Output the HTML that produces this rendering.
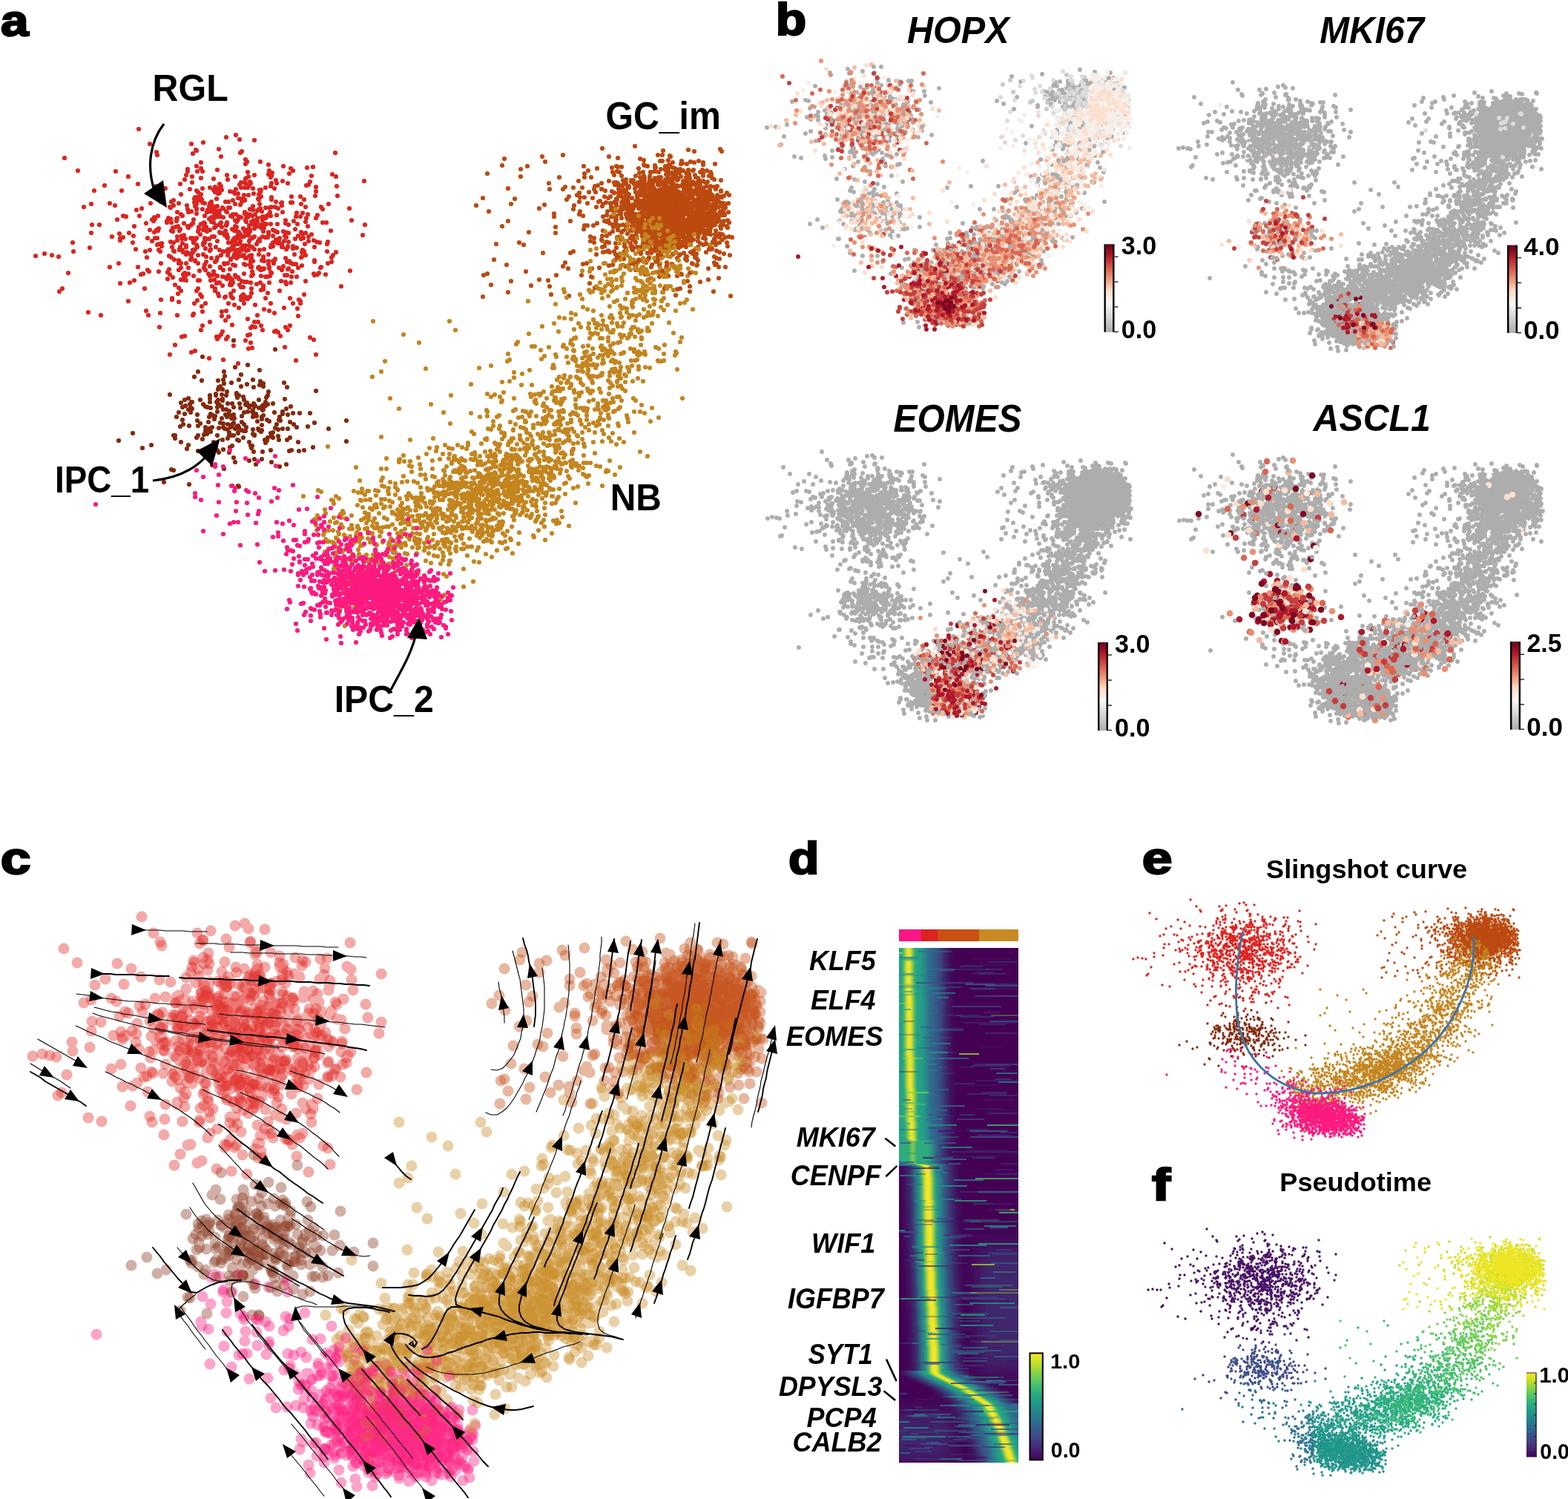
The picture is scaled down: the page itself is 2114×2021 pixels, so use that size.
<!DOCTYPE html><html><head><meta charset="utf-8"><title>Figure</title><style>html,body{margin:0;padding:0;background:#fff;width:2114px;height:2021px;overflow:hidden}svg{display:block}</style></head><body><svg width="2114" height="2021" viewBox="0 0 2114 2021"><g fill="none" stroke-linecap="round"><path stroke="#dc2420" stroke-width="6.2" d="M187 174zm131 8zm-13 3zm-103 9zm56 0zm16-2zm49-4zm20 1zm109 17zm-126-2zm-2 2zm-29-5zm-30 2zm-1-1zm-4 5zm-48 2zm-1-4zm-124 8zm184 6zm27-8zm33 4zm0 6zm2-3zm18 0zm71 7zm-8 1zm-19 4zm-3-3zm-10-3zm-15 9zm-4-3zm-1-8zm-28 10zm-41-3zm-20 2zm-2-4zm-5 4zm-1-7zm-12 7zm0-3zm-97 3zm-51-1zm68 8zm76 4zm2-6zm8 2zm12 2zm17 1zm18-5zm1 6zm10-4zm8 8zm6-5zm1-1zm3-2zm2 7zm6-9zm19-1zm3 4zm1-2zm6 6zm9 1zm9-10zm28 11zm2-8zm28-2zm5 3zm38 6zm-37 7zm-28 1zm-10-3zm-3 1zm-25-3zm-15 0zm-3 7zm-4-7zm-1 4zm-7 2zm-6 3zm-1 0zm-1 0zm-9-2zm-3-7zm-2 3zm-2 3zm0 0zm-3-6zm-1 6zm-1-7zm-4 7zm-2-4zm-5 6zm-8 3zm-11-2zm-1-5zm-2-3zm-1 6zm-2 4zm-2-2zm-1-4zm-2 4zm-5-3zm-10 1zm-8 3zm-6-11zm-3 9zm-13-7zm-20 6zm-13-3zm-24-3zm-22 9zm-23-7zm-14 7zm107 13zm10-8zm18 6zm1-2zm2 0zm2-7zm1 6zm2 0zm1-3zm1 7zm18-10zm2 9zm2-8zm0 1zm2-1zm18 10zm1-11zm2 2zm4 6zm0-6zm4 7zm3 0zm1-5zm1 6zm5-6zm7-2zm6 7zm1-6zm0 7zm2-10zm1 6zm14 4zm0-3zm27-1zm12 0zm5 4zm15-5zm1-6zm29 6zm16 17zm-28-6zm-8 7zm-2-3zm-21 0zm-6-4zm-12-2zm-2 0zm-12 4zm0-4zm-1 1zm-4 7zm-3-9zm-1 7zm-5 0zm-3 1zm-5 0zm-7 1zm-1-6zm-9 3zm-11-8zm-4 2zm-2 4zm-7-1zm-7 5zm-2 0zm0-8zm-4 0zm-3 9zm-1-1zm-7-2zm-1 0zm-3 2zm-3-3zm-1 4zm0-9zm-1 9zm-1-7zm-1 4zm-6-4zm-3 8zm0-9zm-5-3zm-3 12zm0-7zm0 6zm-2-3zm0-7zm-1 2zm-9 9zm-1-5zm-11-3zm-7 3zm-3-5zm-1 8zm-1-1zm-12-7zm-14 2zm-12 7zm-36-4zm-7-3zm-25 1zm-10 4zm53 12zm4 1zm14-9zm4 8zm20 2zm5-2zm26 3zm0-8zm5 3zm2 2zm8-5zm4-1zm7 3zm11 3zm3-5zm1-3zm3 2zm2 8zm3-8zm0 1zm0 6zm3-8zm1 5zm2 3zm1-4zm1-4zm0 7zm0-1zm1 2zm4 1zm4-8zm1 1zm5 5zm2 1zm1-3zm4 0zm4 3zm3 1zm5-5zm0-2zm2 2zm0 5zm1-4zm1 2zm0 2zm3-4zm0-7zm3 9zm1-8zm3 6zm3-5zm0 10zm2-12zm4 11zm0-8zm1 7zm2 0zm3 1zm2-3zm3-4zm1 5zm8-1zm8-4zm18 6zm1-5zm5 5zm3-5zm5 7zm2-5zm11 5zm2-4zm64 13zm-18-6zm-34 3zm-5 0zm-20 5zm-3-6zm-11 3zm-5-4zm-7 5zm-4-2zm0-4zm-11 5zm-9 0zm-6 0zm-1-8zm-1 8zm-3-5zm-2 6zm-5 2zm0-6zm-3 0zm-1 4zm-1-6zm-1 5zm-2-3zm-3 5zm-4-5zm-1-2zm-10-1zm-2 3zm0 7zm-2-1zm0-8zm-11 5zm0-2zm-1 4zm0-1zm-7-3zm-1 1zm-1 2zm-4 1zm-2 2zm-1-12zm-1 6zm-3-1zm-3-4zm-4 11zm-2-5zm-1-1zm-4 2zm-3 4zm-7-10zm-1 5zm-2 2zm-3 2zm-2 0zm-5-4zm-8 4zm-2-7zm0-3zm-1 11zm-6-6zm-1-5zm-3-1zm-2 4zm0 2zm-16-5zm-2 3zm-2-2zm-8 5zm-16 4zm-23-9zm-24 7zm-10 0zm-1 11zm38 1zm13-1zm6 4zm22-8zm6 3zm3-3zm2 1zm1-3zm17 3zm2 1zm0-5zm9 4zm1-2zm5 8zm6-10zm13 5zm1-3zm2 7zm4-6zm1-3zm2 2zm2 2zm0 1zm4-2zm6-3zm7 6zm1 1zm2-8zm2 8zm2 3zm1-6zm0 5zm2 0zm7-7zm3 2zm1 0zm3 1zm1 6zm1-2zm0-3zm2 3zm4-8zm2 4zm0 6zm2-8zm3 7zm0-2zm1-7zm1 4zm0-2zm6-2zm9-1zm3 5zm1-5zm6 6zm0 3zm6 2zm0-8zm2 1zm2 1zm2 1zm8-1zm3 1zm4 1zm9-5zm4 9zm4-5zm2 3zm4-2zm8 2zm26-5zm43 6zm-47 9zm-1 3zm-10-2zm-4-1zm-4-2zm-7-5zm0 6zm-5 4zm-2-8zm-3 1zm-8 0zm-9 4zm-3-6zm-2-2zm-1 7zm-3 4zm-3-8zm-1 4zm0 2zm-1 1zm-2-1zm-1-4zm-4 4zm-2 3zm-5-10zm-3 0zm-4-1zm-4 6zm0-3zm-2 3zm-2 4zm-3-10zm-2 1zm-1 1zm-3 2zm-1 2zm-8-6zm-3-1zm0 1zm-1 6zm-1-6zm0 8zm-1-6zm-1 8zm-1-11zm-1 11zm-2-5zm-1-3zm-2 3zm-2 3zm-4 0zm-1-6zm0-1zm-1 0zm-13 5zm-4-6zm-3 0zm-3 11zm-1-8zm-3 0zm-3-1zm0 3zm0 3zm-1 0zm-1 1zm-9-7zm-2 2zm-2 3zm0 1zm-1-6zm0 2zm-3-2zm-7 1zm-4 6zm-1-10zm0 4zm-6-3zm0 5zm-5 3zm-4-1zm-12 2zm-2 1zm-2 0zm-2-8zm-3 0zm-4 4zm-6-4zm-20 6zm-13-7zm-4 1zm0 3zm-11-5zm-53 8zm-38 15zm39-3zm22-5zm62 2zm13 3zm6-2zm10-7zm2 7zm2 2zm2-7zm14 1zm2 5zm1 1zm7-2zm0-1zm1-3zm3 4zm1 3zm4-9zm0 2zm1 7zm4 2zm4-5zm0 3zm1-1zm2-3zm2-6zm1 3zm8-3zm3 5zm6 3zm1-2zm7-3zm5 4zm5 2zm1 0zm5-2zm1 3zm0-4zm2 1zm2-1zm1-3zm2-3zm0 4zm2 4zm0-1zm3 5zm1-5zm2 2zm2-4zm1 2zm1-6zm3 3zm1-3zm0 0zm1 7zm3-1zm1-6zm4 2zm3 3zm7 1zm6-1zm9-3zm3-1zm12 1zm0-2zm1 2zm5 3zm2-4zm0 1zm7 2zm0-3zm5 2zm7 6zm1-3zm2 2zm14-6zm17 6zm12 1zm-4 4zm-2 9zm0-6zm-23 4zm0 2zm-12-9zm-5 2zm-1 1zm-9-4zm-6 11zm-1-2zm-3 1zm-2-5zm-14 1zm-1 2zm-2 1zm-6 0zm0-9zm-6 9zm-1-4zm0-2zm-2 5zm-4-8zm-8 9zm-2-8zm0 4zm-1 3zm0 2zm-2-8zm-4 3zm-1 0zm-2-4zm-2 0zm-1 1zm-5 1zm0-2zm-2 4zm0-1zm-3-4zm-1 3zm-4 4zm0-1zm-4-5zm-9 0zm-5 3zm-1 4zm-2 2zm-5-5zm-7 5zm0-7zm-4-3zm-7 1zm-4 8zm0-1zm-5-8zm0 4zm-1 3zm-6-7zm-9 10zm-1-2zm-6-1zm-4-3zm-3-2zm-30 2zm-119-1zm-9-2zm-22 1zm100 15zm12-5zm26 5zm13 4zm2 2zm13 0zm3-11zm11 8zm13-8zm0 9zm3-9zm0 6zm7-6zm3 6zm13-6zm2 10zm6-4zm1-4zm1 7zm6-5zm5 7zm9-5zm0-1zm4 4zm1-9zm1 1zm4-1zm3 8zm4-6zm3 1zm12-2zm2 1zm6 0zm1 3zm1 0zm0-1zm9 2zm1-1zm1 3zm0-2zm2 3zm3-1zm0-1zm1 0zm6-6zm1 4zm0 2zm6-7zm7 6zm4 3zm2-5zm6 4zm1-1zm4-7zm1 11zm1-10zm4 0zm3 5zm5-3zm25 3zm1-1zm9-5zm30 10zm-33 5zm-9-2zm-2 2zm-4 1zm-1-2zm-23 4zm-7 0zm-6-2zm-3 0zm-18-3zm-1-1zm-1 5zm-3 1zm-3 0zm-6-1zm-11-2zm-1-4zm-1 6zm-10-3zm-7 7zm-1-2zm-3-1zm-1-2zm-4 6zm-2-2zm-2 0zm-1-4zm-1 4zm-1-1zm0 0zm0 2zm-2-2zm-4-1zm-7-1zm-4-2zm0 7zm-3-6zm-3 1zm-2-3zm-14 9zm-6-6zm-7-3zm-4 3zm-1-4zm-1 4zm-1-2zm0 7zm-3 0zm-11-3zm-4-4zm-3-3zm0 9zm-33-7zm-3 1zm-9 8zm-89-10zm-8 21zm78-7zm13-1zm20 8zm41-5zm5 4zm10-10zm16 11zm2-11zm15 0zm2 8zm4 3zm2-7zm2-1zm2 0zm4 4zm10-1zm1-3zm1 3zm0-5zm2 2zm9 3zm2 3zm0 0zm1-8zm2 8zm1-7zm1 0zm3 0zm5 1zm1 8zm7-6zm5-2zm4 6zm0-2zm0 5zm8-9zm16-2zm6 1zm1 3zm6-2zm20-2zm48 7zm-50 11zm-33-5zm-16 3zm-3 7zm-6-11zm-13 4zm-2 5zm-6 0zm-3-3zm-2 2zm-1 1zm-10-8zm-1 10zm-2-2zm-1-4zm-7 4zm-1 1zm-8-2zm-1-3zm-4-4zm-18 8zm-2-3zm-5-5zm-21 0zm-4 4zm-8 6zm-152-9zm93 13zm44-2zm15 0zm9 3zm21 2zm4-4zm6 8zm5-4zm31 0zm8 2zm9-7zm4-1zm0 6zm0 0zm5-6zm10 8zm21-2zm26-7zm4 7zm8-5zm2 5zm0-3zm-3 20zm-1-10zm-18-1zm-13 7zm-7-3zm-7-2zm-9 8zm-25-10zm-17 4zm-6 1zm-26 0zm-12 3zm-1 2zm-21 0zm-23-3zm-16 3zm-3-6zm-61 6zm-17-4zm164 13zm16-8zm5 6zm4-5zm5 11zm21-8zm9 4zm5 0zm43 5zm-3 6zm-3-4zm-10 7zm-3-2zm-2 1zm-16-2zm-2-6zm-8 2zm-4-1zm-2 2zm-38 5zm-27-8zm-2 6zm-56-4zm30 13zm4-1zm43 1zm1 3zm2-3zm3-3zm7 6zm2-3zm24 5zm3-7zm3-1zm1 11zm40-9zm40 2zm5 3zm-39 10zm-44 1zm-5 1zm-20-4zm-52 7zm-27-8zm-7 13zm29-3zm24 8zm19 2zm125-7zm-27 8zm-78 4z"/><path stroke="#84290d" stroke-width="6.2" d="M315 459zm56 12zm-98 10zm61 11zm-17 3zm-55 13zm5-7zm35 0zm1 6zm22-2zm25-6zm37 23zm-4-6zm-28 5zm0-4zm-3 2zm-1-5zm-1 5zm-8 3zm-1-10zm-8 6zm-8 3zm-3-9zm-10 4zm-10 1zm-1-5zm-4 9zm-3-8zm-22 0zm-43 19zm54 1zm8 0zm0-2zm3-6zm1-3zm4 10zm1-7zm5 8zm1-5zm13 4zm0-2zm3 3zm39 0zm1-5zm64-1zm-42 11zm-16 6zm-7 1zm-2-9zm-1 6zm-9-3zm-7 5zm-9-1zm-2 2zm-2-6zm-1-4zm-5 9zm-3-8zm-7 8zm-6 0zm-7-4zm0-2zm-5 7zm0 0zm-1-6zm0 6zm-2-3zm-9 0zm0-5zm-9 8zm0 0zm-4-6zm-11 3zm-1 0zm-2 3zm-2-8zm-5 2zm-5 4zm-3 13zm5-7zm4-2zm4 5zm3 4zm0-7zm2 2zm18-3zm3 1zm4 1zm9-1zm0 6zm6-7zm2 4zm4 0zm3 6zm1-4zm6-5zm9 1zm5 6zm3-10zm2 9zm2-6zm1-2zm3 8zm1-2zm0 3zm1 2zm1-10zm1-1zm1 11zm4-8zm4-2zm1 5zm1-1zm0-6zm3 1zm12 9zm11-1zm0 3zm5-7zm6-3zm3 9zm9 0zm14 0zm49 10zm-43 3zm-33-1zm-3-10zm-10 8zm-1-5zm-1 4zm-13 2zm-3-2zm-5-6zm-2 5zm0-3zm-6 6zm-1-7zm-5 1zm-15-1zm0 8zm-10-5zm-1-5zm-3 5zm0-4zm-6 2zm-2-3zm0 0zm-5 5zm-2 6zm-7-9zm-1 4zm-2-5zm-3-2zm0 0zm-2 4zm-1 7zm-15-2zm0-8zm-17-1zm-3 8zm-8-4zm5 13zm4-3zm8 2zm12 0zm3-3zm7 5zm0 5zm4-2zm1-1zm2-1zm2-1zm9 1zm6-6zm0 5zm2 2zm4-6zm0 7zm4-3zm1-1zm1-3zm2-2zm2 8zm2-3zm2-1zm1 2zm0 1zm4 3zm3 1zm0-9zm2 9zm1-5zm9 3zm7-1zm1 2zm3 2zm1-9zm0 7zm18-3zm2-5zm2 7zm6-1zm7 0zm8-6zm4 4zm15-1zm28 3zm-52 12zm-4 3zm-11 0zm-1-5zm-7 2zm0-7zm-1 6zm-1-2zm-1-3zm-4 6zm-1 4zm-3-1zm-14-7zm0 1zm-2-2zm-13 5zm-6 4zm-1-10zm0-1zm-1 10zm-5-6zm-3 0zm-3-4zm0 4zm0-3zm-2 7zm-7 2zm-7-6zm-9-5zm-5 3zm-4 1zm-2 6zm-6-5zm-2 3zm-29-3zm0 4zm-2-4zm-55-3zm-19 10zm32 10zm12-4zm40-4zm8 9zm2-5zm34-4zm3 6zm10 4zm9-3zm3-2zm23-5zm2 5zm1 2zm0 1zm1-3zm18-4zm44-1zm20 7zm45-8zm-57 12zm-7 1zm-10-1zm-3 1zm-25-1zm-11 2zm-12 0zm-27 8zm-6-7zm-8-4zm0 0zm-6 4zm-2-3zm-8 6zm-1-6zm-17 1zm19 19zm31-4zm19-2zm7-2zm2 7zm8-7zm13 4zm11 6zm9-3zm-84 6zm-68 2zm-3-1zm-10 17zm34 3zm67 3zm-1-1zm-8 0z"/><path stroke="#bc4a10" stroke-width="6.2" d="M856 197zm115 4zm-84 8zm-75-9zm9 11zm42 3zm30 3zm10-7zm1 1zm16 9zm16-1zm12 3zm5 8zm-5 4zm-1-5zm-3 3zm-9-3zm-1 1zm-6 3zm-7-3zm0 0zm-4-2zm-1 5zm-5-3zm0-2zm-1-1zm-3-1zm-1 8zm-4-12zm-1 4zm-4 2zm0-4zm0 1zm0 3zm0 1zm-20 3zm-4-8zm-4-1zm-31 2zm-3 7zm-10-6zm-38-2zm-85 4zm-45 6zm45 4zm78 6zm8-10zm40 2zm10 1zm2 6zm4-1zm7 1zm0 2zm3-2zm14-6zm1 3zm0 3zm7-1zm4 3zm7 1zm8-1zm3-10zm1 11zm1-9zm0 6zm4-1zm3 0zm3-7zm2 4zm1 4zm1-1zm4-4zm11-1zm1 3zm4 5zm7-5zm1 2zm6 2zm3 2zm8-11zm1 5zm12 3zm-5 8zm-9 0zm-5 0zm-9 6zm-4-11zm-1 11zm0-2zm-7 2zm-1-2zm-1-4zm0 2zm0 2zm-2-3zm-2 4zm0-2zm-1-2zm-1-5zm-10 11zm-1-8zm-2 4zm-1 1zm-3-3zm0-5zm-2 8zm-2-2zm-2 2zm-3-4zm-1 3zm0 3zm-1 0zm0-5zm-1 0zm-2 3zm0 2zm-6-8zm-2 8zm-3-3zm-1 3zm-1-6zm-2 6zm0-7zm-1 1zm-1 3zm-1-8zm-1 10zm-1-7zm-3 5zm-2-4zm-2 3zm0 5zm-1-6zm0-4zm-5 0zm-4 6zm-16 1zm-2-5zm-3 8zm-1-8zm-5-1zm-1-3zm-12 11zm-5-2zm0-8zm-9 4zm-17 2zm-12 0zm-11-1zm-3 3zm-18 0zm-56-1zm9 14zm73-3zm11-2zm3-3zm1 6zm6 0zm6-7zm26 8zm8-7zm4 9zm2-5zm0-4zm4 5zm0-5zm2-1zm1 9zm2 0zm2-8zm3 2zm9-3zm1 1zm1 6zm3-4zm1 1zm2 0zm2-2zm0 1zm1 7zm2-5zm2 0zm0 0zm2 0zm0 4zm0-1zm1 2zm0-3zm1-6zm2 5zm1-6zm2 10zm3-2zm1-7zm0 6zm2-3zm1-4zm1 10zm0-11zm1 2zm1 1zm0 3zm1-1zm0-3zm0 9zm2-9zm3 8zm0-2zm0-4zm2 2zm1-5zm2 4zm0 0zm1 5zm2 2zm1-11zm0 3zm0-3zm1 5zm0-3zm0 9zm2-4zm1 0zm0-1zm0-6zm0 10zm1 0zm0-10zm0 10zm0-2zm2 0zm1-6zm0 4zm0-7zm1 1zm3 8zm0-5zm1 4zm2-4zm0 7zm1-5zm1-3zm1-3zm0 11zm1-11zm2 10zm1 1zm1-5zm6-5zm0 0zm5 10zm0-7zm1 6zm1-5zm1 4zm1-5zm0 3zm1-3zm3 2zm2-5zm2 2zm1 4zm1-4zm0-1zm4 1zm0 1zm1 3zm1 4zm6-1zm2 0zm3-3zm1-7zm4 6zm7-1zm-1 11zm-4 2zm-2-2zm-2 0zm0 1zm-3-2zm-2 6zm-1-7zm-3 4zm0 2zm-1 2zm-3 0zm-5-2zm-1-4zm-4 5zm-1 1zm-1-8zm-1 7zm-2-6zm0 2zm-3-3zm-2 4zm0 3zm-5-1zm0 1zm-1-4zm-1-2zm-1 7zm0-1zm-1-1zm-1-2zm-3-1zm-1 5zm0 2zm-1-5zm-1 0zm-1-1zm0-3zm0 9zm0 0zm-3-11zm-2 10zm-3-6zm-1 5zm-1-2zm-3-5zm0 4zm0-4zm-4 5zm0 1zm0-8zm-3 7zm0-8zm0 8zm0 3zm-1-6zm0 2zm0-2zm-1 6zm-1-3zm-1-7zm0 1zm0 2zm-1 4zm-1-8zm-3 7zm-1 3zm-1-2zm-1-2zm0-2zm0-3zm-1 4zm-1 5zm0 2zm0-2zm-1-1zm-2-2zm0 3zm0-2zm-1-7zm-3 8zm-1-7zm-1 9zm0-1zm0-9zm0 11zm-1-6zm-1 3zm-1-1zm0 0zm0 2zm-1-6zm0 7zm0-7zm-1-2zm-1 3zm-5 5zm0-5zm0 3zm-1-4zm-2 0zm-1-2zm-2 2zm-1 6zm0 0zm-1-5zm0 4zm-1 2zm-5-4zm-2 4zm-1-5zm-3 2zm-3-6zm-1 7zm-1 1zm-1 0zm0-9zm0 6zm-4-6zm-1 7zm-8-1zm-3-4zm-2 8zm-3-7zm-10 1zm-1 3zm-8 1zm-12-5zm-11-2zm-47 4zm-7 5zm-38-6zm58 13zm34 1zm32 3zm5-2zm1-5zm5-2zm2 8zm1-7zm3-2zm7 7zm0-2zm7 1zm2-5zm2 3zm1 4zm2 3zm1-7zm4 4zm2-1zm3 3zm2-2zm5-6zm0-2zm2 9zm1-7zm0 3zm1 6zm2-3zm1-3zm0 5zm1-1zm0-6zm0-1zm0 9zm2-2zm1-3zm0-3zm1-2zm1 8zm1-5zm0 2zm1 5zm0-5zm0 3zm1-3zm1 3zm1-5zm0 5zm1-6zm0 3zm0 2zm2-4zm0 6zm1-5zm0 3zm1-8zm0 0zm0 5zm0 5zm0 0zm0 0zm1 0zm0 2zm1-10zm0 1zm1 8zm0-9zm0-1zm0 3zm0 3zm1 3zm0-10zm1 11zm1-6zm1-5zm0 4zm0 3zm0-2zm0-2zm1 8zm0-7zm0 3zm1-6zm0 1zm0 5zm1-2zm0 1zm1 6zm0-2zm3-5zm1 6zm1-1zm0-6zm1 3zm0 1zm1-5zm1 1zm0 6zm1-10zm2 11zm0-1zm3-8zm0-1zm2 8zm1-6zm1 1zm0 0zm0 3zm1-6zm1 0zm1 3zm1 0zm2-1zm2 4zm0-7zm1 6zm1 0zm1-6zm0 4zm0 0zm0 1zm1-3zm2 9zm3 0zm3-7zm0 5zm0-8zm5 5zm0-2zm0-1zm3 6zm0-7zm0 0zm1 9zm1 1zm1-2zm4-3zm1 2zm3 0zm2-5zm2 7zm1-3zm2-1zm2 2zm1 1zm2-7zm0 1zm3-1zm1 0zm1 13zm-1 5zm-1 0zm-2-4zm-3-3zm-5 7zm-4-9zm-2 6zm-2 4zm-3-9zm-4 3zm-1-1zm-1-2zm-1-1zm0 2zm0 3zm-1 6zm-1-8zm0 1zm-1 6zm-1-5zm-1 4zm-1-8zm-1 8zm-1-6zm-1 2zm-4 6zm-2-3zm-2-2zm0 2zm0 3zm0-11zm-2 2zm-1 9zm-1-7zm0 2zm0-1zm0-1zm-4 3zm0 1zm-1-4zm-1-4zm0 0zm-1 6zm0 4zm0-6zm-1 3zm0-6zm-1 5zm-1-2zm0-2zm0-1zm0 11zm0-7zm-1 4zm-2-7zm-1 5zm-1-6zm-1 9zm0-2zm-1-8zm-1 9zm0-9zm-1 10zm0-3zm-1 3zm0-6zm-1-1zm0 6zm-2-2zm0-2zm-1-3zm-2 6zm-1-7zm-1 9zm0-9zm-1 6zm-1 0zm-1-3zm0 3zm0-5zm-2 5zm0-4zm-3 2zm0-3zm-1 1zm0-2zm0 2zm-1 2zm-1 2zm0-6zm0 5zm-1 3zm-1-6zm-2-2zm0 7zm-1-3zm-2 5zm0-9zm-1 6zm-1-3zm0-4zm-1 10zm-3-9zm-3 10zm-2-3zm-2-7zm-2 2zm0 4zm-3-1zm0-2zm-1 1zm0-2zm-2 8zm-2-2zm-1-8zm-2 2zm0 4zm-7 1zm0 1zm-13 2zm-2-9zm-1 9zm-3 1zm-7-9zm-2 2zm-3-1zm-10 3zm-5 3zm-8 0zm-23-6zm-84 0zm-8 7zm72 1zm0 8zm64-3zm9 4zm4-3zm0 0zm7-3zm5 4zm2-2zm4-4zm6 4zm2 7zm6-5zm1-3zm2 1zm0 0zm3 0zm1 3zm0-7zm2 2zm1 2zm1 4zm2-1zm3 2zm1-1zm1 0zm1-4zm0-1zm1 5zm0 2zm4-5zm5-5zm0 8zm2-7zm2 4zm1 1zm1 4zm3-10zm0 8zm1-7zm1 6zm2 2zm0-8zm1 6zm0-7zm1 0zm1 3zm2 0zm0-2zm0 5zm1-3zm2 4zm1-5zm1 6zm0-2zm1 4zm1-2zm0-4zm1 5zm3-6zm0-2zm1-1zm1 3zm1-2zm0 0zm2 9zm0 0zm0-9zm1 0zm3 1zm2 3zm0-3zm1 2zm4 5zm0-5zm1 1zm1-4zm0 2zm2 2zm2-4zm1 5zm0 1zm3-3zm0 5zm4-5zm3 3zm3-3zm5 1zm1-4zm7 3zm5 4zm2-7zm9-1zm2 12zm-9 4zm-4-3zm-6 4zm-13 5zm-3 1zm-4-2zm-3-3zm0-5zm-9 0zm-3 3zm0-5zm-4 7zm0 3zm-1-5zm0-5zm0 3zm-1 4zm-1-7zm-1 11zm-1-2zm-1-8zm-3 1zm-1 2zm0 0zm-2 7zm-1-7zm-1-2zm-2 0zm-1 8zm-1-10zm-1 5zm0 0zm-1 2zm-1-4zm-3 4zm-6 4zm-3-3zm-5-1zm-1 1zm-2 2zm0-5zm-5 6zm-2-3zm-1 1zm-7-8zm-2 9zm0-4zm-1-5zm-9 8zm-4-4zm-8 2zm-3 3zm-24-2zm0-8zm-2 9zm-15 0zm-5-8zm0 6zm-90 5zm-6-3zm32 14zm41-2zm39-6zm8 5zm22 1zm17-6zm3 6zm1-6zm11-2zm2 9zm1-5zm1 6zm4-4zm1 1zm1-7zm5 1zm6 6zm1-3zm3 1zm2-1zm1-3zm4 2zm5 6zm2-9zm3 2zm1-1zm5 9zm9-1zm0-10zm7 5zm1 7zm2-9zm11 7zm4-4zm1-5zm1 0zm2 4zm24 9zm-8-2zm-6 7zm-7-3zm-38 0zm-8-3zm-29 11zm-1-5zm-2-1zm-1 5zm-9-5zm0-1zm-2 4zm0-1zm-2 4zm-4-2zm-26-3zm-175 1zm17 7zm108-2zm7 7zm10-1zm13-3zm22 1zm12-3zm2 8zm8-2zm6 2zm8-7zm19 4zm3 2zm13-2zm50-4zm2-1zm3 4zm0 15zm-50-5zm-1-1zm-5 3zm-17-4zm-4-1zm-3 6zm-1-6zm-18 3zm-181 9zm27 6zm23-7zm56 4zm7 6zm111 2zm4-1zm45 4zm-51 5zm-226-4z"/><path stroke="#c4851f" stroke-width="6.2" d="M869 288zm16 4zm6 11zm-5 0zm-5-3zm-4 4zm-5 1zm0 0zm-16-1zm-24-1zm-2 1zm-14 8zm65 2zm8-1zm12 2zm0-8zm0 2zm13 7zm8-5zm3 6zm33 13zm-50-8zm-4-3zm-9 9zm-4-6zm0-3zm-5-1zm-4 12zm-2-10zm-1 8zm-2-8zm-27 1zm-13-2zm0 4zm-2-4zm-23 6zm-16 12zm8-2zm46-3zm2 4zm5 6zm26-11zm2 3zm11 5zm11-6zm0 9zm0-9zm31 2zm-24 15zm-11-4zm-3-1zm-6 1zm-2 2zm-5-5zm-3 10zm-12-1zm-7-1zm0 0zm-4-1zm0 0zm-1 4zm-1-2zm-5-2zm-4 4zm-1-7zm-4-3zm-3-1zm-5 5zm-1 2zm-22 5zm2 0zm12 10zm3 0zm5-3zm1-4zm3-1zm7 1zm1 0zm2 6zm16-4zm0 4zm24-9zm8 6zm7-5zm3 2zm1 3zm1-2zm2 7zm2-2zm3-6zm17-2zm5 2zm-6 9zm-6 5zm-37-4zm-12 7zm-4-5zm-2-1zm-5-2zm-3 2zm-5 9zm-31-11zm-9 9zm-20-2zm-4-8zm30 13zm0 6zm6 3zm1-1zm7-8zm38 3zm0 7zm5-3zm0 3zm8-4zm7 1zm25-5zm-14 10zm-14 3zm-11-2zm-1 2zm-2 1zm-8-3zm-3 10zm-2-7zm-4-3zm0-1zm-3 1zm-1-1zm-1 1zm-3 2zm-9 1zm-20-4zm-13 0zm-1 11zm-1-7zm-17-4zm-12 6zm-21-3zm-49 12zm74 8zm42-7zm8 5zm7-9zm9 4zm1 7zm4-11zm15 3zm4 7zm5-10zm2 1zm9 1zm8 6zm17-2zm17 8zm-39 1zm-8 8zm-6-6zm-1 4zm-4 1zm-8-8zm-10 9zm-9-1zm-4-4zm0-5zm-9 6zm-66 0zm-164 11zm141 3zm14-7zm9 1zm10 6zm14 0zm6-5zm13 7zm13-9zm11-1zm1-1zm3 8zm16-3zm22 4zm23-1zm6 14zm-33-3zm-15 0zm0-2zm-9 6zm-18-10zm-15 0zm-7 4zm-4-6zm-1 12zm-10-1zm-65-9zm-117 5zm156 14zm4-3zm2 0zm19 0zm3-5zm11 5zm11-1zm18 0zm18-1zm9 3zm0-2zm31 10zm-12 3zm-29 3zm-36 2zm-4-3zm-3 0zm-2-2zm-11 2zm-6-4zm-2 8zm-5-7zm-13 5zm-4-9zm-5 7zm-4-5zm-1 2zm-19 1zm-23-1zm-21-3zm-9 21zm62-7zm1 3zm22 3zm1-3zm3 3zm0 1zm19-2zm0-3zm5-3zm17-1zm3 4zm1-4zm38 9zm5-8zm5-3zm0 2zm1 2zm43 20zm-21-11zm-5-1zm-17 9zm-24 0zm-17-6zm-5-2zm-12 3zm-7 2zm-2 4zm-18-1zm-9-8zm-30 5zm-1 4zm-99 0zm-72 1zm119 12zm11-5zm10-5zm40 9zm6 2zm1-4zm18-6zm0 10zm5-10zm2 1zm7-1zm2 9zm5-2zm11-1zm0-2zm11 3zm11 0zm0-6zm2 4zm1-5zm12-2zm12 12zm-7 4zm-21 1zm0-1zm-6 6zm-3-4zm-3-3zm-22 0zm-15 3zm-1-5zm-12 7zm-4-5zm-2 3zm-8 0zm-39 3zm-14 0zm-16-5zm-10 1zm-69 18zm59-1zm48-1zm6 1zm8-1zm4-3zm11 3zm1-3zm3-1zm7 0zm0-3zm4 0zm9-1zm6 3zm6 4zm1 4zm11-10zm2 3zm14-3zm2 5zm11 2zm18-7zm4 3zm77 10zm-55 9zm-8-6zm-3-3zm-16 3zm-3-5zm-3 0zm-5 7zm-8 3zm-6-5zm-7 4zm-6-5zm-24-1zm-15-1zm-3 4zm-2 4zm-7-7zm-1-2zm-1 4zm-31-5zm-23 2zm-17 5zm-95 3zm-43 6zm60 5zm58-3zm39-1zm21 3zm41-1zm3 1zm12 1zm4 1zm12-7zm4 1zm10 1zm4-5zm4 10zm3-8zm5 0zm2 1zm7 5zm9-6zm19 6zm22 13zm-31-4zm-1-4zm-24 4zm-7 2zm-5-3zm-9 7zm-9-10zm-9 7zm-12 2zm0-3zm-1-7zm-15 2zm-2 7zm-8-6zm-4-3zm-4 5zm0-2zm-13-1zm-9-3zm-5 11zm-1-2zm0 2zm-20 0zm-15-9zm-3 2zm-23 0zm-40 9zm29 11zm29-8zm8 4zm19 1zm3-7zm11 5zm13-4zm7-2zm23-1zm1 2zm3 6zm1 2zm6 2zm5-11zm1 8zm5-1zm3 4zm15-6zm5-4zm10 2zm4-2zm4 8zm8-6zm35 9zm-34 7zm-36-7zm0 9zm-7-5zm-11 1zm-1 4zm-18-6zm-5 1zm-2 6zm-1-1zm-2-2zm-4 0zm-2-7zm-3 8zm-15-6zm-3 7zm-19-1zm-2 0zm-10-7zm-24 7zm0 2zm-103 0zm-39-4zm65 15zm10-1zm11-3zm5 4zm26-4zm0-3zm18 1zm18-1zm1 1zm1 1zm3 4zm2-4zm11 1zm1-3zm1-2zm3 10zm4 1zm7 0zm6-1zm6-1zm8 1zm20-5zm6 0zm1 2zm5-2zm9-5zm17 2zm8 1zm25-3zm12 0zm39 14zm-76 5zm-15-7zm-1 5zm-9 1zm-2 4zm-2-6zm-5 7zm-3-10zm-17 1zm-6 0zm-3 8zm-2-5zm-27 4zm-1-2zm-1 3zm-1-2zm-2-1zm-2 0zm0 1zm-5-3zm-1 2zm-8-5zm-4-3zm-2 8zm-3 2zm-6 0zm-2-1zm-17-2zm-27 2zm-1 1zm-24-8zm-44 6zm-23 4zm17 2zm0 3zm7-1zm8 0zm2 7zm11-3zm27-7zm16 6zm0-2zm13 5zm2-8zm3 1zm8-2zm0 0zm3 1zm6 2zm1 1zm3-1zm2 5zm14-4zm0 1zm4-4zm1 2zm0 7zm9-7zm1 6zm0-8zm3-1zm0 0zm3 6zm2 1zm1-4zm1 1zm0 6zm0-8zm8 0zm1 5zm1-1zm2-7zm3 4zm8 6zm2-6zm13 1zm10-5zm3 4zm3-2zm5 10zm2-2zm7-2zm5-2zm7-2zm8 6zm4 0zm6-4zm9 0zm8 4zm5 1zm13-8zm14 9zm-7 10zm-12-4zm-28 5zm-3-10zm0 8zm-22-4zm-9 3zm-4-6zm-5 9zm-2 1zm-2-11zm-2 8zm-4-3zm-1-4zm-2 3zm-4 1zm-5-4zm-1 5zm0-5zm-2 2zm-3 4zm-3-4zm-1-1zm-15 3zm0-3zm-6 9zm0-10zm-4 2zm-2-3zm-1 6zm-4-6zm-2 1zm-3 5zm-1-1zm-2-3zm-6 5zm-6-7zm-1 9zm-3 0zm0-8zm0 2zm-3-1zm-8 6zm-17-2zm-2 0zm-1-4zm-11 2zm-5 1zm-11 5zm-1-6zm-26 5zm-6 0zm-12-4zm-41-4zm-34-2zm36 14zm26 6zm7-1zm9 0zm5 2zm20-9zm3 1zm5 6zm7 4zm0-2zm0-3zm2 2zm4 2zm4 0zm1-2zm6 1zm20 0zm2-7zm3 8zm7-2zm0 4zm2-10zm0 6zm3-5zm1-1zm3 0zm0 2zm1-3zm2 9zm1-6zm2 5zm1-5zm3-2zm1 1zm2 8zm2-6zm3 5zm5 0zm1-1zm2-4zm3-1zm0 3zm4 3zm2 1zm0-10zm5 6zm0 2zm0-5zm3 5zm1-9zm0 7zm2 1zm4-1zm4 1zm7-7zm1 5zm1-1zm4-3zm1 5zm6-7zm2 2zm0 2zm15-3zm14 9zm7-7zm23-2zm21 12zm-58 4zm-11 1zm-2-1zm0-1zm-4 6zm0-10zm-6 0zm-3 5zm-2 3zm-2-2zm-3-3zm-2 5zm-5-4zm0 4zm-4 0zm-3 3zm-1-3zm-1-2zm-6-1zm-3-3zm-1 4zm-1-2zm-3 7zm0-5zm-1-6zm-1 1zm-1 0zm-2 8zm0 1zm-6 0zm-1-9zm-2 2zm0-2zm-7 6zm-1 2zm0 0zm-5-7zm-2 5zm-1 4zm-1-2zm-3 1zm-1-1zm0-6zm0 6zm-4-3zm0-2zm-2 1zm-1 2zm-1-5zm-2 3zm-1-4zm-6 7zm-3-3zm-3-2zm-9-3zm-8 5zm-1-4zm-1 9zm-1-5zm-2-4zm-1 10zm-2-7zm-7 5zm-3 0zm0-7zm-6-1zm-2 9zm-5 0zm-1-4zm-17-3zm-34 0zm-9 1zm0 8zm-6-10zm-3-1zm0 0zm-5 7zm-13 0zm-9-3zm-11 3zm-44 1zm-4-2zm-20 8zm38 5zm40 1zm5-8zm1 7zm6 0zm15-1zm15 4zm4-10zm6 5zm9-3zm5-1zm7 3zm1 3zm1-3zm1 4zm6 0zm16 1zm10-10zm2 8zm2-8zm11 9zm6-9zm0 5zm7 1zm0 0zm3 4zm2-4zm4 6zm0-6zm0-3zm2 6zm2-4zm1-3zm4 3zm1-3zm4 5zm12-6zm2 10zm10-3zm0-1zm0 3zm1-3zm1 0zm1 0zm6 2zm2-7zm2-1zm0 0zm6 1zm1 0zm0 9zm2-11zm1 9zm1-2zm1 2zm3-5zm1 6zm1-6zm1 6zm2-5zm0-3zm6 9zm7-1zm2-3zm5 2zm3-8zm5 5zm13-3zm1 0zm31 9zm-41 0zm-12 5zm-1-3zm-15 4zm-2-1zm-9 5zm-2 1zm-6-10zm-3 2zm0-1zm-1 5zm-1-7zm0 1zm0 6zm-1-3zm-5 0zm-1 0zm-9 5zm-2-7zm-2 6zm0-5zm-1 6zm-5-5zm-2 0zm-1 5zm0 2zm-1-2zm0-9zm-6 4zm-1-3zm0 8zm-1-2zm-2 3zm-7-3zm-1-5zm-2 1zm-2 2zm-10-4zm-3-1zm-3 3zm0-3zm-2 6zm-1-3zm-3-1zm-2 0zm-1 1zm-13 6zm0-1zm-1 1zm-3 0zm-1-1zm-4 3zm-4-11zm-5 5zm-9 0zm-2-3zm-3 2zm-1 6zm-10-4zm-10-2zm-2 7zm-9 1zm-3-7zm-7 0zm-5-4zm-9 2zm0 3zm-6 1zm-10-1zm-39-5zm-12 8zm-11 13zm23-2zm10 0zm0-1zm14-2zm13 6zm4-2zm1-8zm5 6zm0 4zm0-8zm8 6zm17 1zm9-8zm5 8zm2-8zm3 4zm1 2zm1-7zm6 2zm3 4zm4-1zm7-1zm1 6zm1-2zm6-4zm10 2zm1 0zm3-3zm3-3zm1 4zm6-3zm0 1zm2 6zm0-3zm1 2zm0-5zm11-2zm5 4zm11-3zm0 5zm1 1zm5-3zm0-3zm2-1zm3 7zm1-7zm8 1zm2 7zm8 3zm0-10zm1-2zm1 1zm0 0zm2 2zm1 8zm4-3zm4 1zm11-7zm12 4zm2-1zm2-3zm28 9zm2-4zm8 4zm18 0zm7-4zm9 12zm-13-4zm-4 1zm-20-1zm-8-2zm-47 3zm-3 8zm-8-1zm-1-2zm-4 0zm-8-3zm-1 5zm-6-10zm-2 3zm-1 6zm-5-3zm-5-5zm-1-1zm-1 7zm-6-7zm-5 3zm-2 4zm-4-7zm0 0zm0 10zm-2-3zm-7 2zm-1-9zm-5 7zm-4 3zm-9-2zm-1-2zm-11-6zm-2 7zm-3 2zm0-7zm-9-3zm-6 5zm-2 0zm-4 6zm-4-8zm-18 5zm-3 0zm-5 1zm-7 1zm-1-6zm-6 3zm0 0zm-8-4zm-2 8zm-8 0zm-2-4zm-7 4zm-4 0zm-9-2zm-2-4zm-8-2zm-26 3zm1 7zm10 2zm0 1zm1-2zm5-1zm6 0zm8 5zm7 1zm1 2zm15-1zm1-4zm15-1zm0 9zm0-7zm16 4zm2-6zm13 9zm14-10zm0 8zm8-1zm0-2zm13-2zm23 1zm15-1zm5-5zm3 4zm1-2zm11 7zm3-2zm13-6zm1 2zm10 8zm5-7zm7 3zm3-1zm2 2zm0-5zm2-2zm53 7zm16 6zm-54 2zm-25-1zm-21 8zm-5 0zm-5-4zm-3-7zm-7 11zm0-8zm-7 3zm-7-5zm-1 9zm0-4zm0 5zm-2-9zm0 6zm-2-6zm0 1zm-6 4zm-4 3zm-3-8zm-3 9zm-4-10zm-4 5zm-7 6zm-1-11zm-3 6zm-2-4zm-7-2zm-5 8zm-1-3zm-7 0zm-13 4zm-1-3zm-1 1zm-8-4zm-9 4zm-4-4zm-14 5zm-5-5zm0-2zm-7 4zm-10 3zm-14 2zm-2-4zm-7-3zm-3 0zm-2-3zm1 18zm3-5zm10 10zm0-5zm8-1zm2-2zm7 0zm14 5zm46-2zm3 0zm13 1zm32-8zm8 1zm4 11zm8 0zm9-4zm48 1zm27-7zm2-1zm-38 19zm-7-1zm-32-1zm-1 0zm-12 4zm-13-1zm-44-3zm-3-4zm-1 8zm-8-9zm-1 9zm-12 0zm-14-6zm0 3zm-6 0zm-2 0zm-16 2zm-12-4zm-10 2zm-8 0zm-6-1zm13 7zm48 1zm11 6zm54 3zm61-6zm-27 7zm-44 11zm-62-6zm-7 6zm-11 11zm18-3zm11 0zm22-6zm10 7zm64 8zm-5 6zm-48-7zm-35 1zm-26 1zm-20 13zm13 3zm6 1zm94 4zm-113 20zm47 4z"/><path stroke="#bc4a10" stroke-width="6.2" d="M973 204zm-37 0zm-8-2zm-34 1zm-1 6zm-134 0zm-79 5zm51-3zm4 7zm98-5zm35 3zm0 6zm22-5zm11-1zm6 3zm11 2zm1-4zm7 4zm5-3zm11-1zm6 2zm16 2zm-6 11zm-30-3zm-3 4zm-11-4zm-2 5zm0 0zm-6-1zm-3-10zm-2 9zm0-3zm-10-1zm-3 4zm-4-6zm-1 0zm0 5zm0-8zm-5 9zm0 0zm-1 1zm-10-1zm-5 1zm-1-6zm-28-2zm-1 6zm-1-7zm-5 8zm-21-5zm-12 3zm-82-6zm-34-1zm77 16zm34 0zm9 0zm24 5zm10 2zm26-9zm3 9zm3-7zm1 6zm0-5zm12-2zm6 6zm0-2zm1-2zm4 1zm0-1zm1-1zm1 1zm1 4zm1-5zm6 3zm3 3zm1-5zm0 5zm0 0zm0-3zm2-8zm4 5zm0 0zm4 1zm10 4zm0 0zm4-5zm1 5zm3-9zm2 11zm4 0zm2-10zm1 3zm5 5zm2 1zm3-8zm6 8zm2-8zm7 5zm9 15zm-7-2zm-2-3zm-6 4zm-1 1zm-7-4zm-4 3zm-1-7zm-1 5zm-1-2zm-3-1zm-3 6zm-1-9zm-2 9zm0-8zm-1 7zm-3-6zm0 2zm-1 3zm-1-8zm0 11zm-2-10zm-3 7zm-2-4zm0-2zm-5 2zm-1 0zm-2 0zm-2 5zm-1-7zm-2 7zm-1-9zm0 2zm0-2zm-1 2zm-1 3zm0 2zm-1 4zm-3-5zm-1 2zm0-3zm0 3zm-1-4zm0 3zm-2 2zm-1-4zm-2-4zm-3 7zm0 2zm-1-8zm-2-2zm-1 10zm-3-1zm-1 1zm-2-9zm0 8zm-1-1zm0 3zm-1-3zm0-8zm-1 4zm-2 4zm-1 0zm-3-6zm-3-1zm-3 10zm-1-4zm-1 3zm-4-6zm-4-3zm-7 5zm0-2zm-2 1zm-2-5zm0 10zm-4-8zm-6 2zm0 4zm-1-8zm-3 0zm-19 8zm-5-5zm-5 5zm0 0zm-61-8zm-89 20zm113 2zm35-2zm4-8zm12 6zm8 0zm2-7zm3 2zm3 8zm12-2zm1-4zm2 4zm1 1zm5 0zm0 0zm7-3zm3 6zm1-8zm6-3zm0 5zm2-1zm3 3zm0-4zm1 4zm1 0zm1-6zm1 4zm1 6zm3-11zm0 1zm0 9zm2-5zm1-1zm0-3zm2 4zm1-4zm1 7zm1-4zm1-2zm0 8zm1 0zm2-6zm0-3zm0 0zm0 0zm1 1zm1 3zm0 5zm0-2zm1-4zm3 3zm1-3zm1 0zm0-3zm0 9zm2-3zm0 2zm0 1zm1-7zm1-1zm1 1zm0 6zm1-10zm0 5zm1 7zm0-1zm1-2zm1 0zm1-3zm1 5zm1-3zm1 0zm0 3zm1-7zm1-1zm1-1zm1 2zm1 8zm1-7zm1 2zm1 2zm1-8zm0 9zm0-2zm0 0zm2 1zm0-1zm2-6zm0 5zm2-3zm0 5zm3-3zm1 4zm0-1zm0-4zm4 7zm2-1zm2-5zm2-1zm0 6zm0-1zm1-7zm3 5zm2-8zm0 5zm0 4zm0-8zm2 6zm1-6zm2 8zm0-4zm2 6zm0-10zm1 3zm2 4zm0-3zm1 3zm1 0zm0 3zm1-2zm4-4zm5 2zm1 1zm7-6zm-2 20zm-2 2zm-1-2zm-2-6zm-4 5zm-3-1zm0-7zm-1-1zm-2 11zm0 0zm-2-6zm0 6zm-8-9zm0 2zm0 4zm-1-3zm0 6zm-3-9zm-1 7zm0 2zm-1-4zm-3-3zm-2 6zm-1-6zm-1-2zm-3 3zm-2 2zm-1 3zm0-5zm-2 2zm-1-3zm0 0zm0 8zm0 0zm-1 0zm-1-2zm0 1zm-1-5zm-2 1zm-1-2zm0 1zm-1-1zm0 6zm-1-7zm-1 4zm0 0zm-1 1zm-1 2zm-2-7zm0 7zm-1-5zm-1 5zm0-8zm-1 2zm-1 2zm0-3zm0 3zm0-6zm-1 9zm-4-3zm0 0zm-2-6zm0 6zm0 3zm-1 2zm0-3zm0-1zm-1 4zm-2-6zm-1 6zm0-11zm-1 5zm-2-2zm0 1zm0 1zm-1 1zm0-2zm0 6zm-1 0zm0 0zm-1-6zm0 6zm-1-6zm-2 5zm0-4zm0-4zm0 7zm-1-4zm0 3zm-1 1zm0-2zm-1-2zm0 2zm-1 1zm-1-5zm-1-2zm-3 7zm0-3zm-1 6zm-1-11zm0 1zm-2 10zm-1-10zm-2 10zm0-8zm0 6zm0-5zm-1 5zm0 3zm0-4zm0-2zm-3-4zm0 9zm0-2zm-3 1zm0-5zm-2 2zm0 3zm-1-6zm-1 0zm-1 3zm-2-6zm0 5zm-1-2zm-2 2zm-1 1zm-1-4zm-1-2zm0 5zm-6 1zm-4 2zm0-6zm-7 2zm-2-2zm-1 6zm-6-5zm-2-2zm-5 7zm-1-5zm-6-1zm-8-2zm-2 1zm-33 5zm-1 5zm-131-5zm17 8zm88 7zm35-7zm4 6zm38 1zm2 0zm2-2zm3-6zm0 7zm5-3zm0-4zm4-2zm4 7zm1 4zm5-10zm0 9zm2-9zm1 6zm0-2zm2 2zm2 4zm4-4zm2 2zm1-2zm1-3zm0 7zm0-3zm4-2zm0-6zm5 5zm1 4zm1-2zm2 4zm0-9zm2 3zm1 4zm0-6zm1 2zm0-1zm1-2zm0 2zm1 7zm1-8zm0 0zm1 6zm0-3zm0 0zm1-5zm0 5zm1 2zm1-2zm0 4zm1-1zm0-8zm1 0zm1 9zm1-5zm0-3zm1 3zm1 0zm0 0zm1-4zm0 5zm2 0zm0-5zm1 6zm0 4zm0-8zm1 3zm0 0zm2 1zm0 2zm1 1zm1-6zm2-3zm0 1zm1 1zm1 2zm0 4zm1-1zm0-4zm0 7zm1 0zm0-5zm1-6zm0 12zm2-2zm1 1zm1-5zm0 6zm1-4zm2 0zm2-7zm0 8zm0 0zm2-1zm1-3zm1 1zm1-4zm0 4zm0-3zm0-1zm2 5zm2 5zm0-3zm3 2zm0-1zm1-9zm1 2zm0 5zm0-2zm1 5zm0-5zm1-2zm1 3zm1-1zm1-2zm0 5zm0-6zm1 5zm1-5zm4 4zm0 4zm2-10zm0 0zm0 5zm0-4zm0 1zm1 5zm1-4zm0 8zm1 0zm1-2zm3-5zm3 7zm0-12zm1 3zm1 2zm3-4zm1 3zm0-2zm1-2zm10 8zm2-1zm1 1zm0-1zm5-3zm1 14zm-2-3zm-1 8zm-7-6zm-2 6zm-4-6zm-2-1zm-1 0zm0-3zm0 5zm-3 4zm0-4zm0-5zm-2 4zm-3 2zm-1-6zm-3 4zm-1 5zm0-6zm-3-1zm-1 4zm-2-2zm0 5zm-4-7zm-1 9zm-1-4zm-1 2zm-2-7zm0 6zm0-5zm-1 0zm0 1zm-2 1zm-1-5zm0-1zm-1 0zm-1 1zm0-1zm-2 8zm-1-5zm-2 2zm0 4zm-1 1zm0-7zm0 7zm-1-6zm-2-3zm0-1zm-2 9zm-1-4zm0-3zm0-1zm0 3zm-1 2zm-1 1zm0-3zm0-3zm-3 7zm-2 0zm0-4zm0 6zm-3 0zm-1 1zm0 0zm0-5zm0-3zm-2 3zm0 3zm-1-2zm-1 3zm0-3zm-1 3zm0-8zm-1 9zm-2-5zm-1 6zm0 0zm0-5zm0-2zm0 7zm0-9zm-1 3zm-2-4zm-1-1zm-4 1zm-2 2zm0 1zm-1 2zm0-7zm-1 4zm0 6zm-1-3zm-2 0zm-2-4zm0 7zm-1-6zm0 3zm0-6zm-1 1zm-2-2zm-3 5zm-2 1zm-2 0zm-3 0zm-3 3zm-1-1zm-1 2zm-3-5zm-2-3zm-1 9zm0 0zm-1 1zm0-8zm-1-3zm-1 5zm0-3zm-1 8zm-2-7zm0-1zm-4-2zm-3 9zm-3-1zm-2-9zm-3 10zm-5-1zm0-2zm0-4zm-4 6zm-4-2zm-34 3zm-75 9zm74-4zm25 9zm21-8zm11-1zm2 6zm6-5zm0 1zm2-3zm4 10zm0-10zm3 1zm2 3zm0-2zm1 0zm2 5zm0-3zm0-5zm2 8zm5-4zm0-5zm0 9zm1 3zm1-11zm1 7zm2-6zm1 8zm1-1zm1 0zm0 1zm0-8zm1 7zm1-4zm1-5zm1 5zm1-1zm1-1zm1 2zm0 6zm2-7zm0 2zm1 6zm1-1zm0-7zm2 0zm1-2zm1 5zm0 2zm2-5zm1 2zm1-3zm0 5zm1-7zm1 1zm2 10zm1-10zm0 8zm1 1zm1-10zm1 1zm1 8zm0 0zm1-5zm0 1zm1-4zm1-1zm0 0zm0 8zm1 0zm4-7zm1 10zm0-6zm1-2zm0 6zm1 0zm2-2zm2-5zm2-2zm2 3zm0 4zm0-8zm2 1zm3 1zm0 5zm0-4zm1-2zm1 3zm0 1zm2 3zm0 1zm3-1zm1-5zm0 4zm0-3zm2-2zm0 3zm2 2zm3-4zm1 2zm1 6zm5-8zm0 6zm0-4zm2-3zm0 1zm1 7zm6 0zm5 1zm5-1zm13 4zm-7 7zm-2-7zm-8 7zm-4-9zm-1 12zm-1-2zm-1-6zm-2 4zm-9 2zm-1 1zm0-7zm-3-1zm-13 2zm-4 3zm0-5zm-4 2zm0-3zm-3 1zm0 2zm0 4zm-2-7zm-1 5zm-1 1zm-4 0zm-1 1zm0-6zm0 4zm-1-1zm-1 4zm-4-7zm-1-2zm-1 2zm0 2zm-2 7zm0-5zm-1 4zm0-10zm-4 7zm-1-7zm-3 0zm-1 4zm0 4zm-2-3zm-2-6zm-1 9zm-1-9zm-4 1zm-1 7zm-5-5zm-1 5zm-2-6zm-1 8zm-2-3zm0 2zm0-2zm-17-7zm0 6zm-6-3zm0 7zm-12-6zm-6-2zm-2 8zm-9-1zm-10-4zm-10-2zm-132 8zm100 12zm44-1zm2-8zm3 7zm4 1zm6-1zm3-5zm5 8zm6-10zm2 3zm8-3zm0 3zm1 2zm1-3zm10 8zm0-2zm2-7zm2-2zm5 10zm10-6zm1-4zm1 2zm2 4zm4 4zm1-8zm3-2zm2 7zm3-7zm1 8zm6-6zm8 1zm3-2zm2-1zm5 2zm8 7zm1 2zm1-4zm24-2zm7 2zm4 2zm11-8zm-15 16zm-3 6zm-22-3zm-2-3zm-2-1zm-11 4zm0-5zm-2 3zm-8-5zm-3 4zm-6-5zm-16 0zm-4 1zm-1 8zm-1 0zm-16 1zm-7-2zm-27-7zm-3 3zm-2-4zm-1 8zm-25-8zm-42 11zm-3 5zm7 3zm20-6zm40 1zm25-2zm6 0zm21 5zm11-2zm4 7zm6-11zm0 4zm7-2zm27-1zm7 2zm15 5zm23-2zm-23 17zm-25-9zm-29 4zm-16-5zm-11 10zm-77-4zm-13-2zm-34 0zm-23 6zm-18-11zm-52 3zm-5 2zm10 13zm79 2zm155 3zm31-10zm3 7zm14-6zm41 19zm-55-6zm-61 0zm-102 6zm-24-2zm-92 3z"/><path stroke="#c4851f" stroke-width="6.2" d="M827 289zm3-7zm31 9zm30 13zm-2-10zm-3 9zm-6-9zm-4 4zm-6 4zm-24-1zm0 7zm8 1zm15-2zm1 9zm9-9zm4 0zm5 1zm1 8zm11-5zm36 5zm-6 14zm-20-4zm-2-8zm-4 9zm0-5zm0-2zm-3 2zm-24 4zm-3-7zm-5 3zm-2 1zm-8-2zm-16 4zm-4-4zm-4 7zm-3-6zm5 20zm8-4zm16-1zm7-1zm1-4zm5 1zm16 2zm4 4zm2 0zm2-8zm1 10zm3-10zm0 7zm1-2zm6-3zm0 1zm1 7zm32-5zm-27 15zm-11-5zm-22 2zm-14 5zm-1-5zm-17 4zm-23 0zm-31 0zm-11 13zm11-3zm52 0zm8 0zm1-2zm1-1zm2 5zm4 2zm3-6zm4 3zm1 2zm18-4zm12 2zm4-5zm9 2zm2 2zm11 0zm10 6zm-24 0zm-15-1zm-1 6zm-3 0zm-2-2zm-9-4zm-3 10zm-1-9zm-7 10zm-16-3zm-16-6zm-3 5zm-7 3zm-7-1zm-1-9zm-7 3zm-56 20zm44-4zm3 3zm2-8zm7 5zm4-3zm18 2zm17 3zm9-9zm2 2zm1 6zm2-2zm3 1zm2-7zm25 10zm1-3zm4 0zm18-7zm-27 23zm-2-8zm-10 1zm-13 3zm-1-4zm-1-2zm-5 7zm0 2zm-3-9zm-2 2zm-12 1zm-22-2zm-4 6zm-5-7zm-5-2zm-11 3zm-3 1zm-32 7zm-15 9zm36-7zm37 10zm10-8zm20 6zm1-6zm0 3zm14-4zm15 6zm9 4zm1-8zm31 2zm3-4zm-15 15zm-31 5zm-2 1zm-4-4zm-12 3zm-9 1zm-12-10zm-3 1zm-14 9zm-13 0zm-11-6zm-8-2zm-16 7zm-273 9zm251-5zm46 3zm2 5zm3 0zm8-4zm9-4zm3 7zm7 1zm16-8zm20 0zm4-2zm1 20zm0-4zm-8 4zm-2 1zm-1 1zm-7-7zm-2 0zm-2 3zm-2 6zm-10-10zm-12 5zm-1 3zm-3 0zm-4-4zm-15-2zm-2 7zm-8-6zm-1-1zm-10-1zm-9 3zm-21 3zm-40 3zm-169 1zm154 10zm78-6zm36 1zm8 4zm16 1zm0-10zm5 1zm5 4zm2-2zm69 7zm2-6zm-8 19zm-23-4zm-24-5zm-14 5zm-17-8zm-6 1zm-2 11zm-2-8zm0 6zm-11 0zm-1-6zm-37 7zm-2-8zm-43 7zm-8-5zm-156-5zm120 15zm45 7zm4-4zm30 1zm10 0zm11 2zm3-8zm1 5zm5 4zm2 1zm10-3zm3-3zm4 0zm0 6zm8-10zm3 0zm2 10zm2-8zm9 0zm3-1zm1-1zm10 11zm4-12zm4 4zm2-4zm0 5zm34 7zm0-9zm15 2zm2-3zm-24 11zm-12 9zm-15-2zm-5-8zm-4 7zm-15 2zm-2-6zm-5-2zm-1 10zm-15-8zm-14 2zm-2 1zm-4 0zm-1 6zm-2-5zm0-6zm-3 5zm-2-2zm0 2zm0 0zm-4 2zm-4-1zm-12-4zm-19 7zm-63-9zm-22 6zm-143-6zm-17 21zm12-7zm179 1zm76 6zm8 0zm15-4zm2 3zm2 0zm9 1zm3-1zm4-4zm10-1zm3-4zm2 1zm1 3zm2-2zm5 10zm7-5zm2 2zm4-6zm13-3zm6 16zm-24 1zm-6 5zm0-10zm-4 11zm-34-5zm-13 3zm-16 1zm-18 2zm-1-10zm-7 9zm-109-3zm22 13zm22-2zm47 2zm2 2zm24-6zm22 2zm10 0zm9-2zm3 0zm0 3zm3-3zm23-4zm4 14zm-3 6zm-6-3zm-1 6zm-3-6zm-19 1zm-18-2zm-19-1zm-5 4zm-2 1zm-1-7zm-12 1zm-4 7zm-10 0zm-1-5zm-1 2zm0 1zm-44-2zm-3-5zm-12 0zm-136 2zm109 20zm22-2zm35-1zm13 0zm4 1zm23-8zm2 7zm3-5zm4 4zm2 0zm10 2zm4 0zm2-2zm17-7zm1 4zm6 0zm4 3zm4 1zm0 1zm16-3zm8 0zm2-4zm0 5zm2-4zm1 2zm9 3zm5-3zm29 4zm6 2zm10-7zm9 13zm-41 6zm-27-7zm0-3zm-11 6zm-3 3zm-15-2zm-9 0zm-3-6zm-4-2zm-16 6zm-4 4zm-1-1zm-1 2zm-16-7zm0 6zm-4 0zm-1-4zm-18-3zm-1-3zm-9 4zm-5 1zm-34 5zm-8-7zm1 17zm4 1zm12-5zm18 6zm10-4zm7 3zm10-2zm6-6zm5 1zm5-1zm12 1zm1 9zm8-8zm3 9zm3-3zm4 3zm18-10zm10 8zm39-9zm1 3zm1 17zm-9-7zm-12 1zm-12-2zm-23 5zm-15-3zm-10 8zm-4 1zm-8-8zm-2-3zm-4 8zm-3-2zm-5-2zm-3-2zm-9 3zm-6-5zm-8 10zm-1-6zm0 5zm-21-4zm0-2zm-3 6zm-1-9zm-22 9zm-15-7zm-55 6zm-142 11zm168 3zm7-5zm6 3zm6 2zm43-6zm1 1zm16-5zm8 4zm9-2zm1 7zm1 1zm3-5zm6-2zm1 2zm0-6zm0 6zm7 3zm8-5zm5 3zm16 3zm5-7zm9-3zm5 11zm0-7zm15 4zm12-6zm31 3zm10-3zm32 19zm-71-4zm-30-4zm-1 1zm-12 2zm-3 1zm-7-1zm0-4zm-16 8zm-12-1zm-11-4zm-2 5zm-10 1zm-2-2zm-3-7zm-3 0zm-2 8zm-2 1zm0 3zm-3-6zm-15 3zm-1-3zm-1 1zm-1 0zm-4-5zm0 6zm-7-5zm-7 6zm-7-5zm-4 2zm-14 6zm-16-6zm-9 0zm-22 0zm-11 5zm-25 2zm13 9zm31-7zm19 8zm3-11zm7 2zm4 0zm3 3zm5 6zm17-11zm3 9zm0 0zm10-2zm5-3zm6 4zm2 3zm0-1zm8-1zm3-1zm4-1zm7 1zm2-7zm8-1zm2 2zm11 1zm2-2zm3 0zm9 1zm1 0zm1 9zm6-9zm3 9zm3-11zm8 10zm1-6zm5 1zm5 2zm4-1zm7 5zm0-2zm2-7zm3 5zm2 0zm14-1zm29 11zm-2-1zm-24 7zm-14-7zm-9-4zm-15 3zm-10-2zm-3 5zm0 3zm-4-9zm-7 0zm-2 9zm-4-2zm-2-3zm-7-2zm0 8zm-4-4zm-7 6zm-4-2zm-4-2zm-2-4zm-6-2zm-2 3zm-2-3zm0 10zm-3-1zm-6 0zm-9-1zm-1-3zm-5 2zm-6 2zm-7 1zm-4-4zm-5-4zm-6 1zm0 0zm-8-5zm-4 5zm-2 3zm-1-6zm-4 4zm-2-2zm-15 0zm-15-2zm-16 0zm-46 0zm-36 16zm29 0zm12 2zm7 2zm11-10zm30 4zm15 5zm8-5zm9 0zm1-3zm4 8zm6 0zm5-6zm0 6zm2-7zm1 6zm3-7zm1 8zm7 2zm2-1zm1-1zm0-6zm5-2zm6 9zm2-1zm1-1zm2-7zm3 1zm5 1zm2 7zm1-4zm2 0zm3-3zm3 8zm0-11zm2 11zm5-5zm3 2zm1-5zm1 5zm1 2zm0-8zm3 0zm3 6zm2 3zm0-9zm2 6zm2 3zm1-4zm4-1zm17-3zm4 0zm1 4zm3 3zm4-1zm2 2zm5-8zm0 0zm2 3zm5-4zm16 7zm3-9zm27 10zm-14 4zm-6 2zm-27 2zm-9 4zm-5 0zm-2-5zm-1-2zm-8 1zm-9-2zm-2 7zm-2-8zm-2-1zm-8 9zm-3 0zm-2 2zm-3-2zm-2 1zm-1-2zm0-8zm0 4zm-1 2zm-1 2zm0-7zm-2 11zm-1-10zm-2 6zm-1 3zm-8-2zm0-2zm-3 5zm-2-1zm0-2zm-1-7zm-4 5zm-2 0zm-12 2zm0-6zm-1 4zm-3 4zm-1-7zm0 1zm-5 5zm-6 0zm-3-8zm-2 10zm-4-9zm-2-3zm-2 7zm-3 1zm-6-4zm-2 7zm-2-10zm0 4zm-2-5zm-8 11zm-2-10zm-7 9zm0-8zm-6 4zm-3 1zm-1-3zm-8 7zm-17 0zm-15-4zm0-1zm-13 2zm-17-1zm-11 1zm-7 2zm-5 0zm-34 11zm4-6zm4 3zm0 0zm29 2zm13-1zm8-5zm12 5zm6 2zm17 3zm7-5zm7-2zm4 6zm6-6zm2-1zm2 1zm1 0zm9 5zm6-6zm5-1zm2 5zm5-6zm2 1zm5-3zm1 8zm2 3zm5-10zm1 2zm2 8zm6-10zm3-1zm1 7zm0-6zm6 4zm1 3zm0-2zm1-5zm4 8zm1-6zm2 5zm0 0zm2 2zm1-2zm0 2zm1 1zm4-10zm2 0zm1 10zm3-4zm1 0zm2-4zm0-2zm3 9zm1 0zm1-6zm3 5zm1-6zm5 8zm1-10zm11 3zm0-2zm6 4zm0 3zm1-5zm2-1zm8 5zm3 1zm8-6zm24-1zm15 5zm2-3zm9-4zm-5 23zm-8-11zm-5 1zm-10 6zm-10 4zm-6-8zm-7 7zm-4-10zm-2 12zm0-5zm-6-4zm-8 5zm0-7zm-3 7zm-1-1zm-3-5zm-5-1zm-2 1zm-2 4zm-2-1zm-9-2zm-5 7zm-2 0zm-3-4zm-1-5zm-1 3zm-1 1zm-1 0zm-2-4zm-4 9zm-1-7zm-5 7zm-5-1zm-6-3zm-2 2zm-1 1zm-2 3zm0-5zm-4-5zm-7 6zm-3-1zm-4 2zm-14 1zm-1-3zm-2 1zm-4-7zm-2 6zm-8-7zm-6 6zm-6 4zm-8 0zm-6-2zm-4 0zm-7 1zm-19-2zm-9-1zm-1-4zm-5 7zm-20-6zm-20 8zm-38 11zm4-5zm11-3zm20 1zm4-1zm3 7zm28-2zm1-2zm16-3zm0 0zm7 6zm11-6zm5 2zm3 1zm5 5zm1-5zm2 7zm21-7zm8-3zm3 4zm0 2zm1-1zm2 3zm1-5zm0 3zm3-5zm5 6zm11-3zm4 1zm1 5zm2-2zm2-6zm6 4zm16-4zm2 0zm0 6zm0-1zm11 1zm1-6zm4-1zm0 6zm6 2zm9-1zm0-1zm1-1zm6-6zm2 2zm0-1zm20 8zm1-8zm7 1zm3-3zm6 4zm5 3zm1-2zm1-3zm9 3zm9-2zm11 8zm-12 8zm-44 0zm-12-6zm-1 4zm0-5zm-2 9zm-2-8zm-3 5zm-12 4zm-2-4zm0-6zm-8 5zm0 6zm-15-2zm-2-8zm-2 8zm-4 0zm-1-9zm-1 10zm-1-3zm-18-8zm-12 10zm-3-7zm-2-2zm-6 3zm-4 3zm0-3zm-2 7zm-5-9zm-1 5zm-8-7zm-2 10zm-2 0zm-6-9zm-5 1zm-4 1zm-2 1zm-7 7zm-4-6zm-19 4zm-5 1zm-2-9zm-8 9zm-13-1zm-8-3zm-14 0zm-6-4zm-9-1zm-8 1zm-1 17zm17 4zm3-8zm16 6zm12 0zm4 2zm13-6zm1 0zm10-3zm24 10zm0-7zm5 3zm15-3zm3 6zm7-5zm8-5zm3 9zm17-10zm3 4zm5-1zm0 1zm5-1zm6 6zm2-7zm18 10zm10-4zm1-5zm3 1zm3 4zm7-5zm6 6zm7-9zm8 5zm3 3zm3-6zm16 2zm20 6zm6-9zm18 4zm-45 14zm-10-5zm-1-2zm-11 6zm-3-1zm-11 0zm-2-2zm-5-2zm-4 3zm-16 7zm-28-5zm-2 6zm0-7zm-3-4zm-13 4zm-2 4zm-22-7zm-1 4zm-9 6zm-15-5zm-5 2zm-1-2zm-3 3zm-7-5zm-9 0zm-8 4zm-7-7zm-2 3zm-11 4zm-2 1zm-1-8zm-13 4zm-17-5zm-4 7zm-1 3zm-1-6zm-11 13zm4 5zm13-5zm20 3zm8-6zm11 7zm9 0zm7-1zm17-6zm4 0zm10-3zm8 9zm13-1zm1-7zm9 3zm1-4zm5 8zm7 3zm8-9zm4 5zm8-4zm9-1zm1 3zm7-3zm3 0zm5 9zm13-7zm2-4zm25 4zm21 4zm-28 5zm-58 10zm-8-6zm-23 1zm-26 6zm-18-9zm-12 9zm0-1zm-1-2zm-4-4zm-10-2zm-2 3zm-7 0zm-10-5zm-5 5zm-2 1zm-6-3zm-18 8zm0-9zm-1-2zm-2 16zm15-4zm4 7zm14-6zm6 1zm6 9zm1-9zm7 0zm19-2zm2 4zm9 3zm23-7zm82 21zm-36-7zm-54 7zm-47 0zm-15-6zm-13 4zm-4 1zm-14-3zm7 12zm43-3zm43 0zm29 2zm48 0zm-121 8zm-20 6zm-9-4zm-2 7zm-6-5zm-8-2zm0 18zm68-2zm0 0zm10-6z"/><path stroke="#fc1a7e" stroke-width="6.2" d="M371 615zm-61-8zm-24 2zm-7-2zm-4 3zm15 19zm0-3zm11 3zm30-11zm17 4zm24 6zm-77 12zm-30-6zm9 9zm121 11zm-19 7zm-6-3zm-26 7zm-9-2zm-3-2zm-15-3zm-1 4zm-4-7zm-18-1zm-31 11zm0 5zm8 4zm24 3zm24 0zm14 1zm16-7zm17 5zm8-5zm54-1zm18 15zm-32 1zm-11 1zm-54 2zm-31 0zm-189-9zm163 15zm42-1zm14-1zm83 6zm6-3zm20 1zm11 3zm82 0zm12 12zm-104 0zm-15-2zm-6 4zm0-10zm-3 6zm-1-2zm-4 5zm-4-8zm-4-2zm-25 5zm-6-6zm-9 4zm-8-2zm-28 1zm-24-1zm-6 0zm-5 2zm-36 10zm27 4zm67 4zm7-1zm0-5zm36-2zm0 4zm12 1zm6 0zm51 4zm6-5zm11-2zm6 7zm22-5zm13 4zm8-4zm7 2zm25 9zm-40-1zm-8-1zm-13 0zm-12 4zm-2-6zm-12 6zm-12-4zm-4-1zm-1 7zm-1-6zm-1 3zm-4 3zm-1-9zm-1 0zm-1 2zm-5 6zm-3-4zm-7 7zm-14-6zm-5 0zm-3 1zm-12-5zm-1 3zm-4 1zm-7 5zm-3-1zm-2-7zm-3 0zm-9 10zm-5-9zm-35 5zm-23 1zm62 12zm2-5zm4 0zm3 1zm0 0zm8 7zm19-1zm4-3zm4-8zm7 10zm4 1zm0-5zm3-4zm4-1zm1 7zm8-7zm1 5zm1-3zm5 9zm3-10zm3 3zm1-3zm1 2zm4 6zm1 2zm29-7zm0-2zm1 7zm2 1zm1-1zm0 0zm6-1zm4 1zm1-4zm1 1zm1-5zm9-1zm6 9zm23 0zm1 13zm-2 1zm-5-6zm-1 4zm-7-6zm-1 1zm-3-1zm-2-1zm0 7zm-4-3zm0 0zm-2-6zm-4 8zm-1-1zm0 3zm-13-1zm0-1zm-2-2zm-1-4zm-3-2zm-3 0zm-1 5zm0 1zm0-3zm-1 4zm-1 0zm-4-3zm-3 6zm-5-8zm-3-1zm0 5zm0-5zm-1-1zm-4 2zm-2 9zm-3-6zm-5 5zm-2-7zm-1-2zm-6 3zm0 5zm0 1zm0-8zm-1 0zm-2 8zm-1-5zm-2 6zm-2-10zm-3-1zm-1 6zm0 5zm-1-7zm0 7zm-1-3zm-5-2zm-2-4zm-2 4zm-1 3zm0-7zm-1 2zm-3 5zm-2-4zm0 0zm-3-5zm0 3zm-2-1zm-5 0zm-5 7zm0 0zm-6-6zm-4 0zm-7 3zm0 1zm-8-5zm-2 8zm-44-3zm7 12zm14-1zm12-1zm9 2zm10 3zm5-3zm1 3zm3-11zm2 10zm0-4zm4-2zm5-2zm6 8zm2-1zm3-6zm1 2zm4 2zm3 2zm3 2zm5-1zm2 0zm5-5zm1 5zm2-9zm0 9zm1-2zm1 0zm3-3zm1-1zm2-4zm0 9zm2 1zm1-4zm0 4zm1-4zm1 3zm0-6zm1 7zm2 1zm3-4zm1-3zm1 0zm2-3zm1 9zm2-5zm0 5zm0-1zm1-4zm1 1zm2 0zm0 0zm0-5zm1 11zm0-11zm2 9zm1 1zm2 0zm0-3zm0-5zm1 0zm0 6zm2 3zm2-1zm0-4zm1-1zm2-4zm0 2zm1-2zm1-2zm0 10zm0-5zm1 6zm1-3zm1-1zm0 5zm1-5zm0 4zm1-3zm0 2zm2-6zm0-2zm4 1zm0-2zm1 0zm0 11zm1-5zm3 2zm1-8zm0 5zm0-5zm3 2zm3 9zm1 0zm2-1zm0-11zm0 3zm5-2zm1 6zm4-2zm1 2zm2 3zm0-6zm1 6zm0-5zm2 1zm1 5zm3-1zm4-4zm0 5zm2-9zm4 7zm0 1zm1-1zm2-2zm15 2zm2-2zm10 4zm16 0zm-17 8zm-4 2zm-1 0zm0-5zm-1 3zm-4 2zm-2-1zm-3-1zm-2-3zm-1 7zm0-9zm-1 7zm-4-3zm-3 4zm-2-9zm-1 9zm0 1zm-1-8zm-2 0zm-1 6zm0-4zm-1 4zm-1-4zm-1-3zm-5 2zm-1-2zm0 8zm-1-8zm0 1zm-2 2zm-1 5zm-1-3zm-1 1zm-2-8zm-3 10zm0-1zm-2-2zm0 2zm-2-6zm0 0zm-3 3zm0-1zm0 5zm-1-4zm0-5zm-1 5zm-4-4zm0 9zm-1-5zm0 6zm0-5zm-1 0zm0 4zm-2-5zm-1-5zm0 11zm-1-7zm0 5zm0-6zm-1 4zm0 4zm-1-8zm-2 3zm0 5zm-1-9zm0 5zm-2 2zm0 1zm-1 1zm-1-11zm0 8zm-1 1zm-1-1zm-1-6zm0 5zm0 4zm-1-5zm0 2zm-1-7zm-1 1zm0 2zm-1 7zm-1-10zm-1 2zm0-2zm0 3zm-1 5zm-1 0zm0-5zm-2-1zm0 6zm-1 2zm-1-8zm0 2zm-1 4zm0-5zm-1-2zm-1 8zm-1-3zm0 2zm0 1zm-1 0zm-1-8zm-2-1zm0 3zm0-3zm0 8zm-2-8zm0 3zm-2-1zm0 8zm0-8zm-1-1zm-1 6zm0-6zm-1 0zm0-1zm-1 1zm-1 3zm0 6zm0-7zm-1 4zm-2 0zm-1-8zm-1 4zm-1-5zm-3 3zm-1 1zm-1 5zm-1-7zm-3 0zm-1 5zm-1 1zm0 4zm0-4zm0-2zm-1-3zm-2 6zm-1-9zm0 8zm-4-2zm-1-1zm-1 4zm-2-1zm-5 1zm0-8zm-1 0zm0 0zm0 3zm-1 7zm-1-10zm-2 1zm0 9zm-1-3zm-2 3zm-1-10zm-3 9zm-3-9zm-4 8zm-3-8zm-1 8zm-2-5zm-9-3zm0 0zm-4 7zm-3-7zm0 15zm8 1zm8 3zm1-1zm10-3zm1 3zm3 1zm1-2zm1 0zm2-1zm0 7zm0-6zm2 4zm8-8zm3 7zm0-1zm0-1zm1 0zm0 4zm0-7zm3-3zm1 4zm0 3zm2-1zm0-1zm3-3zm1 3zm0-2zm0-3zm0 6zm0-1zm1-2zm0-2zm1 1zm1 2zm1-5zm1 0zm0 7zm0 1zm1 1zm0 2zm2-9zm1 0zm1-2zm0 1zm1 1zm0 7zm2-8zm0 9zm1-7zm0 1zm0 0zm0 1zm2 0zm0-3zm1 4zm0 3zm0-7zm1 5zm0-2zm2-2zm0 8zm1 0zm0-10zm1 5zm1-4zm1 2zm0-3zm1 0zm0 11zm1-7zm0-2zm1 1zm0 6zm0-1zm0-6zm1 3zm0-1zm1 1zm0-3zm0 6zm1 0zm0 2zm1-3zm0-7zm1 6zm0-2zm1 4zm0-1zm1 3zm0-2zm0 2zm1-2zm0-1zm0-1zm0-2zm0-2zm1 6zm0 2zm0-7zm0 2zm1 1zm1 1zm0-8zm1 1zm1 3zm1 8zm1-6zm0 6zm1-3zm0-3zm1 0zm0 2zm0-5zm0 0zm1 4zm0 3zm0-2zm0 0zm2-2zm0-4zm1 4zm0 3zm0-6zm0 7zm0-2zm2 3zm0-9zm1 7zm0 2zm1-2zm2-1zm0-2zm1 0zm1 5zm0-1zm0-9zm1 4zm1-3zm0 8zm0 1zm1-9zm3 4zm0 6zm1-6zm0 0zm0 4zm0-2zm1 4zm0-7zm1-3zm1 3zm1-3zm0 6zm0-6zm0 4zm1-3zm1 7zm1-5zm0-1zm0 8zm1-8zm0-2zm1 3zm0 3zm0-7zm1 0zm0 7zm2-7zm1 2zm0 0zm1-1zm0 4zm0 5zm2-2zm1 0zm0 1zm1-10zm0 1zm0 10zm1 0zm1-1zm0-10zm3 4zm1-2zm0 5zm2-1zm0 6zm0-11zm1 4zm1 7zm0-3zm0-8zm1 2zm0-2zm0 2zm0 2zm1-4zm0 3zm0 4zm1 2zm0-8zm0-1zm0 3zm3-1zm0 8zm1 1zm2-7zm0 6zm1-2zm0-2zm0 4zm1-2zm0 1zm0-9zm1 9zm0-5zm0 2zm4 3zm3-3zm0 1zm1 2zm0-4zm1 2zm0-4zm2 4zm1 3zm4-7zm1 7zm2-1zm2 1zm3 0zm1-5zm22 0zm-2 11zm-2 6zm0-7zm-2 5zm-1-1zm0-7zm-8 5zm-3-1zm-2-3zm-2 2zm0 1zm-1 3zm0 2zm-1-7zm-1 4zm-1-6zm-1 0zm0 2zm-2 1zm0-3zm-3 6zm-2-5zm0-1zm-3 3zm-1 7zm-1-3zm-1-3zm0 0zm-1-1zm-1 3zm0 2zm-2-8zm-1 7zm-4-1zm0 1zm0-3zm0-3zm-1 5zm-1 0zm0 1zm0-5zm-2-1zm0 8zm-1-1zm0-2zm-2 2zm0 2zm0 0zm-1-1zm0 2zm0-2zm0-2zm-1-2zm-1 2zm0-5zm-2 5zm-1-2zm0-5zm0 1zm-1-1zm0 9zm0-3zm0-4zm-1 8zm0-8zm0 7zm-2-1zm0-1zm0-6zm-1 2zm-1 7zm-1 0zm-2-9zm0 4zm-1 1zm0-1zm0-6zm0 11zm-1-6zm0-2zm-1 6zm0-7zm-1 0zm-1 4zm0 5zm-3-10zm-1 4zm0 5zm0 2zm0-9zm-1 4zm0-5zm-2 2zm0 4zm0-2zm0-5zm-1 2zm0 7zm0-1zm0-2zm0 0zm-1 1zm0 1zm-1-9zm-1 2zm-1 6zm0 2zm0-3zm0-2zm0 2zm0-6zm-1 2zm0-1zm-1 2zm0 6zm0 2zm-1-4zm0-6zm0 2zm-1 4zm0-1zm-1-2zm0-4zm-1 4zm0 6zm-1-5zm0 2zm-1-7zm0 7zm-1-2zm-1-3zm0-2zm0 8zm0 1zm0-4zm-1 3zm0-4zm0-2zm-1 5zm0-3zm-1 0zm-1-4zm-1 8zm0 0zm0-7zm-1 1zm-1 3zm-1-5zm0 8zm0-1zm-1 2zm-2-1zm0-8zm0 2zm-1 1zm-1-1zm-2-1zm-1 6zm-1-3zm-2-1zm0 6zm-1-6zm-2 1zm-1 1zm0-1zm0 6zm-1 0zm0-1zm-1-6zm0-4zm0 12zm0-8zm-1 7zm-1-1zm0-1zm-1-2zm0-4zm-1 7zm0-1zm0-9zm0 0zm-1 9zm0-4zm-2-5zm-1 6zm0 6zm0-5zm-1 2zm0-4zm-1 1zm0 4zm-1-8zm0 1zm0 4zm-1-7zm-2 11zm-1-1zm0-4zm-2-4zm-1-2zm0 11zm-2-5zm0-4zm-2 7zm0 0zm-1-7zm0 7zm-1 0zm-2-8zm-3 11zm-1-2zm0-5zm-2-4zm-1 2zm-1 8zm-1-10zm0 3zm-4-1zm-1 3zm0-2zm-10-2zm0 7zm-3-9zm0 1zm-2 4zm-7-2zm-1 0zm-2-2zm-2 1zm-1-2zm-30 11zm-3 12zm4-9zm15 2zm3-1zm10 7zm1 1zm0 0zm4 1zm4-6zm3 0zm1-2zm3-2zm1-1zm3 7zm2-6zm4 1zm7-3zm1 5zm0 6zm0-6zm1-4zm1 4zm1-4zm0 4zm2 0zm0 1zm4 1zm0-6zm0 3zm0 2zm1-1zm2-1zm2 7zm0-6zm0 0zm1-3zm2 8zm1-1zm2-6zm2-2zm0 2zm5 1zm1-3zm1 1zm0 7zm0 0zm2-8zm0 8zm0-5zm2-1zm1 8zm0-4zm0-3zm1-1zm1 5zm0-7zm0 2zm0 6zm1 3zm0-4zm0-5zm3-1zm1 8zm2-7zm0 2zm2 2zm0 0zm1 2zm0 0zm1-5zm2-1zm1-1zm0 0zm0 1zm0 8zm1-7zm0 0zm0 4zm0-4zm1 5zm0 1zm1-8zm0 1zm0-1zm0 4zm1-3zm0 2zm2 2zm0 2zm0 0zm1-7zm0 4zm0 4zm2-1zm1 0zm1-2zm1-6zm0 0zm1 4zm0 3zm0-6zm0-1zm0 0zm1 5zm0 5zm1-8zm1 2zm0 2zm0-2zm0 4zm1-4zm1 3zm1-2zm1-2zm0 5zm1 2zm0-9zm1 8zm0 2zm1-8zm0 6zm1-1zm0 2zm0 1zm0-6zm1 4zm0-8zm0 3zm1 6zm1-5zm0 4zm1-8zm0 10zm0-10zm0 5zm1 2zm0-7zm0 6zm1-6zm2 1zm1 2zm1 3zm0-6zm1 4zm0 4zm0-5zm1 1zm1 5zm1-1zm1-4zm0 0zm1 1zm1 3zm1-2zm1-4zm0 4zm1-2zm1 0zm0-3zm0 2zm0 1zm1 5zm1-4zm0 2zm1-3zm1 5zm0-1zm0-10zm0 11zm1-8zm0 5zm1-3zm2-1zm0-1zm3 8zm1-10zm1 10zm0-9zm1 3zm0-4zm0 5zm3-2zm2 6zm1 2zm1-10zm5 4zm0-1zm0-4zm2 0zm1 11zm0-6zm1-2zm3 8zm1-8zm2 3zm1 1zm0 2zm1-8zm2-1zm2 5zm1-5zm1 7zm3-3zm0 4zm1 2zm3-9zm2-1zm2-1zm5 14zm-7-2zm-6 7zm-1 4zm-4 1zm-5-9zm0 9zm-2-10zm-2 7zm-1-7zm-1-1zm-2 5zm-2 5zm-3-2zm-2-4zm-2-3zm0-1zm-1 2zm-1 6zm0-1zm-1-6zm-1 3zm0 2zm-1-7zm-1 5zm-1 3zm-2-7zm0 0zm-2 3zm-1 2zm-1-6zm0 9zm0-9zm0 5zm-1-2zm0 8zm-1 0zm-2-1zm-1 0zm0-3zm-1 4zm0-2zm-2-1zm0-7zm-2 5zm0-4zm0 1zm0 1zm-1 0zm-1-2zm-1 6zm-1 0zm-3 2zm0-3zm-1 2zm-1-5zm-1-1zm0 5zm0-1zm0-1zm-2 2zm0 1zm-1-6zm-1 3zm0 3zm-1-4zm0 1zm0 0zm-1 4zm-1-9zm-1 5zm0-5zm-1 2zm-1 4zm-1 0zm0-4zm0 5zm0-1zm-2 4zm-1-4zm-1 3zm-1-6zm0-3zm0 8zm-1 1zm-2-6zm-1 2zm0-2zm0 8zm-1-8zm0 0zm-2-4zm-1 10zm-1-7zm-2 4zm-4 2zm-1 2zm0-4zm-1 1zm0 0zm-2-3zm-2-1zm-1 2zm-3 1zm-2-1zm-1-6zm-1 1zm-1 6zm-1-5zm-3 0zm-1-1zm-1 9zm-1-7zm0 1zm-1-2zm0 1zm-2-1zm-1-2zm0 1zm-1 2zm-2 8zm-3-9zm0 3zm0-4zm-1 9zm-3-3zm-1-5zm0 8zm-9-8zm-1 2zm0 7zm-1-3zm-2-8zm0 7zm-5-5zm-2-1zm0 6zm-6-3zm-1 0zm-8 2zm0 4zm-1-8zm-12 6zm-7-5zm-2 4zm-11 12zm20-4zm37 5zm3-3zm2-2zm2-3zm5 7zm2-5zm1 0zm3 8zm1-4zm0-3zm1 9zm1-2zm2 0zm3-3zm0-2zm3-4zm4 2zm3 0zm1 5zm7-1zm0-7zm0 11zm3-9zm0 6zm4-4zm0-3zm2 6zm0 3zm3-7zm0 7zm2-7zm2 1zm1 5zm0-9zm0 9zm2-7zm0 5zm1-5zm2 7zm1-5zm4 0zm3-2zm1-1zm1 2zm1 0zm1-1zm2-1zm0 8zm0-3zm1-1zm2 0zm1-5zm1 8zm0-3zm1 5zm0-4zm2-1zm6 2zm2-5zm0 6zm1 0zm1-3zm0-3zm3-2zm0 2zm1-1zm1 4zm2-2zm3 7zm3-4zm2-4zm7 9zm0-3zm1-6zm1 2zm0 0zm4 7zm2-9zm3 3zm2-1zm2 2zm2-1zm5 4zm3 2zm8-9zm-5 19zm-3-8zm-16 1zm-5 7zm-3-4zm-3 1zm-4-3zm-2 3zm-5-1zm-2-4zm-2 4zm-10 3zm-1 1zm0-5zm0-2zm-9 1zm-1-1zm-2 3zm0 4zm-4-7zm-2 0zm-3 2zm-12 7zm-1-4zm-1-4zm-5 0zm-9 0zm-2 2zm-7-5zm-4 5zm-1-5zm-1 9zm-2-7zm-6 1zm-17 9zm-22-11zm-36 3zm39 12zm20 5zm20-1zm46-6zm3-2zm26 2zm40-1z"/></g><g font-family="Liberation Sans, Arial, Helvetica, sans-serif" font-weight="bold" fill="#000"><text transform="translate(205.6 136.0) scale(0.956 1)" font-size="50.6">RGL</text><text transform="translate(816.5 173.9) scale(0.945 1)" font-size="51.0">GC_im</text><text transform="translate(74.0 664.0) scale(0.915 1)" font-size="50.0">IPC_1</text><text transform="translate(450.7 959.7) scale(0.965 1)" font-size="50.0">IPC_2</text><text transform="translate(822.8 688.0) scale(0.973 1)" font-size="49.2">NB</text></g><g stroke="#000" stroke-width="3.2" fill="none"><path d="M221 167C203 190 196 225 210 262"/><path d="M206 648C236 645 262 634 280 613"/><path d="M527 930C540 905 556 880 562 850"/></g><g fill="#000"><path d="M225 280L194 261L220 243Z"/><path d="M297 591L265 608L286 628Z"/><path d="M565 833L549 860L576 862Z"/></g><g fill="none" stroke-linecap="round"><path stroke="#adadad" stroke-width="5.9" d="M1119 98zm24-5zm2 6zm18-3zm16 2zm9-8zm288 7zm21 1zm10 14zm-6-7zm-9 2zm-4 0zm-3 6zm-1-3zm-2 4zm-2 0zm-3-4zm-10 3zm0 0zm-2-4zm-3-2zm-3 6zm-15-4zm-1 3zm-3-3zm-11 1zm-6 1zm-2 3zm-57-11zm-139 6zm-42 3zm-1-5zm0-3zm-34 8zm-7-2zm3 6zm3 10zm10-2zm12-6zm8 3zm2-1zm0 3zm2-3zm4 0zm3-5zm4 10zm0 0zm7-9zm5 4zm27 3zm35-4zm141 4zm12 1zm9-2zm4-1zm1 3zm5-5zm3-4zm1 7zm2 2zm2-9zm1 10zm2 0zm0-7zm1 2zm2 4zm3-5zm5 0zm1 2zm0 5zm0-3zm1-8zm0 7zm1-5zm0 1zm1 4zm2-4zm2 7zm0-1zm1 2zm3 0zm0-6zm1 6zm4-2zm0-6zm6 3zm3-3zm4 1zm2 4zm0-4zm2-2zm1 8zm1 1zm1-5zm2-5zm0 6zm10 3zm0-3zm7 8zm-1 7zm-2-1zm0 1zm-6-10zm-2 0zm-1 10zm-2-5zm-2 3zm-3 0zm-1 3zm0-1zm-2-6zm-3-4zm0 10zm-1-5zm-7 0zm0-3zm0-3zm-3 3zm-1 4zm-1 2zm0 0zm-1-6zm0 1zm-1-3zm0 0zm0 11zm-1 0zm0-1zm0-5zm0 4zm-1-6zm0 5zm0-7zm-1 8zm-1 1zm0-4zm-1-2zm-3 6zm0 0zm-1 1zm0-3zm0-1zm0 1zm-1 2zm0-10zm0 10zm0-1zm0-1zm-1-1zm-1-5zm-1 0zm0 9zm-2-3zm-1 0zm0 2zm0-4zm-1-4zm0 6zm0-7zm0 4zm0 3zm-1 0zm-1-5zm0 4zm-1-1zm0 3zm0 0zm-2-5zm-1 5zm-2-5zm0 6zm0 0zm-1-6zm0-4zm0 1zm-1 5zm0 3zm-1-3zm0 2zm-4-6zm-1 3zm-2-5zm-2 3zm0 4zm-3 0zm-7 3zm-12-7zm0 3zm-4 3zm-4-6zm-38 1zm-157 3zm-7 1zm-7-5zm-9 1zm-4-3zm-5 5zm-2-2zm-1 0zm-4-3zm-1 7zm-3 3zm-9-1zm-2-10zm-2 9zm-7-4zm-1-2zm-2-4zm-1 4zm-18 4zm0 3zm-39-1zm-22 1zm24 9zm6-2zm14 5zm6-4zm10 0zm9-2zm5-2zm3 7zm6-9zm6 1zm0-2zm1 0zm3 2zm2 9zm1-6zm0 6zm4-9zm7 2zm1 4zm6-2zm3-5zm2 10zm0-10zm2 4zm4 7zm0-10zm5 3zm1-2zm6-3zm3 3zm10 0zm1 8zm3-8zm2 4zm7 0zm24-7zm98 2zm14 7zm32-5zm0 2zm18-4zm16 4zm6-5zm1 5zm0-6zm3 2zm0 6zm0-3zm2-3zm5 10zm1-1zm1-6zm1-4zm0 5zm1-3zm1 1zm1 2zm1-1zm1 1zm1-2zm0 1zm1 4zm3-8zm0 10zm1-9zm1 8zm1-7zm0 6zm0-8zm0 5zm0-1zm1 2zm0-7zm1 7zm0 0zm0 1zm0-6zm1-2zm0 1zm0 9zm1-7zm2 9zm0-11zm0 1zm0 2zm1 3zm2-4zm1 6zm0-5zm0-3zm2 8zm0-8zm0 2zm0 0zm2 3zm1-6zm1 10zm0-2zm1 2zm3-3zm0 4zm1-1zm1-5zm0 5zm1-3zm0-7zm0 9zm1 2zm1-8zm0-2zm3-1zm1 3zm0 4zm2 3zm5-8zm1 7zm0-7zm1 6zm0-6zm1 7zm4 1zm1-5zm7 7zm2-7zm0 0zm2 3zm-14 10zm-1-2zm-7 1zm-1 1zm-2-3zm-3-2zm0 2zm-1-2zm-2 1zm-2-2zm-2 6zm0 0zm-1 0zm0 4zm-1-1zm-1 0zm-2 0zm-2 0zm0-6zm-1 5zm-3-5zm-1 6zm-1-4zm0-3zm-2 2zm-6 4zm0-7zm-2 5zm-2-4zm-1 1zm-1 0zm-2 2zm-1-4zm0-1zm-2 3zm-1 6zm0-5zm-2-2zm-5 3zm-216 6zm-2-5zm-6 1zm-1-2zm-2 2zm-7-1zm-2-1zm-13 3zm-5-6zm0 9zm0-2zm-4-1zm0-6zm-1 7zm-6-5zm-2 4zm-2 1zm-1-5zm-2-4zm0 9zm-1 2zm-10-6zm-3-4zm0 1zm-3 1zm-2 1zm-1 6zm-1-7zm0 6zm0-7zm-4 1zm-4 9zm0-2zm-3-9zm-9 0zm-2 11zm-11-3zm-5-5zm-12 3zm-3-1zm-7 5zm-5-3zm-54 14zm12-1zm15-3zm52 5zm1-5zm6-4zm1 4zm2-3zm12 2zm2-4zm1 6zm2-5zm3 6zm2-1zm2-5zm5-2zm4 2zm1 4zm5 5zm5-5zm5-1zm0-2zm3 2zm1 6zm8-5zm2 3zm2-4zm4 0zm2 5zm0 1zm1-6zm10-5zm5 11zm1-8zm5 5zm2-4zm3 6zm3-9zm167 7zm43-5zm8 6zm8-3zm2 5zm6-8zm0 3zm2 1zm2-2zm0-2zm3 0zm1 4zm1-2zm0 3zm3-6zm0-1zm0 1zm5 9zm1-4zm1-1zm1-4zm1 4zm1 4zm2-8zm5 7zm2-6zm3 0zm3-1zm20 15zm-1-1zm-14-3zm-1 9zm-13-4zm-2-1zm-2-2zm-3 9zm-4-4zm-1-5zm-6 7zm-3 1zm-4-2zm-1-1zm-1-8zm-1 7zm-9-2zm-6 3zm-4 1zm-13-3zm-1-5zm-182 1zm-12-1zm-1 10zm-17-9zm0-1zm-2 10zm-1 0zm-8-8zm-3 9zm-4-11zm-2 6zm-2-1zm-1 0zm-4-1zm0 1zm0-5zm-1 1zm0 2zm-4 6zm-8-6zm-13 6zm-1-2zm-3 2zm-3-6zm-5-1zm-5-3zm-1 10zm-2-7zm-1 9zm-4-10zm-22 5zm-20-4zm-7 3zm-33 15zm78-8zm17 9zm11-3zm6-1zm2-5zm5 1zm5-1zm0 1zm1 4zm8 2zm11-8zm2 4zm184 3zm40 3zm1-5zm2 5zm6-1zm5-4zm2 6zm1-1zm3-2zm12 3zm0-3zm2-5zm2 6zm1 1zm2-2zm0 4zm0-2zm3-8zm4 5zm9 1zm1-1zm11-2zm-14 19zm-1-7zm-13-1zm-8 3zm-8 4zm-5-5zm-221 1zm-11 3zm-14 1zm-6-3zm-5-4zm-3 3zm0 0zm-2-3zm-5 4zm-26-3zm-13-5zm-5 3zm-50 12zm33 1zm9-2zm35 6zm11-8zm22 4zm9-4zm126 7zm93 5zm9-6zm1 3zm6 1zm5-7zm1 3zm4 5zm2-6zm6-2zm12 1zm2 0zm2-1zm0 0zm-2 11zm-7 1zm-1-2zm-18 2zm-1 0zm-2-2zm-4 7zm-283-6zm-11 4zm-11 13zm24 1zm50-5zm15 8zm150 0zm23-7zm10 3zm0 2zm5-8zm3 2zm5 2zm6-4zm3 11zm0-7zm1-4zm1 7zm2-5zm0 3zm5 1zm2-3zm0-1zm0 5zm4-3zm2 7zm1-7zm2 7zm6-6zm11 2zm1-2zm25 0zm-34 10zm-9 2zm0-5zm-4 9zm-4-9zm-5 1zm-2 8zm-3 0zm-1-5zm-7 7zm-5-1zm-12-7zm-1-2zm-27 9zm-25-6zm-37 0zm-32 2zm-98 2zm-12 1zm-21 1zm5 2zm10 11zm1-5zm3 4zm0-4zm1-4zm6 0zm6 2zm5-1zm10 1zm1 1zm3 6zm185-1zm7 0zm8 0zm1-2zm4 0zm1-2zm2 0zm8 2zm0-1zm5 2zm4-3zm15 4zm3-6zm6 0zm16-3zm-16 13zm-5 2zm-1-3zm-4 6zm0-2zm-7 1zm-6-3zm-1 6zm-8-2zm0-5zm0-1zm-8 0zm0 9zm-1-7zm-5 1zm-9 2zm-5-4zm-7 8zm-17-7zm-1-3zm-40 11zm-31-3zm-76-2zm-4 2zm-8 3zm-5-11zm-3 6zm0 3zm0 0zm-1-3zm-2-4zm-3 4zm-3 0zm-2 4zm-3-10zm-2 8zm-2-8zm-6 10zm-2-2zm-2 0zm-3-3zm-1-2zm-5 4zm-15-6zm-7 10zm-2 3zm4 2zm11 0zm0 4zm2-1zm6 4zm2-2zm5 1zm3-1zm3-7zm3 1zm0 4zm1-7zm2 9zm4-4zm0-3zm2 5zm6 4zm0-9zm7-1zm11 10zm3-11zm3 10zm4-11zm25 11zm100-11zm12 2zm3 10zm15 0zm4-8zm4 7zm1 1zm2-11zm1 1zm4 1zm5 1zm1 2zm1-2zm4-1zm4 5zm1 3zm0-4zm1-1zm4 6zm3-11zm1 6zm1 4zm5-6zm5 0zm0-3zm15-1zm0 8zm0-6zm7 6zm-17 11zm-7 2zm-1-4zm-11-3zm-1 5zm-10-5zm-5 7zm-1-8zm-16 2zm-8 7zm-9-1zm-1-1zm-14-6zm-5 8zm-40-4zm-58 5zm-27-6zm-12-4zm-1 2zm-2 1zm-2 2zm-3-7zm-5 3zm0 1zm-7-3zm-4 2zm-18 6zm-4-6zm-7 1zm-46-2zm-10 6zm61 8zm2-2zm11 0zm4 2zm1-4zm2 8zm21-4zm6 7zm14-8zm5 0zm62 5zm9 3zm13-3zm8-7zm2 9zm3-7zm1-3zm8 1zm5 8zm3-1zm2 1zm2-8zm8 9zm11-4zm1-1zm9 0zm2 2zm0-1zm6 6zm7-2zm1-1zm4-4zm1 2zm8 1zm5 2zm2 1zm10-8zm0 2zm34 9zm-9 3zm-6-3zm-8 6zm-1 1zm-3-6zm-11 2zm-5 1zm-4 3zm-2 0zm-1-6zm-1 7zm0-3zm-2-1zm-1-3zm-2 4zm-3 3zm0 0zm-2-5zm-3-1zm-5 4zm-2 0zm-11-5zm-5 8zm-1-9zm-1 8zm-2 1zm-1-3zm0 3zm-4-1zm-5-1zm-2 1zm-6-4zm-4 0zm-4-2zm-3 5zm-4-1zm-7 1zm-2 0zm-8-1zm-24-5zm-3 7zm-1-6zm-15 8zm-59-10zm-72 2zm-1 0zm16 19zm87-4zm25 0zm10 0zm5 0zm2 0zm3-4zm6-2zm11 10zm1-11zm6 12zm8-6zm5-2zm3-4zm4 9zm3-4zm0 4zm1-7zm1 7zm1-8zm1 5zm0 4zm0 1zm1-10zm3 2zm1 6zm2 1zm1-6zm1 4zm3-5zm5 5zm2-7zm0 1zm2-1zm3 9zm0-8zm3 2zm2-4zm0 9zm1-2zm7-6zm1 7zm2 0zm2 3zm1-7zm1-3zm4 5zm0-6zm1 7zm7-2zm4 1zm2-3zm1-2zm1 7zm14 1zm-6 4zm-4 3zm-6-4zm-5 2zm-2-1zm-4 8zm-3-3zm-3-1zm-2-3zm-1 7zm0-7zm-1 6zm-4-3zm0-2zm-1 4zm-2 4zm-1-5zm-1 0zm-1-5zm-5 7zm-1-6zm0 1zm-1 6zm-1-3zm-2 3zm-1-6zm-2 1zm-1-3zm0 7zm0 4zm-1-3zm-2-8zm-2 3zm-2-4zm-1 12zm-6-8zm-3 3zm-2-2zm-9 3zm-6-6zm-3 4zm-1 5zm0-7zm-3 2zm-3 3zm-4 0zm-2 2zm-8 1zm-8-6zm-4 5zm0 0zm-3-6zm-3 2zm-4 3zm-15 1zm-2 0zm-29-3zm-37-5zm-20 0zm-11 20zm64-4zm17 3zm11-8zm2 3zm2-4zm8-1zm9 2zm3-1zm3 7zm10 0zm4-2zm7 0zm8-2zm7 4zm0-3zm2 6zm6-7zm4 6zm4 2zm5-2zm9-2zm1-3zm3 2zm0 5zm4 0zm6-7zm2 4zm5-7zm5 3zm8-5zm0 3zm8-3zm9 1zm4 2zm13-1zm-31 10zm-10 6zm-12 0zm-5-6zm-6 10zm-8-7zm-4 0zm-3 5zm-3-3zm-1 3zm-8-6zm-6 9zm-7-5zm-12-2zm0 5zm-5-5zm-1 3zm-10 1zm-1-4zm-1-3zm-1 6zm-7 3zm-6-5zm-2 2zm-2 2zm-1-4zm0-2zm-6 7zm-3-3zm-4 0zm-20 2zm-18-6zm36 17zm4 1zm4 0zm1-7zm0 9zm3 0zm1-4zm1-2zm3-4zm7 0zm1 4zm3 1zm2-2zm6-3zm1 4zm1-1zm3 5zm5 1zm3-8zm4 2zm2 3zm2 1zm8 3zm23 0zm1-3zm12-3zm8 4zm5-6zm4 2zm-38 16zm-6 1zm-3 1zm-6-5zm0 5zm-1-4zm-2 1zm-1 3zm-3-9zm-1 0zm-1 6zm0-7zm-7 7zm-4 1zm-1 0zm-5-9zm0 11zm-1-6zm0 1zm-1 4zm-4-3zm0 1zm-1 3zm-3 0zm0-3zm0-3zm-5 3zm-1 2zm0-3zm-1 0zm-3 3zm-1-9zm0 3zm-5-1zm-1 6zm-4 0zm-7-6zm-3 3zm-1 5zm-9-8zm0 2zm-4-1zm-2 1zm14 9zm2 2zm0 5zm9-5zm0 0zm6-3zm0 2zm1 8zm0-9zm1 2zm1 4zm3 3zm1-10zm1 7zm1 3zm0-9zm5 3zm1-2zm1 1zm0-4zm2 3zm1 0zm2 4zm1 0zm2 4zm2-1zm0-1zm3 3zm0-12zm1 5zm1 5zm0-2zm1 0zm1-1zm0-1zm1 4zm0 2zm1-2zm1-5zm1 1zm0-4zm2 5zm1-5zm0 7zm1 0zm0-4zm3 2zm1 0zm0-5zm1 1zm0 7zm4 0zm3 0zm0-5zm4 3zm1-5zm0 1zm2-2zm0 5zm2-2zm2 2zm5 4zm1-2zm-3 4zm-6 6zm-5-6zm0 6zm-2 1zm0 1zm-2 2zm-1-10zm0 6zm-1 2zm-1-2zm-1-7zm-1 6zm-1 4zm-1 1zm-3-4zm0-4zm0 8zm-1-5zm-2-5zm-1 9zm-1-2zm-1-3zm0-1zm-2 0zm-1-3zm0 9zm-1-8zm-1 8zm-1-7zm-2 0zm0-2zm-1 8zm-2-4zm0-3zm-2-1zm0 1zm-1-1zm-3 7zm-1-6zm-3 4zm-1 4zm0-10zm-1 3zm-1-1zm-1 0zm-2 1zm-4 4zm-2-5zm0 1zm-5 1zm-2-1zm-7-2zm0 8zm-3-8zm-6 6zm-9-5zm-3 19zm30-8zm9 6zm4-2zm9 3zm2-8zm2 9zm1-3zm3-3zm1 2zm10 0zm0 5zm0-6zm6 4zm1 3zm2-10zm3 9zm5 0zm4-4zm1-3zm8-2zm-80 14z"/><path stroke="#c9c9c9" stroke-width="6.0" d="M1438 101zm3 19zm6 2zm5 1zm13-2zm3 5zm-6 10zm-1-2zm-1 2zm0 2zm-3-9zm-3 7zm-4 2zm-3-2zm-4 0zm-28-7zm-23 7zm-3 2zm56 4zm9-1zm1 6zm2 1zm4-5zm0 2zm4-7zm0 5zm1 1zm1 0z"/><path stroke="#dcdcdc" stroke-width="6.0" d="M1470 110zm-50-2zm24 12zm1 2zm11 2zm4-7zm7 6zm0 3zm1-3zm13 0zm1-5zm1 5zm10 2zm29 10zm-13-7zm-7 3zm-2 0zm-1 1zm-3 2zm-1 2zm-4-6zm-8 6zm-3-5zm-4 5zm-2-9zm-2 2zm0 9zm-3-5zm-3-2zm-1-2zm-2 6zm0-1zm0-5zm-1 3zm0-4zm-1 1zm-13 2zm-2-4zm-5 7zm-1-8zm-7 11zm6 7zm1 6zm6-8zm1 3zm3-3zm1-3zm4-1zm3 9zm0 0zm2 2zm2-1zm2-7zm3 6zm1-7zm0 5zm3-1zm2-2zm0 4zm1-2zm2-4zm2-1zm0 1zm9-1zm1 4zm2-4zm2 8zm1-5zm2 2zm5 6zm4-10zm9 7zm-5 8zm-7-1zm-4 0zm0 6zm-1-1zm-3-7zm-2 8zm-1 1zm-2-7zm-7 2zm-6 1zm-1 0zm-2-4zm0 9zm-4-3zm-3 2zm-4-5zm-39-6zm-22 6zm41 12zm18-3zm2 1zm10 7zm4-8zm-57 20z"/><path stroke="#eeeeee" stroke-width="6.0" d="M1475 101zm27 12zm-5-2zm-8-6zm-10 5zm-2 0zm0 1zm-3-6zm-5 16zm0 4zm1-7zm2-1zm4 6zm2 2zm2-7zm0 5zm1 1zm8-2zm2-1zm1 0zm1 0zm1 4zm2-4zm1-2zm4-1zm9-1zm1 1zm6 8zm0 0zm-10 1zm-1 3zm-2 6zm-1-2zm-1-6zm-9 10zm0-7zm-1 0zm0 5zm-1-5zm-2-1zm-7-2zm-1 9zm-1-4zm-2 3zm-1-8zm-3 9zm-3-10zm-1 5zm-1 0zm-28 10zm15 8zm13-3zm1-5zm0 3zm1-1zm1 5zm2-10zm6 8zm0-4zm1-2zm1 9zm0-10zm1 10zm1-7zm2 1zm0 0zm1-1zm0 3zm0 2zm1-1zm0 1zm1-5zm3 7zm0-10zm3 5zm0-1zm1 2zm5 2zm1-6zm0-1zm1 1zm1-1zm1 4zm4-5zm1 8zm1-10zm1 7zm2 2zm1-3zm4-2zm2 9zm-20-1zm-2 0zm-2 4zm-12-2zm-2 4zm0-5zm-1 4zm-1 6zm-2-9zm0 3zm0 1zm-2-4zm-3 6zm0-4zm-1 3zm-1-1zm-1-5zm-1 9zm-1-8zm0 4zm-1-6zm-4 4zm-2-1zm-8 4zm0-3zm-10-1zm-8 9zm-9-3zm-1-9zm16 13zm4 7zm2 4zm14-11zm8 10zm4-11zm6 3zm2 5zm7-8zm3 1zm6 10zm8-10zm9 6zm-3 9zm-24 3zm-2-7zm-4 4zm-8 6zm-1-5zm-8-5zm-1 1zm-3 7zm-2-7zm-7 5zm0-2zm-6 0zm-1 3zm-7-2zm-3-2zm-4 3zm-12-3zm-31 11zm70 8zm19-2zm0-1zm16-4zm-102 32zm38-2zm25 3zm-3 7zm-12 6z"/><path stroke="#f9efe9" stroke-width="6.0" d="M1504 114zm-10-1zm-12 0zm-5-4zm-277 4zm-117 9zm43 2zm342 1zm2-1zm2-4zm1-3zm0 5zm0-3zm2 2zm1-1zm2 2zm1-7zm0 4zm0 6zm3 0zm8 0zm3 1zm1-11zm6 2zm1 6zm7 3zm6 3zm-1 4zm0-1zm0 1zm-1 4zm-4-5zm0 2zm-1-1zm-1-6zm0 10zm-2-8zm0 1zm-4-2zm-2 9zm-3-3zm-4 1zm0-9zm-1 7zm-4 2zm0-4zm0 5zm-1-7zm-1-2zm0 5zm-1-3zm-1 8zm-1-7zm0-4zm-2 4zm0-3zm-1 10zm0-4zm-3 3zm0-9zm-1 5zm0 4zm-2-7zm-2 2zm-11 18zm4-7zm4 7zm2-11zm1 11zm1 1zm2-2zm2-4zm1-2zm1 6zm0-10zm0 0zm1 3zm2-3zm0 7zm3-5zm0 3zm1-2zm0 3zm2 0zm1 2zm2 4zm0-11zm1 0zm0 4zm2 7zm1-4zm1-7zm5 7zm0-2zm3 3zm3-3zm1-6zm3 1zm1 2zm1-2zm8 8zm3-6zm2 18zm-4 0zm-11-2zm0-4zm-5 1zm-1 0zm-3-1zm-2 2zm-4-3zm-1 6zm-3-6zm-2 5zm-4-1zm0-6zm-1 0zm0 1zm-3-1zm0 2zm0 9zm-1-5zm-1-1zm-1 1zm-3-6zm-1 7zm-3-5zm-2 7zm0-3zm-2-1zm-1 2zm0-1zm-2-4zm-3 2zm-15 4zm-5-4zm-20-4zm-217 4zm-19 2zm-22 5zm-43-8zm120 10zm139 1zm33 5zm32 4zm5-11zm5 1zm1 3zm2-4zm9 0zm7 9zm6-4zm4-2zm1-2zm2 2zm1-2zm2 8zm7-2zm4-3zm0 7zm11-7zm3 2zm2 6zm-19 3zm0 0zm-4-2zm-4 9zm0-6zm-2 3zm-1 2zm-2-4zm-12-4zm-9 4zm-9-2zm0-1zm-18 9zm-13-8zm-241 0zm-19-2zm-33 10zm54 5zm223 7zm25-6zm8-2zm18 7zm7 0zm0-3zm1-4zm2-2zm2 8zm19-1zm7-1zm-19 8zm-17 0zm-9 7zm-44 7zm17 4zm3-9zm22 9zm4 7zm-5 3zm-2 3zm-34-1zm-38 3zm-69-1zm-93-9zm-42 4zm-7 0zm-25 1zm73 7zm180 8zm2-2zm14-8zm6 10zm2 1zm39 0zm5 0zm27 6zm-40 4zm-27-3zm-15 4zm-5-6zm-236 9zm25 0zm5 1zm234 1zm6 7zm7-7zm22 15zm-5-3zm-1 8zm-17-6zm-4-1zm-12 5zm-23-6zm-2 7zm-85-4zm-29-4zm-102 10zm-12-7zm-4 3zm-21-4zm-1 2zm13 9zm3-1zm8 9zm8 0zm2-1zm5 0zm22-2zm2-5zm155 6zm33-6zm51 15zm-24 6zm-39-9zm-171 4zm-39 4zm57 1zm143 7zm3 1zm10-2zm-40 46z"/><path stroke="#fcdfce" stroke-width="6.0" d="M1498 106zm-14 4zm-333-4zm12 18zm19-7zm288 0zm6 6zm6-2zm20 4zm15 9zm-6-2zm-6-1zm-2 4zm-3-3zm-4-3zm-2 3zm-4 5zm-1-5zm-3-1zm-4-3zm-1 4zm-8-3zm-1-2zm-241-1zm-28 11zm-22-5zm-35 4zm-15-4zm-52 18zm109-2zm12 1zm4 0zm265-5zm0-3zm4 6zm2-7zm0 5zm1-1zm4 2zm4 3zm4-3zm1-4zm2 5zm2-5zm2-3zm0 0zm0 0zm3 2zm6 2zm2 3zm4-1zm-14 11zm-3-1zm-5-3zm-5 6zm-4-6zm-1-1zm-15 9zm-1-4zm-5-3zm0 4zm-2-5zm-12 7zm-234 2zm-5-6zm-19-3zm-35 4zm-15-2zm-17 1zm12 11zm27 1zm9 1zm25 2zm30 3zm1-5zm17 1zm210 1zm10-2zm12-2zm5-3zm23 3zm0 13zm-13 5zm-16-8zm-7 0zm-111 8zm-112-7zm-10-1zm0 8zm-36-3zm-12-3zm-28 4zm-16 3zm31 3zm257-1zm21 5zm0-3zm11 6zm18 2zm7-2zm8 9zm-43 4zm-10-1zm-238-2zm252 10zm17-4zm-13 18zm-25 0zm-1-3zm-49 0zm-51-2zm-125 1zm-43 5zm223 5zm28 3zm1 8zm19-1zm22-6zm3 2zm-8 15zm-10-4zm-11 5zm-158 0zm-108 7zm245-3zm3 2zm12 3zm5 14zm-8-2zm-8 4zm-16-2zm-25-8zm-19 9zm-195-7zm-5 2zm-9 2zm5 5zm9 9zm36-7zm19-2zm8-1zm10 7zm214 1zm7-2zm22-3zm-33 12zm-12-1zm-9 0zm-10 4zm-4-5zm-5 11zm-3-8zm-13 6zm-16-2zm-18-2zm-2 4zm-152-1zm-26-5zm0-2zm-9 10zm-14-6zm-16-2zm-16 7zm33 4zm40 5zm141-2zm34 3zm2-4zm12 5zm28 2zm1-4zm32 2zm-46 7zm-1 5zm-1-1zm-16 0zm-7 1zm-5-2zm-10 1zm-20-6zm-9-1zm-160 6zm159 15zm3-7zm2 1zm12 6zm22-9zm3 8zm16-3zm-6 8zm-23 7zm0 1zm-2-6zm-4 3zm0-6zm-6-1zm-12 9zm-11-2zm-14-3zm-79 18zm17-3zm13-5zm61 6zm11 1zm13-5zm2-2zm19 4zm-29 15zm-7-10zm-2 5zm-1-5zm-25 3zm-34 20zm8 0zm10 1zm3 0zm11 11zm-10-10zm-10 4zm-1-5zm-4 1zm-1 4zm-5-3zm-8 2zm-2 3zm-3-4zm-9 5zm8 7zm7 1zm6-3zm2 0zm38 6zm2-2zm9-3zm4 1zm-18 17zm-40-1zm-8-4zm-4 4z"/><path stroke="#f7ba9c" stroke-width="6.0" d="M1150 110zm77 9zm-90 23zm18-1zm0-2zm57 11zm13-7zm-4 17zm-13-6zm-34 0zm-5 5zm-2-2zm-24 2zm-1-7zm-1-1zm-47 8zm-34 3zm72 7zm4-4zm33 2zm12 4zm61 2zm3-4zm-88 10zm-43 3zm-20 9zm17 3zm21-2zm28-4zm4 2zm5-3zm37 9zm248 7zm-274-4zm-10 6zm-2-5zm231 19zm12-3zm21 7zm-37 13zm17 6zm1 1zm1 1zm7-2zm11-7zm14 5zm31-6zm-25 18zm-1 1zm-7 0zm-2-2zm-4 2zm-19 0zm-5 4zm-257 12zm11 1zm24-8zm6 5zm240-3zm16-4zm-11 11zm-1 9zm-6-2zm-1-5zm-36-2zm-14 3zm0 0zm-184 2zm-28 2zm0-3zm-17 13zm37-2zm34-4zm141 7zm7 3zm6-9zm30 4zm5-3zm1 3zm17 10zm-1-3zm-18 4zm-12-4zm-4 3zm-7 2zm0 0zm-9 5zm-19-8zm0 3zm-111 3zm-95 8zm28-4zm139 8zm3 1zm19 1zm7-4zm11 0zm10 3zm29-5zm1 0zm2 7zm13-5zm15 11zm-37 3zm-7-6zm-10 3zm-7 1zm-6-3zm-11-2zm-4 9zm-1-2zm-7-7zm-9 3zm-2 1zm-29-1zm-131 15zm106-3zm7 0zm55-2zm8 3zm5 6zm1-7zm6-2zm1 7zm6-7zm6-2zm2 3zm5 2zm21 0zm3-3zm-35 21zm-11-1zm-18-8zm-12 3zm-9 6zm0-10zm-1 10zm-6 0zm-2-7zm-32-3zm-1 6zm-13-6zm-6 4zm-18 2zm-67 2zm62 8zm26-2zm4 3zm16 2zm44 3zm20-4zm4-3zm31-2zm-16 21zm-27-7zm-29 0zm-69 8zm-30-1zm21 8zm6 3zm2 0zm5-5zm1 6zm4-3zm2 2zm7-2zm6-2zm0 2zm24 1zm13-5zm6-3zm11 9zm16 4zm-30 7zm-6-6zm-4 4zm-2-2zm-1 4zm0-6zm-5 0zm-9 4zm0-6zm-1 9zm-2 2zm-5-4zm-3-3zm-2 5zm0-5zm-3 0zm-1-1zm-3 3zm-7-5zm-4 0zm-19 8zm16 5zm2 4zm0-5zm4 0zm0 5zm13 4zm9-6zm1 0zm6-3zm3 8zm4-8zm12-2zm1 1zm3 7zm6 4zm4 8zm-3-4zm-13 0zm-2 6zm-1-5zm-3 1zm-2 4zm-4-5zm-1 5zm-1-2zm-3-7zm-4 4zm-2-2zm-2-1zm-5 8zm-10-8zm-8-2zm-2 6zm-11 4zm-7 5zm24 3zm2-4zm24 1zm10-1zm12 0zm15 6zm6-3z"/><path stroke="#ea8f71" stroke-width="6.0" d="M1198 114zm-34 7zm32 3zm44 11zm-63-7zm-26 0zm-15 0zm-41 15zm68-1zm1 2zm0 0zm10 2zm12 2zm10-3zm14 4zm0 9zm-31 0zm-10 1zm-32 0zm-19 0zm22 11zm0-5zm5 3zm8-6zm18 12zm1-12zm5 1zm1-1zm9 13zm-21 2zm-19-2zm-10 13zm1 0zm23 7zm12 1zm17-4zm2-2zm3 5zm23 14zm-22-8zm-17-1zm-16-2zm-9 7zm48 7zm-18 15zm-38 12zm278 18zm-61 11zm78 13zm-6-5zm-5 4zm0-5zm-26 6zm-21 0zm-197 0zm-2-3zm-27-6zm13 11zm45 7zm137 3zm26-5zm1 1zm24-1zm28-2zm-8 8zm-27 7zm-1-1zm-11 2zm0 3zm-4-4zm-7 3zm-10-3zm-2 3zm-160-5zm-39-1zm4 10zm177 2zm2 7zm9-8zm2 4zm2-1zm13 2zm2 1zm16 2zm6-1zm6-7zm23 8zm36-8zm-39 17zm-4-7zm-13-1zm-21 8zm-7 4zm-17-2zm-17 0zm-43-8zm-21 10zm-120-11zm145 12zm24 0zm8 8zm8 2zm9 0zm10-8zm2 4zm1-3zm1 6zm1-10zm0 5zm1-2zm0 4zm1-4zm4 8zm20 4zm-22-2zm-5 6zm-15 1zm-10-1zm-3-1zm-9-1zm-10 6zm-2-2zm-22-2zm-21-2zm-91 7zm66 7zm3-4zm16-3zm34 4zm1-4zm9 1zm10 0zm2 8zm35 1zm4-6zm7-3zm32 5zm-103 17zm-9-4zm-7-5zm-21 3zm-7 2zm-11 2zm-7-9zm-13 1zm-1 6zm16 7zm7 9zm2 1zm4-2zm8-2zm17-1zm38 15zm-3-7zm-5 7zm-7-3zm-1 3zm-4 1zm-13 1zm-5-3zm-8-4zm-1-4zm-5 6zm-1 4zm-6-6zm-1 1zm-5 3zm-1 1zm-7 3zm12 5zm2 5zm6 0zm3-7zm3 6zm4 0zm1-6zm4 3zm6-4zm2-2zm7-1zm2 7zm1 3zm1-10zm1 10zm4 0zm1 0zm1-9zm3 10zm7-3zm3 1zm6-1zm-7 5zm-11 10zm-2-8zm-1 3zm-7 1zm0 1zm-4 4zm-2-10zm-2 8zm-1-7zm-3 2zm-1-5zm-1 12zm-6-9zm-9-1zm-1 0zm-8 6zm-17 0zm10 7zm33 0zm14 1zm2-2zm4 6zm15-7z"/><path stroke="#d86651" stroke-width="6.0" d="M1147 98zm-6 14zm-46 14zm49-6zm25-5zm13 3zm5 6zm24-3zm15 1zm-26 15zm-65-3zm-62 1zm118 4zm5 10zm8-6zm22 8zm-25 6zm-3-1zm-30-2zm-45 9zm21 7zm10 2zm21-9zm59 17zm-41 6zm-2-5zm-4 4zm-1-2zm-22-4zm-2 6zm-58 4zm82 2zm63 2zm-64 7zm-35-1zm-16 14zm53 8zm40 8zm-42-7zm0 5zm225 75zm-89 9zm32 2zm5 0zm15 0zm8-6zm-12 20zm-21 1zm-14-9zm-35 5zm-76 17zm64-1zm0-8zm22 3zm23 1zm1-1zm14-4zm3 5zm7 4zm9 0zm2-8zm2 0zm1-1zm1 6zm-20 15zm-1-9zm-5 3zm0 7zm-1-6zm-19-2zm0 2zm-34 5zm-1-4zm-14-2zm-73 13zm4 1zm23 0zm35 4zm5-6zm29 5zm2 0zm8-3zm3-5zm10 3zm3 8zm18-3zm16 1zm26-6zm2 7zm-41 5zm-9 6zm-14-5zm-2 5zm-4 2zm-7-1zm-21-3zm-18-1zm-55-1zm-5 7zm3 1zm8 5zm25-1zm4 1zm0 5zm17-5zm5 0zm5 2zm0 2zm6-4zm24 1zm-7 8zm-3 1zm-8 1zm-6 0zm-6 1zm-3-5zm-3 5zm-2 4zm-2 1zm-5-10zm0 9zm-5-10zm-3 7zm-1-4zm-16 0zm-10-4zm-2 16zm22 4zm0-7zm6 6zm2 1zm1-7zm3 8zm0-6zm2-3zm2 1zm2 4zm4 3zm1-2zm1-5zm1 6zm2-6zm1 3zm3 1zm3 0zm7 3zm0 2zm4 1zm3-8zm0 2zm1-3zm1 10zm0-1zm6-5zm8 0zm1 1zm3 0zm11-4zm-14 13zm-3 4zm-6-3zm-6 4zm-12 2zm-1-11zm-2 5zm-2 5zm-10-9zm-6 1zm-4 5zm-1-6zm-1 0zm-10 0zm-3 16zm14 7zm19-10zm9 10zm2-7zm0-2zm1 3zm3 6zm6-9z"/><path stroke="#c53e3d" stroke-width="6.0" d="M1064 112zm132 25zm-18-2zm-49 11zm95 2zm-40 9zm-31 4zm-1-8zm-18-3zm-21 9zm9 4zm0 5zm30-4zm9 1zm15 6zm47-3zm-11 13zm-80-7zm3 20zm34-7zm41 5zm3 10zm-20 19zm101 95zm-1 11zm-88 10zm73-3zm22-4zm12 6zm2 2zm5-5zm16 17zm-16 0zm-27-5zm-43 16zm28 5zm2-10zm26 7zm7-6zm1 4zm48-7zm-49 22zm-9 1zm-9-10zm-2 1zm-8 7zm-6-2zm-10-6zm-7 4zm-8-1zm-6-4zm-9 5zm-4 2zm11 11zm2 0zm8 0zm7-3zm7 6zm4-9zm5 4zm0 8zm23-1zm20-9zm0 6zm-18 9zm-10 0zm-19-2zm-3-1zm-12 5zm-6 1zm-3-2zm-54-2zm32 11zm3 5zm14-6zm4 1zm7 2zm0 0zm1-3zm2 7zm2 1zm10-4zm2-5zm6 8zm4-5zm5 0zm1 3zm9-7zm0 1zm0 3zm5 1zm6-1zm6 6zm1 0zm-3 10zm-1 3zm-2-1zm-15-8zm-1 2zm-1 5zm-8-2zm-1 0zm-1-1zm-3 5zm-7-5zm-1-4zm-2 0zm-3 4zm-2 1zm-4-2zm-8 7zm-30-2zm43 7zm6 0zm4 1zm2-5zm22 1zm10 3zm0-3z"/><path stroke="#af172b" stroke-width="6.0" d="M1076 346zm216 10zm-51 17zm-15 0zm-18-1zm30 14zm15 3zm61 9zm-40-2zm-3 6zm-8-1zm-2-4zm-1 0zm-5 5zm-1-2zm-7-4zm-4 4zm-24 4zm29 2zm3-3zm5-1zm3 1zm3 9zm2-8zm2 6zm4-8zm1 2zm3 9zm3 0zm0-3zm1-4zm1 3zm4-4zm1-1zm2 5zm2-3zm3 0zm1 2zm1-1zm8 1zm2-3zm17 15zm-10-3zm-13 1zm-10 1zm-1-4zm0 9zm-2-4zm-6-5zm-8 8zm-6-8zm-4-1zm-1 8zm-2-6zm-9 7zm9 3zm6 10zm23-2zm0-6zm33 1zm-59 15zm-12-5z"/><path stroke="#7f0823" stroke-width="6.0" d="M1278 411zm6-8zm9 7zm1 2zm-8 5zm-8 6zm-5-8z"/><path stroke="#adadad" stroke-width="5.9" d="M1456 94zm23 19zm-16-5zm-234 1zm-16 1zm0 4zm-114 2zm61 1zm24 7zm62-1zm166 1zm8-8zm5 0zm5 6zm2 3zm3 1zm12-4zm0-3zm6-1zm2 3zm2-6zm1 6zm5 3zm22-8zm9 7zm7-4zm15-1zm1 13zm-16 0zm-1 6zm-9-5zm-1-3zm-5 2zm-1 5zm-2 1zm-2-2zm0-6zm-4-1zm-1 5zm0 2zm-5 2zm-3-3zm-2-3zm0-3zm-2 7zm-1 2zm-1-11zm-2 10zm-8-2zm-5-4zm-1-4zm-2 5zm-17 0zm-4 4zm-2-5zm-76 6zm-120 1zm-17-3zm-4-1zm-3-1zm-7-2zm-1 5zm-29-8zm-17 6zm-60 2zm30 11zm13 2zm5-7zm7-2zm4 7zm14 2zm14-6zm10 0zm4 1zm3 4zm0-2zm6 4zm21-5zm219 4zm0-8zm5 3zm6-4zm6 8zm1-1zm0 0zm5-2zm5 4zm2-8zm2 2zm13-3zm17 8zm1-7zm3 7zm-11 3zm-4 11zm-3-11zm-1 10zm0-8zm-3 0zm-19 0zm-11 9zm-252-6zm-3 0zm-1 3zm-9-3zm-11-1zm-5 5zm-48-7zm-18 10zm18 1zm20 6zm4-1zm20 3zm14-3zm0-4zm7 1zm57 6zm219-7zm12 2zm13-4zm21 5zm-22 8zm-8 4zm0 1zm-240 5zm-6 0zm-11-7zm-4-1zm-42 8zm-15-9zm-25 6zm-25 2zm-53 0zm43 6zm73 0zm8 0zm249 4zm21 4zm24-1zm-56 5zm-238 0zm-4 6zm-5-8zm-21 7zm-5-2zm-24-2zm69 15zm19 4zm3-1zm241-7zm26 5zm3 7zm-23 4zm-287 1zm-7-6zm0 20zm253-1zm39-5zm-4 10zm-271-1zm-35 5zm13 16zm15-1zm181 1zm35-2zm97 5zm-30 9zm-57 0zm-193-8zm-13 4zm-13-2zm-1 2zm-43 0zm30 13zm20-7zm8 4zm9 1zm7 0zm147 5zm43-2zm28-1zm20-4zm-38 18zm-49-6zm-33 7zm-134-4zm-4-6zm-56 7zm-5-4zm-23 9zm78 2zm103 6zm61-6zm4 8zm26-1zm8-7zm3 3zm15 5zm-12 4zm-1-1zm-5 0zm-2 2zm-1 2zm0-3zm-2 8zm-3-10zm-14 10zm-5-6zm-10-2zm-1 6zm-31 2zm-109-11zm-69 14zm164 9zm9 0zm6-4zm0-5zm20 8zm3-5zm5-3zm6 5zm0-6zm9 1zm0 1zm10 0zm7 8zm4-4zm0-2zm3 5zm8-4zm1 0zm7 15zm-38-4zm-33-1zm-17 4zm-2-6zm0 10zm-28-1zm-42-7zm-19 3zm-35 4zm47 13zm0-1zm35-9zm20 3zm0-5zm1 4zm4 2zm13-5zm0 1zm2 4zm5 0zm4 2zm3-7zm5 4zm0 0zm0-5zm9 4zm3 7zm12-8zm3-1zm12 15zm-13-4zm-1 5zm-6-3zm-3-1zm-28 5zm0 1zm-21-6zm-17 4zm-3-3zm-31 5zm6 15zm43-8zm5 5zm0 4zm27-4zm4-8zm-35 17zm-26 3zm-2-4zm-6-4zm-4 10zm-4-3zm-4 3zm0-3zm-9-1zm-2 1zm-9-1zm-7 0zm36 8zm9 6zm3 0zm14-7zm7 6zm8-6zm3 5zm12 14zm-17-2zm-21 6zm-7-2zm-8-2zm-11-6zm-14 0zm79 13z"/><path stroke="#c9c9c9" stroke-width="6.0" d="M1467 113zm-5-9zm-17 9zm-3 8zm8 2zm17-2zm0 17zm0-1zm-6-9zm-10 6zm-2-4zm0 1zm-3 6zm-23-10zm-12 20zm38-5zm5 0zm6 1zm1 1zm3 0zm2 0z"/><path stroke="#dcdcdc" stroke-width="6.0" d="M1391 102zm42-6zm84 2zm-13 8zm-1 5zm-16 0zm-13 0zm-2 1zm-14-2zm-14-7zm-49 17zm1 5zm6-9zm14 3zm28 3zm9-2zm5 0zm2-4zm2 5zm4-1zm0-4zm2 3zm10 1zm10-4zm7 7zm3 3zm1-1zm1-5zm1 4zm17 11zm-13-9zm-4 8zm0-5zm-5 2zm-2 4zm-6 0zm-1-8zm-4 5zm-7 3zm-4-2zm-7 4zm-2-8zm-2 4zm-2 4zm-1-1zm-1-9zm-11 7zm-3 0zm-4 3zm-2-6zm-6 2zm-23-1zm-40 3zm70 14zm4-10zm0 10zm9 0zm2-5zm2 2zm4-8zm1 5zm2-3zm1 4zm3-4zm3 1zm0 8zm1-5zm4 0zm1-4zm1 6zm1-1zm1-3zm1 0zm5 2zm0 1zm0-6zm8 8zm3-1zm2-4zm2 8zm4-11zm13 1zm-4 20zm-6-10zm-2 3zm-7 0zm-12 3zm-1-1zm-4-3zm-4 0zm-5-2zm-7 6zm-9-5zm-4 5zm-11-2zm-20-1zm-58-2zm-4 12zm78 5zm2-6zm0 7zm12-2zm21-3zm2 1zm19 7zm-10 5zm-4 3zm-14-4zm-57 0zm-28 7zm-10 6z"/><path stroke="#eeeeee" stroke-width="6.0" d="M1516 97zm-7 16zm-19-1zm-3 1zm-2 0zm-5-5zm-9 18zm6 0zm0 0zm5-10zm2 1zm9 6zm1-1zm1 0zm0-2zm9-1zm0-4zm14 14zm-4 2zm-10 2zm-2-3zm-4 7zm-3-1zm-1-7zm-2-3zm-3 2zm-1-1zm0 4zm-2 5zm0-8zm-2 4zm0-2zm-1 7zm0-9zm-1 4zm-1 1zm-2-4zm-2 2zm0 1zm0-3zm-2-2zm0 2zm-1 8zm-4-8zm-1 4zm-21 16zm12 1zm9-5zm0-2zm0 5zm1-3zm1-5zm1 10zm0-8zm1 4zm0-2zm1-5zm1 1zm1 9zm1-5zm2-2zm1-3zm0 5zm0 5zm1-1zm0-6zm1 7zm0-4zm1-4zm1 1zm2 8zm3-9zm0 2zm2-5zm1 9zm0-7zm2 9zm1 0zm2-5zm1-2zm2-1zm0 2zm4 4zm5 1zm3-2zm2-3zm1 14zm-8-4zm-2 4zm-3-6zm0 4zm-1-1zm0-2zm-1-1zm-7 3zm-1 3zm-1 4zm-2 1zm0-10zm-2 1zm-1 7zm0 1zm-1-7zm-1 0zm-2-4zm0 7zm0 3zm-1-8zm0 0zm0 7zm0 0zm-2-8zm0 1zm0 2zm0 8zm-2-12zm-3 7zm-1-4zm-1 1zm0-2zm-1 6zm-3-2zm-2 0zm-1 5zm-1-10zm-10 9zm-8 0zm-2-7zm0-2zm-1 7zm-10 3zm-8-3zm-44-3zm-7 7zm53 0zm21 6zm20-5zm6 6zm2 3zm0-10zm0 1zm9 6zm5-6zm1 11zm11-11zm7 1zm4 0zm-35 19zm0-7zm-7-1zm-10 0zm-4 4zm-17-1zm-8 20zm35-7zm1 7zm10-12zm-8 16zm-10-2zm-23 0zm-40-1zm68 13zm-12 11zm-28 3zm-23-1zm56 24z"/><path stroke="#f9efe9" stroke-width="6.0" d="M1494 111zm-24-3zm-308 3zm-72 1zm382 9zm0-5zm6 8zm1 0zm3-3zm0 1zm2 3zm0-1zm2-6zm0 4zm12-8zm1 12zm3-7zm3 1zm2 0zm5 3zm9 4zm-6 10zm-5 1zm-2-1zm0-8zm-3 8zm-1-3zm-2-5zm-6 2zm-2-3zm-1-1zm-1 8zm-1 0zm0 0zm-1-7zm-2 0zm0 8zm0-8zm-1 6zm-1 4zm0-8zm0 2zm-1 2zm-1-7zm-1 3zm-1-3zm-3 8zm0-1zm-3-7zm-1 6zm-1-5zm0 7zm-1-4zm-2 6zm-1-10zm-1 11zm-249-8zm-46-3zm-23 22zm9-5zm9 4zm2-5zm1 1zm11-1zm16 0zm264 5zm8-8zm1 3zm1 0zm0-2zm0 3zm1-5zm0 0zm0 8zm1-2zm0 4zm0-8zm3 1zm1-3zm3 5zm1 1zm4 4zm1-2zm1-2zm0-4zm1 4zm0 0zm1-3zm1-2zm0 2zm1 7zm1-1zm3-6zm0 5zm1-5zm2 1zm0 2zm0-6zm0 1zm3 9zm1-11zm1 9zm1 0zm1-5zm1 3zm2 0zm1-4zm1-2zm0 11zm3-4zm3-6zm0 0zm0 10zm0 10zm-12 0zm-2-5zm-4 3zm-2-2zm-2-1zm-2 5zm-1-6zm0 6zm-1 1zm0-8zm-1 6zm-3-6zm-5 0zm0 5zm0 0zm-1 2zm-1-3zm0 1zm-1-8zm-1 3zm-1 1zm-1 1zm-3 7zm-1-10zm-1 6zm-3-2zm-2-4zm0 4zm-1-6zm0 9zm0-7zm-2-1zm-5-1zm-1 4zm-4-3zm-7 3zm-1 4zm-13-4zm-302-2zm-20 17zm41 1zm49-5zm6-1zm226 5zm4-1zm11-3zm2 6zm4-4zm2 3zm12-8zm1 2zm2 2zm6 2zm2-4zm7-2zm2 3zm3-3zm5 8zm4-5zm1 2zm3-3zm2-1zm6 9zm1 1zm6-3zm-8 6zm-11 2zm-7 3zm-18 2zm-1-3zm-7 0zm-2-5zm-1 9zm0-2zm-6-8zm0 1zm-2 6zm-1-4zm-4 1zm-10 4zm-7-5zm-10 6zm-255-6zm17 21zm38-9zm142 8zm59 0zm10-4zm8-5zm17 1zm1 1zm2 7zm4-3zm6-2zm8 1zm10-4zm3 8zm-25 9zm-7-5zm-8 3zm-5-2zm-6 1zm-32 9zm5 7zm45 10zm-20-5zm-13 2zm-15 4zm-40 2zm-80-5zm90 8zm55 3zm1 1zm31-3zm6 9zm-44 9zm-4-4zm-5 6zm0-2zm-3-6zm0-1zm-1 1zm-2 1zm-29 20zm12-3zm17-8zm51 21zm-13-7zm-55-1zm-9 5zm-19 4zm-207-8zm-8 11zm3 1zm6 6zm7-1zm229-5zm3 2zm13 4zm9-1zm-17 9zm-223-1zm-10 4zm-23-6zm-22 5zm53 16zm27-7zm190-2zm11 0zm15 4zm-45 10zm-259 10zm269 9z"/><path stroke="#fcdfce" stroke-width="6.0" d="M1114 93zm51 9zm332 10zm-12 0zm-5-5zm-10 3zm-272 2zm-123 14zm86-1zm41-1zm23-2zm252 3zm1-1zm1-7zm3 4zm8-2zm23 6zm6 10zm-7-4zm-2-1zm0-1zm-1-1zm-8 1zm-2 5zm-2-5zm0 9zm-5-8zm-1 1zm0 3zm0-6zm-1 8zm-3-8zm-4 5zm-10-7zm0 6zm-242-3zm-85 1zm-39 13zm46 0zm3 2zm4 0zm22-3zm1 2zm5 3zm6 0zm1-3zm62 3zm186 2zm26-10zm3 9zm1-6zm3 3zm1-3zm1 0zm4-3zm1 4zm1-2zm0 6zm1-8zm4 1zm1 9zm2-9zm1-1zm1 6zm1-7zm0 3zm1 3zm1 3zm2-6zm4 5zm5-1zm9 11zm-15-6zm-8 1zm-3 7zm-2-5zm-2 6zm-2-7zm-15 2zm-3 7zm-5 0zm-1-3zm0-3zm-1-2zm-11-3zm-11 6zm-38-5zm-174 7zm-31-6zm-17 9zm-33-2zm-9-6zm28 14zm13 5zm13-9zm222 5zm17-2zm16-3zm1 10zm23-5zm3 3zm6-1zm1 1zm2-9zm0 1zm2 2zm7 5zm4-6zm18-1zm-37 22zm-3-2zm-14-7zm-17 7zm-239-8zm-27 3zm-17 7zm-23-8zm36 13zm0-3zm4-1zm3 8zm16-1zm202 0zm38 2zm5-7zm4 5zm15 3zm5-4zm39-2zm6-2zm-16 15zm-29-4zm-9 8zm-46-6zm-8 5zm-177-7zm-124 4zm90 19zm30-8zm195-1zm16 7zm6 1zm4-2zm19-6zm6 11zm-17 3zm-3 0zm-79 18zm58-1zm29-7zm31 2zm-38 11zm-13 4zm0-7zm-18 2zm-238 21zm241-9zm1 2zm7 3zm17-5zm-25 18zm-32-3zm-178 5zm-42-8zm-4 3zm0 2zm-12-5zm-14 19zm36-8zm4 7zm11-8zm11 5zm158 0zm37-3zm2-1zm26 8zm9-4zm32-6zm-7 14zm-18 3zm-57 6zm-3-2zm-10 0zm-162-2zm-36-1zm-17-2zm0 2zm-12 7zm23 3zm156 5zm8 2zm14-2zm0-4zm1 4zm11 1zm7-10zm7 8zm2 2zm0-4zm1 0zm1 0zm0-4zm41 0zm1 10zm2 0zm5-1zm2 0zm43-5zm-49 11zm-17-4zm0 1zm-15 4zm0 6zm-1-3zm-1-5zm-9 7zm-2-7zm-3-4zm-1 6zm0-3zm-12 7zm-4-6zm-6-3zm-8 8zm-45 4zm13 11zm23-8zm2 5zm0 3zm5-9zm12 0zm5 1zm2 4zm10-7zm0 7zm3-1zm0-6zm0 7zm3 1zm2-8zm4 11zm13-10zm4 1zm14-1zm9 2zm17-1zm-40 21zm-7-8zm-11 8zm-7-4zm-7 3zm-11-3zm-6-7zm-5 7zm-2-8zm-1 1zm-20 9zm-139 7zm122-4zm17-1zm8 4zm7 4zm0-2zm4-5zm10 2zm3-1zm4 5zm17 1zm29-4zm-34 11zm-2 5zm-28-6zm0 10zm-63 8zm3-4zm12 5zm84-6zm-28 20zm-42-11zm-5 11zm-10-6zm-13 3zm-6-1zm-3 1zm-1-6zm-19 2zm-7 11zm0 4zm1-1zm10 2zm5-4zm0 7zm10-4zm2-6zm59 12zm-16 8zm-4 1zm-1-7zm-3 7zm-1-7zm-12 8zm-1-5zm-24 2zm9 11zm19-3zm9 1z"/><path stroke="#f7ba9c" stroke-width="6.0" d="M1175 87zm33 22zm-69 9zm23 8zm59 9zm-104 12zm30-5zm5 6zm33-6zm7-4zm1 7zm73 4zm-26 13zm-16-7zm-7 5zm-27-9zm-50 9zm-44-2zm74 4zm4 6zm8 0zm16 3zm3 4zm-29-1zm-5 3zm-13-1zm-18 4zm-9 3zm53 10zm38-7zm238 16zm-274-2zm-30 21zm16-4zm5 3zm10-4zm249-3zm14 1zm9 8zm29-12zm-40 23zm-3 0zm-4-4zm-14-6zm-193 7zm-98 4zm24 9zm31-7zm93 10zm128-3zm4-9zm23 3zm21 0zm17 0zm-10 13zm-22 4zm-25-2zm-34 0zm-213 15zm207-4zm13 7zm60-3zm-4 11zm0-7zm-8 8zm0 0zm-23-2zm-10-5zm-252 4zm38 9zm194 8zm6-3zm9 0zm24 0zm8-5zm2 17zm-28 1zm-11 2zm-1-5zm-4-2zm-2-1zm-65 8zm-103-2zm-28-8zm-34 0zm1 16zm35 3zm166-6zm6 10zm3-6zm10-5zm1 5zm4 3zm24-3zm4 8zm0-1zm-7 3zm-9 6zm-4 1zm-3-5zm-17 2zm-15-8zm-3 7zm-2 4zm-3-10zm-5 3zm-7-1zm-190 17zm27-5zm16 6zm15 3zm64-5zm14 2zm33-1zm4 1zm12-4zm10-4zm1 7zm0-7zm2 4zm4 4zm4-1zm2 0zm2-1zm3 0zm9 3zm2-4zm2 0zm1 1zm1-6zm4 7zm9-8zm11 11zm-6 8zm-9-5zm-5 4zm-1 4zm0-3zm-11-3zm-1 0zm-6-3zm0 0zm-10 5zm-3-3zm-1-1zm-5-2zm-1 0zm-23 7zm-1 0zm-12-3zm-2 5zm-29-3zm-30-4zm49 16zm21-4zm35 0zm9 1zm6 3zm4 5zm-3 2zm-14 6zm-23 3zm-11 0zm-21-2zm-4-5zm-8 9zm-8-3zm-16-1zm-32-3zm-10 1zm-6 10zm3-3zm16 9zm9-8zm5 1zm7-1zm2 5zm3-6zm3 4zm2 7zm2-5zm15 0zm4 5zm5-1zm0 0zm0-11zm40 3zm-26 17zm-18-6zm-3 1zm-5 8zm-1-2zm0 1zm-2-4zm-4 2zm-15 2zm-5 0zm-3-8zm-9-1zm-15 9zm3 4zm13 4zm7 3zm3 3zm2-3zm0 2zm2-8zm0-1zm2 5zm1-3zm1-3zm3 1zm2 1zm1-2zm1 5zm0 0zm2 6zm2-4zm0 1zm2-5zm2-2zm3 9zm1-7zm14 0zm3 2zm5 6zm2-4zm1 1zm2-2zm3-5zm2 8zm1-5zm1 4zm0 1zm3-4zm10 11zm-24 0zm-1-2zm-2 1zm-2 0zm-1 0zm-1 8zm-9-9zm-8-1zm-7 3zm-37 1zm48 14zm4-6zm7 0zm3 7zm5 0z"/><path stroke="#ea8f71" stroke-width="6.0" d="M1151 112zm-33 11zm34 1zm32-2zm-13 4zm-15 11zm-7-4zm-3 1zm-17 3zm-7-3zm-48 15zm59-2zm35 3zm11-6zm3 4zm8-8zm20 7zm11-3zm21 10zm-25-1zm-33-3zm-9 11zm-26-10zm-11 6zm-7-2zm-2 6zm-57 5zm59 2zm23-2zm16 3zm1-2zm4 6zm3-5zm5 5zm24-8zm1 0zm23 0zm-26 15zm-5 3zm-51-1zm-7-2zm26 50zm6 20zm-10 14zm24 0zm215 2zm44-1zm-14 8zm-7 0zm-4 8zm-18 0zm-53-1zm-164 2zm-24-6zm163 13zm62 0zm41 2zm14 13zm-27-1zm0-4zm-7-4zm-9 0zm-6 4zm-19 2zm-6-1zm-1 2zm-30 1zm-159-9zm-6 4zm-3-2zm29 12zm135-2zm29 10zm29-7zm5 6zm5-1zm9 6zm-2 7zm-8-5zm-2-1zm-2 2zm-28 0zm-2 4zm-3 3zm-1-11zm-15 8zm-10-3zm-3-4zm-1 8zm-12-5zm-161-5zm-9 9zm11 6zm9 0zm10 4zm53 1zm31 2zm52-7zm6 0zm10-1zm19 8zm0-3zm15-4zm1 0zm2 6zm5 1zm-4 11zm-3-7zm-6 3zm-6 3zm0-6zm-1 3zm-5 1zm-1 1zm0-3zm-11 8zm-1-1zm-4-4zm-32-4zm-127 0zm62 10zm3 10zm28 1zm10-3zm23 0zm8 1zm3-9zm14 2zm11 6zm7-3zm12 6zm45-6zm-8 12zm-83-1zm-6 0zm-2 3zm-4-5zm-11 8zm-23-7zm-1-3zm-6 8zm-5-4zm-1-3zm-4 3zm-33 18zm5-6zm22 1zm11 0zm4 1zm18 1zm6 3zm2 1zm4-2zm16-7zm13 1zm2 1zm8-5zm5 1zm13 8zm-46 7zm-11-3zm-1 8zm-5-3zm0 6zm0-4zm-3-1zm-3-3zm-26 0zm-4 6zm-14 0zm6 5zm17 4zm3 5zm2-9zm2 6zm1 2zm1-9zm0-2zm1 6zm6-2zm4 0zm2 1zm1 1zm0 5zm2-1zm2-9zm3 0zm6 1zm5 9zm2-2zm2 2zm0 0zm2-10zm6 9zm8 7zm-5-2zm-12-1zm-3 1zm-1 3zm-7 3zm-5-4zm-1 2zm-1-3zm-2 1zm-1 0zm-13 1zm-2 1zm0-2zm-13 3zm-1-7zm-1 0zm-4 6zm-9-3zm22 10zm15 2zm21-3zm6 1zm9 0zm1 7zm2-9zm2 3zm12 3zm-38 7z"/><path stroke="#d86651" stroke-width="6.0" d="M1245 99zm-30 12zm-79 10zm4-6zm41 8zm-20 9zm-3 1zm-27 3zm27 12zm8-10zm3 11zm0-8zm57 20zm-20-2zm-15 2zm-7 0zm-7-6zm-1 2zm-27 14zm24-7zm1 6zm11-6zm20-1zm14 17zm-12 1zm-8 2zm-1-4zm-76-2zm44 9zm28 6zm-15 8zm-7-2zm30 27zm150 44zm43 27zm-81 4zm11 11zm19 3zm13 1zm10-3zm1 4zm1 1zm9-9zm7-1zm-17 21zm-10-4zm-1 6zm-8-2zm-2-3zm-7-2zm-19 7zm-8-8zm-147-2zm-6 0zm-13 3zm167 13zm7-5zm1 0zm14 8zm10-2zm8-1zm4 1zm11 3zm5 1zm5-4zm1-6zm2 6zm41-5zm-37 16zm-9 4zm-9-6zm-9-2zm-7 7zm-13 1zm-3-3zm-6-3zm-4-3zm-14 6zm-29-5zm-6-1zm-86 8zm54 9zm16 2zm10 0zm4 1zm0-1zm12 2zm2-7zm2-2zm1 2zm5-2zm10-1zm11 10zm22-7zm11 1zm5 7zm4-6zm1 4zm2-2zm38-4zm-66 17zm-8 0zm-2-1zm-4 2zm-17 2zm0-3zm-12 0zm-3-7zm-15 8zm-12-2zm-1-4zm-1-3zm-12 11zm-1-4zm-7 12zm0 1zm9-7zm5 0zm1 6zm2 4zm7-5zm3 2zm4-1zm2 2zm6 0zm1-5zm1-2zm0 1zm64-2zm-42 22zm-17-6zm-11-2zm-3-3zm-14 12zm-4-9zm-5 2zm-9 1zm-31-4zm36 18zm9 4zm1-12zm0 1zm3 3zm6 1zm0 3zm1-3zm4-1zm0 0zm6 1zm1 2zm0-3zm0 2zm2-3zm1 2zm1-4zm4 10zm1-4zm0 1zm1 2zm0-8zm0 7zm2 0zm1 2zm1-2zm5-7zm5 4zm2-4zm6 0zm8 3zm8 1zm-22 15zm-1-2zm-4-1zm-1 0zm-10 0zm-2 1zm-1 1zm-1 3zm-8-1zm-5-6zm-4 3zm-1-2zm-1-3zm-5 6zm-9-3zm-2-2zm-5-1zm-29 0zm49 17zm4-4zm3 7zm8-1zm3-4zm9-3zm9 2zm19-1zm0 1zm-39 9z"/><path stroke="#c53e3d" stroke-width="6.0" d="M1178 99zm5 6zm17 10zm23 17zm-41 14zm-36 21zm12 6zm15-1zm4-5zm18 14zm-4-1zm-20 1zm-25-6zm-38 10zm28 11zm21-7zm21 4zm32-3zm-75 14zm-5-2zm58 16zm-11 29zm14 69zm118-5zm22 12zm-86 18zm16-3zm21-3zm7 1zm12 6zm22-5zm16-2zm4 2zm-12 9zm-25-2zm-15-1zm-1 10zm-47-9zm-43 0zm29 14zm3 7zm3-3zm2 2zm11-1zm8-2zm51-2zm11 4zm51 9zm-54 5zm-8-4zm-5-6zm-1 3zm-19 4zm-67 5zm20 6zm2-3zm7 8zm13-8zm7 8zm9-1zm1-3zm1-3zm0-2zm12 7zm7-3zm4 3zm13-7zm6 14zm-15 0zm-2 5zm-5-3zm-6 4zm-2-4zm-2 2zm-4 2zm-2-5zm-12 2zm-1 0zm-1 3zm-1-10zm-3 6zm-2-4zm-3 3zm-2-4zm-1 2zm-4 8zm-27-6zm12 9zm3-1zm21 5zm1 4zm7-9zm1 4zm1-4zm6-1zm1 2zm7 4zm2 4zm0-3zm1-5zm2-2zm5-1zm0 12zm1-7zm9 5zm0-3zm1-1zm11-1zm1 3zm12 1zm-17 9zm-8-5zm-3 6zm-2 5zm-1 0zm-9-11zm-15 3zm-14 3zm-3-2zm-9-2zm-12 5zm-6-2zm-1 0zm-16 0zm46 9zm4 0zm3-1zm20 1zm6 5zm1-5zm2 0zm3-3zm9 4z"/><path stroke="#af172b" stroke-width="6.0" d="M1184 338zm85 15zm-57 5zm29 0zm35 7zm-5 2zm-11 3zm-70 5zm2 12zm40-6zm7-1zm3 7zm6-7zm17 10zm11-2zm3 0zm9-5zm26 16zm-6-3zm-10 0zm-7-4zm-5 7zm-5-5zm-8 8zm-1-5zm-2-4zm-2 4zm0-3zm-6 0zm-1 4zm-3 0zm-6-6zm0 10zm-5-4zm-6-3zm-5 6zm1 4zm9-3zm4 0zm10 10zm2-9zm0 8zm11-8zm4 10zm3-1zm4-6zm3-4zm2 0zm1 1zm4 6zm1 4zm1-4zm0 0zm0-1zm1-5zm2 4zm10 3zm1-1zm6 6zm-13 6zm-8-4zm0 0zm-6 5zm0 0zm-2 3zm-10-2zm-2-4zm-3 0zm-8 2zm-4 1zm-8-6zm-7-2zm-7 5zm48 9zm6 2zm6-4zm1 1zm3 2zm-53 15z"/><path stroke="#7f0823" stroke-width="6.0" d="M1267 413zm7-3zm1 1zm3-3zm5-3zm2 6zm1-1zm0 5zm-6 3zm-2-2zm-6 4z"/><path stroke="#adadad" stroke-width="5.9" d="M1178 90zm227 10zm90 5zm-5 6zm-20 1zm-3 1zm-27 0zm-64-3zm-178-2zm-39 17zm16 0zm252 0zm31-3zm7 3zm37-4zm2 3zm2 11zm-4-7zm-4 7zm-3-1zm-2 1zm-3-6zm-19 0zm-1 6zm-1-2zm-2-3zm0-3zm-1 3zm0 2zm-3 5zm-1-10zm0 7zm-5-7zm-7 11zm-33-11zm-170 2zm-56 0zm-14 2zm-7 2zm-23 5zm6 11zm5-5zm1-3zm4 3zm0-4zm18 2zm55-4zm3 10zm178-6zm23 1zm1-3zm5 2zm4 3zm3 2zm14-2zm1 2zm3-6zm2 7zm1-7zm0 3zm4 4zm4-3zm9-6zm11 8zm10-9zm5 10zm1-9zm-3 17zm-17-4zm-1 1zm-4 1zm-4-2zm-6 6zm-1-8zm-6 4zm-7 1zm0-5zm0 6zm-6 2zm-16 1zm-215 3zm-47-2zm-3-7zm-2-1zm-2 6zm-2-7zm-11 0zm-5 7zm-5-4zm-21 7zm-31-10zm25 21zm25-10zm16 9zm4-5zm6 1zm20-1zm5-4zm6 5zm1-2zm232 1zm17 4zm24 0zm9 16zm-38-12zm-14 1zm-185 7zm-41 0zm-4-6zm-2 3zm-10 2zm-6-6zm-29 5zm-7 6zm-18 0zm9 3zm281 4zm6 3zm34-8zm18 17zm-18-3zm-36-1zm-214 1zm-56-2zm-12 0zm-39 10zm-41 1zm81 0zm251 4zm24 2zm7 0zm4-2zm50 17zm-23-10zm-51 7zm-220-5zm230 20zm6-1zm8-3zm25 0zm9 5zm3 1zm-29 12zm-1-6zm0 6zm-14-2zm-12-6zm-10-3zm-217 5zm-63 17zm48-10zm32 2zm159-1zm30 3zm33 2zm6-6zm-2 20zm-52-8zm-185 5zm-20 0zm-16-3zm0 8zm-7-3zm-1-1zm-10-3zm-1 8zm-1-2zm-5-5zm17 17zm11-6zm2-3zm23 5zm3 3zm10 2zm153-2zm76-9zm-29 19zm-41-5zm-11 4zm-189 8zm41 4zm20-4zm128 10zm18-11zm0 1zm23 7zm13-5zm7 5zm7 10zm-29-2zm-25 6zm-8-5zm-17-1zm-19 0zm-12 6zm-5-11zm-40 20zm18-1zm15 2zm1 1zm7-6zm14 5zm5-7zm6 1zm1-1zm10 4zm2 6zm15-10zm3 0zm2 3zm7 4zm4-8zm0 5zm20 2zm2-3zm-56 9zm-4 0zm-1 9zm-16-9zm-5 2zm-11-2zm-19 4zm-15-5zm-37 11zm11 11zm51-1zm26-9zm10 1zm5 3zm0 4zm3-9zm14 12zm1-2zm3 0zm5 9zm-35-7zm-6 5zm-23 0zm-2 4zm-7-1zm-16-3zm-28 5zm-8-3zm-2 4zm-18 7zm29 1zm21 0zm22-1zm1 2zm24 2zm45-9zm-66 21zm-3 0zm-4 1zm-10-8zm-9 2zm-3 2zm-23 3zm-2 7zm5 3zm4-4zm5 7zm11 0zm3-8zm3 4zm3-4zm1 0zm4 6zm4-2zm1 3zm2 0zm11-9zm2-1zm12 13zm-5 10zm-10-8zm-9-2zm-1 9zm-4-5zm-5-1zm-7-1zm-13 6zm-5-5zm-13 16zm22-2zm6 1zm43 3zm2 0z"/><path stroke="#c9c9c9" stroke-width="6.0" d="M1362 108zm-10 6zm14 10zm77-4zm17 6zm7-4zm1 10zm-1-2zm-1 3zm-1-2zm-2 7zm-11-10zm-8-1zm-2 7zm-3 1zm-4-5zm-5 3zm-2-6zm-16 11zm23 9zm1-4zm1 3zm5 1zm9-2zm5-2zm2 5zm2-7zm2 1zm3-1zm3 1z"/><path stroke="#dcdcdc" stroke-width="6.0" d="M1482 109zm-3 2zm-18 2zm-2-10zm-13 6zm-3-1zm-51-3zm-12 4zm-5 7zm30 8zm22 1zm33-1zm1 0zm4 1zm1-1zm0 0zm1-2zm3 3zm9-6zm5-5zm30 8zm-3 13zm-5-7zm-1-1zm-3 1zm-1 9zm-6-1zm-1-6zm-8 2zm0-1zm-1 1zm-1-1zm-4 1zm-3 3zm-2 2zm-7-2zm0-8zm0 6zm0 4zm-2-7zm-1 0zm-1-1zm-5-1zm-5 3zm-1 6zm-5-11zm-7 1zm-8 8zm-84-4zm70 13zm23 5zm10-8zm2-2zm1 6zm1 1zm2 1zm4-8zm3 6zm1-1zm3-4zm1 3zm2 5zm0-6zm0 1zm5 6zm1 0zm1-7zm5 3zm3 2zm7-4zm1-2zm1 7zm15 14zm-2-10zm-1 2zm-12-3zm-6 7zm0-3zm-13 1zm-11 0zm-3-5zm-5 3zm-25 12zm2-4zm31 1zm10 1zm32 0zm13 1zm-41 16zm-38-6zm-33 5zm-8 5zm-51 0zm5 7zm130 3zm26 2z"/><path stroke="#eeeeee" stroke-width="6.0" d="M1472 101zm8 0zm12 12zm-3-7zm-14 20zm2-3zm1-9zm0 9zm1-5zm0 1zm3-3zm3 8zm0-2zm1 0zm6-6zm0 9zm2-11zm12 9zm16 6zm-2 9zm-2-1zm-1-7zm-1 4zm-3 2zm-4-8zm-2 3zm-1-1zm-2 7zm-10 1zm-2-2zm-3 2zm-3-12zm0 9zm0 1zm-1 2zm-1-7zm-1 5zm-1 2zm-1-7zm0 4zm0 1zm-1-9zm0 2zm-1 7zm0-2zm-1-5zm-1 2zm-2 4zm0 2zm-2 0zm0-10zm-2 0zm-2 0zm-40 21zm13-9zm28-1zm1 9zm1 1zm1-4zm1-1zm2-4zm1 0zm1-1zm0 11zm2-7zm1 8zm0-4zm2-4zm0 7zm1-9zm1 6zm1-4zm0 5zm1 0zm0-9zm1 0zm0 8zm4 1zm3-2zm0-3zm2 7zm2 0zm3-7zm1 4zm0-6zm9 1zm0 6zm4 4zm-4 5zm0 5zm-4-11zm-4 9zm-4-4zm0 6zm0-6zm-1 0zm-3-3zm-1 9zm-1-3zm-2-5zm-1 7zm-2-4zm-2-4zm-4 4zm-1 5zm-5-3zm-1 2zm0-8zm-1 9zm-1-3zm-3-5zm-2 1zm-2 8zm0 0zm-2-5zm-4-3zm-5 4zm-7-5zm-2 7zm-2-10zm-4 1zm-6 3zm-10 7zm3 10zm17 0zm0-1zm8-5zm1 2zm0-2zm11 5zm1 3zm0 0zm4-5zm0-2zm2 1zm4 1zm4-4zm1 8zm1-6zm0 4zm4 3zm13-3zm7-7zm17 8zm-4 8zm-12 2zm-13 2zm-9 3zm-12-10zm-5 2zm-4 3zm-1 3zm-2-5zm-8 3zm-1-7zm-7-1zm-26 8zm38 15zm58-10zm8 13zm-38-1zm-68 0zm50 14zm-7 11zm-8 4zm-39-5zm50 18z"/><path stroke="#f9efe9" stroke-width="6.0" d="M1481 102zm12-5zm11 10zm-18 4zm-4-5zm-2-2zm-3 5zm-2-4zm-283 0zm-32 18zm23 0zm287-4zm2-2zm2-1zm1 8zm3-2zm3 2zm0-6zm1 3zm5 1zm5 2zm5-4zm5 5zm8-11zm9 20zm-2 1zm-3-1zm-3-4zm-1 2zm-1-2zm-1-3zm-2 8zm-1-6zm-3 5zm-2-2zm-3 4zm0-9zm-1 8zm-4 1zm-2-6zm-3 5zm-1-2zm-1 3zm0-5zm-1 1zm-1 5zm-1-4zm0-5zm-1 0zm0 9zm0-2zm-3 0zm-3-6zm0 3zm-1 6zm-2-2zm-3-3zm-296-1zm23 13zm259 3zm7 1zm6 0zm1-8zm1-1zm0 2zm1 2zm1-2zm0 5zm0-1zm0-1zm1 2zm0-1zm1-7zm0 11zm0-6zm2 4zm0-7zm0 0zm1-3zm0 3zm1 5zm0-3zm0 5zm0-3zm1-5zm0 1zm1 8zm2-10zm1 2zm1 8zm1-4zm2 0zm0 1zm0-6zm0 9zm4-7zm0-1zm0 5zm2 0zm1-1zm0-3zm2-3zm1 4zm1 2zm2 1zm2-2zm1 1zm1-2zm0 2zm1 0zm3-3zm0 7zm0-6zm4-5zm0 2zm0 3zm1-1zm4 5zm5 1zm0 10zm-7 1zm-2-1zm0-4zm-2-4zm-3 2zm-7 4zm-1-3zm-3-1zm-1 3zm0-3zm0 2zm-1 5zm-4 0zm0-5zm-1 5zm0-2zm-2-5zm-1 10zm0-3zm0 0zm-1-2zm-2 2zm0-2zm0-3zm-2 6zm-1-7zm-1 0zm-12 4zm-1-7zm0 4zm0 4zm-1 4zm-3-6zm-1-2zm0 6zm-5-1zm0-7zm0-1zm-1 0zm-1 2zm-6 8zm-7-11zm0 1zm-6 7zm-3-1zm-169 0zm-68 1zm-52 15zm71-7zm209 2zm31-2zm10-2zm7 10zm2-3zm2-5zm1 2zm2-2zm1 2zm4-2zm3 0zm5 6zm4-3zm1-1zm9 1zm3-5zm6-2zm6 0zm-35 17zm-15 4zm0-7zm-1 7zm-8-8zm-1 6zm-1 3zm-4-5zm0-2zm0 3zm-8 4zm-23 2zm-1-6zm-19-1zm-40-1zm-8-4zm-122 6zm-41 0zm-8 6zm10 0zm199 3zm33 5zm19-7zm4 11zm5-11zm7 9zm6 1zm1-1zm3-10zm6 20zm-5-3zm0 5zm-20-2zm-9 1zm-26 0zm-10-7zm-60 0zm98 21zm3-10zm7 3zm1 10zm-5 2zm-39 3zm-207-1zm-21 4zm238 13zm13-7zm4 2zm15 5zm2 6zm0 7zm-13-11zm-4 5zm-9 4zm-13-8zm-42 7zm-166 9zm238-3zm-13 17zm-31 2zm-1-4zm-4-4zm-219 1zm-24 10zm20 10zm14 0zm17 0zm10-1zm220-6zm-68 8zm-10 10zm-160-8zm-24 0zm-4 2zm228 10zm12 1zm24 13zm-35-3zm-14 2zm-181-1zm-39 2zm247 23zm-47 4zm-33 3z"/><path stroke="#fcdfce" stroke-width="6.0" d="M1168 88zm344 19zm-369 17zm39-3zm17 2zm1-3zm46-4zm227 8zm16-1zm6 2zm1 1zm12-11zm2 15zm-5 8zm-5-4zm-3-7zm-4 9zm0-6zm-7-4zm-1 8zm-3-3zm0-5zm-3 8zm-5 2zm-2-2zm-257 0zm-1-4zm-7 6zm-15-9zm-11 2zm-11 9zm-4 0zm-9-3zm-11-4zm-41 8zm29 6zm4 4zm9-10zm307 10zm16-7zm1 7zm1-3zm4 0zm2-4zm0 2zm1-2zm1 4zm1 1zm6-2zm5 3zm4-8zm0 1zm2 7zm5-9zm2 6zm1-1zm6 4zm4-7zm1 2zm4 9zm-5 0zm-26 5zm-1-1zm0 2zm-2-7zm-2 1zm-1 10zm-1-7zm0-3zm-1 1zm-1 5zm-2-2zm-1-5zm0 2zm0-2zm-3 4zm-1 0zm-1 3zm-1 3zm-2 1zm-2-10zm-1 1zm-8 1zm-3 7zm-3-2zm-3-7zm-18 8zm-209-1zm-18 2zm-20-8zm-7 4zm-1-1zm-1 2zm-4-5zm-4 3zm-20-1zm-2 5zm-16-6zm-10 0zm-80 16zm10 2zm55-5zm32 0zm11-2zm33 1zm1 7zm0-8zm4 8zm16 1zm260-1zm18-6zm2-1zm1-1zm4 0zm1 0zm21 2zm-13 16zm-7 2zm-5-5zm-4 1zm-3 2zm-13-2zm-2-5zm-1-1zm-13 3zm-236 2zm-27-1zm-19 3zm-30-5zm33 10zm10 2zm14 6zm14-5zm7 1zm0-5zm192 9zm30-7zm4 4zm25-3zm5 8zm6-11zm21 23zm-31-2zm-2-3zm-2 5zm-81-6zm-161 0zm-5 2zm-50 9zm278 5zm29-5zm17 15zm-29 5zm-1-8zm-22 6zm-12-5zm-1 3zm-1-8zm-13 11zm-43 8zm65-5zm3 4zm2 2zm3 3zm8-6zm0 16zm-25-7zm-17 8zm0 1zm-239-4zm-1 6zm161 11zm14-8zm22-2zm20 2zm18-3zm9 6zm1-3zm13 5zm0 1zm1-9zm19 20zm-24 1zm-26-2zm0-6zm-2 9zm-30-8zm-166 2zm-9 5zm-5-4zm-44 14zm1-7zm17 10zm16-1zm54 0zm27-5zm94-2zm25 5zm5-5zm7 5zm16-1zm8 1zm42-6zm-48 21zm-19-6zm-3-3zm-20 9zm-83-6zm-90 6zm-3-2zm-43 2zm16 3zm29-1zm142 6zm4 4zm4-1zm16-3zm15 4zm3-2zm5-7zm5 1zm9 6zm11-5zm42 16zm-13-7zm-57 4zm-3-3zm-4 1zm-4-2zm-4 9zm-32 1zm-148 4zm129 9zm15-2zm5-5zm11-4zm15 7zm4-6zm10 8zm1-4zm1 2zm4-5zm17 1zm2 4zm6 3zm5 0zm-15 10zm-4 2zm-4-8zm-4-1zm-6 2zm0-4zm0 3zm-6 1zm-4-3zm-11 5zm0 5zm-3-10zm-15 2zm-141 15zm121 2zm10-5zm1-1zm9 9zm26-8zm28 11zm-10 6zm-19-6zm0 5zm0-4zm-4 2zm-16 7zm-44-9zm-35 3zm-1 6zm-6-3zm-16-1zm-67-7zm80 20zm62 11zm-5-5zm-15 6zm-5-3zm-1 3zm-1-7zm-13 10zm-10-3zm-21 1zm15 2zm1 6zm45-4zm9 6zm1-3zm11 10zm-11 8zm-3-3zm-11 0zm-8 2zm-16-5zm-10 2zm-13 4zm10 5zm55 8z"/><path stroke="#f7ba9c" stroke-width="6.0" d="M1152 91zm32 25zm19 2zm-12 14zm-7-3zm-22-2zm-1 10zm-8-3zm-38 1zm-6 3zm8 6zm10 3zm61 3zm24 12zm-31-5zm-15-2zm-2 0zm-8 5zm-83-5zm63 12zm64-3zm15 1zm7 4zm-77 17zm-10-11zm-84 21zm89-7zm21 2zm2-1zm7-3zm1 5zm251 17zm-277 5zm0-2zm300 0zm12 5zm5-2zm6 4zm-39 3zm-226 3zm-21 6zm238 9zm43-1zm10 7zm3-6zm8 2zm-17 9zm-23 5zm-17-8zm-2 0zm-3 1zm-51 4zm-16-4zm-180 20zm19-7zm37 5zm171-3zm7-5zm34 1zm1 3zm-8 17zm-3-2zm-242 1zm-4-3zm-43 3zm-7-1zm5 13zm18-5zm8-3zm2 11zm4-8zm31 1zm154-2zm20 2zm9 2zm5 0zm8-1zm13-6zm25 20zm-26-7zm-12 6zm-12-1zm-13 1zm-6-1zm-29-5zm-136 3zm-23-3zm-2 4zm-4 2zm-10 0zm0 7zm5 0zm3 8zm166-1zm3-4zm13 6zm2-1zm7-1zm7-4zm15-5zm28 13zm-42-1zm-1 10zm-2-1zm-2-4zm-6 1zm-5-4zm-2 5zm-4 3zm-21-4zm-141-6zm-12 16zm87 2zm25 1zm17 2zm10-8zm10 8zm15 3zm3-3zm3-5zm12 4zm2 1zm10-4zm17-5zm0 7zm2-1zm8 0zm2 10zm-23-2zm-5 8zm-9-5zm-3 1zm0-5zm-5 4zm-3 5zm-1-9zm-1 3zm-8 6zm-3-7zm-5-3zm0 0zm-6 8zm-1 4zm-1-5zm-1-2zm-21 1zm-2-4zm-6-1zm-6 8zm-16-3zm-36 5zm-77 1zm13 5zm56-2zm19-2zm13 8zm6 0zm5 0zm16-9zm7 7zm0-4zm1 1zm7-4zm23 8zm7 0zm0-4zm14 6zm8-8zm30 2zm4 2zm-5 10zm-39 7zm-16-5zm-10 0zm-9 1zm-26-1zm-7 1zm-19-1zm-14-2zm-1 6zm-7-8zm-32 1zm40 18zm20 0zm5-1zm2-4zm42 18zm-21 2zm-13-1zm-5-8zm0 2zm-2 0zm0 5zm-1-9zm-2-1zm-2 1zm-5 6zm-6-2zm0 5zm-13-5zm-5 6zm-12-10zm4 19zm12 0zm1-2zm9 3zm3 0zm1-3zm3 0zm3-4zm1 6zm4-3zm0-1zm5 3zm9 4zm6 1zm2 0zm2 0zm5-6zm20 2zm7 4zm-11 2zm-2 1zm-6 4zm-3-6zm-3 1zm-3 9zm-3-2zm-4-4zm-1 6zm-2-5zm-2-2zm-6 6zm-3-6zm-18-3zm-29 10zm21 3zm21-1zm4 0zm13 7zm40-6z"/><path stroke="#ea8f71" stroke-width="6.0" d="M1107 82zm13 19zm27-4zm1 11zm2 9zm15 5zm78-8zm-75 19zm-8 5zm-9-4zm-11 2zm4 13zm0-8zm16 0zm1 1zm3 6zm2-4zm10 3zm1-3zm4-3zm13 3zm21 3zm17-4zm-71 7zm-3 8zm-11 1zm-13-1zm36 9zm6 3zm3 1zm45 0zm9 13zm-35-9zm-45 5zm-32 3zm51 6zm25 9zm-30 3zm-46 21zm150-4zm-106 9zm-2 2zm10 6zm250 17zm-37 17zm18-8zm12 7zm8-1zm-7 3zm-15 5zm-25 5zm-7 1zm-182-3zm-49-5zm25 16zm8 3zm188-8zm34 4zm15 6zm4-11zm21 4zm33 1zm-19 15zm-42-8zm-7 9zm-3 1zm-38-1zm-7-3zm-150-2zm-16 6zm-3 9zm108 1zm3-3zm34 6zm1-11zm33 3zm4 4zm9 0zm5-7zm15 7zm16 2zm0 12zm-24 0zm-17-7zm-3 5zm-11-5zm-3 2zm-18 4zm-6-3zm-68-3zm14 19zm47-6zm25 2zm0-2zm2 2zm0-1zm1 5zm9-3zm8 4zm1-7zm6-3zm8 3zm6 2zm-3 11zm-6-1zm-15-2zm-3 1zm-5 4zm0-5zm-2 9zm-6-5zm-1 1zm-4 1zm-3-3zm-4 3zm-8-6zm-3 6zm-35 0zm-4-5zm-15-1zm-7-1zm-25 7zm-6 11zm3 0zm22 3zm25-7zm9 8zm3-6zm10-3zm1 3zm1 3zm5-7zm6 2zm19-1zm5 0zm8 5zm43 1zm17 0zm-12 5zm-44 1zm-31 7zm-57-1zm-1 1zm-11 0zm-6-7zm-4 9zm-38-11zm15 21zm0 0zm3 2zm3-4zm21-5zm6-2zm5 9zm18-3zm45-1zm0 13zm-32-6zm-7 9zm-5 3zm-4-10zm-1 0zm-7 9zm-25-5zm-1 0zm-4-4zm19 11zm6 5zm1 0zm1 5zm4-8zm2-2zm10 9zm5-4zm3 0zm9 1zm3 3zm1-8zm3 3zm0-1zm5-1zm9 8zm9 0zm-2 8zm-5-3zm-8-3zm-6 2zm-17-2zm-3 2zm-3 0zm-1 9zm-2-8zm-6 7zm0-9zm0 0zm-14 3zm-6-1zm-6 6zm0-7zm-11-1zm-11 6zm34 10zm3-6zm10 2zm4 3zm2 6zm2-5zm24 4zm11-9zm-30 13z"/><path stroke="#d86651" stroke-width="6.0" d="M1055 103zm51 18zm69-6zm10 5zm8 5zm15-6zm20-4zm7 22zm-37 1zm-11-1zm-24-9zm-16 7zm-14 11zm103 2zm-26 10zm-7 2zm-1-6zm-15 5zm-7-1zm-11-1zm-1-7zm-14 1zm-17 7zm-44-2zm37 16zm52-8zm3 8zm22-9zm27-1zm-19 15zm-1 0zm-16 0zm-28 8zm-31-1zm-11-3zm-22-2zm21 9zm22 1zm12 7zm11-4zm8-2zm-7 11zm-8 10zm-21 29zm40-3zm47 4zm124 30zm-9 42zm11-2zm14-3zm17 7zm11 13zm-2-3zm-1 5zm-22-7zm0-1zm-5-4zm-6 0zm-2 4zm0 5zm-3-2zm-12-1zm-38 2zm-11-7zm-95 16zm31 6zm66 1zm8 0zm23-4zm0-1zm10 3zm3-8zm1 8zm2-6zm5 3zm6 1zm8 1zm5 2zm5-10zm3 2zm16 0zm18 2zm-37 8zm-10 4zm-9 0zm-37 3zm-27 0zm-7 3zm0-1zm-14-2zm-8-6zm-112-1zm83 13zm3 3zm18 5zm79 0zm5-1zm8 1zm8-2zm28-7zm4 0zm-22 23zm-24-2zm-25-1zm-3-3zm-10-1zm-4-4zm-8 10zm-21-5zm-2-6zm-38 2zm26 20zm17-1zm11-9zm18 16zm0 7zm-6-4zm-2 0zm-15 5zm-3 0zm-4-5zm-4 4zm-3 0zm-6-10zm-22 10zm-5-7zm-13 2zm10 13zm9 4zm0-4zm6-4zm14 7zm6 1zm1-6zm6-1zm1-1zm1 0zm1 4zm1-5zm1 6zm6 1zm4-7zm5 3zm8 7zm8-8zm11 5zm-4 7zm-15 7zm-8 0zm0-6zm-1-2zm-1 0zm-9-1zm-5 6zm-5-3zm-9 1zm-6 6zm-2-2zm0-2zm-5-5zm-13 9zm-13-10zm51 13zm6-2zm5 8zm1-9zm2 2zm36 6zm-3 6z"/><path stroke="#c53e3d" stroke-width="6.0" d="M1165 125zm14 9zm-30-4zm-29 13zm6 5zm75 5zm-85 8zm29 1zm34 9zm22-9zm-52 32zm21 21zm128 101zm-107 26zm126-4zm1 3zm17-10zm-21 20zm-18-3zm-32 0zm-14 3zm-2-9zm1 14zm1 7zm18-5zm6 2zm29-3zm22 1zm24 8zm-15 4zm-12-3zm-17 0zm-18 9zm-4-2zm-15-4zm-3 5zm-5-7zm-5 1zm-35 7zm-42-1zm51 13zm5-3zm3 1zm2-1zm7 0zm11-4zm9 6zm21-6zm2 6zm2 1zm5-6zm30 13zm-3 2zm-11 3zm-3-1zm-22-2zm-8 3zm-10 1zm-5-4zm-1-5zm-8 0zm-7 8zm-15-6zm-1 2zm-5 1zm-5-2zm-8-1zm-11-1zm10 21zm17-5zm17 0zm3-3zm9 4zm5-6zm0 1zm7 8zm3-8zm3 6zm2-3zm1 3zm2-6zm1-3zm5 0zm2 6zm10 5zm14-3zm0-3zm10 5zm2-2zm0 4zm9-10zm-13 11zm-2 9zm-3-7zm-5 4zm-6-1zm-4 0zm-3-4zm-1 2zm-6-1zm-2 7zm-1-9zm-6 5zm-3 3zm-4-2zm-5 3zm-2-6zm-2 6zm-3-5zm-2 0zm-7 0zm-2-2zm0 3zm-10 1zm-1 3zm-25 6zm40 2zm0 3zm5-8zm14 2zm6 3zm15-1zm17-3zm10 10zm-25 2z"/><path stroke="#af172b" stroke-width="6.0" d="M1175 335zm40-2zm33 9zm-77 18zm61-3zm29 6zm6-7zm-27 22zm-7-10zm-4 15zm6 0zm4 0zm1 0zm11-4zm24 3zm8 2zm9 1zm3 4zm16 5zm-22-1zm-1 7zm-3-5zm-11 5zm-4-5zm-6-3zm-3 10zm-16-4zm-17 10zm24 5zm5-8zm8 9zm0-3zm2-5zm0 1zm1 4zm1-3zm4 3zm3 0zm4-1zm0-1zm10-4zm5 0zm5 8zm1-1zm10-1zm16 11zm-30-8zm-12 6zm-1-4zm-2 4zm-2-3zm-2 6zm-1-5zm-6 7zm0 0zm-7-9zm0-2zm-1 4zm-12-1zm-17 1zm17 9zm2 4zm8 3zm20-8zm22 6zm10 0z"/><path stroke="#7f0823" stroke-width="6.0" d="M1283 401zm-19 7zm6 1zm3 4zm2-7zm3-1zm2 7zm1 1zm1-5zm0 4zm2 0zm2 1zm-7 7zm0-5zm-5 1z"/></g><g fill="none" stroke-linecap="round"><path stroke="#adadad" stroke-width="5.9" d="M1662 111zm7 10zm29 0zm4 5zm21-9zm7-2zm13 4zm268 4zm37 3zm24 0zm-5 10zm-8-1zm-3-1zm-3 0zm-3 0zm-3 2zm-3-1zm0-1zm-7 1zm-1-5zm-1 0zm0 7zm0-1zm0-3zm-5-4zm-3 0zm-2 8zm-7 0zm-1-1zm0-3zm-16 5zm-2-6zm0 6zm-1-1zm-23 0zm-15-8zm-13 5zm-1-3zm-11 6zm-151 1zm-31-2zm-15-2zm-1 1zm0-3zm-3-5zm-1 1zm-13 3zm-14 3zm-3 3zm-3-9zm-90 3zm44 13zm7 6zm30 0zm3-3zm2-8zm0 2zm3 8zm4-8zm2 4zm0-6zm10 7zm4 4zm15-1zm3-3zm0 3zm1-8zm1 3zm4-1zm10 0zm0-3zm2 9zm0-7zm4 7zm4-1zm3 1zm2-7zm0-3zm2 1zm10-2zm2 10zm16-5zm3 2zm129 0zm1-6zm19 10zm7-4zm14 3zm4-3zm1-3zm2-2zm2 5zm4-6zm3 10zm6-2zm2-9zm1 6zm2 4zm0-7zm1 8zm1-8zm2 6zm2-1zm4 1zm2 0zm0 3zm3 0zm0-11zm1 3zm1 3zm0 3zm0-2zm1 4zm0-9zm1 3zm1 1zm0 2zm3-2zm1-3zm0 7zm0-8zm1 7zm2 0zm0-2zm0-8zm2 7zm0 4zm0-8zm1 5zm0 2zm1-3zm2 3zm1-1zm0-8zm1 4zm0 6zm1-5zm0 4zm0-1zm0-2zm0 3zm1-1zm0-4zm2 6zm0-7zm0 0zm0 7zm0-11zm2 1zm0 6zm1-5zm0 2zm0 0zm1 5zm0-1zm0-6zm1 2zm0-3zm1 5zm2-4zm0 8zm0 0zm0-8zm2 2zm0 8zm0-5zm0 3zm1 1zm1-6zm1 6zm1 1zm1-2zm0-8zm0 9zm1-6zm2 3zm1 1zm0 1zm1-7zm0 7zm2-1zm0-5zm0 2zm3 4zm1-4zm1-3zm1 2zm0 3zm1 1zm5 0zm5 9zm-4 3zm0-5zm0 1zm-1 3zm-2 2zm0-9zm-1 11zm0-9zm0 8zm-1-1zm0-8zm-1 7zm-1 2zm0-4zm-1 2zm0-2zm0-3zm-1 7zm0-7zm0 4zm-1 2zm0-4zm0 0zm-1-1zm0-4zm0 5zm-1 0zm0-1zm0 0zm-1-3zm0 6zm-2-4zm0 3zm-1-4zm0-1zm0 6zm0 0zm-1-1zm0 4zm-1-6zm0-4zm0 10zm-1-7zm-1 1zm0 3zm-1 2zm0-2zm-1-7zm0 1zm-1 8zm0-3zm0-5zm0 9zm0-2zm-1-3zm0-3zm0 7zm0-5zm0 4zm-1-6zm0-1zm0 7zm-1 0zm0 1zm0 0zm0-4zm0-1zm0 2zm-1 2zm0 2zm0 1zm0-5zm-1-7zm0 7zm-1 0zm0 3zm-1-5zm0-4zm-1 8zm0-4zm0 0zm0 4zm0-3zm0 6zm0-2zm0 0zm0-9zm-1 7zm0-7zm0 8zm0 1zm0 0zm0-7zm-1 7zm0-7zm0 7zm0-2zm0-4zm0 7zm-1-2zm0-9zm0 11zm0-9zm0 9zm0-5zm0 2zm-1 2zm0-6zm0 3zm0 0zm0-7zm-1 7zm0-4zm0 8zm0-1zm0-1zm0-6zm0 2zm-1-3zm0 9zm0-3zm0 0zm0 4zm0-5zm-1-4zm0 5zm0 3zm0-9zm0 3zm-1 3zm0-5zm0-2zm0 10zm0-10zm0 2zm-1 6zm0-6zm0 7zm0-6zm0 6zm0-2zm0-6zm-1 0zm0 4zm0 0zm0 0zm0 0zm-1 1zm0-4zm0 1zm0 7zm0 0zm0-3zm-1 2zm0-4zm-1-3zm0 2zm0-5zm0 6zm-1 2zm0 4zm0-7zm-1 3zm0 1zm0-3zm-1 2zm0-4zm0-1zm0 3zm-1 5zm0-7zm0 7zm0 1zm0-8zm-1 0zm0-1zm0 2zm0 1zm0-3zm-1 5zm0 0zm0-4zm0-3zm-1 2zm0 6zm0 0zm0 2zm-1-1zm0-6zm0 4zm0 1zm0-9zm-1 8zm-1 0zm0 0zm-1-2zm-1 0zm0 6zm0-9zm0 2zm0 2zm-1-3zm0 8zm-1-5zm0 4zm-1-10zm-1 7zm0 1zm0-4zm-1 7zm-4-5zm0-5zm-2 7zm0-3zm-1-2zm0 5zm0 1zm-1-5zm-1-5zm0 1zm-1 5zm0 3zm-2-3zm0-3zm0 5zm-1 3zm0-1zm-1-10zm-1 6zm0 0zm-2 3zm-4 0zm-2-6zm-2 9zm-1-11zm-2 0zm-1 2zm-4 2zm-3 4zm-1-7zm-2 7zm0-3zm0 6zm-2-5zm-8-5zm-2 1zm-9 0zm-47 7zm-102-2zm-1-7zm-15 4zm-5-5zm-1 1zm-2 9zm-3-1zm-6 0zm-11 3zm-3-1zm-4-9zm-3 2zm0 5zm-2 2zm0-4zm0 3zm-4-4zm0-3zm-3-2zm-1 1zm-1 9zm-1 0zm-4-4zm0 3zm-2-4zm-2 5zm-8-10zm-2 5zm0-3zm-1 3zm-1 4zm0-6zm-1-2zm-1 2zm-1 8zm-1-10zm-6 5zm-1 2zm-1 2zm-1-6zm-1 4zm0-5zm-1 5zm0 3zm0-2zm-3-7zm-7 4zm-10-4zm-8-2zm-23 3zm-12-3zm-8 4zm-7 11zm5-2zm13-1zm4 2zm5 7zm3 1zm7-5zm10-5zm3 11zm2-2zm2-10zm6 12zm1-8zm2-1zm3 9zm0-5zm3 2zm0 1zm3-7zm1 2zm1 2zm4-6zm1 4zm0-3zm0 3zm4 0zm2-4zm2 6zm0-1zm1-3zm1-2zm1 10zm0-8zm2 9zm0-8zm1 2zm1-2zm1 7zm0-3zm0-2zm1 4zm0 1zm2-6zm0 6zm2-11zm0 7zm1 1zm1-4zm1 0zm1 6zm1-1zm1-7zm3 9zm1-9zm1 9zm0-11zm2 8zm0-1zm1 1zm0 3zm1-1zm2-1zm0-3zm2 4zm2-1zm1-2zm2-5zm0 3zm1 6zm1-1zm1 1zm1 1zm0-1zm2-7zm2 0zm3 0zm1 5zm3-8zm0 2zm1 5zm6-7zm8 7zm2-4zm0 8zm1-3zm6 3zm1-3zm3-5zm1 1zm19 0zm113-3zm21 3zm3-3zm7 9zm14-8zm4 4zm2 3zm11-10zm3 3zm0 7zm3-9zm0 9zm3-9zm0 9zm0-4zm1 5zm1-2zm0-8zm1-1zm0 6zm1 0zm0-5zm0 2zm2 3zm1-2zm1 8zm0-9zm1-1zm1 1zm1 6zm1-5zm0 2zm0-5zm0 3zm1 3zm0 3zm1-4zm0-3zm0 7zm0 1zm0-8zm1 4zm0-5zm1 7zm1 0zm0 2zm1-10zm0 8zm1-6zm0-1zm0 9zm1-6zm0 4zm0 1zm0-9zm0 1zm0 8zm0-8zm1 3zm0-1zm0 5zm0-6zm1 7zm0-9zm0 11zm0-11zm1 0zm0 6zm0-3zm0-1zm0 3zm0 3zm1-8zm0 5zm0 2zm0-6zm0 1zm0-1zm0 2zm0 1zm2-1zm0 8zm0-2zm1 1zm0-1zm0 0zm0-7zm0-3zm0 7zm0-4zm0 4zm0 4zm0-2zm1-4zm0 7zm0-8zm0 6zm1-4zm0-3zm0 1zm0 0zm0 5zm0-2zm0 1zm1-2zm0 6zm0-7zm0 2zm0 3zm0-5zm0 3zm0 0zm1-2zm0 1zm0 4zm0-3zm0 2zm0 1zm0-2zm0-7zm1 2zm0 6zm0-3zm0 1zm1 1zm0-1zm0 2zm0-4zm0 6zm0-7zm0 2zm0 2zm0 1zm0-9zm1 2zm0 4zm0-3zm0 7zm0-3zm0 2zm1-6zm0 6zm0-8zm0 4zm0 0zm0 2zm0 3zm0 0zm1-10zm0 1zm0 2zm0 3zm0 1zm0-2zm0 1zm0-5zm0 2zm0 7zm1-5zm0 0zm0-2zm0 5zm0-7zm0 1zm0 3zm1 3zm0 2zm0-6zm0 0zm1 3zm0-6zm0 6zm0 1zm0-2zm0-4zm0 6zm0 2zm0 0zm0-7zm0 5zm1-8zm0-1zm0 6zm0 0zm0 3zm0-7zm0 6zm1 1zm0-4zm0 6zm0-1zm0-5zm0 6zm1-9zm0 5zm0-2zm0-2zm0 5zm1-5zm0 1zm0 7zm0-4zm0-2zm0-1zm1 0zm0 4zm0 1zm1 1zm0-3zm0-4zm0 8zm0 0zm0-3zm0 0zm0-2zm1 6zm0-9zm0-2zm0 3zm1 7zm0-1zm0-7zm0-2zm0 10zm0-8zm0 1zm0 5zm0-7zm1 9zm0-4zm0-1zm0-4zm0 3zm0 5zm1-8zm0 3zm0 5zm0-9zm1 6zm0-2zm0 7zm0 0zm0-4zm0 0zm0-3zm0 1zm0 4zm0-1zm1 3zm0-8zm0 2zm0 4zm0-4zm0-3zm1 0zm0 5zm0-7zm0 6zm0-2zm0 0zm0 0zm0-4zm0 1zm0 0zm0 7zm1-1zm0-1zm1-2zm0-1zm0-2zm0 7zm1 3zm0-7zm0-1zm0 6zm1 2zm0-7zm0 7zm0-7zm0 1zm0-1zm0 2zm0-5zm0-1zm0 11zm0-9zm0 8zm1-5zm0-1zm0-3zm0 9zm0-10zm1 8zm0-5zm0 4zm0-6zm0 7zm0-6zm1 5zm0-4zm0-1zm0 6zm0 2zm1-4zm0 0zm1 0zm0 3zm0 2zm0-5zm0-3zm0-2zm0-1zm1 3zm1 5zm0 2zm1-9zm0-1zm0 11zm0-4zm1 2zm0-6zm0 2zm0-1zm0 5zm0-10zm0 11zm1 0zm0 0zm0-7zm1 6zm0-5zm0-3zm0-1zm1-1zm1 1zm0 11zm0-9zm0 8zm1-6zm0 2zm1 3zm0-2zm0-4zm1 3zm1 0zm0 2zm0-5zm1-2zm0 1zm1 7zm2-10zm0 8zm1-7zm0 8zm1-2zm0 0zm0-3zm0 1zm1-4zm0 8zm0 0zm0-7zm1 2zm2-3zm-1 17zm0-5zm0 4zm-2-3zm-2 9zm0-9zm0 0zm-1 3zm-1-4zm0 11zm-1-10zm-1 0zm0 7zm-1-5zm0-4zm0 3zm-1 2zm-1-2zm0-3zm-1 7zm0 4zm0-8zm-1 6zm0-2zm0-2zm0 4zm-1 2zm-1-3zm-1-6zm0 9zm0-9zm-1 8zm0-2zm0-7zm0 0zm0 7zm-1-8zm0 9zm0-8zm0 1zm-1 0zm0 4zm0 4zm0-5zm0-3zm-1 5zm0-2zm0-2zm0 5zm-1 1zm0-8zm0 9zm-1-6zm0 0zm0-3zm0 4zm-1 2zm0 4zm0-1zm0-9zm0 10zm-1-2zm0-7zm0 6zm0-6zm0 6zm0-6zm0 5zm-1-1zm0-3zm0 3zm0 4zm0-3zm0 4zm0-11zm-1 4zm-1-1zm0 3zm-1 0zm0-2zm0 6zm0-2zm0 0zm0-7zm0 5zm-1-1zm0 7zm0-10zm0 6zm0-3zm-1-4zm0 4zm0-3zm-1 5zm0 3zm0 2zm0-12zm0 3zm0 9zm0-8zm-1-2zm0 9zm0-4zm0-2zm0 6zm-1-9zm0 3zm0-4zm0 1zm0-2zm0 6zm0 1zm-1-3zm0-4zm0 3zm0 5zm0-6zm0 1zm0-3zm0 6zm-1-4zm0 9zm0-7zm0 6zm-1-9zm0 10zm0 0zm-1-9zm0 1zm0 9zm0-3zm0 0zm0 0zm0 1zm0-10zm0 5zm-1 6zm0-4zm0-2zm0 2zm0-1zm0 0zm0-2zm-1 1zm0 3zm0 4zm0-2zm0-6zm-1 7zm0-3zm0-7zm0 2zm0 1zm-1-1zm0 2zm0-2zm0-2zm0 6zm-1 0zm0 0zm0-1zm0 5zm0-1zm0-5zm0 5zm0-3zm0 1zm0-1zm0 4zm-1-8zm0 6zm0-3zm0-3zm0 5zm0-2zm0-5zm0-1zm-1 5zm0-2zm0-3zm0 7zm0-4zm0 8zm0 0zm-1-4zm0-4zm0-1zm0 1zm0-2zm0-1zm-1 8zm0-5zm0 6zm-1 3zm0-3zm0-4zm0 7zm0-7zm-1 3zm0-8zm0 1zm0 1zm0 0zm0-1zm0 6zm0 5zm-1-3zm0 2zm0-8zm0-1zm0 2zm0-1zm0-3zm0 2zm0 1zm-1 2zm0 3zm0-5zm0 2zm0 1zm-1-3zm0-3zm-1 4zm0 7zm0-10zm0 1zm0 3zm0 6zm0 0zm-1-9zm0 1zm0 8zm0-6zm0-5zm0 6zm0 6zm-1-9zm0 4zm0-5zm0 7zm-1 2zm0-9zm0 9zm-1 0zm0 0zm-1-2zm0-6zm0 3zm0-1zm0 5zm-1-7zm0 3zm-1-2zm0 4zm0 3zm-1-2zm0 2zm0-4zm0 3zm-1-9zm0 8zm0-4zm0 3zm0 0zm-1-4zm0 3zm-1 2zm0 0zm-1-1zm0-1zm0 2zm0-3zm-1-5zm0 5zm0 0zm0-1zm-1 1zm0-4zm0-2zm0 3zm-1-2zm0 0zm0 2zm0 6zm-1-7zm0 7zm0-8zm-2 10zm0-4zm0-7zm0 3zm-1 4zm-2-3zm-3 1zm-1 2zm-1-3zm-1 0zm0 1zm0-2zm-1 3zm-1 3zm0-4zm0 4zm-3-8zm-2 8zm-2-1zm0 4zm-4-9zm-3 2zm-4 0zm-2 0zm0 2zm-20-1zm-19 4zm-19-4zm-105-5zm-21 2zm-8 8zm-2-6zm-2 5zm0-8zm-2 9zm-3-7zm-4-2zm-3 2zm-2 5zm0-5zm0-3zm-7 8zm-1 0zm-1 3zm-3-1zm0-1zm-2-6zm-1 2zm0 3zm-3-3zm-2-4zm-2 2zm0-3zm-2 2zm-1 5zm0 1zm0-2zm-1-2zm0 6zm0 1zm-2-4zm-1 1zm-1-2zm-2 4zm-2-10zm0 1zm0 4zm-2 2zm0-3zm-2 3zm-3 3zm0-7zm0-1zm-1 2zm0-1zm0 7zm0-3zm-1 4zm-1-2zm-2-7zm-1 7zm0-6zm-2 1zm-1 2zm-1-4zm-1-1zm-2-2zm-1 9zm-2-1zm0-5zm0 3zm-1-3zm-1 1zm-2 2zm-4-5zm0 2zm-3 3zm0 1zm-1-2zm-7 0zm-1-5zm-2 7zm-1 1zm-1-5zm0-3zm-3 3zm-5 4zm-1 1zm-1 0zm-1 2zm-3-2zm-3-4zm-9 1zm-3 5zm-7 1zm-14-7zm-5 0zm-1 6zm-13 7zm1 6zm11-2zm16-8zm5 2zm10 2zm0-5zm2 10zm6 1zm3-1zm2-6zm2-2zm2 0zm0 5zm1-1zm1 0zm0 5zm1-6zm0 2zm8-2zm1 6zm2-7zm1 6zm3 2zm2-5zm0 1zm1 4zm2-10zm2 1zm0-1zm0 10zm1-2zm0-7zm1-1zm0 5zm1 1zm4-3zm0 2zm1-2zm1 4zm0-7zm2 0zm0 4zm1 4zm0 0zm3-9zm1 7zm3 2zm2 1zm1 0zm2-10zm0 1zm1 3zm0 7zm0-2zm2 0zm1-7zm0 4zm0 1zm1-6zm0 8zm1-6zm0 6zm1-10zm1 10zm0-4zm0-4zm1 3zm0 6zm1-2zm0-9zm0 10zm2-1zm0-9zm1 7zm0 0zm0 4zm4-3zm1-6zm0-1zm1 9zm2-4zm1-2zm1 6zm0-8zm0 2zm8 2zm3-3zm1 2zm1 1zm0-1zm0-1zm1-2zm1 5zm2-3zm1-4zm0 1zm0 9zm2-6zm3 5zm2-7zm1 7zm1-9zm3 12zm1-10zm0 9zm1-5zm2-2zm0-3zm5 7zm1-4zm2 1zm5 6zm0-5zm1-1zm5 6zm113-5zm16-1zm4 1zm34 5zm12-1zm1-6zm2-2zm2 7zm3-6zm3 2zm1-5zm1 11zm1 1zm3-1zm2-2zm0-8zm2 5zm0-6zm1 3zm0-2zm1 1zm0 0zm1 3zm0 2zm1-3zm1 5zm0-5zm0 7zm3-5zm0-4zm0 0zm0 6zm1 2zm2-7zm0 2zm1-5zm1 10zm1-2zm2-7zm1 2zm0 1zm0 3zm0 0zm1-6zm0 2zm2 1zm0 1zm0-1zm0-4zm0 1zm0 7zm0-1zm1-6zm0 4zm1 0zm0-4zm0 3zm0 1zm1 0zm0-3zm1 4zm0 4zm1 1zm0-2zm0-6zm0 2zm0 2zm1-6zm3 8zm0-4zm0-5zm0 5zm1 3zm0-5zm1 3zm0-1zm0 0zm1-4zm0 10zm0 0zm1-4zm0 3zm1-3zm0-3zm0 7zm0-9zm0 7zm1-5zm0 7zm0-1zm1-9zm0 0zm0 1zm0-2zm0 4zm1 0zm0-1zm0 5zm0-5zm1 5zm0-6zm0 4zm0-5zm0 1zm0 6zm1-6zm0 2zm0-3zm1 11zm0-10zm1 4zm0-3zm0-1zm1 2zm0-2zm0 3zm0-4zm0 7zm1-8zm0 7zm1-6zm0 3zm0 3zm1-3zm0 2zm0-6zm1 4zm0-2zm0-2zm0 5zm0-2zm0 0zm0-1zm1 4zm0 2zm1-7zm0 2zm1-3zm0 6zm1-4zm0 10zm1-11zm0 11zm1-1zm2-2zm1-8zm0 3zm0 4zm1 2zm1-5zm2-3zm2 4zm0 0zm0 5zm2-2zm0-2zm1-1zm1 3zm1-4zm1 0zm0-2zm3 9zm0-11zm3 2zm2-2zm1 7zm3-7zm-1 13zm-4 8zm-4-6zm0 6zm-1-2zm-3-1zm-11 2zm-1-5zm0 5zm-1-6zm-2-2zm0 7zm0-1zm-3 4zm-1-6zm0-2zm0 0zm-1 1zm-1-4zm-2 11zm0-10zm0 8zm-1-7zm-1 8zm0-5zm0-1zm-4 5zm0-1zm-1-5zm-1 0zm-2 6zm0-2zm0 3zm-2-7zm-2-3zm0 11zm-1-2zm0-2zm-1-5zm0 2zm0-3zm-1 5zm0 0zm0-2zm0 2zm-1 1zm-2 1zm-1-8zm-1 4zm-1 1zm-1 1zm0 6zm-1-6zm-1 1zm0-1zm0 4zm0-6zm-1 6zm0-5zm0 6zm-1-10zm-1 4zm0 0zm-1 0zm0 2zm0-1zm-1 4zm-1-9zm0 6zm0 4zm-1-3zm0-3zm-2 3zm0-1zm-1-1zm0-3zm0 6zm-2-7zm-1 7zm0-8zm-3 0zm0 3zm-1 7zm0-10zm0 4zm0-3zm-3-1zm0 5zm-2 3zm-2 0zm-3-2zm-4 4zm-3-10zm-2 10zm-1-5zm-1 5zm-5-3zm-8-8zm-2 11zm-2-4zm-2 2zm-40-1zm-8-3zm-114 2zm-8 3zm-1 1zm-10-9zm-3 7zm0-5zm-2 7zm-2-3zm-1-7zm-1 7zm-1-1zm-1 0zm0-1zm-1 5zm0 1zm-2-8zm-1 5zm-4 2zm-3-7zm0 3zm-1-1zm-2 5zm-1-10zm-3 10zm-1-7zm0-1zm0 9zm-3-1zm0 1zm0-2zm-1 1zm-3-5zm-1 3zm0 1zm0-6zm-1 2zm0-4zm-3 7zm0-5zm-1 4zm0-6zm-2 0zm-2 1zm-1-1zm0-1zm0 3zm-1 0zm0 5zm-2-1zm-2-3zm0 7zm-2-10zm-2 6zm-1 0zm-2 2zm0 1zm-2-8zm0 2zm-2 1zm-2-2zm-1 6zm-3-3zm0-4zm-1 6zm-6-3zm-1-1zm-2-4zm-4 7zm0-7zm-5 5zm0 2zm-5-5zm-2-1zm-6 5zm-9-4zm-20 5zm-7 2zm-36-7zm-4-1zm-6-1zm54 21zm10-2zm4-4zm13-3zm6 5zm2-3zm6-3zm2 7zm1 0zm0-4zm1 2zm0-3zm0 2zm9 3zm1-6zm8 4zm0 3zm1-4zm1 8zm0-11zm1 6zm0-4zm1 7zm1-6zm1 5zm2 2zm1-6zm3 0zm0 1zm1-2zm0 2zm1 5zm0-2zm0-3zm1 5zm1-2zm2-5zm0 1zm3 6zm0 1zm1-4zm1 0zm3 1zm3 0zm0-5zm1-1zm3 7zm2-1zm4-4zm1 0zm2 4zm0-5zm0-2zm1 0zm7 6zm0-8zm3 4zm0 5zm1-5zm3 1zm1-4zm3 4zm14-2zm17 9zm7-11zm96 2zm3 8zm24-10zm4 10zm13 1zm22-8zm1-4zm5 10zm1-5zm4 7zm6 0zm1-5zm3-1zm4 1zm4 4zm0-5zm0 2zm9-8zm1 7zm1-7zm2 8zm0-7zm1 8zm0-7zm2 1zm1-3zm0 1zm0 2zm1 0zm0 4zm2 2zm1-7zm1 5zm0 5zm1-10zm2 0zm1 3zm0 6zm1-9zm1-1zm0 3zm2-2zm1 3zm0-3zm1 10zm0-8zm2 7zm4-10zm0 4zm3-2zm1 0zm1 6zm1-1zm2 0zm1-6zm2 0zm6 6zm13-2zm8 12zm-12-3zm-19 6zm-1 2zm-6-9zm0 4zm-2-4zm-5-1zm-1 0zm-1 7zm0-4zm-1 0zm0 6zm-1-1zm-4-5zm0-1zm-1 1zm-1 1zm-1-4zm-3 9zm-2-2zm0-5zm0-3zm-2 6zm-1 1zm0-5zm-1 1zm0 0zm0-1zm-1 1zm0 1zm-3 7zm0-1zm0 1zm-3-7zm0 0zm-2 5zm-6-9zm0 1zm-3 1zm-1 2zm-4-1zm-3 1zm0-2zm-2-1zm-2 0zm-2 2zm-3-1zm-4 7zm-10-2zm-1 0zm-2-3zm0-2zm-9 4zm-31-2zm-17 3zm-129 5zm-1-3zm-6-1zm-16-3zm-1 3zm-1-6zm-1-2zm-1 2zm-8 5zm-3 0zm-1 5zm0-4zm-1-3zm-1 2zm0 0zm0 2zm-6-6zm0 5zm-1-1zm0-2zm-4 2zm-5-2zm-2-2zm-7 9zm-5-11zm-13 2zm-6 6zm-8 0zm-11-8zm-12 9zm-46-9zm-2 2zm20 15zm9 2zm32-3zm10 1zm23 2zm6-6zm14 3zm3 7zm0-7zm2 4zm4-8zm3 2zm13 5zm9-3zm3 1zm7-3zm10 6zm181-9zm3 10zm3 0zm5 1zm3-4zm5-5zm3 2zm4 1zm1 6zm7 1zm4-2zm2 0zm5-9zm0 6zm3-4zm2 0zm0 3zm2 4zm0-2zm2-6zm0 6zm3 4zm2-5zm3 3zm2-1zm1-3zm1-4zm0 6zm1 0zm1-1zm0 1zm1-8zm5 2zm2 3zm3-4zm18 3zm-14 17zm-15-7zm-2 5zm-1 0zm-6 1zm0 0zm-1-1zm-2 4zm-1-6zm-2 1zm0 3zm-1 0zm0 2zm-4-1zm-3 0zm-1-6zm-3 2zm-1 2zm0-7zm-3 11zm0-6zm-1-2zm-2-1zm-2 3zm-1 6zm-1-3zm-1-7zm0 3zm-1 3zm0-6zm-5 0zm0 3zm0 0zm-5-1zm-2-2zm-2 10zm-1-6zm-14-4zm-8 2zm-61 2zm-5-6zm-54 0zm-44 12zm-16-5zm-1-2zm-7 2zm-1 1zm-9-4zm-2-3zm-6 4zm0 5zm-12-7zm-4 8zm-3-3zm-1 1zm-2 2zm-6-10zm-5 3zm-15 7zm-16-7zm7 20zm4-7zm12 5zm2-1zm16-8zm6 0zm5 4zm9-3zm4 1zm1 4zm23-1zm20-5zm1 11zm73-8zm63 7zm6-6zm10 1zm2 0zm5 2zm5-2zm5 6zm6-7zm2 2zm2-3zm1-2zm1 3zm1-5zm1 0zm6 10zm2-1zm1-4zm1-5zm2 8zm0 3zm6-6zm1-5zm2 11zm2-9zm1 6zm1-3zm0 5zm1 0zm1-6zm0 7zm4-8zm1 8zm2 0zm5-3zm2 2zm1-2zm2 4zm0-2zm2-5zm0-4zm3 9zm10-2zm4-3zm7 5zm4-7zm-4 9zm-9 4zm-2 0zm-1 0zm-9 5zm-4-9zm-1 8zm0-4zm-4 4zm-1-4zm-2 4zm-5 0zm-1-2zm-3-2zm0 6zm0-5zm-1 6zm-1-1zm-1-5zm-2-4zm-3 5zm-1-2zm0 2zm-2-6zm-1 2zm-1 5zm-1 2zm-1-3zm-2 1zm-1-3zm0-3zm0 2zm-1 7zm-1-3zm0-2zm-2 2zm0-1zm-1 1zm0 5zm0-5zm0-5zm0 7zm-3 2zm-1-3zm-1-5zm0 2zm0-2zm-2-2zm-4 0zm-9 8zm-1 0zm-8-6zm-81 6zm-29-5zm-3 8zm-85-2zm-15-4zm-11-2zm-10-2zm38 18zm147 1zm27-2zm3-3zm0-4zm5 9zm1-8zm21 9zm3-5zm2-2zm1 4zm1 5zm1-8zm0-2zm2 6zm1-2zm2-3zm0 7zm5-6zm1 1zm1 3zm1 1zm3 3zm1-11zm0 2zm1 1zm0-1zm1 3zm1 1zm1-4zm4 9zm1-10zm5 4zm1-3zm0-3zm0 11zm1-3zm1 1zm4-6zm1 1zm2 8zm1-10zm1 5zm1-4zm4 3zm35 12zm-28 5zm-5-3zm-1-1zm-9 1zm-1-2zm-4 3zm-6-1zm0 3zm-1-3zm-1 0zm-1-6zm-2 8zm-1 2zm-3-11zm-2 2zm0-2zm-1 8zm0-8zm-5 1zm-1 3zm-1-2zm-2 4zm0 0zm0 4zm-1-10zm-7 6zm-1 1zm-1-1zm0 4zm-1-10zm-1 0zm-2 9zm0-3zm0-6zm-1 5zm0 2zm-5-1zm-2-5zm-1 10zm-2-9zm0 2zm-1-2zm-2 7zm0-3zm0-3zm-1 5zm0 0zm-2-4zm-21 3zm0 1zm-1-4zm-6 1zm-3-2zm-25 1zm-44 2zm-85-5zm-2 7zm-14 2zm-21-6zm-9 6zm-10-4zm-3 5zm-2 10zm19 1zm0-3zm6-7zm3 0zm1 1zm6 7zm9-5zm2 0zm1-3zm3 4zm3 2zm4-5zm0 4zm19 5zm7-6zm70-3zm31 3zm30-2zm1 4zm0-3zm4 7zm3-3zm11-4zm2-2zm5 6zm0-5zm2 7zm0 1zm0-7zm2 2zm0 0zm1 1zm4 0zm5 2zm1 2zm1-3zm0 1zm1-8zm1 5zm1-3zm1 0zm0 4zm3 5zm1-2zm1-6zm0 7zm0-4zm1 4zm1-7zm2 0zm4 2zm3-1zm1 0zm0-4zm2 6zm1 3zm1-9zm2 2zm0-2zm2 9zm0-6zm0-2zm5 10zm1-10zm2 9zm1-2zm0-1zm1-3zm1-4zm1 9zm1-8zm1 1zm0-2zm1 7zm0-7zm0 1zm1 7zm3-5zm1-1zm2-1zm6 5zm1 1zm0 3zm17-10zm-13 18zm-10 4zm-1-9zm0-2zm-7 10zm0-8zm-4 3zm-2-4zm-2 1zm-1 5zm-5-2zm-2-2zm-2 8zm-1-10zm-2 8zm-1 0zm-2-3zm-1-2zm-2 5zm-1-4zm-1 3zm-2-2zm-1 0zm-2-5zm0 11zm-2-11zm-1 5zm-1 2zm0-7zm-2 8zm0-1zm-1 4zm-1-6zm-2-6zm-3 1zm-1 8zm-1-9zm0 0zm-1 7zm-4 2zm-1-1zm-2-1zm-1-2zm-1-2zm-3 0zm0 5zm0 3zm-5-7zm0 7zm-1 0zm-5-4zm0 2zm0-1zm-1 3zm-1-4zm-1-5zm-1 2zm-4-2zm-1 3zm-3-1zm-1 8zm-1-1zm-9-5zm-27 5zm-37-1zm-59-7zm-3-2zm-15 6zm-27 2zm-3-2zm-1-6zm-3 11zm-14-4zm-2-8zm-19 9zm9 9zm1-3zm12 6zm5-1zm13-3zm0 2zm15-2zm17 6zm37-6zm53 6zm16-1zm8-5zm4 5zm1-7zm3 7zm4 1zm2-8zm3 2zm3 1zm4 4zm2 0zm0-1zm5-6zm3 5zm1 3zm1 1zm1-1zm0-3zm3 2zm0-8zm1 9zm0-9zm2 3zm0-2zm1 0zm4 6zm2-5zm0-2zm0 9zm1 0zm0-10zm1 6zm0 4zm1 0zm1-4zm0-1zm1 6zm0-2zm1-7zm0 8zm2-5zm2-4zm2 4zm1 2zm0-5zm3-1zm1 1zm0 0zm1 3zm0 4zm1 0zm1-5zm2 3zm3 0zm0 3zm4-8zm4 6zm1-1zm1-5zm5-2zm0 9zm3-10zm2 10zm0-3zm1-4zm3-1zm4 0zm7-1zm1 8zm5-8zm10 2zm5-2zm12 7zm-14 11zm-9 3zm-1-1zm-5-2zm-9-3zm-3 4zm-2-2zm-1 3zm-1-3zm-2-2zm-1-2zm-1 5zm0-1zm-1-3zm-2 7zm-1-6zm0 0zm-1-4zm-2 5zm0 4zm-1 2zm-1-8zm0-2zm-3 6zm0 1zm-2 2zm0-8zm0 10zm-2-11zm0 2zm0 4zm-1-6zm-1 9zm-1-2zm0 2zm-1-3zm-1 5zm0-2zm-1-3zm0-4zm0-1zm-1 0zm-1-2zm0 8zm-1 0zm-1 1zm-1 2zm-3-8zm0 7zm0-4zm-6-4zm0-1zm-1 0zm0 9zm0-2zm-1-3zm0-3zm-1 7zm-1-8zm0 7zm-2 0zm0 1zm0-5zm-1 6zm0-2zm0-3zm-1 6zm0-10zm0 7zm0-4zm-2 3zm0-6zm0 0zm0 3zm-2-2zm0 1zm0 2zm-1 6zm0-1zm-1-5zm-3 2zm0-4zm0 8zm-1-9zm0 4zm0 0zm0 5zm-1-6zm-1 7zm0-4zm-2-5zm-1 5zm-1 1zm0-4zm-4-2zm0 9zm-2-8zm0 1zm-1-4zm-2 1zm-1-1zm-1 0zm0 9zm-4-8zm0 5zm-1-5zm0 5zm-1-1zm-1 5zm-1-3zm0-5zm-1 7zm-1-8zm0 8zm-1-1zm-1 1zm-1-7zm0 1zm-2-3zm-3 9zm-3-8zm-6 6zm-9-3zm-1-5zm-4 7zm0 3zm-2-4zm-7-4zm-9-1zm0 7zm-4 0zm-17-1zm-78-6zm-8 2zm-27 6zm-23 8zm39-5zm19 11zm20-1zm3 1zm10-3zm47-3zm2 5zm4 2zm10-7zm0 3zm0-5zm4 9zm0-2zm2-5zm3 4zm5-4zm4 0zm4 0zm3 1zm2-5zm0 8zm4-6zm0 7zm1 1zm3-10zm1 10zm1-3zm0-6zm1 4zm2-1zm0 3zm3-1zm0-1zm0-2zm3 4zm0-1zm1 3zm0-2zm0-4zm1-2zm0 8zm0-3zm1 3zm0-4zm1 2zm2 4zm0-4zm0-2zm1 4zm0-4zm1 5zm1-3zm1-2zm0-4zm3 7zm0-3zm2 3zm2 1zm0-3zm1-5zm0 4zm0 0zm1 6zm0-9zm0 3zm1 4zm2-2zm0 2zm0 1zm0-2zm1-3zm0 1zm0 2zm1 2zm0-10zm0 6zm0 3zm1-4zm0-3zm1 8zm1-9zm0 2zm1-3zm0 1zm1-2zm0 7zm0 4zm2 0zm0-8zm1 6zm0-2zm0 2zm1-6zm0 1zm1 1zm0-5zm0 7zm1-3zm0 7zm0-8zm2 4zm0 0zm2 2zm1-3zm0 2zm0 4zm0-8zm1 5zm1-4zm1 3zm0-4zm0 8zm0-7zm0 1zm0 3zm1-1zm0-2zm0-4zm1 5zm0 1zm0 0zm1 3zm0-9zm1 8zm1-8zm0 3zm0 4zm1-3zm0-3zm1 4zm0-1zm0 4zm0-9zm0 4zm1 0zm0 0zm1 0zm1 3zm1 4zm2 0zm2 0zm1-12zm0 2zm1 3zm0-1zm1 8zm0-2zm0-1zm1-6zm1 0zm0 2zm0-2zm1 2zm1 5zm0-4zm0 3zm1-8zm0 9zm1-2zm0-6zm0 1zm3 5zm1-5zm0 0zm1 7zm0 0zm0-6zm1 7zm0-10zm1 10zm1-8zm0-1zm4 8zm3-3zm4-4zm2 7zm9-9zm1 1zm1 4zm0-5zm10 7zm9-8zm-28 20zm-7-6zm-5 2zm-4-1zm-1 0zm0 6zm-3-8zm-1 7zm-1 4zm-1-11zm0 4zm-3-3zm-2 4zm0 4zm0-1zm-2 1zm-1-3zm-4-7zm0 7zm-1 1zm0 3zm-1 0zm0-4zm-1-4zm0 2zm-1 1zm0 1zm-1-3zm0 3zm0 3zm-1-10zm0 4zm-1 2zm0-6zm-1 5zm0-4zm0 2zm0 4zm-1-5zm0 2zm0-3zm-1 8zm0-2zm0-2zm0-2zm-1 0zm0 6zm0-8zm-1 11zm0-12zm0 1zm-1 9zm0-1zm0-6zm0 1zm0 4zm0-5zm-1 5zm0 2zm-2-9zm0 6zm0 1zm0 2zm-2 1zm0-9zm-1 3zm0 0zm0 2zm-1-7zm0 7zm0-2zm-1-3zm-1 1zm0 3zm-1-6zm0 9zm0 1zm-1 0zm0-3zm-1 0zm0 1zm0-8zm-1 2zm-1-1zm0-1zm-1 5zm0 5zm0-4zm-1 5zm0-2zm0-1zm-1 3zm-1 0zm0-9zm-1 8zm-1-10zm0 6zm0 2zm0 4zm-1-5zm0-1zm0 1zm-1-1zm-1-2zm-2-1zm0 9zm0-8zm-1 2zm-1 0zm0 4zm0-5zm0 0zm0 3zm-1 3zm0-10zm-2 1zm0 0zm-1 0zm-1 3zm0 0zm0-3zm0 10zm-1-3zm-2-1zm-1-4zm0 6zm0-2zm0-7zm-1 2zm0 8zm-2-4zm-1 5zm0-4zm0 1zm0-8zm0 5zm-1-4zm-3 2zm0-2zm-1 1zm0-3zm0 6zm-2 0zm-2-5zm-2 0zm0 3zm-1 3zm0-6zm0 8zm-2 3zm0-5zm0 1zm-3 3zm-1-3zm-2-1zm0-6zm-4 4zm0 1zm0 2zm-11 2zm0-5zm-7 6zm-1-4zm-1-5zm-2 4zm0 5zm-1 1zm-2-4zm0-2zm-3 5zm-1-1zm-3-4zm-4 0zm0-4zm-2 9zm-1-5zm-2-5zm-1 9zm-12-5zm0 0zm-3-2zm-1 6zm-1-3zm-1 0zm0 6zm-9-8zm-10 0zm-19 0zm-4 3zm-9-3zm-2-3zm-5-1zm-1 8zm-8 0zm-12 0zm-17-7zm-70 8zm85 8zm10 6zm4-9zm2 8zm6-6zm7 0zm1-2zm17 9zm4-2zm4 3zm4-11zm9 8zm1-2zm1 3zm1 2zm0-7zm5 5zm0 0zm7-3zm1 3zm1 0zm2-4zm1-2zm0 7zm0-5zm1-4zm2 5zm1 1zm3 4zm9-5zm1-4zm1 7zm0-4zm1-1zm0 3zm1-4zm2-3zm1 6zm4-4zm0 0zm9-1zm1 1zm3-2zm0 7zm0-3zm1-3zm0 1zm2 3zm0 2zm3-8zm1 11zm1-2zm0 2zm1-10zm4 1zm1 3zm0 3zm2 2zm2 0zm0-1zm1-5zm2 2zm0 4zm1-4zm1-1zm0 1zm2-4zm0 3zm1 4zm1-6zm0-3zm0 5zm0-4zm1 6zm0-6zm2-1zm0 3zm1 1zm0 3zm1 0zm1-1zm2 3zm0-8zm1 8zm4 0zm0 0zm1-3zm1 5zm3-9zm0 7zm1-8zm0 2zm0-3zm0 6zm1 1zm2 3zm1-6zm0-3zm1 7zm0-1zm2-4zm2 8zm1-3zm1-3zm0-4zm1 6zm1-3zm0 3zm2-6zm0 1zm1-1zm0 7zm0 0zm0-5zm0 6zm1-6zm0 0zm0-2zm1 1zm0 2zm2-3zm0-1zm1 8zm0-1zm0-1zm0 1zm1-6zm1 6zm2 2zm1-5zm1 7zm1-2zm0 3zm0-2zm2-10zm3 0zm2 1zm0 4zm1 0zm0 3zm0-4zm1-1zm3 1zm2-1zm0-1zm2 3zm3 2zm1-1zm0-2zm3 5zm1-7zm0 4zm6-2zm5 5zm3 2zm0-3zm3-6zm1 4zm4 6zm-12 6zm-4 4zm-1-9zm-4 3zm-3 4zm-1-1zm-10-2zm-5 5zm-5 1zm0-4zm-1-1zm-2-4zm0 10zm-1-9zm-1-3zm0 3zm-3 0zm-1 4zm0 5zm-1-1zm-1-10zm0 6zm-1-2zm-3 0zm-1-2zm-1 0zm-2 1zm0 3zm-1-5zm-3 2zm0 0zm-2 5zm0-7zm-2-1zm0 1zm-3 5zm0-6zm-4 3zm0 7zm-1-4zm-1-5zm-1-1zm0 3zm-1 1zm0 0zm-1 7zm-1-3zm-1-4zm0-1zm0 6zm-1-5zm-1-4zm-1 10zm-1-8zm-1-1zm0 0zm-1 10zm-3-6zm-1 4zm-3-9zm0 9zm-1-7zm0 0zm-3-3zm-1 2zm-2 8zm-2-1zm-2-4zm-1 2zm-1 3zm-2-2zm-1-2zm0-4zm-2 5zm-1 1zm0-4zm-1 4zm-1-2zm0 3zm-4 2zm-2-10zm-2 0zm-3 11zm0-1zm-1-6zm-1-1zm-1-3zm0 1zm-2 0zm-1 8zm0 1zm-1-5zm0 0zm-1 4zm-2-5zm0 0zm-4 4zm-2 1zm0-8zm0 9zm-1-1zm0-9zm-1 6zm0 1zm-1 3zm-3 0zm-1-4zm-3 3zm0-2zm-1-1zm-1-6zm-2 1zm-1 4zm0-1zm-2 4zm-2-5zm-3 0zm-1 7zm-1-1zm-1-6zm0-1zm0 2zm0 0zm0 1zm-1 6zm-1-11zm0-1zm-1 12zm-4-5zm-4 4zm-3-7zm-6 6zm-1 0zm-8 1zm-3-6zm0 2zm-4 1zm-35-2zm12 8zm12-1zm20 7zm1-5zm8 6zm1-7zm6 10zm3-3zm3-1zm1-8zm1 4zm0 7zm1 1zm2-3zm2-2zm0 2zm1 0zm0-5zm1 7zm2-7zm0 3zm1-4zm0-2zm1 0zm0 9zm0 1zm0-1zm1-7zm1 7zm1-6zm0 2zm2 1zm2 4zm1-9zm1 4zm1-2zm0 8zm0-12zm0 5zm2 4zm1-9zm3 5zm1 3zm1-5zm1 7zm1 0zm1 1zm5 1zm1-3zm1-3zm0-1zm1 7zm0-3zm0 1zm0-8zm1 7zm0-1zm1 2zm4-1zm1-2zm1-6zm1 9zm0-9zm1 1zm2 5zm0-2zm1-2zm1 7zm0-9zm1 1zm1-2zm1 4zm1 8zm0-11zm0 11zm2-12zm0 12zm1-10zm1 6zm3-5zm3 6zm1-5zm1-4zm3 0zm1 4zm3 4zm0-4zm4 5zm0-6zm2 6zm0-8zm4 6zm1-7zm0 2zm3 3zm1 3zm0-8zm1 0zm3 5zm0 1zm4-2zm1 1zm0-4zm3 2zm3 0zm0 0zm5 1zm5 4zm4 2zm3-4zm12 2zm-24 6zm-3-1zm-17 9zm0-9zm0 0zm-1 3zm-2 8zm-2-2zm-4 0zm-6-1zm-2-8zm-1 10zm-5-1zm-1-1zm0-6zm0 6zm-1 3zm0-8zm-1 1zm-1-1zm0-3zm-1 2zm-3 1zm0 3zm-1-1zm-1 3zm0-3zm0 3zm-1-1zm-1-5zm-2-2zm0 6zm0-2zm-2 7zm0 0zm-1-3zm-1 1zm0 1zm0-1zm-2-4zm-1-1zm0 0zm-1 2zm0-3zm-1 7zm0-7zm-1 4zm0-3zm0-3zm-1-1zm-1 11zm-1-6zm-1 2zm0 0zm0 2zm0-3zm0 4zm-2-4zm0 2zm-1-4zm0 1zm0-1zm0 0zm-1 6zm-1-10zm0 9zm-1 0zm0-6zm-1 5zm0-4zm0 0zm-1 5zm0 0zm0-9zm-1 8zm0-8zm-1 0zm-1 5zm-3-1zm0-1zm-1 8zm0-11zm-1 5zm0 0zm0-5zm0 7zm-1 4zm0-11zm-1 8zm-1-7zm0 9zm0-2zm-1-3zm0 3zm-1-2zm-1 5zm0-3zm-1-6zm0 1zm0 2zm-1 1zm0-4zm-1-2zm0 10zm0-3zm-1 1zm-1 0zm-1 1zm0-4zm-1-4zm0 2zm0-4zm0 4zm-2 2zm-2-5zm-1 9zm-1 1zm0-8zm-1-3zm0 11zm-1-10zm0 10zm-1-10zm0 0zm-5 8zm-3-4zm0-2zm-4 4zm0 2zm-2-5zm-3-2zm0 0zm-1 7zm0 2zm-5-8zm0 5zm-5-1zm-6 1zm-7 0zm24 6zm7 7zm1-1zm0 3zm2 0zm3-5zm2 3zm1-2zm0 1zm0 3zm0-7zm1 3zm0-5zm0 9zm0-7zm1 6zm6-1zm0-6zm0 6zm0-1zm0 0zm0 2zm1-4zm0-5zm1 11zm0-7zm1-4zm0 2zm1 5zm1-2zm0-4zm0 5zm1-2zm0 3zm0 0zm0-6zm0 4zm0 1zm1-1zm0 1zm1 5zm0-7zm0 3zm0 1zm1 0zm0 1zm0 2zm1-9zm0 3zm0 5zm1-6zm0 4zm1-8zm0 9zm0 0zm1-4zm1-5zm0 6zm0-1zm0-5zm0 11zm0-3zm2-6zm0 8zm1-3zm0-7zm1 4zm0-1zm0 1zm1-5zm0 1zm0 10zm1-5zm0 5zm0-1zm0-1zm0-3zm0-2zm0 3zm1-4zm0 0zm0 3zm1 2zm0 0zm0-7zm1 0zm0 8zm0 0zm0 1zm1-6zm0 3zm0-3zm0-4zm0 6zm1 3zm0 1zm0-4zm0-5zm0 3zm0 4zm0 0zm0-3zm1-4zm0 4zm0-5zm1 3zm0 8zm0-3zm1 1zm1-1zm0-2zm0 0zm0 2zm0-4zm0-2zm1 1zm0 1zm1 5zm0-3zm0 4zm1-6zm0 0zm1-2zm0 7zm0-5zm0-2zm2 2zm0 1zm1-1zm0 6zm1-9zm0 3zm1-2zm0 6zm0 3zm0 0zm0-9zm0 2zm1 4zm0-4zm0 1zm1 4zm0-3zm2-5zm0 1zm0 5zm0-1zm0 5zm1-4zm1-2zm0-3zm0 7zm1-4zm0 7zm0-9zm0 3zm1 0zm0 0zm0 5zm1-2zm0 0zm1-4zm0-3zm0 8zm0-8zm1 3zm0-4zm2 6zm0-4zm0 2zm0 3zm0-2zm0-2zm1 1zm1 0zm0 1zm1 0zm0 1zm0-3zm0 5zm1-4zm0 2zm0-4zm1-2zm0 9zm2-6zm0 5zm0-1zm1 1zm0-4zm0 2zm0-4zm4 5zm0 1zm1-5zm0-4zm0 9zm1-1zm0-6zm1 5zm0 4zm2-4zm1 4zm1-10zm0 2zm0 8zm0-1zm1-7zm1 5zm1-6zm7 9zm4-3zm7-1zm-8 6zm-1 4zm0-4zm-1 2zm-1 0zm-1 8zm-1-10zm-2 10zm0-9zm-1 2zm-1 5zm-1-3zm0 2zm0-7zm-2 5zm-1-6zm-1 7zm-1 4zm-1-4zm-1 4zm-1-3zm-2-5zm0-2zm-1 5zm-1 4zm-2-7zm-2 0zm0 3zm0 5zm-1-8zm0 0zm-1 3zm0 1zm0-3zm0 0zm-1 1zm-1-2zm0 8zm0 0zm0-3zm-1 1zm0-7zm0 9zm-1-3zm0-1zm-1-3zm0 4zm0 1zm0-2zm0-4zm-1 7zm0-9zm0 7zm-1-4zm0 0zm-1 6zm0-2zm-1-4zm0-4zm-4 6zm0-2zm-1 7zm0-1zm0-7zm0 9zm-1-3zm0-6zm0-1zm0 7zm0-7zm0 8zm0-7zm-1 7zm0-4zm-1-2zm0-2zm0-1zm0 1zm0-2zm-1 8zm0-4zm0-1zm-1 5zm0-5zm-1-2zm0 4zm-1 1zm0 3zm0-7zm0 1zm0 0zm-1-1zm0 8zm0-8zm-1 8zm0-10zm-1 1zm0 9zm0 0zm0-1zm-1-9zm0 6zm-1 2zm0-2zm0 0zm0-4zm0 4zm0 4zm-1-7zm0 4zm0 0zm0-3zm0 3zm0 4zm0-4zm0-1zm0 0zm-1 1zm-1-6zm-1 8zm-1-6zm0 4zm-3 5zm0-10zm0 0zm0 7zm0 2zm0-10zm0 11zm-1-6zm0-1zm0 0zm0-1zm0 3zm0-2zm0-4zm-1 6zm0 2zm0 2zm0-7zm0 2zm0-2zm-1-3zm0 1zm0-2zm0 4zm-1-2zm0 10zm0-11zm0 9zm0-4zm-1 0zm0-4zm0 3zm-1 2zm0-4zm0-2zm-1 10zm0-1zm0-9zm-1 5zm0-1zm0-4zm-1 3zm0 0zm0 3zm0-5zm-1 10zm0-2zm0 0zm-1-5zm-1 3zm0 0zm0 3zm0-10zm-1 6zm0 1zm0-4zm-1 3zm-1 1zm-1-8zm0 10zm-1-2zm0-1zm0-5zm-1 5zm0-1zm0-6zm-1 7zm0-2zm0 6zm0-6zm0 3zm-1-7zm0 4zm-2-5zm0 2zm-1 5zm-4 2zm0-6zm-2 3zm-1-4zm0 5zm-1 1zm-1 0zm-2-8zm0 1zm-1 10zm-2 0zm-6-5zm-1 1zm-8-1zm0-2zm10 11zm5 4zm11-6zm8 2zm0 7zm1-9zm1 6zm2-1zm1 5zm1-6zm0-5zm0 3zm0 6zm2-4zm0 2zm1-6zm1 8zm0 3zm1-11zm1 10zm0-10zm1-1zm1 1zm0 0zm0 8zm0-1zm0-3zm1-5zm0 6zm2 1zm1 5zm1-2zm3-7zm0-2zm1 8zm0 2zm1-4zm1-2zm0 5zm0-6zm1 4zm1-5zm1 6zm0 2zm0-10zm1 3zm2 1zm0 3zm2-4zm0 3zm2-4zm0 1zm1-3zm1 1zm1 3zm1-3zm1 5zm0-3zm1 3zm0-4zm1-2zm0 5zm0 3zm1-6zm0 2zm1 3zm3-6zm2 3zm2 5zm0-5zm1-2zm0 3zm1 0zm2 1zm0-3zm2-2zm0 2zm1 5zm5 2zm0-5zm1-6zm0 7zm2 4zm6-3zm8-8zm0 6zm-4 6zm-8 1zm-9 2zm-3-1zm-1-1zm-6 3zm-6-3zm-6 6zm-6-1zm-2-5zm-2 0zm-4 0zm-7 1zm-2-1zm-1 9zm-3-9zm-9 5zm-9 2zm-2-8zm-19 2z"/><path stroke="#dcdcdc" stroke-width="6.0" d="M2048 152zm-26 4zm-1 10zm8-1zm5 0zm33 20zm-3-4zm-31-3zm-20-2zm-25 18z"/><path stroke="#f9efe9" stroke-width="6.0" d="M1645 141zm91 11zm-2 0zm28 42zm-41 16zm64 4zm-46 42zm12 50zm-34-4zm-5 10zm32-1zm-2 12zm-10-2zm-1-1zm-4 1z"/><path stroke="#fcdfce" stroke-width="6.0" d="M1722 285zm31 20zm-11-1zm-44 1zm-14-7zm30 15zm6 2zm8-8zm0 5zm18 10zm-25-1zm-10 2zm43 14zm54-6zm65 109zm-2 4zm-11 6zm-7-8zm-5 5zm-7 2zm-6-3zm-2 7zm28 3z"/><path stroke="#f7ba9c" stroke-width="6.0" d="M1729 279zm-2 10zm21 2zm-51 17zm31 10zm32-2zm3-6zm45 6zm-55 12zm-2 2zm-3-7zm-21-3zm-3 9zm-22-1zm-15 1zm5 2zm26 8zm51-2zm65 99zm1 2zm5-1zm17-1zm12 1zm9 7zm-34-2zm-3 4zm-4-1zm-2-4zm0 14zm7-1zm4-1zm0 5zm1 1zm1-1zm7-7zm9 4zm-24 13z"/><path stroke="#ea8f71" stroke-width="6.0" d="M1732 287zm34 6zm-14 7zm-6 1zm-11-2zm-36 9zm10-2zm25 11zm11 0zm20-9zm30 14zm-14-1zm-44 0zm-3 2zm-16-2zm-9 0zm69 16zm-23 9zm-23 16zm75 63zm51 11zm13 5zm-7-2zm-7 5zm-1 6zm-6-4zm-3 0zm-4-4zm-3 4zm0-2zm-3 4zm-1 7zm5-1zm2-1zm3 3zm0 4zm1 1zm4-2zm1-2zm3 0zm1 1zm3-7zm13 8zm-5 8z"/><path stroke="#d86651" stroke-width="6.0" d="M1742 287zm22 14zm-1 10zm-46 16zm5 23zm128 75zm-24-4zm-8 0zm-4 5zm-2-9zm-3 6zm3 9zm10-6zm12 12zm11-5zm8-2zm12 5zm-8 10zm-11 3zm-1-3zm-4 1zm-6-8zm-1 7zm-1-3zm-3 3zm-14 2zm16 3zm3 5zm6-4zm6-2zm6 5zm0-4zm7 0zm15 18zm-31-5zm0 3z"/><path stroke="#c53e3d" stroke-width="6.0" d="M1733 292zm7 14zm-9-9zm-43 16zm27 0zm12 0zm42-7zm-56 15zm-3 5zm-3 3zm-43 6zm64 27zm99 63zm-9 0zm-1-4zm-16 12zm2-4zm4 2zm3 7zm2-9zm7 5zm8 3zm4-1zm1 1zm19 0zm-1 9zm-21-4zm-10 6zm-4-8z"/><path stroke="#af172b" stroke-width="6.0" d="M1833 410zm16 16zm-21-2zm0-8zm-9 5zm-24 8zm16 2zm16 3zm2 0zm0-2zm9 1zm2-3zm11 8zm3-2zm-13 4zm-9 1zm-2 3zm-13-2z"/><path stroke="#7f0823" stroke-width="6.0" d="M1834 417zm-36 6zm4 12zm3-2zm11 4zm26-6zm2-2zm1 7zm5 1zm2-4z"/><path stroke="#adadad" stroke-width="5.9" d="M1718 125zm270 0zm43 1zm28 10zm-16 0zm-11 1zm-2-3zm-1 0zm-15-2zm-21-2zm-74 2zm-119-4zm-53 6zm-128 6zm76 3zm4 2zm7-4zm18 6zm8 3zm5-4zm3 3zm43-5zm124-2zm88-1zm1 8zm5-5zm4 5zm3-1zm4-4zm1 4zm4 2zm4-1zm0-3zm4 1zm0-6zm2 8zm0-4zm5-6zm2 1zm0-2zm2 9zm1-2zm2-6zm0 4zm1 2zm6 4zm3-7zm0 2zm0 2zm6 3zm22 9zm-4 0zm-1 1zm-3-1zm-1 2zm-3-1zm-1-2zm-1-2zm-3 5zm0-3zm-1 2zm-2-2zm0-1zm0 4zm0-10zm0 7zm-1 2zm-1 1zm-3-4zm-1-1zm-1-1zm-1 4zm-2 2zm-1 0zm-1-2zm-1 3zm-1-4zm-2 2zm-2 2zm-1-4zm-1-1zm0-1zm0 1zm0 5zm-2-1zm-1-1zm-1-7zm-1 5zm0-3zm-2 2zm0 0zm0 6zm-2-8zm0 4zm-2-3zm0 1zm-1 4zm-1 2zm-1-11zm-1 0zm0 0zm-2 9zm-3 1zm-2-8zm-1 5zm-3-5zm-2 7zm-2-9zm-2 1zm0 5zm-2 5zm-1-9zm-2-2zm-1-1zm-7 9zm-5-6zm-5 0zm-15-1zm-46 1zm-135-1zm-29 1zm-10 1zm0 0zm-8 3zm0-5zm-3 6zm-1 2zm-1 0zm-5-4zm-3-1zm-6-1zm-2 2zm-11-3zm-1 8zm-20 0zm-22 6zm20-5zm15 7zm3 2zm4-8zm2 9zm4-3zm3 3zm11 0zm12-1zm0 2zm4-5zm0-3zm4 3zm7 3zm1-2zm0 3zm16-9zm3 7zm3 3zm123-8zm68 2zm17-1zm10-3zm1 4zm1 5zm2 0zm2-1zm1-8zm4 3zm0 7zm1-11zm3 6zm0 3zm0-1zm1 4zm1-9zm3 1zm1-3zm3 9zm1-2zm0 3zm1-6zm0-5zm0 8zm1 0zm0-6zm0 3zm1-1zm0-3zm1 1zm1 3zm0 2zm1 2zm0-5zm1 3zm1 1zm1 1zm0 0zm0 1zm1-4zm0-4zm1 10zm0-1zm0-8zm0 1zm0 4zm1 0zm1-2zm0-1zm0-3zm1 3zm0 1zm0 2zm0-2zm0-4zm0 0zm1-1zm0 8zm0 0zm1 2zm1-6zm1 1zm0 6zm0-1zm1-4zm0 0zm0-4zm0 0zm0 7zm0 2zm0-9zm1 4zm0 4zm2 0zm5-3zm1-6zm0 0zm0 1zm0 4zm2-5zm0 7zm0 2zm1-2zm0-1zm0 0zm0 3zm1-7zm1 7zm2-11zm1 10zm0-4zm1-6zm1 1zm1 5zm0 1zm1-4zm1 1zm1-1zm2 7zm3-5zm1 6zm0-6zm1 4zm1-9zm1 11zm1-4zm2-6zm1 8zm3-1zm0 7zm-5 1zm-1 3zm-7-5zm-2 5zm-1-7zm0 2zm0 3zm-3-2zm-1-2zm-1 8zm-1-1zm0 0zm-3-4zm-1 5zm-1-9zm-1 4zm-1 5zm0-8zm-1 2zm0-1zm0 0zm0 3zm-2 2zm-1 1zm-1 0zm0 1zm-1-2zm-1-3zm0 7zm-2-7zm0 1zm-1 6zm0-1zm0-3zm-1-6zm0 2zm0 2zm0-2zm-1 4zm0-5zm-1 5zm0-7zm0 2zm-2 4zm0-4zm0 8zm-1 0zm-1-2zm-2 1zm-1 2zm-1-10zm0 5zm0 2zm0-4zm-2 3zm-1 3zm0-3zm0-4zm-1 8zm-1-1zm0-2zm-1-3zm0 1zm-1-4zm0 4zm-3 1zm0-4zm-1 3zm-1-2zm-1 1zm-1-4zm-3 6zm0 0zm-8 2zm-1 1zm-2-2zm-2-7zm-7 1zm-171 9zm-22-2zm-3-6zm-22 5zm-5 2zm-4-1zm-4 0zm-8-5zm-2-3zm-4 4zm-2 2zm-6-6zm-5 9zm0 1zm-1-2zm-2-8zm0 7zm-9-2zm-1-3zm0 7zm-7-2zm-2 1zm-1-3zm-6 3zm-10 3zm-2-5zm-1 1zm-2-6zm0 4zm-2 3zm-14-7zm-23 12zm2-1zm17 1zm8 8zm8-6zm5-3zm2 9zm1-8zm0-2zm0 10zm8 1zm0-6zm0-1zm8 1zm5-4zm4 3zm7-3zm2 9zm1-5zm3 1zm1-6zm2 1zm0 3zm1-3zm1 0zm5 2zm9-2zm7 4zm6 1zm8 2zm7 2zm203-9zm8 11zm1-5zm2 4zm6-5zm1-4zm11 7zm0-9zm2 0zm5 8zm1-3zm0 5zm4-5zm0 6zm1-2zm3-2zm1 0zm0 1zm0 0zm1-3zm0-5zm0 10zm1-3zm0-7zm1 1zm0 1zm2 1zm0 7zm0-1zm1 2zm1-10zm3 0zm0 1zm1 4zm0 2zm0-5zm0 5zm1-8zm0 1zm3 4zm1 0zm1 3zm2-7zm2 3zm2-1zm5 6zm7-4zm3 5zm3-8zm1-2zm0 11zm8-6zm-8 11zm-1 4zm0-5zm-12 2zm-1-4zm-13 10zm-2-1zm0-10zm-5 2zm-1-2zm0 11zm-4-10zm0 7zm-4-4zm-5 1zm-1 2zm-3-2zm-13 3zm-14-1zm-43-7zm-149 3zm-11 2zm-20 1zm-9-1zm-4 5zm0-4zm0 2zm-4 3zm-8-6zm-3-1zm-9-3zm-2 4zm-7-3zm-12 9zm-10-6zm0-4zm-1 9zm-6 1zm-1-6zm-3 0zm-98-3zm23 12zm53 1zm3-3zm1 1zm28 2zm12-3zm10 9zm5-3zm0 0zm3 2zm0-1zm5-1zm0 0zm3 6zm1-9zm12 2zm0-5zm1 11zm20-2zm10-1zm9-6zm168 2zm23-3zm15 1zm0 6zm1 3zm1-9zm12-2zm3 6zm4-3zm1-3zm2 11zm1 1zm1-5zm0 1zm10-6zm1 3zm10-3zm7 2zm2 8zm4-10zm-11 11zm-1 11zm-17-3zm-6-6zm-4 0zm-4 6zm-1-8zm-12 8zm-2 2zm-4-4zm-56 3zm-158-5zm-8 7zm-15 0zm-14-8zm0-3zm-2 8zm-14 2zm-3-3zm-4-2zm-2-5zm-13 8zm0-6zm-2 9zm-11-1zm-22 9zm32-1zm7-1zm31 4zm12-6zm244 4zm7 1zm8-8zm3 7zm5-4zm7 1zm15 0zm5 19zm-29-5zm-2-1zm-4-2zm-7 0zm0 8zm-4-10zm-4 6zm-14 0zm-23-1zm-21 2zm-88 1zm-80-7zm-19 3zm-32 5zm-23 0zm234 4zm32 3zm8 2zm6-2zm13 0zm1 1zm4 3zm23 1zm3-1zm13 1zm9 0zm-9 5zm-18 6zm-6 0zm-10 1zm-2-8zm-16-1zm-6 9zm-6-8zm-12-2zm-34 3zm-11 4zm-138-4zm54 11zm92 4zm39 4zm8 0zm4-8zm15 0zm4-2zm12 1zm1 2zm0 6zm16-3zm-19 11zm-5 4zm-1-6zm-1 6zm-12-8zm-11 0zm-11 7zm-2-3zm-2-4zm-16 1zm-199 7zm-2-2zm-3 2zm-15 1zm-28 5zm8 0zm12-3zm2 0zm183 4zm28 6zm24-8zm2 8zm0-4zm9 3zm2-2zm6 2zm0 1zm6-1zm5-7zm8-1zm6-2zm0 1zm1 5zm22-2zm3 1zm5 6zm6-3zm-39 12zm-11-7zm-14 5zm-1-6zm-5 5zm-8 6zm-1-1zm-1 1zm-2-5zm-11 5zm-29 0zm-8-3zm-17-8zm-28 12zm-105-10zm-23 7zm-15 10zm64 1zm109 4zm10-10zm8 9zm10-1zm0 2zm3-5zm2 1zm4 3zm1-1zm2 1zm1-5zm9-1zm1 6zm2-6zm13-1zm6 0zm0 3zm5 2zm0-7zm0 7zm7-2zm8 4zm45 0zm-30 11zm-6-4zm-5-2zm-4 0zm-1 8zm-14-8zm-5-1zm-4 4zm-1 5zm-1-6zm-8 5zm-3-3zm0-7zm-1 1zm0 7zm-5-6zm-3 8zm-5-5zm-6 0zm-2 2zm-5-4zm-8 2zm-2 5zm-3-2zm-6 1zm-14-3zm-10-4zm-8 5zm-15-4zm-79 1zm-8 1zm-12-3zm-30 2zm-9 9zm11 6zm9 0zm2 4zm3-3zm91 3zm5-1zm5-3zm2 0zm7-2zm2 5zm0 0zm4-9zm19 9zm7-3zm2 1zm7-3zm7-1zm2-3zm7 8zm1-8zm3 1zm2 7zm4-7zm0-3zm0 11zm1-5zm2-3zm5 5zm4-7zm1 0zm0 10zm1-3zm2-1zm1-1zm1 1zm0 4zm1-6zm4 0zm3 1zm2 4zm6 2zm4-6zm6-5zm3 16zm-1 3zm-7-7zm0 2zm-9 2zm-3-2zm-3-2zm-1 11zm-8-12zm-3 12zm0-10zm-1 0zm-1-1zm-1 8zm-1 1zm-3-5zm-2-4zm-2 3zm-1-3zm-2 2zm0 7zm-3 0zm0-7zm-2 6zm-3-6zm-2 3zm-2-3zm-1 0zm-3 8zm0-4zm0-1zm-6 2zm-1-6zm-2 0zm-2 8zm-2-10zm-4 2zm0-1zm-14 3zm-1 7zm-1-4zm-1 3zm-1-6zm-6 0zm-21-1zm0 6zm-2 2zm-2 1zm-1-7zm-6 1zm-89 16zm15 0zm15 0zm21-10zm7 8zm6-7zm11 11zm7-7zm7 3zm5-2zm6 4zm8-2zm3-4zm0 7zm7-1zm0-10zm0 3zm4 4zm1-1zm3 3zm1-8zm1 8zm5-4zm3 0zm2 3zm1-2zm1-2zm1-4zm2 10zm2-9zm1 5zm3 3zm1-3zm2 1zm1-4zm0 2zm1-5zm1 5zm9 5zm0-5zm4-4zm7 11zm4-4zm7-5zm1 2zm2-2zm8-1zm1-1zm-3 12zm-13 4zm-1-4zm0 5zm-3-6zm-5 9zm-13 0zm-1-1zm-2-7zm-7 1zm-4 3zm0 5zm-7-10zm-9 10zm-14 1zm-3-9zm-3 7zm-1 3zm-5-11zm-7-1zm-3 2zm-2 0zm-5-2zm-4 10zm0-8zm-5 7zm-11 2zm-8-5zm-7 4zm-14 8zm7-4zm4 10zm9-1zm11-11zm1 3zm3 3zm1 5zm1-6zm4 0zm1 1zm1-6zm2 8zm5 2zm12-9zm1 8zm6-2zm1-2zm8 3zm4 0zm8 0zm20-5zm8 0zm8 6zm7-4zm29-4zm-53 11zm-8 2zm-18 8zm-1-10zm-3 7zm0 3zm-2-9zm-2 2zm0 5zm-1-5zm0 1zm-4 3zm-1 2zm-2-5zm-2-4zm-1 3zm-2 7zm-1 2zm0-10zm-2-2zm-1 7zm0-2zm-1-4zm-3 9zm-1-9zm-1 4zm0 2zm-1 4zm-1-2zm-1 2zm-1-6zm-5 2zm-1 1zm-5-4zm-5 5zm-4-8zm0 10zm0 0zm-1-2zm-1-1zm0-5zm-46-1zm31 17zm5-4zm9 5zm2-4zm3 2zm7-5zm0 2zm6 2zm1-3zm1 4zm0 5zm1-3zm2-2zm1 4zm0-10zm2 7zm2-3zm0 6zm1-5zm0-4zm1 8zm2-1zm3-8zm0 11zm1-2zm1-6zm1 5zm1 2zm0-1zm2 2zm0-3zm0-8zm2 1zm0 3zm0 1zm2-4zm4 11zm1-3zm1-6zm8-3zm1 9zm6 1zm5 0zm0-2zm3-6zm1 1zm5 9zm25-9zm-18 14zm-8-1zm-2 6zm-7-9zm-9 7zm0 1zm-1-4zm-5 3zm-6-7zm0 4zm0-5zm0 6zm-2 5zm-3-2zm-1-2zm-1 4zm-2-2zm0-5zm-1-3zm0 0zm-1 9zm-1-7zm-2 7zm-1-10zm-1 7zm0 3zm-3-6zm-2 2zm-3 1zm-4 5zm-5-10zm0 4zm-1-2zm-2 2zm-2-1zm-2 6zm-3-10zm-15 10zm-1-1zm-16 1zm6 10zm7-8zm10-1zm1 3zm4-2zm3-1zm4 3zm9-1zm2 9zm0-4zm7-4zm2 0zm1 0zm4 0zm3 3zm6 3zm22-7zm4-2zm8 7zm3-2zm7 12zm-37-4z"/><path stroke="#dcdcdc" stroke-width="6.0" d="M2057 160zm-24-7zm-13 4zm-3-6zm31 31zm-126-6zm96 49z"/><path stroke="#f9efe9" stroke-width="6.0" d="M1685 194zm-3 18zm66 94zm8 22zm-86 5z"/><path stroke="#fcdfce" stroke-width="6.0" d="M1728 260zm-10 33zm38 11zm-39 1zm0-2zm-5 0zm30 6zm4-2zm-99 23zm95 4zm10-4zm103 108zm12-2zm-6 5zm-5-1zm-2 9zm-4-7zm-9 6zm-2-7zm10 9zm1 4zm1-1zm1 7zm6-7zm0 8zm4-9zm5-1zm0 3zm7 1zm-35 9z"/><path stroke="#f7ba9c" stroke-width="6.0" d="M1706 288zm6 10zm-9 18zm21-2zm24 0zm4 2zm8 6zm-24-3zm-1 9zm-10-5zm-4-5zm120 118zm16 2zm14 2zm-6 6zm-4 3zm-4-5zm-5-6zm-2 0zm-7 7zm-9 15zm1-8zm31 5zm3-1zm6-3z"/><path stroke="#ea8f71" stroke-width="6.0" d="M1701 285zm20 2zm0 3zm17 1zm-1 13zm-13 0zm-6 0zm43 10zm0 2zm24 2zm-25 12zm0-3zm-4-3zm-14 2zm-20-4zm-10 2zm2 8zm11 7zm15 6zm-55 6zm149 65zm-30 14zm58 9zm-1 2zm-2 4zm-2-4zm-12-2zm0 9zm-6-2zm-5-2zm-3 13zm0 4zm4-7zm13-3zm3 4zm2 3zm0-1zm12-5zm7 6zm-16 7zm-24 1z"/><path stroke="#d86651" stroke-width="6.0" d="M1722 282zm-5 6zm32 17zm-55 7zm9 0zm22-1zm18-5zm5 9zm15 7zm-7 6zm-20-5zm-5 1zm-1-4zm0 2zm-18-1zm-1 1zm-24 5zm25 10zm30 1zm52 70zm23 5zm12 2zm-9 3zm-4 5zm-13-5zm18 17zm5-2zm10 5zm2-4zm15-2zm12 6zm5 3zm-7 1zm-3-1zm-4-3zm-11 2zm-6 9zm-2 0zm-4-5zm-2-4zm-6 8zm-2-9zm10 18zm1-1zm2-3zm1-2zm7 9zm34 1z"/><path stroke="#c53e3d" stroke-width="6.0" d="M1757 266zm-8 26zm15-2zm-40 6zm-1 2zm-29 4zm-2 5zm27 11zm4-6zm2-3zm32 1zm-60 10zm-6 0zm52 23zm-30 4zm93 64zm7 0zm7-8zm34 21zm-35 2zm-21 3zm16 5zm2-4zm19 6zm5-3zm4 5zm10-6zm-9 9zm-11 3zm-11 1zm-2-6z"/><path stroke="#af172b" stroke-width="6.0" d="M1733 307zm-8 18zm79 78zm0 23zm-4 1zm10 4zm2 2zm4-6zm12 2zm7 2zm3 0zm13 17zm-16-9z"/><path stroke="#7f0823" stroke-width="6.0" d="M1834 401zm-14 23zm-12 2zm20 2zm21 13zm-14 7zm0-1z"/><path stroke="#adadad" stroke-width="5.9" d="M1707 120zm26-2zm338 7zm-19 2zm-20 11zm-12-1zm-103 0zm-154 0zm-61-11zm-27 3zm-1-2zm43 13zm7 3zm6 1zm6 5zm4-1zm14-3zm1-1zm3 3zm63 1zm176 1zm25-8zm0 0zm2 9zm1-12zm2 12zm0-4zm2-7zm1 11zm2-10zm2 1zm0 7zm3 1zm0-4zm0 2zm12-7zm3 0zm0 10zm2-5zm4-5zm2 9zm2-9zm4 21zm-1-2zm-1-2zm0-6zm-3 8zm0 0zm-4-5zm0 5zm-2 2zm-1-8zm-3 7zm-2-7zm0-2zm-2 3zm0 1zm-2 3zm0-4zm-1-3zm0 8zm-1-3zm-1 1zm-1 4zm0-10zm-2 4zm0 0zm0 4zm-1-4zm0 7zm-1 0zm0-12zm-1 11zm0-9zm-1 4zm-3 1zm0-3zm-1-2zm-2 6zm0-1zm0-1zm-1 4zm0 0zm-1-4zm0 6zm0-4zm-2 3zm-1-6zm-1 6zm0 1zm-2-6zm0-3zm-1 0zm-1 5zm0-8zm-1 8zm0-5zm-1 4zm-1-5zm0 3zm-2 2zm-2-1zm-3 4zm-3-1zm-2 2zm-1-1zm-3-5zm-5 0zm-12 0zm-2 5zm-17-2zm-1 2zm-37 0zm-140-2zm-31 1zm-1-8zm-7 5zm-17-3zm-13 2zm-2 0zm-11 4zm-42 13zm10 1zm12-7zm6-3zm11 2zm11 2zm1 0zm1 2zm1 1zm1 1zm0-5zm3 6zm2-6zm4-4zm5 9zm15 3zm3-5zm3-3zm9 1zm2-4zm10 10zm4-9zm19 0zm113 5zm46 2zm18 0zm5-8zm11 1zm3 5zm3-3zm1 6zm1-4zm1-1zm4 4zm0-1zm1-3zm2 4zm1-5zm5 1zm1-3zm4 8zm0-2zm1 3zm3-5zm3-5zm0 11zm0-11zm0 0zm0 4zm1 6zm1-1zm0-10zm1 5zm1 6zm0-1zm1-7zm1 9zm1-7zm0-2zm0 1zm0 1zm0-1zm0 6zm1-10zm1 8zm0 0zm0 3zm1-3zm1-1zm0 0zm1 1zm1-6zm1 1zm0-1zm0 1zm2 7zm2-9zm1 2zm1-2zm1 9zm1 0zm3-4zm0-3zm0 4zm1-4zm0 6zm1-4zm1-4zm0 2zm1 3zm0 1zm2-5zm0 6zm4 0zm0-1zm0 0zm1-1zm0 1zm1-3zm0 2zm0 1zm0-7zm1 11zm0 0zm2-3zm1 1zm2 3zm1-10zm0 4zm1 2zm0-3zm0 1zm1-3zm2 1zm0 0zm2-2zm1 14zm-3 6zm-3-8zm-4 1zm-7 8zm-1-7zm0 2zm-1 4zm0 0zm-1-8zm-1 6zm-1-1zm0 2zm-2-3zm-2-4zm0 5zm-1 2zm-2-2zm-1-4zm0-2zm-1 2zm0-1zm0-1zm0-1zm-2 9zm0-2zm0-1zm0 1zm-2-3zm0-1zm-2 4zm-1 1zm0-3zm0 2zm-4 0zm0-6zm-1 11zm-1-11zm-1 1zm0 7zm0-2zm0-7zm-2 8zm0-7zm-1 7zm-1 1zm-1-8zm-1 4zm-1 5zm-3-6zm0 7zm0-4zm0 4zm-4-2zm-1-6zm0-1zm-1 0zm-1 3zm-2 3zm0-3zm-3-1zm-1 1zm-1 2zm0-2zm-5 1zm-1-5zm-1 4zm-4 6zm0-8zm-2-1zm-25 0zm-11 8zm-134-6zm-45 5zm-17-5zm-3 4zm-1-4zm-7 1zm-5-3zm-1 2zm-5-2zm-22 4zm-8 2zm-2 3zm-1-4zm-5-3zm-6-1zm-11-1zm-11-2zm-24 1zm39 22zm5-3zm1-2zm3-4zm5 8zm8-7zm0-1zm16 8zm3-2zm7-1zm5 3zm0-6zm1 3zm3-6zm7 8zm1-8zm1 0zm2 7zm2 0zm10 0zm0 0zm10-6zm9 2zm197 1zm6-1zm3 1zm2 0zm10 6zm6-4zm0 2zm0-6zm1 5zm2-6zm1 6zm1 3zm1 1zm8-6zm0-5zm2 4zm2-1zm4 7zm0-4zm4 1zm0-1zm1-2zm0 1zm2-6zm1 8zm1-1zm2-5zm0 7zm2-4zm6-1zm0 3zm2-4zm7 3zm2-3zm3 4zm4-1zm2-1zm7-4zm-3 12zm-12 10zm-21-5zm-2 5zm-1-2zm-1-9zm0 1zm0 7zm-2 4zm0 0zm-5-8zm-8 6zm-1-7zm-1-3zm-9 10zm-4 1zm-1-2zm-3-5zm-2 5zm-3-6zm-2 3zm-19 1zm-179-5zm-3 5zm-10 0zm-9-4zm-26 3zm-2-1zm-2-4zm-5 1zm-1 8zm0-2zm-6-6zm-6 1zm-4 4zm-17-6zm-3 1zm-1 5zm-4-4zm-8 5zm-8 4zm-22-2zm-6 11zm31-3zm1 4zm8-2zm5-4zm4 4zm18-2zm14 2zm5-7zm24 9zm20-7zm8 0zm112 1zm19 4zm19-1zm7 1zm31-3zm5 4zm4-5zm2 6zm4-9zm2 0zm5 2zm19 3zm10 6zm9-12zm22 7zm-14 9zm-25-3zm0 8zm-6-3zm0-2zm-1 0zm0 5zm-7-5zm-21-2zm-1 6zm-8-4zm-8 1zm-197 5zm-14-7zm-25 9zm-3-12zm-27 7zm-1-2zm-15-4zm0 4zm-5 3zm4 12zm31 1zm24-8zm29 2zm193 4zm16 4zm5-3zm6-6zm8 7zm0-6zm26 5zm8 5zm-15 4zm-4 7zm-13-11zm-18 2zm-5 7zm-218 1zm-2-3zm-16-4zm-1-3zm-1 3zm-37 3zm34 12zm229 2zm20-1zm2-1zm2 2zm1 1zm6-6zm4 6zm3-10zm12 12zm7-6zm15 16zm-18-1zm-11-5zm-5 8zm-6-1zm-1 1zm-11-12zm-10 7zm0 4zm-2-10zm-4 7zm-4-6zm-4 3zm-11 2zm-6-6zm-10 10zm-15-8zm-21 6zm37 12zm20 3zm8-3zm20-6zm1-2zm9-1zm2 6zm0 1zm1 3zm14-6zm-9 9zm-9 6zm-14 1zm-29-4zm-6 6zm-20-3zm-8-4zm-6 1zm-45 6zm-147-10zm-15 7zm-6 2zm23 9zm45 0zm3-1zm132 3zm13-1zm14 1zm4 3zm5-7zm21 0zm1-1zm7 1zm10 3zm23-6zm10 3zm-15 15zm-21-1zm-10 5zm-2-6zm-5-1zm-10 6zm0-1zm-3 1zm-5-7zm0-2zm-8 11zm-4-11zm-2 4zm-182 3zm-16 1zm139 8zm5 3zm9-2zm3 0zm10-3zm19 7zm1 1zm0-8zm2 0zm8-2zm0 10zm3 0zm7-5zm6-6zm8 2zm7 1zm2-3zm1 5zm2 4zm8-2zm1-1zm8-1zm18-4zm-1 13zm-23 2zm-4 1zm-10 3zm0-2zm-2 0zm-7-4zm-4 9zm-1-2zm-5 0zm-1-7zm-7 3zm-4-4zm-1 1zm0 3zm-1-2zm-4 5zm-9-5zm-3 6zm-7-4zm0-2zm-5 7zm-2 1zm-2-3zm-2 2zm-1-9zm-5 1zm-7 7zm-23-6zm-4 0zm-4-1zm-124 4zm-6 0zm15 16zm58 1zm25 1zm17 0zm33-12zm12 3zm2-2zm0 4zm7 5zm4-1zm1-6zm1 5zm6-2zm7 0zm2-4zm0 3zm1-3zm1 7zm1-6zm2 0zm4 8zm2-10zm1 6zm0-6zm2 5zm1-2zm2-1zm1 9zm1-10zm2-1zm4-1zm2 11zm0-10zm1 7zm3 0zm6 3zm6-4zm14-1zm2-4zm7 6zm-47 11zm-3 2zm-2-6zm-4 8zm-1-5zm-1-6zm0 0zm-5 3zm-2-3zm-2 8zm-3 0zm-1 2zm-1-9zm-1 5zm0-3zm-1-2zm-1 8zm-1-4zm-3 0zm-5 4zm-2-7zm-1 8zm-2-1zm-9-6zm-2 9zm-9-7zm-1-1zm0 0zm-1 7zm-2-2zm-4-4zm-1-2zm-1-2zm-1 10zm0-5zm-4 2zm-5-6zm-2 5zm-21-6zm-29-1zm-84 6zm-5-2zm88 15zm3-1zm1-3zm3 6zm8-2zm2-4zm20 6zm8-3zm9-1zm3 6zm0-5zm1 4zm0-5zm1 4zm1 1zm2-6zm3 1zm5 2zm0-2zm8 1zm0 5zm6-10zm3 3zm14 5zm3 0zm0-4zm0-1zm1-1zm2 3zm4-5zm0 8zm0-8zm1 3zm1 8zm4-9zm29-2zm6 7zm2-3zm2 5zm2-2zm10 2zm-34 11zm-2-5zm-10 0zm-1 4zm-2-5zm-1 7zm-1 0zm-2 1zm-1-4zm-1-2zm-6-5zm-6 2zm-1 0zm-9 1zm-4 7zm-7-9zm-3 11zm-1-4zm-3-7zm-2 5zm-3-4zm0 3zm-1-3zm0 9zm-1-9zm-4 5zm-13-1zm-7 2zm-4 1zm-1-9zm-1 12zm-2-3zm0-4zm-7 3zm-1-3zm-5-2zm-8 8zm0-1zm-7-9zm-7 1zm-1 1zm-8 3zm-1 6zm-71-8zm61 14zm2 0zm0 0zm1 5zm19-1zm3-3zm3-3zm5 3zm5-1zm1 5zm1-9zm2 9zm1 1zm1-10zm7 0zm1 0zm0 9zm2-2zm8 0zm9-4zm1 6zm2-7zm0 3zm1 4zm14-10zm2 2zm4 3zm4-3zm3 1zm1-2zm2 2zm3 6zm0-9zm5 2zm36-2zm3 4zm1-1zm-31 15zm-16-4zm-7 5zm-9 0zm-1 3zm0-3zm-2 4zm-1-5zm-2 2zm-8-7zm-3 4zm0-2zm0-2zm-3 1zm-4 7zm-1-5zm-2 0zm-2 3zm0-7zm-4 10zm-1-11zm-1 6zm-1 2zm-5 1zm-3 2zm-4-1zm0-1zm-2-5zm-1-1zm-2-3zm-1 8zm-3-4zm-1-3zm0 1zm-1 2zm-3-3zm-6 10zm0-4zm0-2zm-2 3zm-1 3zm-3 0zm0-8zm-2 3zm-5 5zm0 0zm0-1zm-1-2zm-2 10zm8-6zm2 12zm1-9zm4 5zm0-5zm2 9zm2 0zm2-12zm7 11zm1-4zm2 0zm4-1zm5 1zm1 3zm1-5zm1 1zm1-1zm0 1zm2-2zm0 4zm0 1zm0 0zm1-2zm0-4zm2 6zm1-6zm2 8zm0-7zm1-3zm1 8zm0 2zm0-2zm2 0zm0-5zm3 5zm0-2zm1-5zm0 5zm0-7zm4 8zm0 3zm1-4zm0-1zm1-4zm0 4zm1 1zm1 4zm5-6zm1 5zm0-7zm3 5zm2-3zm2-2zm0 3zm1 5zm1-4zm0-4zm1 5zm2-7zm2 2zm1 4zm6-5zm1 10zm-1 9zm-3 3zm-1-7zm-8-2zm-1 9zm-2 0zm-3-9zm-1 1zm-1-4zm-4 8zm-1-2zm0-1zm0 4zm-2-3zm-3 6zm0-5zm-1-7zm-1 3zm-1-2zm0 4zm-3 3zm-1-7zm-1 2zm-2-3zm0 8zm-1-5zm-2 0zm-2 6zm-2-8zm0 9zm-1-4zm-1-1zm-1 4zm0-8zm-3 9zm-2-8zm0 2zm-7-1zm-1 0zm-1 4zm0 1zm-2-4zm-2 4zm-7-2zm-3 0zm-8 9zm7 2zm7-2zm1-3zm5 5zm0-4zm1 7zm5-2zm3-1zm1 6zm2-10zm2 11zm2-12zm2 7zm4-1zm0-4zm1 1zm0 0zm8 7zm3 0zm0-2zm4-6zm0 5zm1-6zm0 6zm2-6zm0 7zm0-4zm10-2zm5 1zm17 7zm-13 5zm-22-2zm-17 1zm-8 2zm-12 7z"/><path stroke="#dcdcdc" stroke-width="6.0" d="M2051 154zm-1-1zm-18 6zm-11 0zm-31-5zm34 12zm3-1zm2 8zm1-9zm10 3zm14 5zm-31 2zm3 38z"/><path stroke="#f9efe9" stroke-width="6.0" d="M1763 194zm-52 19zm10 124zm53-6z"/><path stroke="#fcdfce" stroke-width="6.0" d="M1738 277zm-8 21zm11 12zm41 1zm-34 13zm-32 10zm51 4zm-6 11zm-13-6zm-62 8zm148 85zm4 0zm31 0zm-17 9zm-11 8zm24 7zm-15 7z"/><path stroke="#f7ba9c" stroke-width="6.0" d="M1743 306zm-11-7zm-33 4zm50 6zm4 8zm13 5zm0 8zm-7-11zm-22 4zm-6 7zm-22-7zm-6-3zm-46 5zm56 15zm36-2zm2-6zm-23 10zm110 95zm8 1zm14-1zm8 2zm-2 1zm-2 4zm-6 5zm-1-3zm0 3zm-7-8zm-1 9zm0-12zm-5 8zm-4-7zm0 1zm-1-2zm-1 11zm-7 0zm1 3zm1 0zm0-1zm5 2zm1 4zm8-4zm1-2zm15 3zm5-3zm-3 13zm-3 0zm-12-1zm-5 1z"/><path stroke="#ea8f71" stroke-width="6.0" d="M1719 292zm15-8zm9 8zm9 7zm-21 1zm-14-6zm-1 3zm-24 7zm6 3zm17 8zm27-4zm16 11zm-26-1zm-15 16zm4 0zm11-7zm-35 31zm135 52zm-25 1zm39 22zm12 0zm3 0zm13 9zm-5 2zm-12-8zm-5 9zm-6-8zm-4 7zm-1 1zm-6 2zm-4-9zm10 15zm8-5zm5 3zm15-3zm1 7zm-38 6z"/><path stroke="#d86651" stroke-width="6.0" d="M1747 291zm-26 11zm-14 2zm5 8zm11-4zm23 15zm-43 15zm37-4zm44 1zm24 64zm21 23zm-1-4zm-23 20zm7-9zm15 5zm1-2zm0 4zm3-5zm11 0zm29 5zm6 8zm-2 4zm-11-2zm-21-6zm-1 4zm-7 1zm-22-4zm25 12zm5 0zm8 1zm1 0zm2 15zm-4-5z"/><path stroke="#c53e3d" stroke-width="6.0" d="M1707 271zm-4 11zm44 7zm39 6zm-58 9zm-8-6zm-8 3zm5 9zm17 3zm8 1zm26 14zm-13-1zm-12 0zm-11-2zm-5-6zm-24 8zm-10-8zm28 17zm6-2zm12-2zm79 64zm15 22zm-12 8zm-4-5zm5 15zm1-1zm0-1zm6 3zm11-10zm3 8zm5 1zm4 1zm2 4zm-1 1zm0-2zm-14 8zm-23-4z"/><path stroke="#af172b" stroke-width="6.0" d="M1720 301zm9 14zm12 21zm3 11zm109 78zm-3 0zm-20-2zm-15 3zm-2 4zm1 1zm2 6zm2-7zm6 8zm25 0zm5-11zm1 15zm-28 5zm-9-6zm-1 7zm-1-7zm-5 1z"/><path stroke="#7f0823" stroke-width="6.0" d="M1795 413zm33-10zm10 22zm-31 4zm44 8zm2 4zm-14 1zm-14-4z"/></g><g fill="none" stroke-linecap="round"><path stroke="#adadad" stroke-width="5.9" d="M1179 617zm-10-2zm-48 13zm23-8zm2 6zm2-2zm16-1zm15 3zm1-1zm66 1zm146 3zm14-2zm28-4zm5 5zm6 2zm28-2zm3 0zm1-4zm4 4zm1 1zm12-5zm23 0zm1 1zm-7 16zm-3-2zm-3 2zm0-7zm0-1zm-1 5zm-1 2zm-1-8zm-6 0zm-1 8zm0-2zm-2-4zm0 6zm-2-2zm-1-5zm0-1zm-1 2zm-1 4zm0 2zm-1-2zm-1 2zm0 0zm-1 1zm-2-8zm0 3zm0 4zm-2 1zm0-6zm0-1zm-1 3zm0 3zm0-2zm-1 3zm-1-4zm0-1zm0 0zm0 1zm0 1zm-2-6zm-1 6zm0-6zm-2 7zm-2-2zm0 0zm0 2zm0-4zm-3 5zm0 0zm0 0zm-2-4zm-3-2zm0-3zm-1 9zm-2 0zm-1-3zm-12-1zm-1 4zm-1-4zm-1-1zm-3 5zm0-4zm-17 2zm-2 3zm-1-6zm-28-3zm-12 4zm-4 1zm-12-7zm-2 5zm-119 6zm-14-5zm-4 0zm-10 2zm-15 2zm-2-1zm0 2zm0-6zm-6-3zm-4 10zm-6-8zm-13 8zm-7-4zm-14 1zm0-4zm-7 4zm-1 3zm-50-3zm-26 0zm11 14zm8-4zm12 4zm31-2zm10-3zm3-3zm4 6zm1-8zm3 10zm1 0zm2-9zm2 7zm5 0zm3 3zm0-4zm2 3zm2-5zm1 1zm10-7zm2 6zm2-1zm0 3zm3-5zm0-1zm2 7zm0-8zm0 6zm1-2zm0 0zm2 4zm5 1zm0 0zm1 0zm6-2zm0-7zm1 4zm2 4zm1-6zm5 1zm3 2zm14 1zm1 0zm1-3zm4 7zm0-3zm35-4zm100 5zm9-8zm20 4zm7-4zm3 8zm7 0zm4-5zm1 8zm2-3zm4 3zm4-2zm1-3zm0 5zm2-5zm2 3zm1-1zm2 2zm5 0zm1-6zm1 2zm0-1zm1-1zm1 0zm0 4zm1-2zm0 4zm2-4zm0 3zm2-7zm1 2zm2 3zm0 1zm1-4zm2-1zm2 8zm0-12zm1 7zm0-1zm0-1zm2 6zm0-10zm0 3zm1 2zm0 5zm0-2zm1-9zm0 7zm0 5zm1-10zm0 1zm1 4zm1-1zm0 4zm0 0zm1-5zm0-2zm0-2zm0 8zm1-1zm0-2zm0 1zm0 4zm1-1zm0 2zm0-1zm0-7zm0 4zm0 2zm1-4zm0 6zm0-1zm1-7zm0 5zm0-7zm0 8zm1 1zm1 0zm0-5zm0-4zm0 3zm0-4zm1 6zm0 4zm0-7zm1-3zm1 11zm0-1zm0-5zm0 3zm1-4zm0 3zm1 2zm0 1zm0-2zm0-6zm1 6zm0-2zm0 3zm1-10zm0 4zm0 0zm0 6zm0-6zm1-1zm0 5zm1-5zm1 3zm0 5zm0-5zm0-5zm0 0zm1 7zm0 3zm1-1zm0 2zm0-10zm1 5zm1-4zm0 4zm0 4zm0 0zm0-4zm1 0zm0 5zm1-11zm3 10zm1-5zm0 2zm0 3zm0-2zm1 2zm0-5zm0 4zm1-3zm0-5zm1 6zm0-1zm0-2zm1 6zm1 1zm1-1zm1-1zm0 1zm1-6zm1 3zm0 1zm0-5zm1 6zm0-6zm0 6zm2-10zm1 11zm0 1zm0 0zm0-7zm1 3zm2-8zm0 12zm2-10zm1 1zm1 5zm1 2zm3-7zm6 11zm0 6zm-2 3zm-1-4zm-1-5zm-1 6zm0-1zm0-3zm0-1zm-1 0zm-1 7zm0 0zm-1-3zm-1-2zm0 4zm0-3zm0 4zm-1 0zm0-6zm0 7zm-1-6zm0-2zm0 8zm-1 0zm0-8zm0 0zm-1 0zm0-2zm0 0zm0 11zm-1-7zm0 5zm0-8zm0 5zm-1-3zm0-4zm0 6zm-1-3zm0 5zm0-7zm0 7zm0 3zm0-8zm-1 8zm0-7zm0-2zm-1 8zm0 1zm0-9zm0 8zm0-7zm-1 5zm-1-7zm0 0zm0 3zm0 3zm0-2zm-1-1zm0-2zm-1 2zm0 3zm0-6zm0 4zm0 0zm-1 2zm0-2zm-1 3zm0 2zm-1-1zm0-1zm0 3zm-1-7zm0 3zm0-3zm0 4zm0 2zm-1-1zm0 0zm0-2zm0 4zm0 1zm0 0zm0 0zm-1-8zm0-3zm0 1zm0 3zm-1-5zm0 11zm0 1zm0-9zm-1 1zm0 5zm-1-1zm0-5zm0 4zm0 5zm0 0zm0-1zm0-7zm0 4zm0-7zm-1 2zm0 6zm0-7zm0 3zm0 1zm0-4zm0 8zm0-9zm-1 10zm-1-10zm0 7zm0-4zm0-3zm-1 10zm0-10zm-1 7zm0-3zm0-1zm0 4zm0 1zm0-8zm0 4zm-1 6zm0-4zm0-3zm0 5zm0-4zm-1 7zm0-9zm0 1zm0 1zm-1-2zm0 6zm0-4zm0-3zm0 4zm0 3zm0-8zm0 9zm0-8zm-1 4zm0 5zm0-10zm0 11zm0-2zm0 0zm0-9zm-1 0zm0 9zm0-5zm0 6zm0-8zm0 5zm0 1zm0-1zm-1-4zm0 1zm0-3zm0-2zm0 2zm0 4zm-1 3zm0-7zm0 6zm0-2zm0 1zm0 0zm0 0zm-1 1zm0 2zm0-1zm0 3zm0-4zm0 3zm-1 0zm0-9zm0 1zm0 1zm0 4zm0-3zm-1 7zm0-4zm0-7zm0-1zm-1 0zm0 2zm0 9zm0-1zm0-4zm0 4zm0-5zm0-3zm0 7zm0-1zm0-2zm-1-3zm0 7zm0-5zm0 7zm0-12zm0 11zm0 1zm-1-10zm0 2zm0 1zm0 5zm0-1zm-1-2zm0-7zm0 10zm-1-8zm0 2zm0-4zm0 10zm-1-6zm0-2zm0-2zm-1 6zm0 0zm0-1zm0 6zm0 1zm0-1zm-1-3zm0-3zm0 1zm0 4zm0 0zm-1-7zm0 0zm0 8zm0 0zm0-4zm0 1zm0 3zm0-4zm0-7zm0 10zm0-2zm-1 2zm0-4zm0 3zm0-6zm0 0zm0 5zm-1-4zm0-3zm0 2zm0 4zm0 3zm-1-8zm0 0zm-1 0zm0 0zm0 9zm0-1zm0 2zm0-5zm0-5zm-1 10zm0-3zm0-8zm0 6zm-1 1zm0-7zm0 5zm0 1zm-1 2zm0 1zm0 1zm-1-10zm0 7zm0-7zm0 9zm0-5zm0 3zm0 3zm-1-3zm-1-6zm0 1zm0 4zm0-7zm-1 6zm-1 5zm-1-2zm0-5zm-1 5zm-2-2zm0-3zm0 6zm0-3zm0 3zm-1-6zm0 7zm0-11zm0 11zm-1-2zm-2 3zm-1-12zm0 3zm0 7zm-2-10zm0 2zm-1 3zm0-1zm0 3zm-1 5zm0 0zm-1-12zm-2 8zm0-5zm-3 4zm-1-4zm-2 7zm-3-4zm-1 4zm-3-6zm-4 4zm-2-5zm-3 0zm-2-1zm-2 7zm-24 2zm-21-3zm-24 1zm-97-7zm-7 6zm-5 2zm-11 0zm-3-2zm-7-5zm0 4zm-7 1zm-2 3zm-2-5zm0 4zm-3-7zm0 2zm-2 6zm-2-1zm-4-2zm-1-3zm0 7zm0-10zm0 2zm-6 8zm-3-6zm-1-1zm-1-1zm-1 0zm-1 4zm-1-4zm-2-3zm-1 7zm-1-3zm-2 6zm-1 0zm-4 0zm-3-10zm-1-1zm0 10zm-1 0zm0-5zm-1 6zm-2-2zm0-3zm-1 5zm0-3zm-1 2zm-3-3zm-2 5zm0-5zm0-2zm0-4zm-1 2zm-1 3zm-2 6zm0-4zm-1-5zm0 6zm-5 3zm-1-3zm-4-8zm-7 6zm0 3zm-7-3zm-7 1zm-25 1zm-17-1zm1 14zm5 1zm16-7zm3 1zm5 7zm2-12zm2 4zm5 6zm5-2zm0-3zm1 1zm8 3zm1-1zm1-2zm6 0zm0-4zm0 9zm3-8zm0 1zm1 6zm4 2zm2-2zm0-8zm1 7zm0-2zm2-4zm5 6zm1 1zm0-6zm2-2zm2-1zm1 8zm0-4zm1-3zm1 4zm1-5zm0 2zm0 8zm2-6zm0-2zm0-2zm1 4zm0 0zm0 4zm4 2zm0-10zm1 8zm0 1zm0-8zm2 2zm2-1zm1 4zm0 4zm2 1zm0-4zm1-3zm2 0zm2-2zm1 6zm0-4zm1-2zm0 1zm2-1zm1 6zm1 1zm0-10zm1 8zm0 3zm1-7zm1 4zm0-7zm0 11zm3-1zm0-5zm1-1zm0 3zm1-3zm1 1zm0 0zm3-4zm0 2zm1 6zm4-6zm0 6zm4-8zm2 6zm0 2zm2 1zm3-3zm2-3zm1-3zm1 8zm2-5zm3 1zm1-2zm11 5zm3 0zm18-1zm9 2zm87-9zm9 11zm5-4zm32-5zm18 0zm0-2zm3 10zm2 0zm4 0zm3-2zm6-1zm1 1zm2 1zm1-10zm1 4zm0 7zm0-6zm1-2zm0-2zm0 3zm1 4zm0 2zm0 2zm0-2zm0 1zm1-10zm0 6zm0 3zm1 2zm1-11zm1 2zm0 0zm2 7zm1 1zm0-8zm1 3zm0 5zm1-11zm0 10zm0 0zm1-8zm1 6zm0 0zm0-3zm0 0zm1 7zm0-12zm0 2zm0 8zm0-7zm0 4zm1 2zm0-2zm0 1zm1 3zm0 1zm0-8zm0 1zm1 7zm0-8zm0 5zm1-1zm0 0zm0-3zm0 4zm1-6zm0 8zm0-6zm0 5zm1 1zm0-1zm0-6zm0-2zm1 3zm0 1zm1 3zm0-8zm0 9zm0-7zm1 9zm0-7zm1 0zm0 7zm1-8zm0-2zm0 7zm1-7zm0 3zm0 3zm0-7zm0 0zm0 4zm1 6zm0-6zm1-4zm0 10zm0-4zm0-6zm0 2zm0 5zm1-8zm0 6zm0-2zm0 5zm0-8zm0 10zm0-2zm0-1zm0-3zm0 5zm0-8zm1 4zm0-3zm0-2zm0 1zm0 4zm0-3zm0 0zm1 5zm0 3zm0-6zm0 5zm0-9zm0 1zm1 1zm0 6zm0 2zm0-8zm0 1zm0-1zm0 3zm0 3zm0-8zm0 3zm0 3zm1 0zm0 1zm0 1zm0-5zm0 4zm0-5zm0-1zm0 4zm0 1zm0 2zm0-4zm0 0zm0 2zm0-4zm0 2zm1-5zm0 11zm0 0zm0-11zm0 5zm0 0zm0 0zm0 3zm0-3zm1 1zm0 4zm0-5zm0-4zm0 1zm0-1zm0 5zm0-4zm1 4zm0 1zm0-7zm0 9zm0-1zm0-5zm0 7zm1-5zm0 5zm0-4zm0-4zm0 9zm1-4zm0-5zm0 1zm0 0zm0 6zm0 1zm0-8zm0-2zm0 10zm0-6zm0 5zm0-3zm0-1zm0-4zm0 1zm1-2zm0 3zm0 0zm0 0zm0 9zm0-10zm0 1zm1 4zm0-4zm0 7zm0-3zm0-2zm0 6zm0-6zm0 5zm0 1zm1-2zm0-2zm0 1zm0-5zm1 8zm0-1zm0-10zm0 1zm0 6zm0-1zm0-1zm1-3zm0 9zm0 1zm0 0zm0-8zm0 2zm0 4zm1-6zm0-2zm0 9zm0-10zm0 1zm0 3zm0 6zm0-1zm0 0zm1-4zm0 1zm1-1zm0-1zm0 5zm0-5zm0 6zm0-3zm1-1zm0-1zm0 2zm0-7zm0-1zm0 10zm0-6zm0 6zm1-6zm0 0zm0 3zm0 2zm1 2zm0-5zm0-4zm0-2zm0 4zm0 4zm0-5zm1 7zm0-4zm0-6zm0 10zm1-7zm0 5zm0-6zm0 0zm0 9zm0-4zm0-4zm1 8zm0-3zm0 3zm0-10zm0 7zm0-7zm0 8zm0-1zm0 4zm0-11zm1 2zm0 4zm0 3zm0-7zm1 3zm0 6zm0-2zm0-4zm0-2zm0 5zm1-3zm0-3zm0 3zm0-4zm0 8zm0-8zm0 3zm0 1zm1 1zm0-6zm0 8zm0-7zm1 2zm0-1zm0 6zm0-1zm0-5zm0 5zm0 2zm1-2zm0-5zm0 3zm0-3zm1 4zm0 3zm0-5zm0-4zm0 10zm1-7zm0 2zm0-6zm0 1zm0 10zm0-4zm1 2zm0 2zm1 0zm0 1zm0-9zm0-1zm1 6zm0-8zm0 0zm0 3zm0-2zm1 3zm0 3zm0-6zm0 7zm0-6zm1 4zm0 2zm1-3zm0 6zm0-4zm1-4zm1 3zm0-3zm0 3zm1 3zm0-8zm0 8zm1-5zm0-2zm0 7zm1 2zm1-9zm0 5zm0-3zm0 4zm0 3zm1-3zm1 0zm1-3zm0 2zm1-6zm1 8zm0-5zm0 7zm1-10zm0 0zm0 10zm1-8zm2 9zm0-5zm1 2zm2 11zm-2-1zm-1-6zm-1 7zm-2 1zm-1-4zm-1-4zm-1 7zm0-3zm0 6zm0-5zm-2 1zm-1-2zm0 7zm0-3zm-1 2zm-2-10zm-1 0zm0 2zm-1-1zm-1 10zm0-3zm-1-3zm-1-2zm0-2zm-2 2zm0 8zm-1-9zm0-2zm-1 3zm0 3zm0-3zm-1 0zm-1 1zm0-1zm0 1zm-1-2zm0 6zm0-7zm0-1zm-1 0zm0 3zm0 0zm0-1zm0 5zm0-3zm-1 3zm-1-7zm0 8zm-1-6zm0-3zm0 3zm0-1zm0 1zm0 6zm0-2zm0-6zm-1 1zm0 8zm-1-2zm0 1zm0 0zm0 2zm0-3zm0 2zm-1-9zm0 6zm0-3zm0 2zm0 0zm0 4zm-1 1zm0-10zm0 4zm0-3zm-1 0zm0 1zm0 3zm0-5zm0 0zm-1 0zm0 1zm0 9zm0-3zm0 3zm0-1zm-1-1zm0-4zm0 6zm0-5zm-1-1zm0-4zm0 0zm0 4zm0-4zm-1 7zm0 3zm0-8zm0 1zm0-1zm0 2zm-1 0zm0 0zm0 2zm0-5zm0 2zm0 3zm0-6zm0 11zm0-4zm0-1zm0-6zm-1 8zm0-3zm0-2zm0 6zm-1-9zm0 1zm0 8zm0-9zm0 7zm0-1zm0 1zm0-1zm0 1zm-1-6zm0-1zm0 9zm-1-8zm0-1zm0 4zm0-1zm0 1zm0-4zm0 2zm0-1zm0 9zm0-6zm-1-2zm0-3zm0 0zm0 2zm0-2zm0 4zm-1 1zm0 2zm0-3zm-1-3zm0 11zm0-3zm0-8zm-1 9zm0-4zm0-4zm0 2zm-1 7zm0-5zm0-2zm0 4zm0-2zm0 1zm0 0zm-1-5zm0 5zm0-1zm0-2zm0-3zm0 0zm0 5zm-1-3zm0-1zm0 8zm0 1zm-1-8zm0-3zm-1 11zm0 1zm0-3zm0-6zm0-2zm-1 4zm0-1zm-1 1zm0 3zm0-7zm0 5zm-1 5zm0-10zm0 4zm0 5zm0-3zm0 4zm-1 0zm0-3zm0-7zm0 11zm-1-5zm0-1zm0 4zm0 0zm0-10zm-2 9zm0-8zm0 6zm0-2zm-1-3zm0 10zm0-2zm0-1zm-1-8zm0 2zm0 4zm0-2zm0-1zm-1-1zm0-1zm-1 1zm-1 0zm-1 5zm0-6zm0-1zm0 5zm-1 5zm0-4zm-1-6zm-1 5zm0-3zm0-1zm-1 6zm0 4zm0-9zm-2 2zm-1 5zm0-9zm-1 1zm0 8zm-1 1zm-1-8zm0 5zm0 1zm-1-5zm-1 3zm0 5zm-2-4zm-2-8zm-3 5zm0 6zm-2 0zm-1-8zm0 8zm-2-8zm0 3zm0 4zm-6-2zm0 3zm-2-4zm0 3zm-25-5zm0-5zm-19 4zm-117 2zm-22-3zm-2 8zm-6 0zm-2 0zm-2-1zm-4-3zm0 3zm-2-6zm-1 4zm-1-2zm-1 3zm-2-3zm-2 3zm-5 2zm0-6zm-2 2zm0 0zm-1 3zm-1-7zm-3 7zm0 1zm0 1zm-1-8zm0 7zm-1-8zm-1 0zm-1-1zm-6-1zm0 3zm-1 3zm-2-6zm0 9zm0-2zm-1 2zm-3-9zm-1 7zm-2 1zm0-7zm0 2zm0-3zm-1 9zm0-5zm0 1zm-2-4zm-1 1zm-1 4zm0-6zm-1 6zm-1-1zm0 4zm0-3zm-1-3zm0 1zm-1 2zm0-4zm-1 7zm-1-7zm0 5zm-1 2zm-1-8zm0 9zm-3-5zm0 2zm-1-3zm0-2zm-1 3zm-1-2zm-3 0zm-3-4zm0 7zm0-6zm-3 1zm-1 7zm-1-6zm-1 6zm0-9zm-1 2zm0 6zm0 2zm0 1zm-4-9zm-1 2zm-1 4zm-1 1zm-1 2zm0-2zm-2-1zm-3 1zm-2-3zm-1 6zm0-5zm0 1zm-1-6zm-2 8zm-3-9zm0 3zm-1-1zm-9-2zm-1 2zm0 5zm-1-6zm-1 2zm-3-1zm-2 5zm-10-2zm0 5zm-3-6zm-4 2zm-2 1zm-1 2zm0-5zm-5 2zm-15-3zm-39 17zm6-2zm21-2zm44-1zm8 6zm7-9zm1 4zm0-5zm1 5zm6 4zm2 0zm0-6zm1 2zm1 6zm4-7zm2 2zm2-5zm0 1zm3 5zm1 3zm1-5zm0 1zm0-1zm1-1zm1-3zm1 1zm1 6zm3-1zm0-6zm2 2zm3 2zm1 5zm4 2zm0-2zm2-6zm2 1zm3-1zm0 4zm1-2zm0-2zm1 0zm0 7zm1-7zm1-3zm2 3zm0-4zm0 10zm1 0zm0-3zm0 1zm2-3zm1 3zm0-3zm0 3zm2-5zm1 7zm3-1zm1 1zm0-2zm0-6zm4-2zm1 7zm2 5zm1-3zm0 1zm4-2zm1-5zm1-2zm1 11zm0-10zm1 9zm5-9zm0-2zm0 1zm1 1zm2 2zm1-2zm4 1zm6 7zm0-1zm1-3zm2-6zm0 8zm7-6zm0 10zm8-6zm6 0zm133-5zm13 6zm21-2zm12 0zm4 3zm6-6zm2 3zm1 0zm1 1zm4 2zm1-5zm2 5zm0-1zm1 3zm2 1zm0-6zm0-3zm1 5zm3 3zm1-8zm1 2zm0 0zm1-1zm1 4zm2-5zm0 10zm0-7zm0 6zm1 0zm0 1zm0-7zm0-3zm1 5zm0-1zm1 6zm0-9zm1-1zm3 9zm0 1zm0-11zm1 9zm0-4zm1-2zm1-4zm1 1zm1 9zm0-9zm0 0zm1 0zm0 2zm0 7zm0-7zm1 5zm0 3zm0-7zm0 4zm2 0zm1-6zm1-2zm0 5zm0-4zm1 4zm0 0zm0 0zm1-4zm0 6zm1-6zm0 4zm1-3zm0 3zm0-1zm1-4zm1 3zm0 4zm0-5zm1 0zm1 1zm0 4zm1-1zm1 4zm1-2zm1-6zm2 5zm1 4zm1-2zm0 3zm3-11zm1 5zm1-1zm2-2zm0 4zm1 5zm0-10zm1 2zm3-3zm2-1zm0 0zm2 4zm0-3zm1 0zm0 0zm0 3zm1-1zm2 6zm1-8zm0 9zm0-5zm2 1zm6-4zm2 6zm-11 7zm-5 3zm-7-3zm-1 1zm-3-2zm0 6zm-2 0zm-1-2zm-4 4zm-1-1zm0-3zm0-3zm-2 1zm0 2zm0-1zm-1 6zm0-3zm-1-4zm-1 0zm-1-2zm-2 4zm-2 2zm0-7zm0 10zm0-6zm0 0zm-1 3zm-1 3zm-1-4zm-1-5zm0 3zm-2 3zm-1-8zm0 0zm0 1zm-1 7zm-2 1zm0-6zm-1 2zm0 7zm-3-6zm0-5zm0 5zm-1 3zm0-8zm-1-1zm-1 8zm0-1zm0-3zm-3-3zm-1 3zm-1 0zm0 2zm-1-4zm-2 0zm0 5zm-1-7zm0 5zm0-2zm-1 0zm-2 1zm-1 5zm0-6zm-1 9zm-2-6zm-2 1zm-2 0zm0 1zm-1-5zm-1 5zm-4-6zm0 8zm-1-8zm-3 3zm-5 7zm-1-1zm0-11zm-1 8zm-2-6zm-3 0zm0 5zm-14-3zm-26 4zm-27 1zm-2 1zm-94-3zm-13-6zm-3 1zm-2 8zm-3-5zm-5-4zm0 8zm-9-6zm-2 2zm-2-3zm-2 5zm-1 4zm-1-10zm-1 4zm0 1zm-1 4zm-2-6zm-4 1zm-6 3zm0 3zm0-5zm-1-2zm0-4zm-1 11zm-1 0zm-1-5zm0-6zm-1 6zm-1 0zm0 5zm-2-6zm0 1zm0-1zm-1 0zm-3 5zm-1-2zm0-4zm0 7zm0-6zm-1-1zm0-3zm-3 2zm-1-1zm0 7zm-4 3zm-2-9zm-4 3zm-2-4zm0 10zm-2-10zm-1 0zm0 5zm0 4zm-2-6zm-2 5zm-2-9zm0 8zm-1-2zm-1 3zm-1-6zm-3-3zm-1 4zm-4 2zm-1-5zm-1-2zm-2 11zm-3-6zm0 4zm-2-7zm-1 9zm0-2zm0 2zm-1-1zm-2-5zm-1-4zm0 1zm-7 4zm-6-4zm-1 6zm-7-1zm-4 2zm-4-5zm-49 5zm-4 11zm47-5zm32 2zm3 6zm0-4zm1 2zm1-8zm3 1zm8 0zm1 5zm0-5zm1 10zm11-4zm0-4zm2-1zm0 8zm1-8zm6-3zm1 5zm0-5zm1 1zm1 8zm5-3zm0 1zm1-5zm2 1zm2 0zm3 1zm0 3zm0 4zm7-3zm1-3zm3 6zm2-8zm7 6zm1-6zm3 0zm0 2zm4-1zm9 8zm1-10zm145 0zm14 4zm5-5zm18 7zm11 4zm6-3zm1-5zm1 6zm4-4zm2-2zm1 4zm0 3zm2-3zm1-2zm2-2zm2 6zm1-5zm0 4zm3-3zm4-1zm0-3zm4 9zm6-1zm0-1zm0-7zm1 7zm0 0zm1-1zm1 1zm0-7zm2 7zm1 0zm0-4zm0 5zm1-4zm1-4zm0-1zm2 6zm1 4zm1-10zm0 5zm0 4zm1-1zm5 1zm1 0zm1-3zm1 0zm1-1zm2 0zm4 2zm5-4zm3-2zm2 4zm13-5zm3 9zm4-10zm-18 22zm-5-6zm-1 1zm-4 1zm-2-6zm-1 11zm-5-4zm-3-5zm0 9zm-2-7zm0 5zm-4-6zm-1 9zm-3-4zm-3-8zm-1 2zm0 8zm0-7zm-8 5zm0-1zm-5-4zm-1 6zm-2 1zm-1-2zm-2-4zm-2 1zm-3 3zm-1-7zm-4 1zm-11 8zm-3-2zm0-5zm-11-1zm-59-1zm-129 5zm-1-3zm-1 7zm-3-4zm-2-3zm-4 6zm-9-3zm-1 5zm-3-9zm-1 8zm-6-3zm-4-6zm-1 2zm-2-2zm-1 5zm0-3zm-2-2zm-5 6zm-1-5zm-1-1zm-2 5zm-2 5zm0-10zm-1 1zm-2 10zm-2-11zm-9 5zm-2 6zm-17-7zm-5-2zm-8 1zm-10 7zm-13-7zm-28 8zm42 3zm9-2zm12 1zm23 5zm8-4zm3 3zm2-2zm15 7zm2-1zm1-3zm1 4zm1-8zm1 4zm2 3zm17 1zm3-1zm58-3zm54-1zm66 4zm12-6zm8 1zm0-4zm3 1zm2 6zm2 3zm9-6zm0 1zm3 3zm2-7zm2 4zm4-2zm1-2zm1 6zm3 0zm1 2zm1-9zm1 3zm0-1zm2 5zm2-8zm4 11zm0-8zm1 8zm2-5zm5-2zm2-1zm1-2zm2 1zm1 0zm4 1zm8 5zm9 10zm-12 5zm-11-10zm-1 0zm-5 6zm0 4zm-1-8zm-3 3zm-3-6zm0 3zm-1 0zm0 2zm-1 1zm-3-2zm-3 5zm-4 1zm0-9zm-1 1zm-1 0zm-2 7zm-4-2zm-1-7zm-1 6zm-3-3zm-3 1zm0-1zm-2 9zm-10-12zm-1 11zm-1-3zm-1 2zm-4 1zm-4-9zm-29 7zm-43-8zm-100 6zm-3-1zm-16-5zm-8 1zm-1 0zm-8-1zm-8 8zm-1-5zm-3 4zm-9 0zm-4-3zm-1 2zm-5-1zm-1 1zm0-2zm-25 1zm-5 5zm-4 7zm18-2zm6 3zm4 1zm31-7zm23 0zm21 5zm135 4zm1-4zm0 4zm16-10zm2 0zm5 3zm0 6zm2-2zm3-6zm5 7zm8-6zm0 6zm1 4zm3-3zm1-6zm0 1zm1 5zm0 2zm0-1zm5-1zm0-9zm1 5zm1 2zm1-3zm2 5zm0 1zm2-8zm0 3zm5 1zm2-4zm0 5zm0 3zm2-8zm0 3zm2 2zm0-3zm2 7zm0-7zm1 0zm0 6zm1-5zm1 7zm6-8zm5-2zm0 8zm2-6zm1-2zm0 8zm2-6zm2 1zm3 1zm7-5zm3 1zm2 9zm1-1zm0-5zm8 2zm1-2zm-18 11zm-4-1zm-5-1zm0 2zm0 7zm-4-9zm-3 1zm-3 5zm-3-3zm0 6zm0-3zm-1-2zm0 3zm-2-4zm0-1zm-4 2zm0 3zm-6-2zm-1 2zm-2 1zm0-9zm-1 2zm-1 6zm-3 0zm-1 0zm0-8zm0 4zm0-1zm-1-2zm-2-1zm0-1zm-1 6zm0-5zm0 2zm-1 2zm-1 6zm-1-6zm-1-3zm-1 8zm-11-1zm-26-1zm-6-2zm-62-2zm-32 2zm-85-1zm-5 7zm-4-11zm-4 7zm-5-5zm-7 6zm-1 3zm-37 10zm22-10zm6 10zm4 1zm1-11zm0 6zm2-1zm1 1zm1-4zm3 6zm3-6zm3 8zm1-1zm1 2zm1-7zm2 8zm3-9zm5 2zm4-2zm1 1zm1-1zm0 2zm15-3zm2 3zm20 3zm110-5zm16 7zm25 0zm1-7zm3 7zm3 1zm3-3zm5 2zm1-2zm2-1zm2 1zm1-1zm0-1zm1-4zm1 4zm4-6zm1 6zm3 2zm3 1zm2 0zm6-1zm1-8zm1 2zm11-2zm0 10zm2-8zm4 0zm0 10zm2 0zm2-6zm2 2zm0-6zm5-1zm35 12zm-21 7zm-6 3zm-1-6zm-2 5zm-4-9zm-9 1zm-1 5zm-1 1zm-2 1zm-1-5zm0 6zm-1-9zm-3 7zm-1-1zm0-2zm0 2zm0 2zm0-2zm-1-5zm0 3zm-3 6zm-2-2zm-1-3zm-7 2zm-2-1zm-6-5zm0 9zm-2 0zm-7-2zm-1 1zm0 0zm-2 0zm0-6zm-2 0zm0-4zm0 1zm-1-1zm-2 9zm-1 0zm-2-2zm-2 3zm-1-5zm0 1zm-5-1zm0-3zm-1 1zm0 0zm-2 7zm-2 2zm-2-2zm-2-1zm-7 1zm-18 0zm-1-1zm-30 2zm-38-10zm-56 10zm-7 0zm-6-5zm-4 2zm-2 2zm-6 1zm-1-6zm-5-1zm0 2zm-2 0zm0 3zm0 0zm-1-3zm-2 2zm0-6zm-3 5zm-1 5zm0-7zm-1 5zm-1-4zm-1 1zm-1-3zm-1 2zm-1 5zm0-9zm-3 6zm-5-1zm0-3zm-3 6zm0 2zm-1-8zm-1 4zm-2-6zm-3 3zm-1-3zm0 3zm0 5zm0-3zm-5-4zm0-2zm-2 6zm-3-2zm0 0zm-8-2zm0 5zm-1 3zm-1-10zm0 8zm-3-3zm0-4zm-2 5zm0-3zm-4 10zm4 2zm1 3zm10-7zm0 4zm0 4zm2-1zm4 2zm2-4zm0 6zm0-9zm2 7zm1-8zm5 5zm1-3zm1 6zm1 1zm1-10zm1 2zm0 5zm1 4zm2-2zm0 0zm0-6zm1 3zm1-3zm1 7zm0-1zm2 1zm2 1zm0-9zm2 5zm1 5zm5-1zm0-9zm3 0zm1 8zm0 2zm2-10zm0 1zm0 5zm0 3zm4-7zm1 1zm5 5zm1-3zm2-5zm0 3zm2 5zm5-5zm2 2zm11 2zm4-3zm10 4zm13-6zm94-2zm9 3zm5 3zm9 3zm8-1zm4-9zm2 6zm0 3zm4-4zm0 0zm2 1zm1-4zm2 0zm1 2zm0-3zm1-1zm2 1zm3 10zm1-5zm0-2zm1 1zm0-5zm1 4zm0 3zm2-5zm3 4zm1 4zm1-11zm1 4zm0 2zm5-5zm2 6zm3 2zm2 2zm4-5zm2 2zm1-3zm1 2zm0-5zm2 9zm1-7zm3 4zm0-6zm7 5zm0 1zm7-5zm0 2zm16 0zm6-3zm-25 18zm-3-3zm-2 4zm-3-7zm-7 5zm-5-6zm-1 6zm-6 4zm-5-7zm-1-1zm-2-3zm0 9zm-3-6zm-1 2zm-1-3zm-3 6zm0-8zm-2 6zm-2 0zm-2-4zm0 7zm-2-7zm-1 8zm0-4zm-2 4zm-1-5zm-1-1zm0 5zm0-5zm-3 1zm0-2zm-6 6zm0-5zm-1-2zm-2 8zm-2 2zm-1-4zm-1-2zm-6-1zm-3 3zm-3-7zm0 3zm-4 6zm-2-1zm-1-1zm-6-3zm-1 0zm-7-3zm-5 6zm-40-2zm-21-2zm-24 3zm-24 4zm-10-3zm-6-3zm-2 1zm-11-3zm-2 1zm-1 2zm-1 2zm-8-6zm0 1zm-2 9zm0-1zm-1-1zm-5-6zm-3 2zm-1-5zm-6 0zm0 0zm-1 4zm-3 1zm-4-3zm-1 8zm-2-3zm-2-8zm-2 2zm-3 1zm0 2zm-4-2zm-1 2zm-10 2zm-5-4zm0 2zm-23 7zm-7-11zm38 11zm8 2zm5 1zm2-2zm2 0zm1 3zm0 8zm4-11zm4 0zm0 0zm5 0zm2 6zm1 2zm8-2zm3 2zm2-7zm1 5zm3 2zm2-2zm1-4zm5-2zm1 9zm19-8zm71 6zm8 1zm23-5zm4 3zm0-3zm2 7zm1-11zm0 6zm0 2zm8 1zm6-1zm3 4zm0-2zm3 2zm3-1zm0-9zm1 4zm1 3zm0-3zm1-1zm1 5zm1 0zm0-5zm0 6zm1-7zm0 4zm1-2zm0 3zm3 3zm2-3zm0-1zm2 3zm0-3zm0-3zm1-1zm1 6zm1-4zm1 5zm0-11zm0 1zm2 0zm0 4zm0-4zm1 5zm2 1zm1 0zm0 1zm3-7zm1 4zm2 4zm1-1zm3-8zm0 5zm2 1zm2-4zm3 6zm3 1zm5-8zm0 2zm1-1zm1 8zm3-7zm0 8zm1-4zm1-2zm3 4zm1 3zm1-4zm0-6zm1 9zm7-1zm0-5zm2 5zm16-1zm22-7zm5 3zm-19 8zm-4 6zm-5-3zm-1-1zm-7-3zm-7 8zm-3-6zm0 4zm-2-6zm-1 4zm-5-3zm-2 7zm-1-4zm-5 1zm-2-5zm-2 9zm-1-2zm-1 1zm0-4zm0 2zm-1 5zm-1-2zm0-3zm0 3zm-1-8zm-2 1zm-1 7zm-3-4zm0 6zm-1-2zm0 2zm0-9zm0 7zm-5-6zm-1 1zm-1 8zm-5-1zm-1-7zm0 1zm-1 7zm-1-8zm-1-1zm-1 5zm-1 0zm0-6zm-3 10zm0-5zm-1-5zm-2-2zm-1 5zm0-1zm-4-3zm0 4zm0 1zm-1 5zm0-2zm-4 0zm-1-7zm0 6zm-1 1zm-1 3zm0-3zm-1 0zm-1 3zm-1-6zm-1-1zm-4 4zm-4-4zm-1 0zm-1-3zm-4 0zm-1 2zm-1 1zm-1-2zm-7 4zm-1-3zm-6 4zm-2-5zm-4 7zm-4-3zm-6-6zm0 4zm-18-3zm-4 1zm-71-2zm-3 0zm-37 0zm-3 6zm-11 1zm-21-5zm-7 9zm18 1zm4 9zm17-8zm10 0zm2 2zm2-2zm0 1zm5 3zm2 1zm5 1zm15 3zm1-5zm10-4zm18 8zm0-4zm2 1zm33-1zm6 3zm8-3zm5-5zm10 7zm4 3zm5-3zm3-4zm5 1zm7-2zm0-2zm1 7zm1-2zm1-4zm0-1zm1 7zm3-5zm1 2zm1 2zm0 1zm0 3zm1-10zm1 4zm1-3zm0 2zm1 4zm0 3zm0 0zm2-3zm0 4zm1-12zm2 4zm2-4zm0 11zm0-2zm1-9zm1 10zm1-6zm0 4zm2-3zm0 7zm0-5zm2-3zm1 5zm1-4zm1 1zm0 6zm1-5zm0 3zm1-1zm1-2zm1-7zm0 10zm4-4zm0 6zm0-5zm1 5zm1-4zm3-6zm0 4zm0 1zm2 2zm1-9zm0 5zm1 1zm0-5zm0 1zm0 5zm0 2zm1-8zm0 1zm0 7zm0-2zm1 1zm1 2zm0-2zm0-4zm1-1zm1 7zm3 1zm0-2zm1-7zm1 4zm0 1zm3-4zm0 7zm4-4zm0-2zm0 0zm3 2zm1-1zm0-2zm1 2zm1 2zm1-7zm1 2zm0 7zm0-2zm1-5zm2 2zm0 1zm1 0zm0 5zm9-9zm1 7zm5-4zm2 10zm-14 1zm-7 8zm-1-5zm-4 6zm-2-7zm-6 3zm-2-5zm0 2zm-1-4zm-2-1zm0 1zm-1 3zm-2-3zm0 8zm-1-1zm0 3zm0-10zm-2 2zm-3 1zm0-1zm-1 1zm-2 6zm0-6zm0 0zm-3 1zm-1-5zm-3 4zm-1 2zm0 1zm-1-6zm0 1zm-1 6zm-1-3zm-1 4zm0 1zm0-5zm-1 1zm-1-2zm0-2zm-1 3zm0 5zm-1-7zm-2-2zm-2-1zm-1 7zm0-6zm0 8zm-1-3zm-3 4zm-2-4zm-1 4zm-1-1zm-2-6zm-2 1zm0-1zm-1 8zm0-5zm-2-5zm0 3zm-2 0zm-1 3zm-3-7zm-1 10zm-1-3zm0 0zm-2 1zm-1-1zm0 4zm0-5zm-2 4zm-7 1zm-3-6zm-2-4zm0 3zm-4 4zm-6-1zm-3 0zm-5-2zm-5 1zm-2-6zm-1 10zm-2-6zm-2 1zm-2 1zm-4 3zm-2-4zm-1-4zm0-1zm-13 8zm-6-5zm-7 9zm-12-6zm-25-5zm-9 7zm-8 3zm0-9zm-8 0zm0 6zm-12-6zm-2 9zm-10-11zm1 22zm22-6zm3 0zm27 0zm1 7zm3-6zm4-2zm11 7zm8-5zm3-4zm1 5zm2-2zm0 5zm9-5zm2-4zm0 8zm1-7zm1 7zm3-6zm3 4zm11-1zm4 7zm14-7zm6 5zm6-10zm4 8zm1-5zm8 2zm2-5zm1 0zm1 8zm3-3zm2 4zm1 2zm0-9zm5 1zm2 7zm1-1zm6 0zm1-5zm0 4zm1-7zm2 3zm1 4zm1-6zm4 6zm0-3zm1 6zm3-10zm5 8zm0-7zm3-1zm0 8zm0 2zm0-10zm2 0zm1 8zm4-3zm0-2zm6 3zm2-5zm15 1zm1-3zm3 5zm2-3zm0 5zm6-4zm3 2zm1 0zm7 2zm-25 6zm-15 4zm-5 0zm-2 2zm-4 5zm-9-6zm-3 4zm-1 2zm-4-3zm-7-8zm0 10zm-1-9zm-4 0zm-2 5zm-1 0zm0 2zm-1 2zm-2-7zm-1 4zm0-1zm-1-3zm-6 5zm-3 0zm-1-3zm-7 4zm0-3zm-1 3zm-7-9zm-4 0zm-2 6zm-3 3zm-1 1zm-2-3zm-1-1zm0-1zm-1 1zm-8 1zm-1 3zm-1-8zm-9 6zm-1-5zm-7 8zm0-10zm0 4zm-2 5zm0-8zm-1 1zm0 0zm-1-3zm0 11zm-2-4zm0 4zm-1-2zm-2-1zm-1-6zm-6 3zm-3 0zm-2 4zm-4-9zm-4 3zm0 2zm-2-6zm-1 6zm-3 3zm-1-1zm-2-3zm-1 0zm-3 7zm-1 0zm-1-2zm-3-5zm-3-3zm-4 0zm-11 6zm-12 0zm-12-8zm26 20zm18-5zm5-2zm1 4zm3-1zm1 4zm3-2zm3 0zm3 3zm0-5zm5 2zm1 0zm0 6zm2-5zm0-4zm1 6zm0-2zm1-6zm1 5zm0-2zm0 5zm0-2zm1 1zm0-3zm1 3zm1-6zm2 6zm0 0zm0-4zm1-3zm0 9zm0 0zm1-5zm1 0zm0-4zm2 6zm1-3zm1 2zm0 5zm0-6zm0 4zm0-3zm1 4zm1-10zm1 5zm1 4zm3-2zm1 0zm0 4zm2-9zm4 4zm5 1zm0-1zm1 5zm0 1zm2-6zm1-2zm1 1zm1 1zm0 0zm1 2zm0 4zm1-4zm0 0zm0 3zm0-1zm1 0zm0-7zm1-2zm1 10zm1-2zm0-4zm0 7zm3-2zm0 0zm2-6zm1 3zm1-4zm1 6zm8-2zm0 4zm3-1zm0-8zm7 5zm2-5zm2 7zm2-6zm6 1zm4 6zm18-2zm3 0zm24-6zm-53 14zm-3 4zm-2-6zm-4 3zm-3 3zm-2-4zm-1-1zm0 1zm0 6zm-2-3zm-1 2zm-1 2zm-2 0zm-1-1zm0-9zm-2 3zm-1 7zm0-9zm-1-1zm0 4zm-3 6zm-2-11zm0 4zm0 4zm-3 3zm-3-1zm-1-5zm0 6zm-2 0zm0-2zm-1-8zm-1 1zm-1 3zm0-3zm0 7zm0-6zm-1 1zm0-3zm0 8zm-1-3zm0-5zm-1 10zm-1-4zm-4-3zm0 3zm0-1zm-1 4zm-2-4zm-1-3zm0 1zm0-3zm-1 6zm-1 2zm-1-9zm0 12zm0-10zm-1 5zm-1 2zm-1 0zm0-5zm-1-4zm0 1zm-1 0zm0 11zm0-10zm-1 4zm0 1zm-1 4zm0-10zm0 10zm-2-9zm-1 7zm0 2zm0-3zm0-4zm-1 5zm0-6zm-1 2zm0-4zm0 8zm-1 2zm-1-3zm0-1zm-1-3zm0-3zm-1 2zm0 6zm-1 3zm-1-8zm-1 5zm0-4zm0 0zm0 2zm-1 3zm0-7zm0 2zm-1 1zm0-4zm-1 7zm-1 1zm-1-5zm0-4zm-1 9zm-2-7zm-2 6zm-1-4zm-1 4zm-3-7zm-3 3zm0 0zm-2 4zm-1-5zm0 1zm-16-3zm-7 1zm27 10zm5 1zm1 4zm1 0zm1 1zm2-6zm1 1zm2 0zm1-1zm0 1zm1 4zm0-2zm5 3zm0 0zm1-4zm0-1zm0 0zm0 3zm1 6zm0-4zm1-1zm0 5zm0-10zm1 2zm0 4zm0-1zm1-3zm0-1zm0 6zm0 3zm1-9zm1-1zm0 2zm0-1zm0-1zm1-1zm0 10zm0-9zm1 9zm0-4zm0 4zm1-7zm1-3zm2 10zm0-6zm0 7zm1-10zm1 6zm0-1zm1 2zm0-6zm0 5zm1 4zm0-3zm0-3zm2 1zm1 4zm0 1zm1-10zm0 10zm0-7zm0 0zm0-3zm1 6zm1-5zm0-1zm0 6zm1 3zm0-6zm1-1zm0-1zm0 7zm1-3zm0-3zm2 4zm0-1zm1-4zm0 3zm0-3zm0 8zm1-10zm0 3zm1 4zm0 3zm0 0zm0-4zm1-2zm0-1zm1 6zm0-6zm0 2zm1 5zm0-7zm3 6zm0-3zm1 0zm1 3zm0 0zm0 0zm1-7zm0 1zm0-1zm1 7zm1-9zm1 4zm0-3zm0 4zm0 6zm0-1zm0-2zm1-7zm0 2zm1 8zm0-3zm1 2zm1-9zm0 1zm0 9zm3-7zm0 0zm1 2zm1 0zm0 4zm1-2zm0-6zm1 3zm0 2zm0 2zm1-9zm0 1zm0 9zm1 1zm0-1zm0-9zm1 4zm1 0zm0 7zm0-3zm1-2zm1-6zm4 1zm0 6zm1-7zm1 6zm1-6zm2 3zm1 3zm1 0zm3 0zm1 1zm2 0zm3 4zm1-7zm1 5zm1-3zm2-5zm-8 19zm-3 3zm-3 0zm-2-5zm-1 0zm-2-4zm-1 7zm-3-4zm0-2zm-1 6zm-1-4zm-1 4zm-1-4zm-2 0zm-1 6zm-1-7zm-1 5zm-1 0zm-3-8zm0 8zm-2-7zm-1 1zm0-2zm0 5zm0 0zm-1 2zm-2 0zm-1 2zm-1-2zm0-7zm0 2zm-1 5zm-1-2zm0 3zm-1 1zm-1-9zm0 9zm-1-6zm0-2zm-1-2zm0 7zm0-5zm-1 5zm-1-2zm-1-2zm-2-4zm-1 1zm-1 9zm0 0zm-1 2zm-1-9zm0 4zm0 2zm-1-8zm-1 4zm-2 1zm-1-2zm0 5zm0-3zm-1-3zm0 2zm0-4zm-2 3zm0 3zm-1-1zm0-6zm-2 6zm0 0zm-2 1zm-1 4zm0-7zm0 0zm-2 5zm0-8zm0 1zm0 3zm-1-4zm0 2zm-1-1zm0 10zm-1-10zm0 1zm-2-1zm0 6zm-1-6zm0 8zm-1-1zm0-7zm0 0zm-4 7zm-3-1zm0-1zm-3-6zm-1 8zm-1-6zm-6 2zm0 0zm0 5zm-1-5zm-3 2zm-1 2zm-1-8zm-1 0zm-8 0zm-2 4zm6 10zm1 5zm10-6zm9 5zm10-3zm2-3zm3 4zm1-1zm4 2zm4 1zm2 2zm3-7zm4 5zm2-3zm3 1zm1 2zm0-5zm2 10zm0-10zm1 2zm0-4zm0 5zm1-1zm0-3zm4 7zm0-6zm3 5zm2 2zm2-7zm0 2zm2-2zm2 5zm0 4zm2-10zm4 8zm2-4zm3 4zm4-8zm2 10zm2-10zm3 2zm7 8zm3-10zm-7 12zm-35-1zm-25 5zm-12-5z"/><path stroke="#eeeeee" stroke-width="6.0" d="M1356 821zm47 11zm-2 1zm-27-2zm48 22zm-30 3zm-22-6zm-26 5zm-8 5zm29 7zm13 12zm-27-1zm-11-6zm-16 21zm3-9z"/><path stroke="#f9efe9" stroke-width="6.0" d="M1363 800zm-14 31zm10 8zm34 0zm7 7zm-22 11zm-25-4zm-18-3zm6 19zm16-10zm3 11zm4-4zm10-8zm0 6zm6 0zm-13 12zm0-4zm-1 4zm-30 1zm-105 7zm2 0zm74 5zm17 4zm-28 3zm6 20zm10 11zm-36-4zm-6 5zm0-6zm-2 3zm-3 10zm5 0zm6 3zm4-4zm5 5zm24-7zm18 9zm-4 1zm-35 4zm-7 2zm-8-5zm-5 8zm-12-1zm0 5zm34 3zm1 4zm8-5z"/><path stroke="#fcdfce" stroke-width="6.0" d="M1353 811zm16 5zm12 7zm-16 2zm-13 3zm3 8zm2 4zm44 3zm-39 6zm-7 4zm0 3zm-11-7zm-65 6zm-9 15zm73-11zm16 5zm6-5zm20 11zm14-7zm-31 13zm-6-1zm-6-1zm-2 6zm-8-6zm0 4zm-1-8zm-30 8zm-82 14zm60-6zm26 4zm12 2zm19-4zm2-3zm9 6zm4 5zm-13 2zm-17-1zm-21 2zm-12-2zm-3-1zm-6 5zm-20-3zm-32 7zm5 7zm13 2zm6 3zm4 1zm0 0zm8-3zm18-3zm14 16zm-14-4zm-7 6zm-6-4zm-6 3zm-5-9zm-2 4zm-3-2zm-12 15zm7-2zm8-4zm8 5zm2 6zm4-2zm3-1zm1-3zm0 3zm4-4zm5 6zm3-8zm7 6zm2 0zm3-4zm1 9zm-1 0zm-13 3zm-13 1zm-11-4zm-1-2zm12 25z"/><path stroke="#f7ba9c" stroke-width="6.0" d="M1353 820zm68 11zm-57-3zm-52 6zm62 11zm-1 10zm-5 1zm-6-2zm-4 1zm-10 3zm-11-9zm-56 12zm2 5zm0-4zm65-2zm6-1zm3 2zm18-3zm-3 22zm-14-3zm-18 2zm-4-2zm-95 15zm9-4zm40-4zm4 1zm12 5zm16-7zm3 2zm7 2zm16 1zm4-3zm1 8zm-32 5zm-3 2zm-9 6zm-11-8zm-33 4zm10 11zm24 15zm-1-7zm-12 7zm-22-9zm-1 9zm3 10zm0-4zm6-3zm3 5zm11 0zm1 1zm2-4zm9-1zm5-1zm1 3zm2 1zm5 7zm14-3zm-18 8zm-10 0zm-32-4zm5 20zm4-7zm1-2zm13 1zm16 8zm-4 4z"/><path stroke="#ea8f71" stroke-width="6.0" d="M1241 833zm95 9zm26-5zm8 6zm41 12zm-62-1zm0 1zm-33 13zm1-10zm3 2zm16 6zm26-7zm7 1zm2 6zm-1 6zm-8 9zm-46-5zm-10-1zm-38 8zm15 1zm22-1zm-50 23zm40 7zm36-7zm-35 24zm-8-1zm-3 1zm-4-7zm-14 6zm-2 8zm4 1zm1-5zm13 2zm1-1zm1-1zm1 4zm21-3zm10 8zm-14 5zm-6 6zm-3-3zm-18-1zm-10-6zm-1 0zm-2 5zm8 9zm32 4zm15-5z"/><path stroke="#d86651" stroke-width="6.0" d="M1315 827zm26 23zm-18 0zm-4 10zm32 17zm-11 4zm-13-9zm-12-1zm-15 11zm-48-2zm-19 8zm65-1zm3 3zm68 8zm-33 7zm-57-5zm-20 1zm0 9zm15 4zm13 0zm22 11zm-38 4zm-5-1zm-4-4zm-6-3zm-6 16zm22 3zm4-8zm2 8zm1-5zm1-4zm1 7zm2-1zm2 3zm10-1zm3-5zm6 1zm14 7zm-15 8zm-1-3zm-10-2zm-5 5zm-1-3zm-7 4zm-3-6zm-18 17zm2-3zm23-3z"/><path stroke="#c53e3d" stroke-width="6.0" d="M1291 842zm20 40zm-58 2zm11 0zm3 7zm11 2zm23-8zm2 9zm8-11zm3 5zm40 2zm-100 12zm-12-2zm6 7zm18 4zm4 3zm3-5zm2 0zm1-1zm20 8zm43-6zm-45 19zm-10-6zm-8-1zm-4 1zm-15 6zm0 9zm2-5zm6 7zm9 0zm2-9zm2 5zm13-1zm1-1zm9-4zm3 4zm13 6zm0-2zm8 3zm-26 12zm-4-4zm-9-2zm-2 0zm-3 5zm-8-9zm-14 6zm31 8zm1 4zm10-6zm2 1z"/><path stroke="#af172b" stroke-width="6.0" d="M1341 809zm-27 34zm33-3zm-38 13zm-30 4zm0 3zm56-1zm23 6zm-51 6zm-18 10zm-13 8zm8 0zm27 0zm30-5zm-18 19zm-34-2zm-3-2zm32 11zm-15 18zm-10 1zm-7-3zm-3 0zm-9 3zm-9-5zm-3-3zm0 8zm-4 1zm0 7zm3-7zm1 5zm4-5zm2 3zm3 4zm7 1zm4 2zm5-9zm6 10zm3-10zm1 8zm3-5zm1 6zm2 2zm10-11zm3 6zm5 9zm-13 4zm-6-2zm-7 0zm0 3zm-3-5zm-7-1zm0-2zm-2 8zm-5-6zm-13 1zm2 12zm23 7zm0-8zm7 7zm19-3z"/><path stroke="#7f0823" stroke-width="6.0" d="M1291 844zm25 21zm16-3zm-55 18zm-6-9zm24 20zm53 2zm-92 19zm10-1zm22 4zm1-4zm1 31z"/><path stroke="#adadad" stroke-width="5.9" d="M1176 614zm-68-5zm7 11zm384 21zm0-8zm-1 6zm-3 2zm-4-2zm-5 0zm-1-2zm0 0zm-25-7zm-16 9zm-2 3zm-228-5zm0 4zm-5-5zm-26-5zm-31 8zm0-6zm-1 4zm-9 0zm-35 11zm12 2zm45 1zm2 1zm10 0zm6-2zm11 4zm8-12zm4 5zm42-4zm0 7zm161 0zm13-7zm7 9zm14 2zm3-5zm2-7zm1 7zm0-3zm2 6zm4-7zm2 3zm1 3zm4-7zm0 7zm1 2zm0-3zm2 1zm3 0zm1-2zm2 3zm1-7zm2-1zm1 0zm0 7zm4 2zm1-6zm0 4zm1 3zm2-3zm0-1zm0 1zm1-2zm0 5zm0-9zm1 3zm1 6zm0-3zm1 0zm1-6zm5 9zm1-11zm0 3zm0 6zm1-2zm1 0zm2-2zm1-2zm0 2zm2-5zm2 2zm3 1zm0 5zm3-4zm2 5zm0-3zm8 4zm0 0zm4 1zm-2 8zm-1 4zm0-2zm-5-1zm-2-1zm-1-3zm0-3zm-5 8zm-1-4zm0 3zm-2-6zm0-1zm-1 5zm-1 3zm-2 0zm-2-8zm-1 7zm-1-6zm-1 5zm0 1zm-1-1zm0 1zm-3-6zm0 8zm-3-7zm-1-2zm-1 3zm0-1zm0 5zm-1 1zm-1-6zm0-3zm-1 5zm0 4zm-1-2zm0 3zm-1-8zm-1-1zm-1 9zm-1-11zm0 11zm-1-3zm0-3zm-1 3zm0-7zm0 7zm0 1zm-4 2zm-1-5zm0 5zm-3-1zm0-10zm0 5zm-1-3zm0 9zm-2-3zm-1-3zm0 5zm-2-2zm0-2zm-1-4zm-3 7zm0 0zm-4-8zm-2 0zm-1 3zm-1 0zm0 4zm-6-1zm-2 4zm-1-1zm-2-6zm-4 4zm-2-2zm-14 0zm-5 5zm-3-8zm-1 2zm-16 4zm-43-5zm-94 7zm-32-6zm-8 2zm-8 2zm-7 1zm-13-9zm-3 1zm-3 0zm-2 5zm-9-1zm-2 0zm-2 5zm-3-11zm-14 3zm-2 0zm0 8zm-1-5zm-11 1zm-4-2zm-2 5zm-20 1zm-23-3zm43 11zm0 2zm4-2zm0 1zm9-6zm9 8zm5-4zm7 4zm1 0zm4 1zm7-8zm1 4zm7-2zm5 4zm8 1zm0 0zm215-2zm22-3zm3-1zm0-3zm1 6zm2-2zm4-1zm2-1zm2 3zm3-3zm1 3zm1-2zm1-4zm2 6zm1 5zm0 1zm2-4zm5 2zm1-9zm0 1zm0 10zm1-6zm1-1zm0 0zm1 3zm0 2zm1-4zm0-3zm0 3zm0 4zm1-8zm1 2zm1-3zm0 10zm1-4zm3-6zm1 1zm0 1zm0 4zm0-2zm0-3zm1-2zm0 3zm0 6zm1-6zm0 5zm2 0zm0-4zm1-2zm1 7zm0 2zm0 0zm1-9zm0 9zm0-7zm1 1zm0 1zm0-3zm0 5zm2-3zm1 1zm0 1zm0 1zm1 0zm0 3zm0-2zm1-8zm0 5zm1-2zm0-4zm2 3zm0 5zm0-7zm2 2zm1-1zm0 3zm1-5zm0 5zm1 0zm1 4zm1 2zm0-9zm1 0zm0 2zm2 4zm0 0zm1-1zm0 0zm0-6zm1 0zm0 3zm1 2zm0-1zm1 3zm2 2zm0-6zm0 7zm3-9zm1 4zm2-2zm2 8zm3-8zm-7 18zm-3-4zm0-4zm-2 3zm-1-2zm-2 0zm0 5zm-1-5zm-2 2zm-1-3zm0 8zm0-8zm0-2zm-1 4zm-2-1zm-1-1zm0-1zm-5 6zm-1 1zm0-7zm-1 10zm0-6zm0-4zm-3 9zm-1-1zm-1-1zm-2-6zm0 7zm-1 2zm0-5zm-1-5zm-1 0zm0 7zm-1-1zm-2-4zm-2 8zm0-8zm-2 2zm-1-3zm-2-1zm0 4zm0 0zm-1 6zm0-6zm-1-3zm0 1zm-1 2zm-1 6zm-1-8zm-2 0zm-2-1zm-3 2zm-1 6zm-2-1zm-1-1zm-2-7zm-8 6zm-1 5zm-10-3zm-215-7zm-11 6zm-5-2zm-3-1zm0-1zm-2 3zm-8 0zm-7-1zm-2 1zm-5-4zm-21 8zm-1-9zm-3-2zm-14 3zm-12 9zm-73 9zm61-3zm12-4zm12 10zm5-5zm1-1zm2 5zm1-4zm10 2zm2-8zm5 1zm4 6zm2-3zm5 6zm0-9zm1 1zm1 4zm3-7zm5 5zm2 0zm1-4zm3 3zm4 0zm3 0zm16-2zm5 5zm2-4zm4 2zm1 0zm19 5zm1-2zm114 3zm1-11zm53 6zm18-3zm4 3zm8-1zm2 5zm7-2zm0-3zm4-2zm19-1zm2 8zm1-1zm0-6zm3 5zm0-5zm1 6zm2-8zm1 1zm2 0zm1-2zm0 11zm1-8zm0-1zm2 0zm1-2zm2 2zm2-1zm1 5zm4-3zm0 7zm16 1zm4-4zm0 9zm-4 0zm-1-1zm-3-2zm-18 10zm-7-2zm-4-7zm0 1zm-4 1zm-3 4zm-2-7zm-2 7zm-1-7zm-6-1zm-2 1zm0 3zm-2 3zm-2-1zm-2-1zm-18-1zm-12 1zm-2 0zm-6 5zm-11-9zm-42 2zm-131 2zm-1 4zm-15 2zm-3-9zm-1 0zm-1-2zm-2 1zm-4 5zm-5-4zm-15-2zm-23 4zm-7 7zm-1-2zm-20-7zm-5 10zm-23-2zm-15-8zm34 11zm33 0zm1 8zm8-8zm0-1zm2 3zm1 8zm8-8zm10 2zm2-2zm174 7zm29-8zm1 4zm10 4zm20-1zm2-2zm7 2zm4-7zm4-1zm0 6zm8 4zm4-4zm7 0zm2 2zm1-7zm8 3zm15 2zm14-4zm-27 13zm-6 3zm-5-2zm-8-2zm-2 3zm0-2zm-4 5zm-24 2zm-17-10zm-228 5zm-2-3zm-2 6zm-26-1zm0-7zm-5 5zm-66 8zm65 1zm0-2zm7 9zm21-1zm29-8zm204 3zm17 8zm5-4zm1 0zm11-3zm12-1zm0-2zm5 1zm2-1zm6 9zm1-8zm22 18zm-27-3zm-2-4zm-1-2zm-14 10zm-7-4zm0-6zm-7 3zm-6 4zm-11 0zm-32-4zm-77 7zm-120-6zm-11 8zm-8-8zm-15-3zm16 21zm18-8zm33 8zm63 1zm120-5zm5-6zm7 7zm12 2zm0-2zm6 1zm2-7zm2 11zm3-9zm1 2zm0-2zm20 7zm1-3zm13 3zm1 1zm11-7zm-32 13zm-1 1zm-6-6zm-12 7zm-10 0zm-7 4zm-10-2zm0 1zm-5 2zm-2-9zm-53 1zm-169-4zm-10 6zm-21 4zm17 7zm34 6zm1-3zm157 4zm6 0zm7-11zm8 3zm7 8zm6-2zm13-5zm9-1zm2 3zm5-5zm5 5zm1 1zm0 1zm8 0zm6-4zm17 17zm-18-2zm-2 0zm-5-4zm-2 5zm-5-6zm-1 7zm0-1zm-16-8zm0 9zm-1-7zm-1-2zm0 4zm-5-3zm-27 7zm-163-7zm-1 10zm-19 0zm-6-2zm-17-2zm-3-3zm-1-2zm-5 9zm0-5zm-3-1zm-11 1zm-4 5zm15 12zm2-2zm4-7zm0-2zm6 6zm1-7zm5 1zm4 7zm3-3zm15-4zm17 9zm7-1zm141-7zm1 8zm14-7zm3-1zm1 3zm1-1zm13 1zm8 1zm3 5zm0-6zm4 6zm5-1zm11-3zm8-4zm19-2zm5 12zm-18 3zm-18-3zm-13-1zm-4 12zm-5-9zm-2 2zm-11 2zm0 3zm-9-4zm-13-5zm-31 9zm-14 1zm-112-5zm0-3zm-4-2zm-5 5zm-3-6zm-6 2zm-3 6zm-7-6zm-4 1zm-1 7zm-1 1zm-1-8zm-55 7zm48 5zm3-2zm4 2zm19 8zm14-6zm8 6zm1-9zm2 0zm9-1zm70 4zm11 6zm25-6zm39 0zm1 5zm1-2zm0-3zm1 2zm2-1zm2-5zm14 7zm3-6zm2 5zm1 0zm2 1zm7-5zm0 8zm1-8zm2 7zm5-8zm0 2zm1-4zm11 10zm4-6zm7 12zm-20-4zm-4 1zm-10 2zm-2-2zm-7 3zm-2 4zm0-4zm-4 1zm-10 6zm-3-1zm-6-5zm-12 5zm-4-2zm0-5zm-6 5zm-8 0zm-3 0zm0 1zm-8-1zm-5 3zm-25 0zm-12 1zm-117-9zm-37 0zm16 16zm45 4zm32-1zm35-4zm8 3zm21 0zm32-1zm6-5zm2 5zm9 1zm2-2zm1 3zm4-9zm6 0zm2 11zm2-3zm9-8zm0 1zm5 2zm3-3zm4 1zm3 3zm14 6zm0-9zm7 8zm3 2zm1-2zm31-8zm-40 12zm-10 10zm-4-10zm-11 5zm-2-3zm-4 1zm-2 4zm-10-6zm-3 2zm-1-2zm-6-2zm-1 3zm-3-3zm-20 6zm-2-4zm-2 3zm-27 4zm-5-10zm-9 7zm-5-7zm-24 6zm-166-3zm113 14zm27 1zm17 3zm4 2zm0-7zm12 2zm6 3zm13-6zm3 4zm21-6zm7 11zm3-4zm10-3zm11-2zm3 8zm11-3zm4-7zm4 1zm2-1zm58 0zm-51 16zm-13 4zm-24-2zm-2 3zm-8-4zm-17-4zm-6 1zm-8-1zm-11 6zm-1-5zm-4 0zm-5 8zm-2-3zm-6-2zm-3 3zm-10-3zm-20 16zm1-10zm8 10zm23-2zm2 3zm2-10zm0 5zm7 4zm0-7zm16 5zm2-5zm11-2zm65 1zm-25 14zm-19 5zm-4 1zm-1-5zm-3 7zm-1-1zm0-6zm-6 4zm-6-2zm-5-6zm-2 1zm-4 2zm-1 5zm-1-5zm-3 3zm0-1zm-3-3zm-1 7zm-3-4zm-4 0zm-1 0zm0 2zm-4 1zm-1-6zm-2-2zm-1 4zm-3 2zm-10 3zm-15-6zm-1-1zm-12-2zm4 22zm6-10zm12 6zm4 1zm1-2zm0-1zm0 7zm2-2zm6-7zm2 9zm2-2zm1-10zm1 2zm3 4zm5-4zm4 8zm3-2zm8 0zm3-3zm0 3zm2 0zm2-4zm1 5zm3 0zm0 2zm1-3zm5-1zm4-1zm3 5zm5-5zm0-3zm4 6zm2-6zm6 1zm2 5zm19-8zm-25 20zm-4-9zm-4 2zm-4 0zm-1-1zm0 2zm-1 1zm0 7zm0-8zm-1-1zm0 0zm-2 2zm0 1zm0-2zm-3 6zm-2-8zm-1 9zm-1-10zm-4 4zm-4-2zm-1 2zm-3 5zm-2 2zm-6-10zm-4 3zm-1 7zm-4-10zm-4 1zm0 9zm-3-10zm0-1zm-2 12zm-2-6zm0-1zm-4 1zm0-5zm-7 10zm14 3zm8 0zm17 6zm3 2zm10-9zm11 3zm-49 13zm-10-3z"/><path stroke="#eeeeee" stroke-width="6.0" d="M1381 828zm-13 4zm-9-1zm5 14zm5 0zm0-6zm47 6zm-16 3zm-18-2zm-7 3zm-35 20zm4 0zm15-5zm21 17zm-33 0z"/><path stroke="#f9efe9" stroke-width="6.0" d="M1410 822zm-34 3zm-15 8zm-23 1zm4 8zm4 1zm32 0zm-3 15zm-35 11zm41-5zm3 7zm-134 9zm-17 1zm29 9zm28 4zm20-3zm15-9zm13 7zm18 0zm42 5zm4-10zm-48 11zm-53 32zm-18 2zm-6-1zm-4-4zm-5-2zm-8-4zm14 14zm6 3zm24-1zm11 12zm-15 6zm-3-1zm-7-9zm-5 5zm0-1zm-11 1zm-3-4zm-9 5zm-5-5zm8 12zm57 3z"/><path stroke="#fcdfce" stroke-width="6.0" d="M1353 796zm58 33zm-26 2zm-15-4zm-53 9zm11 8zm62 0zm-18 9zm-2-6zm-2 8zm-3 2zm0-9zm-59 1zm-13 9zm-47 10zm85-10zm23 6zm3-3zm4 9zm37 3zm-32 0zm-2 0zm-36 6zm-5 3zm-4-5zm-4 4zm-72-10zm-4 9zm67 6zm50 14zm-30 0zm-30 2zm-6 0zm-42-4zm-3 5zm20 8zm5 5zm9-7zm48-1zm-9 18zm-22-4zm-3 4zm-3 1zm-20 1zm-14 2zm0 3zm8 7zm3-8zm7 4zm2-2zm9-3zm5 0zm1 7zm0 1zm4-3zm1 3zm6-3zm2 3zm10-4zm2 4zm-6 3zm-10 12zm-42-1zm4 12zm34-3z"/><path stroke="#f7ba9c" stroke-width="6.0" d="M1363 801zm13 18zm12 5zm-65 8zm-28 11zm51 3zm14-11zm43 6zm-35 16zm-47-1zm-56 7zm38 6zm4 0zm38-2zm4-4zm24 0zm22 2zm29-6zm-46 17zm-9-3zm-18 0zm-20-1zm-1 2zm-3 0zm-23 7zm-2-3zm-41 15zm2-3zm6-8zm26 4zm18-3zm17 3zm37 6zm19 5zm-40-2zm-75 4zm-9-1zm-23 9zm7 4zm12-3zm9 6zm1-1zm88-3zm-76 19zm-2-5zm-4 2zm-9-8zm-8 7zm-1 11zm4-5zm2 1zm4 9zm0-8zm2 0zm0 2zm18-3zm3 1zm12 3zm10 0zm4 0zm0 0zm-5 8zm-14 0zm-8-2zm-6 4zm-7-3zm-9 3zm0 2zm-4-5zm-12 3zm21 14zm12-1zm14-2zm5-1z"/><path stroke="#ea8f71" stroke-width="6.0" d="M1344 837zm-25 20zm-5-3zm-22 16zm26-5zm33-3zm19 9zm-6 0zm-25 10zm-11 0zm-11-2zm-4 3zm-9-11zm-17 9zm-39 13zm25-10zm19 4zm16-1zm14 3zm4 2zm4-5zm6 15zm-15-2zm-10-2zm-71 10zm22 9zm15 1zm5 0zm1 0zm3-5zm50 7zm-54 9zm-1 2zm-7-6zm-4 5zm-3-4zm-10-2zm5 15zm6-4zm12 8zm0 0zm4-6zm15 3zm6 11zm-5-7zm-1 6zm-4 0zm-3-2zm-1-3zm-2 7zm-2 1zm-6-2zm-4 3zm-3-11zm-7 9zm-1-4zm-10 1zm55 10z"/><path stroke="#d86651" stroke-width="6.0" d="M1360 856zm-19-6zm-35 11zm9 4zm52 2zm-20 9zm-37-1zm-6-2zm-7 2zm-4-3zm-2 8zm-13-7zm-9 8zm-25-10zm-6 21zm20-1zm14-2zm51 5zm12-9zm1-3zm21 2zm5 16zm-6-6zm-61 0zm-3 10zm-28-10zm2 19zm47 14zm-11-3zm-2-4zm-3 4zm-16 5zm-1-2zm-3 3zm-2 0zm-2-5zm-6-3zm-6 2zm-4 16zm2-1zm3-4zm0 0zm1 4zm1-8zm8 2zm1 6zm1-7zm7 5zm14 3zm4 0zm1 1zm1-1zm2-6zm7-1zm5 12zm-12-3zm-3 6zm-7-4zm-1 8zm-3 0zm-1-10zm-1 3zm0 2zm-2-2zm-2 2zm0-4zm-2 0zm-8-1zm-2 4zm-10 3z"/><path stroke="#c53e3d" stroke-width="6.0" d="M1334 841zm-85 28zm39-8zm42 7zm15-6zm15 2zm-21 17zm-26-8zm-23 8zm-48 4zm27 5zm5 0zm3 2zm5-3zm71 10zm-38-4zm-9-1zm-15 6zm-3 3zm-14 3zm16 8zm37-1zm-5 10zm-19-2zm-7 3zm-7 2zm-25-2zm0 1zm-6-3zm-1 12zm2-4zm6 0zm14 9zm2-5zm2-2zm2 5zm7-4zm7-2zm13 7zm5-6zm3 12zm-15 8zm0-8zm-14 9zm-15-8zm-18 12zm1 2zm13-4zm4 3z"/><path stroke="#af172b" stroke-width="6.0" d="M1339 832zm-6 12zm8-2zm-92 27zm13-4zm17-4zm11 2zm18 6zm40-8zm9 13zm-1-3zm-63 10zm-7-9zm0 7zm39 11zm36-4zm-50 12zm-6 0zm-2 3zm-37 0zm-8-3zm-5-2zm-7 5zm17 9zm17 5zm8-7zm8 16zm-6-4zm-20 5zm-6 5zm1 12zm4-12zm6 2zm2 5zm3 1zm7-7zm9 0zm12 6zm3-1zm4-2zm5 20zm-25-10zm-14 0zm-2 6zm-3-4zm0 0zm-3-3zm-13 6zm17 10zm10 2zm5-7zm7 1zm8 0z"/><path stroke="#7f0823" stroke-width="6.0" d="M1322 858zm39 14zm-91 8zm10 3zm86 22zm-44-3zm-22 2zm-38 13zm8-5z"/><path stroke="#adadad" stroke-width="5.9" d="M1189 617zm-133 13zm64-5zm28 0zm5-7zm13 11zm291-8zm41 4zm15 9zm-3 6zm-12-2zm-15 3zm-2-10zm-13 9zm-4-5zm-34 2zm-77 4zm-124 1zm-45-3zm0-7zm-84 11zm45 4zm15 5zm1-8zm1 8zm8-7zm2 8zm3 1zm7-7zm1 1zm1 2zm13 1zm200 1zm29-9zm7 5zm6-2zm10 7zm2-3zm12-2zm6 3zm4-4zm1 7zm0-1zm3-3zm1 0zm1-1zm0 1zm1-5zm0 6zm0-7zm2 9zm1-5zm0 0zm0 4zm3-9zm4 6zm0 1zm1-4zm0 0zm0 6zm1-4zm3-6zm0 10zm1 0zm0 0zm1 1zm1 1zm0-7zm2 2zm1-5zm2 4zm4 6zm2-1zm6-4zm4 13zm-2-1zm-2-3zm0-2zm-1 4zm-1 6zm0-1zm-3-10zm-2-1zm-1 10zm-2-3zm-1 0zm-1-6zm-1 9zm0-8zm-1 6zm-3-6zm-1 9zm-1-4zm-1 4zm0 0zm0 1zm0-4zm-1-4zm-1 5zm0-6zm-1 2zm0 3zm0-4zm0 6zm-2-5zm0-4zm-1-1zm0 11zm0-2zm-1-1zm0-1zm-1-3zm0 7zm0-2zm0-6zm0 6zm0-3zm-1 6zm0-5zm0-3zm-1 1zm-1 0zm-1 0zm-1 7zm0-8zm-1 8zm0-10zm-2 6zm0-2zm-1-5zm0 3zm0 7zm0-9zm-1 7zm0-9zm-1 9zm0 1zm-1-1zm0 3zm0-11zm0 9zm-2-1zm0-3zm0-4zm0 0zm0 9zm0-5zm-1-6zm-1 8zm0 2zm0-5zm-1 1zm-1 4zm-2 2zm0-8zm-1 0zm-2 7zm0-3zm-2-6zm-2 7zm-1 0zm-4-5zm-1 6zm-4-4zm0-3zm-1 3zm-1 3zm-1-2zm-3 2zm-2-2zm-2 0zm-68-3zm-135 7zm-5-9zm-11 1zm-13 4zm-14-4zm-1 8zm-5-1zm-10-9zm-19 10zm-12-7zm0 3zm-15 2zm-63 1zm24 9zm24 0zm4-3zm21 8zm14-12zm4 9zm1-7zm0 3zm4-1zm2 1zm6 0zm9-3zm1 5zm0-4zm2 8zm3-7zm3 2zm3-5zm5 3zm24-2zm2 7zm2 3zm5-6zm1-2zm167 1zm20 0zm26 6zm9-9zm0 5zm1-4zm1 4zm3-3zm1 0zm0 4zm1-4zm2-1zm0 6zm1 0zm2-5zm0 7zm1-5zm0 0zm1 0zm1-4zm1 8zm0-5zm1 0zm0 0zm1 3zm0 1zm0 2zm0-11zm0 3zm0 7zm2-6zm0-2zm2-1zm2 2zm1-2zm1 5zm1 5zm1-5zm1 3zm0-8zm0 2zm1 3zm2-3zm1 6zm0-2zm0 2zm1-1zm0-1zm1-5zm0 2zm1 2zm3 1zm2 0zm1 5zm2-10zm4 6zm0-5zm0-2zm0 4zm1 1zm0 4zm1-4zm1 2zm0-2zm5 0zm0 0zm1-6zm1 1zm0 8zm1-6zm3-1zm1 6zm2-4zm0 4zm3-6zm-1 21zm-8-8zm-5 1zm-7-1zm-3-2zm-1 1zm-2 8zm-1-3zm-1-3zm-1 2zm0 6zm0-10zm-1 1zm-2 4zm-2 1zm0-8zm0 8zm-1-3zm-1-2zm-1 3zm-1 3zm0-2zm-1 2zm-1-4zm-1-4zm-3 0zm0 4zm-1 6zm-4-10zm0 6zm-1 0zm-2-4zm-1 5zm-2-4zm0 1zm-1 1zm0-1zm-1 0zm-1 0zm-1 0zm-1-4zm-2 1zm-1 1zm-3-3zm0 2zm-9 5zm0 2zm-2-7zm0 0zm-4 1zm0 0zm-4 4zm-16-5zm-46 9zm-146-6zm-7-1zm-11 0zm-7 5zm-2 2zm-4-4zm-10 1zm-9 3zm-1-3zm-1-2zm-6 5zm-1-3zm0 0zm-4-8zm-1 4zm-2 6zm-4-3zm-3-4zm-2-2zm-1 10zm-2-6zm-5 6zm0-3zm-3-7zm-8 6zm-1-7zm-2 11zm-2-1zm-11-2zm-2 2zm-56 1zm-14 9zm26-5zm42 2zm8-5zm10 6zm3-2zm1-2zm1 2zm9 8zm11-8zm16 5zm1-4zm3 4zm0-5zm2 0zm0-3zm2 7zm1-6zm0-1zm1 9zm3 2zm16 0zm8-2zm5-8zm24-2zm194 3zm9 9zm3-1zm1-4zm4-3zm4-2zm1 9zm6 1zm1-2zm0-9zm0 3zm3 3zm0-5zm1 8zm1-3zm2-2zm1 0zm0-2zm4 0zm0 3zm2 0zm2-2zm2-3zm1 8zm1-6zm0 4zm4 5zm2-4zm0-6zm4 7zm4-2zm2 3zm8-4zm-7 15zm-3-7zm-12 3zm-4 1zm-1 5zm-4-1zm-1-1zm-1-5zm0 7zm-8-1zm-1-1zm0-2zm-3-1zm-1 3zm-4-7zm-3-1zm-7 2zm-5-3zm-32 5zm-8 5zm-169 0zm-2 0zm-20 0zm-10-2zm-2-6zm-4 3zm-9-2zm-10 8zm0-1zm-2-7zm-3 7zm-1 2zm-2 0zm-13-5zm-1-4zm-18 4zm-6 3zm-2-2zm-14-2zm-27-1zm-35 16zm43-5zm10-2zm7 5zm27-6zm10 8zm9-7zm2 4zm6-1zm7 0zm0-3zm1 1zm4-2zm1 4zm2 7zm0-6zm14 0zm1 2zm54-2zm106-1zm42 7zm33-5zm6-6zm3 0zm16 9zm1-10zm2 8zm3-5zm1 8zm5-7zm2 4zm1 2zm7-4zm6 2zm8-6zm3 8zm29 3zm-54 2zm-9-2zm-1 1zm-5 3zm-54 2zm-19-3zm-161 0zm-41-3zm-31 3zm-18-2zm-9 21zm62-6zm36-2zm180 5zm24 3zm0-3zm6 3zm5-2zm2 1zm11 0zm21-2zm0-6zm15 13zm-23-2zm-2 0zm-11 5zm-2-2zm-6 8zm-7 0zm-18-6zm0 0zm-41 5zm-80-7zm-86 1zm-2-3zm-39 0zm-27 3zm5 12zm58-3zm211 6zm9 3zm11-8zm9 8zm4-6zm2 0zm10 1zm5-2zm0 1zm22 11zm-35 5zm-4-6zm0 8zm-5-4zm0-2zm-1 0zm-7-5zm-1 9zm-5-8zm-2 0zm-1 9zm-5-9zm-2 1zm-6 8zm-13-9zm0 2zm-16 2zm-11 5zm-16-8zm-84 8zm-94 2zm-29-6zm13 16zm4 0zm3 1zm24-10zm171 0zm0 8zm25 1zm10-6zm10-2zm3 1zm6 8zm2-7zm3 2zm4 1zm5-1zm9-2zm3-3zm1 3zm2 0zm16-3zm-6 13zm-18 2zm-4-1zm-1-1zm0 5zm-7-5zm-6 7zm-2-1zm-4-1zm0-6zm0 5zm-1 6zm-19-11zm-23 0zm-59 4zm-22 3zm-75 3zm-17-6zm-1-5zm-9 6zm-1 5zm0-2zm-5-4zm-4 0zm-2-5zm-11 1zm0 6zm-8 5zm-7-10zm-6 1zm-1 2zm-8 6zm1 10zm6-1zm15 1zm6 1zm9-3zm1-7zm4 9zm4 3zm1-3zm8-4zm15 6zm0-7zm7-4zm144 8zm16-1zm7-1zm7-4zm7 4zm0-4zm6 5zm3 3zm15-6zm0 0zm5 0zm0-3zm15-1zm1 3zm1 16zm-5-5zm-15 3zm-3 3zm-9-1zm-13-3zm-7 7zm-6 1zm-13-5zm-167-3zm0 0zm-1-3zm-13 9zm-11-4zm-4-3zm-31 7zm-10-7zm-39 4zm66 8zm3 8zm169-3zm14-1zm3 2zm18-2zm0-3zm2 3zm2-2zm5 6zm5-11zm2 9zm5-5zm21 6zm5-9zm19 12zm-8 6zm-19-4zm-5 5zm-9-2zm-4 3zm-1-5zm-1 6zm0-5zm0 6zm-7-4zm-2 0zm0 5zm-3 0zm-1 0zm-3-3zm-1-7zm0 6zm-10-7zm-2 8zm0-7zm-2 4zm-1-2zm-19 1zm-8 5zm-25 1zm-140-10zm-13 3zm25 10zm2 4zm28-2zm62 3zm25-1zm6 4zm1 2zm14-7zm5-2zm7 7zm4-2zm0-4zm3 5zm1-3zm0-4zm10 7zm2-2zm4-4zm0 0zm2-2zm4 6zm5 2zm6-5zm2 4zm1 1zm1-6zm0 4zm0 0zm2 4zm0-9zm3 4zm2-1zm8 1zm0-2zm7-3zm14 3zm4-3zm-3 19zm-17 0zm-3-4zm-7 5zm0-4zm-2 6zm-1-9zm-2 6zm-2-1zm-13-6zm-5 7zm-1-1zm-5 0zm-1 0zm0-7zm-4 3zm-2 4zm0-7zm-1 5zm-4 1zm-3-3zm-5 3zm-5 4zm-2 0zm0-9zm-11 9zm0-7zm-6-1zm-12 6zm-7-7zm-63 6zm-30 3zm-19 7zm58-2zm6 4zm5 0zm3 3zm25 1zm0 1zm0-1zm3 1zm3-7zm22-3zm11 2zm10-2zm21 1zm7 0zm3 6zm1 2zm7-9zm5 6zm1-3zm20-4zm-27 13zm-7 0zm-1 1zm-17 6zm0-4zm0 6zm-6-7zm-6 7zm-7-1zm-20-8zm-2 1zm-10 2zm-1 1zm-5 1zm-13-6zm-1 4zm-2 3zm-14 2zm-2 1zm-3-7zm-5-3zm0 6zm-13 13zm9 1zm0 2zm3-9zm0 4zm3-2zm2 3zm2-1zm0-2zm5 7zm2-5zm3 4zm2 0zm1-1zm20 2zm9-9zm5 7zm8-7zm6 9zm19-2zm2-8zm5 6zm-12 12zm-15-3zm0 3zm-6-7zm-4 10zm0 1zm-1-2zm-6-1zm-9 1zm-5 1zm-1-6zm-2 5zm0 1zm-1-9zm-1 10zm0-1zm-1 1zm0 1zm-1-6zm-1 0zm-6-3zm-2 6zm0-3zm-2 6zm0-4zm0 3zm-1-2zm0-7zm0 4zm-5 3zm-4-4zm-7-2zm-1 2zm-5 1zm0-6zm-2 4zm-11-1zm13 12zm1 2zm7-2zm1-1zm1 3zm6 3zm2-7zm2 11zm3-6zm2-3zm0 7zm0-7zm1 2zm0 3zm1 3zm0-6zm3 0zm1-4zm1 9zm3-9zm1 4zm1 6zm8-5zm1-3zm0 1zm6 2zm2 5zm1-5zm9 0zm1 5zm9-2zm6-6zm1 8zm8-7zm11 4zm-13 7zm-1-2zm-1 5zm-2-1zm-1 6zm-3-5zm-7 3zm0-8zm-1 2zm-1 2zm-7 0zm-4 4zm-3-2zm0 2zm-3-5zm-4 0zm-4 0zm-1 5zm-3-7zm-7-2zm0 4zm-8 3zm-5-4zm0 4zm-2-5zm-3 4zm-4-6zm-1 4zm-3-3zm-1 6zm-1-4zm-3 3zm27 11zm4-1zm1 2zm3 0zm21-5zm3 0zm2 1zm1 1zm15 5zm1 1zm2-4zm0 4zm9-7z"/><path stroke="#eeeeee" stroke-width="6.0" d="M1362 831zm-1 0zm-19 7zm39-2zm16 12zm-1 0zm-2 3zm-4-4zm-2 2zm-4 4zm-60-6zm18 13zm15 4zm14 4zm1 2zm7-10zm9 3zm-1 8zm-3 9zm-22 0zm-49-9zm22 18zm54 3z"/><path stroke="#f9efe9" stroke-width="6.0" d="M1371 821zm2 17zm11 4zm-15 8zm-33 8zm-42-4zm25 14zm9-6zm1-4zm9 11zm6-5zm12 0zm9-6zm6 5zm4 5zm42-7zm-70 19zm-44-2zm-7-2zm-58 17zm156 6zm-126 10zm10 17zm-3 2zm-19-7zm10 13zm3 0zm1-1zm2 2zm5 3zm2-6zm16 8zm26 7zm-27 3zm-6-1zm-1 2zm0-4zm-23-3zm48 12zm2 3zm2-3zm8 5z"/><path stroke="#fcdfce" stroke-width="6.0" d="M1361 811zm19 10zm12 2zm-50-1zm-32 16zm10 4zm48-3zm16 15zm0-6zm-9 6zm-16 3zm-3-5zm-28 6zm-67-10zm43 10zm49 3zm2 2zm12 5zm6-8zm16 7zm-36 12zm-7-8zm-41 10zm-30-6zm-14-1zm-4 7zm-18-4zm27 6zm46-1zm1 2zm14 9zm12-7zm3 6zm0-4zm0 5zm15-1zm30-7zm-48 18zm-77 3zm-5-7zm-12 3zm18 10zm8 1zm5-4zm23 6zm23-2zm-6 14zm-1 0zm-27-3zm-4 4zm-1-9zm0 7zm-1-5zm-2 3zm-8 4zm-3-7zm-4-2zm-7 8zm0 5zm5 6zm4-5zm7-3zm8 7zm8-1zm2 2zm5-2zm6 3zm0 5zm-5 9zm-3-8zm-11-3zm-3 3zm-3 5zm-2-7zm-3 2zm-2 1zm-1-1zm11 10zm17 3zm14-2z"/><path stroke="#f7ba9c" stroke-width="6.0" d="M1396 823zm-27 6zm-34 4zm9 5zm14 0zm11 5zm20-1zm3 5zm-5 1zm-4 1zm-14-1zm-3 8zm-3-3zm-5-7zm0 5zm-6 5zm-16-9zm-7 4zm-53 13zm24 5zm22-5zm0 3zm25-3zm8 1zm4-6zm3 0zm4 2zm21 12zm-16 9zm-24-10zm-28 19zm33-5zm1 2zm11-3zm-101 15zm-15-5zm-4 5zm59 9zm1 11zm-16 0zm-2 6zm-2 4zm-7-1zm-5-10zm-3 10zm-7 1zm-2-6zm-1 5zm4 11zm10-6zm1-1zm7 6zm11-5zm4-2zm3 9zm4-6zm10 17zm-7-3zm-1 0zm-18-3zm0-4zm-1 2zm0-2zm-24 5zm-3-1zm-4 9zm8-1zm26 1zm17 2z"/><path stroke="#ea8f71" stroke-width="6.0" d="M1382 810zm-55 6zm47 26zm-14 13zm-62-9zm-35 11zm63 5zm34 9zm-7 8zm-19-6zm-7-3zm-34 9zm-47 8zm4-5zm29 8zm49-1zm4 0zm43 12zm-35-4zm-31 7zm-34-2zm26 22zm-1 6zm-2-1zm-7 1zm-5-8zm-15 0zm-15 7zm0 0zm4 11zm10-9zm0 1zm20 4zm7 0zm12-2zm9 10zm-2-2zm-2 7zm-10 2zm-4-1zm-21 4zm-6-7zm-11 2zm-2-5z"/><path stroke="#d86651" stroke-width="6.0" d="M1304 841zm-35 23zm30 3zm21-1zm22-3zm-50 19zm0-7zm-47 8zm17 6zm10-4zm21-1zm23 1zm15-2zm29 5zm4 6zm3 10zm-84 1zm-27-5zm-18-5zm31 23zm2-1zm4-4zm4 4zm11-3zm3-2zm19 9zm-8 9zm-8-2zm-1-9zm-1 6zm0 3zm-8-5zm-1 7zm-4 0zm-23 1zm3 8zm1 0zm4-7zm28 5zm2-1zm1-1zm21 1zm1 9zm-4 4zm-22-1zm-5 4zm-6-8zm-8-1zm-2 0zm-1 7zm8 6zm45 3z"/><path stroke="#c53e3d" stroke-width="6.0" d="M1326 834zm-44 7zm24 28zm21-10zm11 2zm21 5zm-9 9zm-21 2zm-48-2zm7 16zm5-4zm15 2zm40 2zm27 2zm-90 12zm-1-10zm-22 1zm-5 16zm9 2zm8 2zm1-6zm49 14zm-14 2zm-29-1zm-2-1zm-3-4zm-8 5zm-10 17zm4-2zm15 0zm1-3zm1-4zm4 5zm1-6zm4 3zm3 3zm2-3zm5-5zm1 8zm2 1zm7-2zm-7 13zm-5-7zm-1 1zm-9 4zm-1 0zm-3 3zm-1 2zm0-9zm-6 0zm-2 8zm28 3z"/><path stroke="#af172b" stroke-width="6.0" d="M1323 858zm-16 10zm42-2zm-75 8zm36 18zm-6 6zm-35-1zm-22 19zm19 1zm24 0zm3-5zm4-3zm46 19zm-49-6zm-8 0zm-10-2zm-11 8zm-2-9zm-1 6zm-6-2zm9 14zm0-5zm3 5zm3-1zm7 2zm1 4zm0-3zm0-7zm1 9zm4-6zm0 0zm1 5zm18-1zm1-7zm3 8zm13 0zm8 9zm-4-1zm-12 0zm-22 5zm-3-9zm-3 3zm-21-4zm-1 13zm16 6zm9-7zm6 4z"/><path stroke="#7f0823" stroke-width="6.0" d="M1328 797zm7 49zm-61 18zm39-1zm55 1zm-47 18zm-24-2zm-21 10zm21-2zm1-3zm6-1zm52 11zm-39 7zm-15-3zm-7 2zm-22-1zm-2 0zm17 24zm-14 6zm49 7z"/></g><g fill="none" stroke-linecap="round"><path stroke="#adadad" stroke-width="5.9" d="M1730 617zm-68-4zm8 10zm4 6zm25-6zm1 7zm3-2zm15-1zm6-8zm9 1zm1 10zm66-1zm189-3zm22-1zm42 4zm19-2zm0 1zm-4 9zm-9 1zm0-2zm0 5zm-6-5zm0 5zm-2-5zm-2 5zm-4 1zm0-5zm-5 4zm-2-1zm-2-8zm0 0zm0 6zm0 0zm-1-3zm0 7zm-2-3zm0 0zm0 2zm0 0zm-2-10zm-5 9zm-1 0zm-5-1zm-2 0zm0-4zm-4 5zm-19 0zm-2-8zm-15 10zm-3-3zm-14-8zm-13 5zm-2-4zm-10 7zm-16-5zm-2 4zm-133 2zm-4 0zm-10 2zm-7-3zm-11-1zm-5-2zm-28-4zm-14 9zm-3-2zm-28-8zm-65 2zm28 20zm23-2zm13 2zm21-5zm0-3zm2-3zm6 1zm3 4zm1-4zm8 5zm1 5zm3-2zm5-6zm1 4zm5-3zm4 4zm0 4zm2-3zm1 3zm0-3zm2-8zm0 11zm0-8zm1 7zm1-2zm13-7zm0-2zm1 11zm0-6zm0 4zm1-5zm0-3zm2 6zm1 2zm4-2zm5-5zm12 9zm2-1zm2-7zm3 8zm11-8zm153 6zm11 3zm10-4zm4-3zm0-3zm4 3zm3 6zm10-4zm4-4zm0 7zm1-2zm1-7zm0 8zm1 2zm0-10zm2 3zm0 7zm1-1zm0-3zm2-1zm1 5zm1 0zm2-4zm0 1zm1-1zm1 3zm1-6zm1 7zm1-1zm0-2zm1-6zm0 6zm1-3zm0 4zm0 3zm1-11zm0 3zm1 7zm0-1zm0-5zm0 2zm1 3zm2-1zm1-3zm0-2zm0 7zm0-9zm1 7zm0-8zm1 7zm0 3zm0-1zm1-2zm0-2zm0-5zm2 5zm1-1zm0-4zm0 4zm1 3zm1-3zm2 7zm0-4zm1-1zm0-4zm0 8zm1-3zm0-4zm0 3zm1-2zm0 3zm0-1zm1-1zm1 4zm0-1zm0-7zm0 0zm1 7zm0-4zm0 2zm0 5zm1-2zm0-7zm1 2zm0-5zm0 5zm1-3zm0 9zm0-9zm0 5zm0 3zm1 1zm0 0zm0-10zm2 3zm1 7zm0-11zm0 8zm2 1zm0-7zm0 7zm0 3zm2-3zm0-7zm0 1zm0 1zm1 7zm0-1zm0 1zm0-3zm2 0zm0-8zm1 9zm0-1zm1-5zm0 2zm1 4zm1-3zm0 1zm0 5zm1-5zm0 3zm0-9zm1 7zm1-1zm1-5zm0 2zm1 4zm1 3zm0-11zm0 8zm1-4zm3 1zm1 2zm0 5zm2-1zm7 5zm-1 8zm-1-1zm-1 0zm-1 0zm0-4zm0-5zm0 4zm-1 4zm-1 0zm-1-4zm0 2zm-2-1zm0 2zm-1-2zm0 5zm0-3zm-1-2zm0-2zm-1-4zm-1 1zm0 4zm0 1zm-1-3zm0 0zm0 6zm0-7zm0 3zm0 5zm0-7zm-1 7zm0-8zm0 0zm-1 4zm0-2zm0-2zm0 7zm-1-4zm-1 6zm0-11zm-1 5zm0 5zm0-9zm0 6zm0-3zm0 5zm0-9zm-1 4zm0 3zm0 4zm-1-4zm0 2zm0-8zm0-1zm-1 11zm-1-10zm-1 10zm0 0zm0-10zm-1 0zm0 0zm0 9zm0 0zm-1-10zm0 7zm0-3zm0-4zm-1 5zm0 2zm0-4zm0 8zm-1-4zm0-6zm0 5zm0-5zm-1 1zm0 4zm0 5zm0-9zm0 0zm-1 4zm0 4zm0-7zm0 2zm0 0zm-1 3zm0 1zm0-5zm0 4zm-1-2zm0-2zm0 0zm0-1zm0 7zm-1-4zm0-3zm0 8zm0-7zm-1 6zm0-8zm0 9zm0-5zm0-4zm-1 3zm0 4zm0-2zm0 0zm0-2zm-1 4zm0 0zm0-2zm0-7zm0 7zm0-7zm0 6zm-1-4zm0-1zm0 5zm0 0zm0 2zm-1-4zm0-2zm0 6zm0 0zm0-5zm0 2zm0 2zm0 2zm0-5zm0-2zm0 2zm-1-2zm0-2zm0 7zm0 0zm-1-8zm0 3zm0 8zm0 1zm0-4zm-1 1zm0-4zm0-1zm0 6zm0-9zm0 4zm0 7zm-1-3zm0-2zm0 3zm0 1zm0 0zm0-10zm0 11zm0-6zm0-5zm-1 8zm0-8zm0 11zm0-7zm0 0zm0 2zm0 1zm-1 4zm0-4zm0-2zm0 6zm-1-8zm0 0zm0 0zm0 1zm-1 5zm0-8zm0 10zm0-4zm0-3zm0 6zm0-2zm0-3zm0 6zm0-8zm-1 8zm0-11zm0 5zm0 1zm0 1zm-1-5zm0 6zm-1-3zm0-4zm0 0zm0 3zm-1 3zm0 4zm0-6zm0-5zm-1 8zm-1 0zm0-7zm0 0zm0 10zm0-11zm-1 2zm0 0zm0 7zm0-9zm0 5zm0-4zm-1 9zm0 0zm0-1zm-1-3zm0 0zm0 2zm0 2zm0-6zm0 3zm0-1zm-1 3zm0-4zm0 0zm-1 0zm0-5zm0 10zm-1 0zm0-8zm0 6zm-1 1zm0 1zm-1-9zm0 3zm0-4zm-1 1zm0 3zm0 0zm0 6zm0-6zm-1 4zm-1-3zm0 1zm-1-3zm0-1zm0 7zm-3-3zm0 0zm-2-2zm0 2zm-1 3zm0-3zm-1-3zm-2 6zm0 2zm0-11zm-1 3zm0 3zm-2-4zm0 1zm0-3zm0 5zm-2 2zm0 3zm-1-1zm0 1zm0-7zm0-1zm-2 0zm-1 8zm0-5zm0 5zm-3-1zm-1-8zm0 4zm-1 6zm-2-3zm-1 1zm-2-7zm-2 5zm-3-5zm-1 8zm-2-4zm-2-7zm-2 3zm-1 2zm-3-5zm-3 6zm-2 2zm-3-7zm-9 0zm-27 10zm-2-11zm-18 7zm-102-1zm-15-3zm-11 3zm-6 4zm-1 1zm-10-1zm-1-9zm-2 6zm-1 2zm-7-2zm0-5zm0 1zm-1 9zm0-10zm-1 6zm-3-4zm0-3zm-4 4zm0-5zm-2 9zm0-1zm-1 0zm-2 0zm0 4zm-3-11zm-1 3zm0 7zm-1-8zm-2 0zm-2 7zm-4-8zm-2 2zm-2-2zm0 0zm-2 0zm-3-2zm0 11zm-3 0zm-2-11zm0 11zm-1-6zm-2 1zm0-3zm-1 4zm0 5zm-1-3zm-10-4zm-2 6zm-3-2zm-2 1zm-7 0zm-47-8zm-2 10zm-6 2zm22-1zm2 9zm4-2zm2 0zm7-4zm2 4zm2-5zm8 8zm1-2zm1 1zm8 2zm1-2zm2-8zm2-1zm2 8zm0-4zm3 2zm1 1zm3-7zm1 4zm2 0zm2 5zm1-9zm1 5zm0-3zm4 0zm2 5zm2-4zm1-3zm1 8zm1-8zm1 4zm0 0zm0 3zm0 1zm1-5zm1 3zm0-6zm0 0zm2 3zm0 4zm0-1zm1 1zm2-5zm2 2zm0 0zm1-3zm1 0zm1 6zm1 0zm1-1zm1 0zm1 5zm1-2zm0-2zm2 1zm3-3zm1 5zm0-5zm0 3zm0-2zm1 1zm0 1zm2-2zm1 1zm1-4zm0 7zm1-4zm2-3zm0 5zm1-6zm1 0zm1 6zm0-4zm0 3zm0 3zm1-2zm1-7zm2 5zm1-5zm4 0zm5-1zm0 5zm2 5zm6 1zm2-3zm3-1zm2-2zm2-4zm0 7zm7 0zm1-2zm4-4zm18 0zm98 2zm14 7zm22-9zm4-3zm6 7zm12 5zm2-9zm1-3zm3 7zm3 1zm9-6zm4-1zm4 7zm0-3zm2-3zm0 6zm1-4zm0 4zm1-1zm1 1zm1 3zm0-8zm0 1zm0 7zm0-3zm3-2zm0-2zm0 3zm0-5zm1 4zm0 4zm0-9zm3-1zm0 7zm0-5zm1 2zm1-2zm0 3zm1 2zm0-6zm0 7zm0 1zm1-5zm1 3zm0 4zm0 0zm0-8zm1 4zm0 5zm0-11zm1 6zm0-7zm1 1zm0 10zm1 1zm0-4zm0 0zm1-6zm0 6zm0-8zm0 2zm0 0zm0 5zm1 0zm0 4zm0-6zm0 4zm0-2zm1 3zm1-8zm0-1zm0 2zm0 4zm0-4zm0 3zm1 2zm0-6zm0 2zm1-2zm0 6zm1 0zm1 0zm0 3zm0-11zm0 1zm0 2zm0 4zm0-5zm0 8zm0-8zm0 1zm1 7zm0 1zm0-3zm0-7zm0 0zm0 9zm0 1zm1-7zm0 6zm0-7zm0 5zm0-6zm1 6zm0-5zm0 2zm0 1zm0 0zm0-2zm0-2zm0 1zm1 3zm0 2zm0-2zm0 5zm0-6zm0 3zm0-3zm0 3zm1-3zm0 6zm0-3zm0-4zm0 2zm0 4zm0-9zm0 4zm1-4zm0 10zm0-1zm0 1zm0 1zm0-11zm0 8zm1 2zm0-2zm0-3zm0-4zm0 2zm0-1zm0 4zm0-6zm0 1zm1 1zm0 0zm0 3zm0-4zm0 7zm0-1zm0-8zm0 9zm0-8zm0 1zm0 2zm0 2zm0-2zm1-4zm0 1zm0 1zm0 7zm0-5zm0-2zm0 3zm0 6zm0-4zm0-1zm1 5zm0-5zm0-3zm0 4zm0-4zm1 7zm0-4zm0-3zm0 0zm0 3zm0 4zm0-7zm0 3zm0-2zm0-3zm1 6zm0 2zm0-4zm0-4zm0 4zm0-1zm0 2zm0 1zm1-1zm0-5zm0 5zm0 5zm0-4zm0 5zm0-2zm0-1zm0-1zm1 0zm0-7zm0 4zm1 6zm0-10zm0 0zm0 5zm0-3zm0-1zm0 2zm1 0zm0 7zm0-9zm0 6zm0-6zm0 3zm0-4zm0 6zm1 3zm0-9zm0 7zm0-3zm0 4zm0 1zm0-5zm0 4zm1 3zm0-3zm1 2zm0-2zm0-1zm1-8zm0 2zm0 10zm0-2zm0 0zm0 2zm0-2zm1 1zm0-7zm0 0zm0-1zm0 5zm0 2zm0 1zm1-8zm0 5zm0 2zm0-8zm0 8zm1-5zm0 0zm0 3zm0 0zm0 4zm0-2zm0-8zm0 2zm0 6zm1-6zm0 7zm0-6zm1 1zm0 0zm0-6zm0 4zm0 8zm0-6zm1-1zm0 7zm0-11zm0 0zm0 10zm0-4zm0 3zm1-3zm0-4zm0 7zm0-7zm0-1zm0 7zm1 1zm0 0zm0-1zm0-6zm0 0zm1 2zm0 1zm0-6zm0 9zm0-8zm0 7zm0-4zm0 0zm1 1zm0 2zm0-1zm1 3zm0 3zm0-5zm0-6zm0 10zm0-5zm0-5zm1 10zm0-6zm1 3zm0-3zm0 0zm0 3zm0 2zm0-6zm0 1zm1-4zm0 10zm0-9zm1 9zm0 0zm1 1zm0-7zm0 4zm0 2zm1-7zm0 2zm0-1zm0 3zm0-6zm0 2zm1 3zm0 2zm0 0zm0 0zm1 0zm0-7zm0 10zm0-4zm0 4zm0-9zm1 7zm0-9zm1 5zm0 2zm1-7zm0 8zm0-6zm0 2zm1 3zm0-2zm1 4zm0 0zm0-7zm0 2zm1-1zm0 5zm1-7zm0-1zm0 10zm0-11zm1 12zm1-4zm0-6zm0 9zm1-5zm1 6zm1-5zm0-2zm1-2zm1 4zm0 0zm1 4zm2 12zm-2-8zm-1 8zm-1-9zm-1 7zm-2-6zm0 8zm0-3zm-1 1zm-1 1zm-1-3zm0 2zm0-8zm-2 2zm0-2zm-1 4zm-1-2zm-1 4zm0-2zm-2 1zm0-3zm-1 6zm0-3zm-1-1zm0-4zm-1 2zm0 0zm-1 3zm0-1zm0-2zm-1 6zm0-9zm0 6zm0-1zm0 6zm0-9zm-1 6zm0-6zm0 6zm0-6zm-1 1zm0 5zm-1 1zm0-2zm0-5zm0 4zm-1-6zm0 4zm0-3zm-1 2zm0 2zm0 2zm0 4zm-1 0zm0-7zm-1-3zm0 9zm0-8zm0 6zm0-2zm-1 5zm0-7zm0-4zm-1 5zm0 4zm0-7zm0 3zm0-3zm0 10zm0-2zm-1 1zm0-6zm0 5zm0-2zm-1-3zm0 4zm0-8zm0 1zm-1 3zm0-3zm0 3zm0 6zm0-2zm0-3zm0 0zm0-5zm0 6zm-1-2zm0-4zm0 4zm0 6zm-1-7zm0 5zm-1-7zm0 0zm0 7zm-1-1zm0-4zm0 0zm0 1zm0 6zm0-9zm0 8zm0-7zm0 4zm-1 1zm0-5zm0 9zm0-10zm0 7zm0 0zm0 2zm0-3zm0 2zm-1 0zm0-7zm0 0zm0 7zm0-7zm0 1zm0-3zm0 2zm-1 3zm0 3zm0-8zm0 7zm0-5zm0-3zm0 2zm0 7zm0-4zm0 7zm-1-2zm0 1zm0-10zm0 9zm0 1zm0-9zm0 4zm0-3zm0-2zm0 4zm-1-1zm0-3zm0 3zm0 1zm0-1zm0 0zm0 4zm0 0zm0 4zm0-9zm-1 5zm0-2zm0-1zm0 4zm0-7zm-1 2zm0-3zm0 5zm0-3zm0-2zm-1 4zm0-4zm0 7zm0 1zm0 2zm0-4zm0-3zm0-3zm-1 5zm-1-5zm0 2zm-1 7zm0-8zm0 5zm0 3zm-1-5zm0 0zm0 1zm0 2zm0-4zm0 1zm0-4zm-1-1zm0 2zm0-1zm0 9zm0-10zm0 10zm-1-9zm0 1zm0 2zm-1-3zm0 3zm0-2zm0 6zm0-1zm-1-2zm0 4zm0-1zm-1 1zm0-6zm0 1zm0 6zm0-9zm0 7zm-1-2zm0 1zm0 4zm0-8zm0 6zm0 2zm-1-2zm0 0zm0 2zm0-11zm-1 8zm0-4zm0-1zm0 0zm-1 5zm0-7zm-1 8zm0-6zm0 1zm0 7zm0-5zm0 3zm-1-4zm0-5zm0 7zm-1 1zm0-4zm0 4zm0-1zm-1-1zm0-5zm-1 6zm0-7zm-1 12zm0-12zm-1 7zm0-4zm0 0zm-1 0zm0 7zm0-6zm-1 1zm0 0zm0-4zm-1 9zm0-4zm0 0zm0-3zm-1 8zm0 0zm-2-2zm0-7zm0 3zm0-4zm-1 3zm0 1zm-1-2zm-1 4zm-1 4zm0-4zm-2-4zm-1 0zm0-1zm0 9zm0 1zm-1-9zm0-1zm-2 2zm0 3zm-1 0zm-3-7zm-1 10zm-1-3zm-1-1zm-7-3zm-2 7zm-4-7zm0 2zm-21-1zm-19 3zm-115-5zm-1 7zm-23-2zm-3-6zm-14 7zm-2 3zm0-2zm-1-2zm-3 3zm0-9zm-2 4zm-5-3zm-1 5zm0-6zm-1 9zm-1-3zm-4 0zm0-5zm-1 5zm-6 0zm0 4zm-2-9zm-1 5zm-1 3zm-1-6zm-1 8zm-1-9zm-2-3zm0 10zm0-5zm-1-3zm-1 10zm-2-6zm0-3zm-2-3zm-4 10zm0-1zm-1 1zm0 1zm0-3zm-1 2zm0 0zm-1-7zm-1 3zm0 0zm-5 6zm0-1zm-1-2zm0 2zm0-8zm0-1zm-1 7zm0-3zm-1 3zm0-1zm-1-4zm-1-3zm-4 9zm-1-6zm0-3zm-2-1zm-3 7zm-1-3zm0 1zm0 6zm-1-10zm-2 1zm-2 5zm-4 4zm-1-9zm0 10zm-2-7zm0-2zm-4 7zm-1 2zm-1-7zm-2 5zm-3-6zm0 3zm-1-6zm-9 5zm-1 5zm-1-5zm-4 0zm-1 5zm-10-8zm-1 7zm-7 1zm-2 1zm-1-3zm-13-7zm-6 6zm-28 16zm15-3zm11-2zm22-6zm9 2zm2 4zm15-3zm1 4zm1-4zm1-1zm0 2zm8 1zm0-4zm5 5zm4-7zm0 5zm1 4zm2 2zm2-3zm0-8zm0 9zm1 0zm0-7zm1 5zm1-3zm0 2zm1 5zm3-8zm1 0zm1 4zm1-7zm2 8zm1 0zm4-2zm5 3zm0 0zm3-1zm0-5zm0 6zm0-2zm1 1zm1 0zm1-2zm1-2zm0 7zm1-3zm0-7zm2 10zm0-7zm1-1zm0 6zm2 3zm0 0zm2-6zm3-5zm1 0zm1 5zm3-2zm1-2zm1-1zm3 6zm5-1zm4-6zm1 3zm1 0zm2 1zm1 2zm1-4zm1 5zm1-2zm0 1zm5 5zm4-11zm1 9zm2 0zm0-5zm0 7zm3-9zm4 4zm1-4zm2 1zm6 6zm0-7zm6 7zm113-5zm16-2zm3 2zm14 6zm21-1zm15-6zm1 8zm4-11zm1 6zm0 4zm1-5zm0-2zm2 6zm1-6zm1 6zm3 0zm1 2zm0-8zm0 3zm2-3zm2 7zm2-7zm0 6zm0-4zm0 6zm0-9zm1 5zm1-6zm0 7zm2-5zm0 3zm1 1zm0 0zm1-6zm0 5zm2-3zm2 5zm0 1zm2 1zm0 0zm0-4zm1-5zm0 0zm1 4zm0 2zm0-2zm0-5zm2 2zm0 8zm0-8zm1 4zm0-1zm0-2zm1 6zm0-7zm0 0zm0 5zm1-5zm0 1zm0 1zm2 0zm0 4zm0 1zm1-4zm0-4zm0 4zm0 0zm1-3zm0 9zm0-9zm0 6zm1 4zm1-5zm0-4zm0 7zm1 1zm0-9zm0 4zm1-2zm1-1zm0 2zm0 2zm0 2zm0 0zm2 1zm0-2zm0 4zm0-10zm1 7zm0-2zm0-5zm0 3zm1 3zm1-4zm0-2zm0 0zm0 4zm0-6zm0 1zm1 5zm0 0zm1 0zm0 0zm0 4zm1-8zm0 8zm1-5zm0-1zm0-1zm1-2zm0 0zm0 2zm0 3zm1-4zm0 4zm0 6zm0-1zm1-6zm1-3zm0 1zm0-1zm2-2zm0 3zm0 3zm0-4zm1-1zm1-1zm1 4zm0 5zm1-7zm0 8zm1 0zm1-1zm1-2zm2-6zm0 5zm0 2zm4-4zm1 5zm1-6zm1 4zm1-2zm0-1zm0 1zm1 2zm0 0zm3-4zm0-2zm1 7zm2 1zm0-6zm3 8zm3-6zm-2 15zm-6-2zm-1 0zm-1-6zm0 5zm-4 4zm-7-6zm-1 4zm0-5zm-1-1zm-2 5zm0-1zm-1 6zm-2-2zm-1-6zm0-2zm0-1zm-1 2zm-4 5zm-1-4zm0 5zm0 1zm-1 2zm-2-2zm-2-3zm0 1zm0-6zm-1 0zm-1 9zm0-1zm-1-2zm0 5zm-1-4zm0 1zm-1 3zm-1-11zm-1 11zm-1-6zm0 3zm0-2zm-1 4zm-1-7zm0 8zm0-10zm-1 2zm0 7zm-1-10zm-2 5zm0 2zm-2-6zm-1 1zm0 0zm-1 1zm0 6zm-1-6zm0 0zm-1-2zm0 10zm0-2zm-1-2zm0-5zm0 6zm0 2zm-2-8zm0 0zm-1 7zm-1-2zm0-3zm-1 4zm0-3zm-3-1zm-1-4zm0 8zm0-2zm0 0zm-2 0zm-4 2zm0-6zm-3 8zm-1-1zm0 2zm-4-5zm-2-2zm-1 0zm-9 4zm-1-5zm0 5zm-3-4zm-2 1zm-1 4zm-10-1zm-2-4zm-1 2zm-26 4zm-23-8zm-101 7zm-13-6zm0-3zm-3 4zm-4 3zm-1 0zm-4-5zm-9-2zm0 6zm-4-1zm-3 5zm0-6zm-2-1zm0 5zm-1 0zm0-5zm-3 3zm-1 3zm-2-2zm-3-6zm-1 1zm-1 9zm-2-3zm-1-3zm-3-2zm0-4zm0 10zm-1-7zm-2 5zm-1 0zm-4-1zm-1 1zm0-5zm-3-2zm-1 5zm0-4zm-5-1zm-1 0zm0 0zm-4 1zm-5 3zm0 5zm-3-2zm-2-7zm0 2zm-2 8zm-6-10zm-1 6zm0 2zm-3 1zm-1-5zm-2-1zm0-1zm-3-2zm-2 7zm-5 1zm0-4zm-1-1zm-1 6zm0-7zm-3 0zm-2-2zm-1-1zm0 10zm-8 1zm-8-1zm-6-2zm-14-3zm-6 3zm-36-8zm-16 0zm22 12zm70 4zm4-1zm5 8zm2-10zm1 1zm1-2zm0 2zm1 4zm1-5zm7 4zm0 6zm1-6zm7-3zm2-1zm0 8zm1-8zm2 7zm1-1zm1 0zm2 2zm0-6zm3 0zm1 1zm1 0zm1 5zm1-3zm0-1zm2-2zm2 0zm1 1zm0 4zm3 2zm0-4zm1 0zm4 1zm1 4zm0-9zm0-1zm6 6zm0-5zm2 8zm0-1zm2-6zm2 4zm0-5zm8 4zm4 0zm1-4zm13 4zm5-5zm1 1zm2-1zm17 8zm103-8zm2 8zm28 0zm6-4zm12-3zm18 0zm5 5zm2-5zm3 8zm3-3zm0 5zm3-2zm1-9zm1 3zm1 4zm2-4zm0 2zm3-1zm0 6zm4-2zm0-6zm0 3zm1-5zm8 9zm1-6zm1 8zm2 0zm2-5zm0 3zm1-1zm1-8zm1-1zm0 5zm1 1zm0-5zm0 4zm1 2zm1-4zm2 7zm0 1zm3-8zm1 6zm2-7zm1 9zm1-8zm1 7zm1-8zm1 7zm5 3zm0-10zm2 9zm1-10zm2 6zm0-1zm2 0zm2 4zm4-10zm3 6zm6-1zm8-1zm-4 9zm-17 0zm-4 8zm-3 1zm-9 0zm-3-4zm-1 2zm-4-6zm-1-1zm0 1zm0 8zm0-3zm-3 5zm-2-12zm0 8zm-2-6zm0-1zm0 5zm-1-6zm0 2zm0 5zm-2-3zm0 1zm-1-4zm0-1zm-1 1zm-1 1zm-1 0zm-1 7zm0 3zm0-4zm-1 2zm0-2zm-8 3zm-2-4zm-2 1zm-1-8zm-2 12zm-1-8zm-3-3zm-2 5zm0-4zm-13 10zm-2-9zm-8 1zm-1 1zm-9 5zm-3-7zm-16 5zm-14-7zm-17 4zm-126-2zm-3 5zm0 2zm-1-3zm-6-1zm-8-6zm-8 2zm-1 4zm-8 4zm-2-8zm-2 3zm-1 1zm-2-1zm-1 5zm0-4zm-1-2zm-1 1zm0 2zm-5 4zm0-10zm-1 5zm-1-3zm-4 2zm0 1zm-5-3zm-2-3zm-7 10zm-2 1zm-1-8zm-3-3zm-2 9zm-9-9zm-2 8zm0-5zm-5 3zm-7 1zm-23 1zm-20 10zm34 0zm8-2zm23 2zm1-1zm6-2zm5 8zm8-4zm1-4zm2 6zm1-6zm1 4zm14 1zm5 3zm2-5zm0 5zm12-7zm17 2zm106 4zm74 2zm3-4zm4 0zm4-4zm6 7zm6-9zm1 9zm3-8zm0 6zm0 0zm3 3zm4-2zm4-2zm1-2zm1 5zm1-3zm3 4zm2-8zm0 3zm1-6zm0 6zm2 4zm0-10zm2 3zm1 3zm1-1zm2 0zm2 4zm1-4zm2-1zm3-3zm2 4zm1-2zm3 1zm0 1zm0-3zm7-1zm21 0zm-14 17zm-18-2zm0-2zm-4 7zm-1-4zm-2-1zm0-1zm-2 5zm0-7zm-2 2zm-2 5zm-4-1zm0-6zm-2 6zm-2-6zm-4 4zm-1 0zm-5-5zm-1 9zm0-6zm-2-3zm-1 6zm-2-1zm-2 2zm-1-2zm-1 4zm0-7zm-1 0zm-5-1zm-3 8zm-1-1zm-1 1zm-1 1zm-9-6zm-12-3zm-10 5zm-51-3zm-36 3zm-64 4zm-3-2zm-17-7zm-3 7zm-2-3zm-3-1zm-13-3zm-2 0zm-5 10zm-8-1zm-1-11zm-3 9zm-4-4zm-1 2zm-2 2zm-1 1zm-10-9zm-13 7zm-10 14zm58-5zm45 5zm72-9zm63 8zm7-8zm12 3zm4 2zm3 5zm3-7zm5 7zm5-8zm2 2zm3-3zm2 9zm0 0zm1-4zm6-3zm1 4zm0 3zm2-4zm0-4zm2 8zm2-5zm0 3zm3 2zm2-1zm1-6zm0-1zm0 3zm2-1zm2 2zm1-7zm0 8zm0 0zm1-2zm1 2zm0-1zm2 2zm2-8zm2 0zm1 8zm1 0zm0-1zm5-3zm3 3zm0-2zm2 3zm1-1zm0 2zm4-2zm8-4zm6-1zm8 4zm1 2zm0 11zm-11-6zm-2 0zm0 0zm-9 4zm-5 0zm-1-5zm-2 1zm-2 3zm0-3zm-2 6zm0 2zm-1-4zm-4 0zm-1 3zm-1-5zm-1 6zm-1-1zm0-7zm-1 5zm0-4zm0 7zm-1-9zm-1 1zm-1 8zm-5-7zm0-2zm0 10zm-1-7zm0 7zm-3-6zm-1 2zm-3-2zm-1-4zm-1-1zm0 1zm-2 1zm-2 2zm0 6zm0-5zm-1-5zm0 9zm-1-3zm-2 0zm-1-5zm0 1zm-1-1zm-1 0zm-14 6zm0-2zm0 2zm-22 4zm-6-1zm-3-9zm-2 1zm-11 4zm-8 1zm-67-5zm-62 0zm-41 2zm-25 12zm11 6zm3 0zm0-7zm1 3zm5-1zm11 2zm4-4zm6 4zm39 4zm131-6zm13 2zm8 0zm8 5zm6-4zm0 4zm2-1zm2-8zm0 5zm2 3zm0-1zm3-10zm4 1zm1 6zm1 5zm2-11zm1 1zm1 1zm3 4zm3 3zm1 1zm0-10zm1 0zm0 0zm0 10zm1-7zm0 7zm4-10zm1 0zm7 3zm0-3zm1 8zm0-4zm5-1zm0 4zm2 0zm1 1zm3-4zm0-4zm5 3zm4-2zm3 2zm28 12zm-33 2zm-11 5zm-1 0zm-1-8zm-3 2zm-2 2zm-1 5zm0-1zm-1-3zm-1 1zm-1 3zm-1-1zm-2-11zm-2 8zm0 2zm-3-5zm-3 2zm-1 4zm-5 0zm-1-8zm0-2zm-2 10zm0-6zm-8-1zm-2 2zm-1 3zm-2-2zm-1 1zm-1-4zm0 0zm-1 2zm-1-5zm-4 3zm-3 6zm-1-9zm-1 0zm-2 4zm-1 1zm0 1zm-3-4zm0-2zm-20 5zm0 1zm-2-4zm-3-1zm-3 1zm-3-2zm-39 7zm-22 4zm-7-7zm-99 5zm-4-4zm-7 5zm-1-3zm-4 4zm-3 0zm0-6zm-1 4zm-3 0zm-5-5zm-3 5zm-1-2zm-8 4zm-1-2zm-6 1zm-9-10zm5 16zm9 7zm1-10zm4 6zm10-5zm10 1zm1 2zm3-2zm8 5zm10-6zm4 8zm1-11zm4 9zm7-1zm116-6zm5 8zm25-10zm1 2zm3 10zm3-7zm10 4zm2-8zm1-1zm2 6zm3 0zm2 3zm0-1zm1-6zm1 1zm1 0zm0 2zm1-4zm2 10zm3-1zm4-2zm1-7zm0 9zm1-4zm0 1zm0-2zm2-1zm0-3zm1 0zm4 9zm0 1zm1-3zm0-7zm1 8zm0-4zm0 3zm1 3zm1-9zm0-1zm1 5zm0-5zm5 3zm0 4zm1 1zm2-6zm2 1zm2 3zm2-6zm2 7zm1-7zm0 1zm0 2zm1 7zm3-2zm3 0zm1-9zm0 11zm1-4zm0-1zm2 1zm2-6zm1 3zm1 3zm3-5zm1-1zm9 5zm1 3zm4-7zm4 0zm3 1zm4 5zm6-2zm-17 11zm-11 4zm-7-1zm-4 3zm-6-7zm-1 7zm-3-8zm-5 6zm-3 2zm0-4zm0 0zm-6 3zm0-3zm-1-3zm0-2zm0 7zm-2-7zm-1 10zm-3-9zm0 6zm0-7zm-2 8zm-3-4zm-1 0zm-1 4zm0-6zm0 5zm-3-1zm0 0zm-1-1zm-1-3zm-1 4zm0-2zm-2-1zm-4 5zm-1-3zm-2 2zm-2-7zm-1-1zm-2 9zm-1-1zm-4-7zm0 6zm0-5zm-3 8zm0 0zm-4-4zm-12 3zm-13 1zm-25-2zm-16 0zm-20-1zm-60-7zm-6 1zm-4 0zm-5-1zm-6 9zm-3-7zm-1 1zm-1-1zm-21 2zm-11 6zm-5-6zm-18 6zm-1-11zm-4 7zm-39 3zm17 5zm43 3zm2-1zm4 1zm5 0zm7-1zm11 6zm6-5zm6 0zm9 3zm20-4zm67 7zm1-1zm13-1zm6-3zm7-4zm2 8zm2-4zm4 4zm1-4zm2-3zm1 6zm2 2zm1-11zm2 9zm1-7zm3 1zm1-3zm2 10zm2 1zm1-6zm0 5zm3-2zm1-9zm3 6zm2 3zm1 1zm1-4zm1 2zm1 0zm0 0zm1 4zm0-12zm0 9zm2-6zm0-2zm2 0zm2 11zm1-1zm1-2zm0-2zm0 1zm1-7zm1 10zm0-2zm2 0zm1 0zm1-1zm0-4zm0 6zm1 2zm1-11zm1 10zm0 0zm0-7zm1 7zm3-7zm0 4zm1-2zm0-5zm2 2zm0 8zm2 0zm0-10zm0 0zm2 3zm0 4zm1-1zm0 3zm1-7zm0 9zm1 0zm3-6zm1 6zm1-1zm1-9zm1 9zm1-10zm0 11zm3-10zm0 2zm3-1zm2 4zm1-1zm0 4zm1-2zm5-3zm1 0zm0 0zm0-1zm0-4zm7 9zm0-9zm1 2zm22-1zm17 5zm-18 16zm-6-3zm-14 5zm-1-2zm-1-5zm0 4zm-3-5zm-2-2zm-1 0zm-2 3zm-1-1zm-2 7zm-1-9zm-2 0zm-1 1zm-1 6zm-2-3zm-1-5zm-1 3zm0 1zm-1 1zm-1 5zm-1-1zm0-5zm-1-4zm-1 4zm-1-1zm-1 2zm-1-1zm-2 3zm-1-3zm0 4zm-1-2zm-1-1zm0 0zm-3 0zm0 4zm-2-3zm-1-7zm0 4zm-3 7zm-1-10zm-1 9zm-2-7zm-1 4zm-2 4zm-1 1zm-1-6zm0-6zm0 7zm0 1zm-1-3zm0 1zm-1 5zm0-9zm-1 9zm0-6zm-1-3zm0 4zm-1-2zm-1-3zm0 9zm0-2zm-1 0zm-1 3zm-2-7zm0-3zm-1 7zm-2-5zm-1 6zm0-4zm-1-4zm-1 9zm0-3zm-1 4zm0 0zm-1 1zm0-10zm-2 9zm-1-10zm-1 9zm-1-7zm-3 4zm-3 1zm0-1zm-2 2zm0 3zm-1-4zm0-2zm0-6zm-1 5zm-1-1zm-1 0zm-1 5zm0-3zm-2 2zm-1 0zm0-1zm-1 1zm-2-7zm-3 3zm-2 4zm-8-8zm-5 10zm-3-4zm-7-2zm-1 0zm-5 7zm-15-5zm-77-5zm-34 3zm-6-1zm0 1zm-13 3zm-23 8zm22 8zm16-6zm12 5zm8-1zm6 2zm17-2zm27 0zm2 1zm24-1zm3 1zm0-8zm2 9zm4-2zm1 0zm7 0zm2-3zm1-6zm4 12zm0-5zm1-4zm4 4zm0-3zm1 5zm0 0zm3-6zm4 0zm1 8zm4-8zm5 4zm3-6zm6 5zm0 4zm2-6zm1 7zm0-8zm1 3zm0 0zm1 6zm1-11zm0 5zm1-2zm0-2zm1 1zm0 7zm1-4zm1 2zm0 4zm1-1zm1-7zm0 4zm2 0zm1 2zm1-4zm0-2zm0 8zm1-3zm1-4zm1-4zm0 3zm1 2zm1 6zm0-9zm0 8zm1-4zm1-3zm2 3zm1 1zm1-3zm0-5zm0 11zm1-7zm0 0zm0 6zm0-9zm2 7zm0 3zm1-5zm1 2zm0-1zm0-4zm0 2zm1 7zm0-9zm0 6zm1-5zm1-3zm0 6zm0 1zm0-8zm0 3zm2 7zm0-10zm0 7zm0 3zm0 1zm1-11zm1 1zm0 9zm1-1zm1-8zm0 3zm1-2zm0 9zm1-8zm0 8zm0-6zm1 5zm0-1zm1-8zm1 11zm0-7zm1 0zm1 1zm0 1zm1 3zm1-6zm0-2zm1 0zm0 10zm1-9zm0 0zm1 8zm0-7zm0 3zm0-3zm0-4zm1 11zm0-7zm1 1zm0 3zm0-3zm1 7zm0-1zm1-8zm0 5zm0 2zm0-5zm0-5zm1 4zm0-3zm0 2zm1 7zm0-6zm1-1zm3 5zm0-3zm0 4zm0 2zm1-5zm1 4zm0-7zm1 3zm1 2zm2-6zm1 0zm0 7zm1-2zm1-7zm0 3zm0 6zm1-8zm0 2zm2 1zm0 4zm1-2zm0 4zm1-10zm0 1zm0 3zm1 1zm1 5zm0 1zm2-10zm0 0zm0 7zm0 0zm1 0zm2 1zm8 3zm3-11zm6 5zm8-2zm-9 14zm-10 6zm-2-10zm-2 1zm-3-2zm0 6zm-6 3zm-4-10zm-1 4zm0 3zm-3-4zm-3-2zm0 10zm-1-6zm-1 1zm-1 4zm-1-1zm0-4zm0-4zm-1 1zm-1 2zm0 1zm0-3zm0 5zm-1-5zm-2 2zm0-1zm0 8zm-1-10zm0 4zm-1 5zm0-4zm0-1zm0-4zm-1 6zm0 3zm-2-9zm0 8zm-1-3zm0-6zm0 6zm0 4zm-1-2zm-1-4zm0 2zm-1 2zm0-1zm-1 1zm0 1zm-1-1zm0-5zm-1 0zm-1 2zm0-2zm0 1zm-1-3zm-1 3zm0 3zm-1 0zm-1 3zm-1-5zm-1-5zm0 0zm0 11zm-3 0zm0-5zm0-1zm-1 4zm0-9zm-1 7zm-1 1zm0-2zm0-3zm0 8zm-1-5zm0 3zm-1 2zm-1-10zm0 3zm-1-3zm0 10zm-1-10zm0 9zm-1-3zm-1 4zm0-10zm-1 5zm0 2zm-2-5zm-1-3zm0 3zm-1 0zm-1 6zm0-2zm-2 0zm-1-1zm-1 1zm0-1zm0-5zm0 8zm0-9zm-1 7zm-1-3zm0 3zm-1 3zm0-5zm-4-4zm-2 3zm-2 0zm0 7zm-1-10zm-1 10zm-2-9zm0 3zm-1 2zm-2-2zm-5-3zm0 2zm-1-3zm-2 6zm0-3zm-1 7zm-1 0zm0-9zm-2 0zm-2-1zm0 10zm-2-2zm0-6zm0-2zm-4 5zm-1-3zm-1 8zm-1-1zm-2-10zm-3 9zm-3-5zm-6 5zm-1-8zm0 6zm-1 2zm-2 2zm-1-2zm0-5zm-3 0zm-1-4zm-3 4zm-2 4zm-10 4zm-3-9zm-4 1zm-1 0zm-1 6zm-4 1zm-5-9zm-7 8zm-3-9zm-3 10zm-15-9zm-13 10zm-9-6zm-7-1zm-13 0zm-12-1zm-74 3zm95 14zm5-1zm7-6zm6 6zm14 0zm9-2zm3 4zm13-3zm2-2zm0 3zm1 2zm1-5zm0-2zm3 8zm2-3zm0-1zm0-4zm3 7zm4-2zm1 0zm2 4zm1-10zm0 3zm0 5zm1-1zm0-5zm0 7zm1-10zm2 4zm1 0zm3-2zm0 7zm4 1zm0-1zm1 2zm1-6zm3-1zm1 3zm0-4zm1-1zm1 1zm0 2zm0-4zm3 8zm0-3zm1 5zm2-4zm1-7zm0 0zm3 10zm1-7zm1 7zm1-6zm1 6zm3-2zm4-6zm0-2zm1 8zm1-6zm0 1zm0 4zm1-2zm0-5zm3 1zm0 7zm1-4zm1-1zm0 5zm2 3zm1-5zm1 0zm3-2zm0-2zm0 5zm0 4zm2-1zm0-3zm3-5zm1 1zm0 0zm2 0zm0 0zm1 0zm0 6zm0 1zm0-9zm1 0zm1 5zm1-6zm0 2zm0 5zm0-3zm2 7zm1-11zm1 4zm0 6zm3 1zm1-8zm3 7zm1-4zm2 4zm1-3zm2 3zm2 1zm0-11zm0 3zm2 7zm0-4zm1 0zm0-4zm0 5zm0-7zm1 4zm1-1zm1 6zm0-9zm3 8zm3 0zm0-7zm0 3zm1 4zm2-3zm0 0zm0-5zm1-1zm0 7zm0 3zm0-9zm2 5zm2 5zm0-5zm0-1zm1-1zm2 6zm2-3zm0-4zm2 4zm0 3zm7 1zm8-11zm2 3zm2 2zm1-2zm3 4zm1-1zm1-2zm0-1zm5 7zm8-1zm0-3zm2 2zm2-4zm5 6zm-22 3zm-3 5zm-10-3zm-1 7zm-8-8zm-1 7zm-2-6zm0 7zm-6-9zm-1 1zm0-2zm0 5zm-1 4zm0-5zm-1 5zm-1-4zm-1 3zm-3-8zm0 5zm-1-4zm-1 2zm-1-1zm-1 3zm-3-4zm-2 6zm-4 3zm-1-5zm-4 3zm-2-8zm-2 2zm0 8zm0 0zm0-7zm-1-1zm0 8zm-1-9zm-1 6zm0-5zm-2 1zm0 8zm-1-8zm-1 6zm-1-8zm0-1zm-2 11zm-3-3zm-3 2zm-1-4zm0 2zm-1-7zm-4 7zm-2-5zm-6 4zm-1-2zm-1-1zm-1 6zm-2-5zm-2 4zm-1-2zm0 5zm-1-12zm-3 7zm-1 3zm-7-8zm0 4zm-2 5zm-1 0zm-2-4zm0 0zm-1-4zm-1 6zm-1-6zm-1-1zm-4 9zm-1-7zm0 4zm-1 0zm-2-5zm0 2zm0 1zm-2 4zm-2 0zm-1-10zm-2 7zm0 0zm-1 1zm0-3zm0 0zm-2 6zm-2-2zm0-5zm-1 3zm-1 0zm-1 4zm0 0zm-1-1zm-3-1zm0-8zm-1 8zm-1-1zm-1-7zm0 2zm0-1zm-1 2zm-3 6zm0-6zm-2-3zm-5 6zm-3 3zm0-8zm-6 6zm-2 0zm-7 1zm-3-6zm-1 2zm-3 1zm-11 5zm-24-7zm44 14zm3-3zm2 1zm0 0zm0 5zm4-2zm0-7zm1 11zm3-1zm2-1zm6-3zm2-5zm1 8zm0 1zm1-2zm1 3zm1-6zm1 5zm1-3zm0-3zm1 7zm0-9zm0 0zm0 9zm1-2zm2-4zm0-4zm2 7zm0 3zm0-2zm0-2zm0-2zm0-4zm0 9zm1 1zm1-9zm1 2zm1 1zm1 6zm1-4zm1 2zm0 1zm2-6zm0-2zm0 7zm1-1zm0-5zm1 7zm1-3zm0 4zm2 0zm0-1zm2-7zm0 5zm1 1zm0-9zm2 11zm0-3zm2 1zm0 1zm3 0zm1 0zm1-1zm0-2zm1 5zm1-3zm0 2zm0-5zm0 5zm2-5zm0 0zm2 3zm0 2zm1 1zm0 0zm2-5zm4-4zm1 9zm1-10zm1 6zm2 3zm0 0zm0 0zm2-2zm3-4zm0 5zm0 0zm5-9zm3 1zm5 1zm1 8zm3-10zm3 6zm1-5zm1 5zm2-5zm2 8zm2-9zm3 5zm5-2zm5-2zm2-1zm3 0zm1-1zm3 3zm1-2zm1 11zm4-6zm5 2zm11-6zm3 3zm-34 11zm-9 4zm-2-7zm-5 0zm-3 11zm-2-2zm-1 2zm-1-12zm0 6zm-5 3zm-5-1zm0-7zm-1 5zm0 4zm0-8zm-2 1zm0-1zm-1 3zm0 6zm-1-2zm-2 1zm-1-2zm0-6zm0 7zm0-4zm-1-1zm-1 0zm0 3zm-1-3zm0-3zm-1 7zm-2-5zm-1 7zm0 0zm0-4zm-1-2zm0-4zm-1 11zm0 0zm0-3zm0 3zm-1-3zm0 3zm0-3zm-1-5zm-1-2zm0 3zm0 7zm0 1zm-1-10zm0 10zm0-7zm0-3zm0 4zm-1 5zm-1-10zm0 9zm-1-10zm0 2zm0 0zm0 1zm-2 0zm0 1zm-1 3zm0-1zm-1 2zm0-3zm0 3zm0 0zm0-3zm-1 1zm0 4zm-1-7zm-1 1zm0 7zm-1-2zm0 1zm-1-2zm0 0zm-1-7zm0 9zm0-3zm-1-4zm0 0zm0 3zm-2 1zm0 3zm-1-8zm0 6zm0-6zm0 3zm0 0zm0-1zm-1 6zm0-5zm-1 4zm0 0zm0-5zm0 3zm-1-2zm0 4zm0 1zm0-3zm0-4zm-1 7zm0 0zm0-8zm0 8zm-1-1zm0-5zm-1 1zm0 6zm-1-10zm-1 6zm0 2zm-1-2zm0 4zm0-5zm0 2zm0-3zm-1 0zm-1 1zm0 1zm0 3zm-1-3zm0-5zm0-1zm-1 1zm0 2zm0 5zm0-4zm-1 4zm-1-3zm0 0zm0 5zm-1-1zm0-3zm0-5zm-2 2zm0 7zm-1-9zm0 9zm-1-1zm0-8zm0 5zm-1-3zm0 3zm-3 1zm0 0zm-1 0zm0-7zm0 7zm0 2zm0-3zm-2 2zm0-4zm0-4zm-2 7zm0-4zm-2 2zm-1 3zm-3-6zm-1 5zm0-8zm0 1zm-1 9zm-1-6zm-3-2zm-1 6zm-1-2zm-3 1zm0 2zm-5-3zm-4-1zm-7 0zm-7 1zm23 10zm2-4zm7 6zm0 0zm1-5zm0 9zm1-1zm1-8zm0 9zm1 0zm1-6zm2-3zm1 4zm1 4zm0 0zm0-9zm1 5zm0 5zm2-8zm3 1zm0-3zm0 12zm1-5zm0-6zm0 5zm1 0zm0 0zm0 2zm1 3zm1-5zm0 4zm0-10zm1 6zm0-1zm0-4zm0 10zm2-7zm0-4zm0 2zm0 3zm0-1zm0-1zm0 3zm0 0zm1-3zm0 2zm0-1zm1 1zm0-3zm1 1zm0 3zm0-5zm0 5zm1 4zm0 2zm1-8zm0-2zm1 1zm0 6zm0-2zm0-7zm1 8zm0-5zm0 1zm0 0zm0 1zm1-4zm0 8zm0-4zm0-3zm1 3zm0 2zm0 5zm0-9zm1 3zm0-1zm0 6zm0-7zm1 5zm0-6zm0-1zm1 3zm0-2zm0-1zm1 2zm0-1zm0-2zm0 2zm1 2zm0-1zm0 0zm0 6zm0-2zm0 3zm1-5zm0-1zm0 1zm0 5zm0-10zm0 3zm0 8zm1-1zm0-4zm0 1zm1-5zm0 3zm0 5zm0-4zm1 4zm0-3zm0-1zm0 1zm0-1zm0-1zm1-1zm0-4zm0 3zm0 3zm0 1zm0-4zm0 5zm1-8zm0 1zm1 2zm0 6zm0-1zm0-1zm1-3zm0 3zm0-1zm0-2zm1 4zm0-3zm0 3zm0-5zm1 4zm0 4zm0-6zm0 1zm0-6zm1 5zm0-5zm0 8zm0-4zm0 2zm0 1zm0-1zm0-5zm1 9zm0-10zm0 10zm0-3zm0-5zm1 4zm0 4zm0-3zm0-8zm0 12zm0-3zm0 1zm1-8zm0 10zm0-5zm1-2zm0 0zm0 3zm0-1zm1-7zm0 1zm0 10zm0-9zm0 1zm0 5zm1 3zm1-2zm0-7zm0 9zm1-6zm0 5zm0-1zm1-4zm1 0zm0 5zm0-4zm0-3zm0 6zm0 3zm1-8zm0-2zm0 5zm1-2zm0 5zm0-2zm0-5zm1 4zm0-4zm0 0zm0 4zm1-1zm0 3zm1-8zm0 3zm0 0zm0 6zm0-7zm0 8zm0-6zm1 4zm0 3zm0-3zm0-2zm1 1zm0-5zm1 5zm0-7zm1 6zm0 3zm1-6zm0-3zm1 2zm0 6zm0-5zm0-3zm0 8zm0 0zm1-4zm0 3zm0-5zm0 2zm0 3zm0 2zm1-3zm0-4zm0 1zm0 8zm1-8zm0 2zm0 1zm0-4zm0 0zm0 1zm1-3zm0 0zm1 3zm0 4zm1 0zm0-3zm0-3zm0-1zm0 7zm1 2zm0 1zm0-5zm0 2zm1 0zm0-3zm0-4zm2 7zm1 3zm0 0zm1 0zm0-4zm0-6zm0 6zm0-2zm2 1zm0 2zm1-3zm0 4zm0 1zm0-10zm1 12zm0-7zm1 3zm0 1zm0 2zm1-3zm0 1zm1 0zm0-1zm0-8zm1 10zm1-2zm0 3zm0-6zm0 6zm1-1zm1 1zm2 1zm1-1zm4-1zm1 1zm2-6zm14-4zm-16 21zm-3-7zm-1 6zm0-6zm-1 1zm-1 5zm-1-4zm0-3zm-2 5zm0-4zm-1 1zm-2 0zm0 7zm0-4zm-1 0zm0 3zm-1-5zm-1 4zm-1-4zm0 5zm0-1zm-2-5zm0 1zm0 1zm-1-5zm-1-1zm-1 1zm0 8zm0 1zm0 0zm0 0zm-2 0zm0-5zm0 4zm-1-9zm0 1zm0 2zm0 3zm-1 2zm0-8zm0 0zm0 1zm0 2zm-1 7zm0-1zm-1-8zm0-1zm0 4zm0 1zm-1 4zm0-8zm0 8zm0-7zm0 9zm0-9zm0 8zm0-8zm0 1zm-1-2zm0 4zm0-4zm0 7zm0-5zm0 5zm-1 1zm0-2zm-1 2zm0-4zm0-1zm-1-2zm0-2zm0 6zm0-4zm0 0zm-1 9zm0-10zm0 10zm0-3zm-1 2zm0-8zm0 4zm-1 0zm0-4zm-1 4zm0-6zm0 2zm-1 4zm0 2zm0-2zm0-2zm0-3zm0 2zm0 4zm-1 4zm0-7zm0-2zm-2 2zm0 3zm0 3zm0-6zm0 4zm0-1zm0-3zm0-1zm-1 6zm0-1zm0-8zm0 12zm0-6zm0 2zm-1-2zm0-2zm0 4zm0-7zm0 9zm0-4zm0 3zm0-3zm0 3zm-1-3zm0 1zm0-6zm0 0zm0 7zm0-3zm0 6zm0-2zm-1 2zm0-3zm0-7zm-1 7zm0-8zm0 5zm0-5zm-1 3zm0 4zm0 0zm0-6zm0 4zm-1 6zm0-4zm0-2zm0 4zm0-9zm-1 8zm0-6zm0 4zm0-3zm0 1zm0-3zm-1 2zm0 8zm0-10zm0 10zm0-4zm-1 1zm0-7zm0 7zm-1-7zm0 5zm0-2zm-1 3zm0 1zm0-1zm0-6zm-1 4zm0-1zm0 2zm-1-2zm0 4zm0 0zm0-3zm0 2zm0-2zm0 0zm-1 4zm0-4zm0-4zm-1 4zm0 7zm-1-5zm0 1zm0-1zm-1 4zm0-10zm-1 4zm-1 3zm0-6zm-1 7zm0-5zm-1-2zm0 6zm0-5zm0 4zm0-5zm-1 1zm0 7zm0-5zm0 3zm-1-6zm0 8zm0-10zm-1 5zm0-5zm0 4zm0 6zm-1-3zm0 0zm0 4zm0-7zm-1 7zm0-6zm0-4zm0 9zm-1-8zm0 7zm0 0zm0-9zm-1 11zm0-7zm0-1zm-1-1zm0 0zm0 0zm-1 10zm0-2zm-1-3zm0-5zm-2-1zm0 0zm-1 4zm0 1zm0-5zm-1 0zm0 4zm-1-1zm0 2zm-1 2zm0-5zm0 3zm0 4zm-1-5zm-1 0zm-1-3zm0 7zm0-4zm0 4zm-2 1zm-1 0zm-1-5zm-2-1zm-1 7zm0-4zm-1-6zm-2 3zm-1 1zm-1 1zm0 4zm-5-2zm0 1zm-1-1zm-3 3zm-2-7zm-2 1zm-7-1zm-1-2zm-1 7zm7 15zm4-11zm5 0zm10 9zm5-9zm5 2zm1 3zm2-3zm3-2zm1 1zm0 2zm2 5zm0-6zm1 7zm1-1zm2-2zm0 4zm1-8zm1 1zm2 1zm0 5zm2-2zm0-7zm3 2zm1-2zm1 0zm0 2zm0 5zm2-2zm0-2zm1-3zm0 10zm1-9zm1 9zm0-6zm0 3zm0 3zm1-6zm1 1zm0 2zm1-6zm0 2zm1 3zm0-3zm1-3zm0 2zm0 5zm0-3zm1-4zm0 0zm0 0zm0 0zm1 11zm0-7zm2-5zm0 11zm1-9zm0 9zm1-10zm0 4zm1 3zm1-7zm1 10zm0 0zm0-5zm0-2zm1-3zm0 7zm1-1zm1-1zm0-6zm1 10zm1 2zm0-11zm1 6zm0-5zm1 2zm0 3zm0-4zm1 0zm0 3zm0-1zm0-3zm1-2zm0 3zm1 1zm1 2zm0 4zm0-5zm2-4zm0 7zm1-6zm0 5zm1-3zm1 7zm3-8zm0 6zm1-9zm0 4zm0 1zm2-3zm0 7zm2-5zm0-1zm0 8zm2-8zm1 4zm1-1zm0-3zm4 7zm4-6zm-2 11zm-5 2zm-8-3zm-1-2zm-2 0zm-6 0zm-2 0zm-12 0zm-3 4zm-8-3zm-16 1zm-2 6zm-10 1zm-11-3z"/><path stroke="#f9efe9" stroke-width="8.6" d="M2029 678z"/><path stroke="#fcdfce" stroke-width="8.6" d="M2061 660zm-40-4zm9 28zm-238-6zm-125 1zm383 35zm-424 28zm132 26zm-24 26zm16 13zm-16 2zm-9-3zm-28 4zm46 3zm-11 10zm-44 7zm30 9zm236 18zm-12-2zm-53 15zm14-6zm27-3zm33 1zm-67 10zm-42 47zm-20 29z"/><path stroke="#f7ba9c" stroke-width="8.6" d="M1718 675zm27 47zm20-6zm-47 74zm25 4zm0 12zm-26-7zm-4 10zm16 8zm30 4zm9 9zm-7 1zm-31-7zm-23 7zm173 6zm43 17zm45 11zm-111 13zm1 16zm1 13zm-44 20zm3 17z"/><path stroke="#ea8f71" stroke-width="8.6" d="M1743 621zm-37 66zm-18-5zm31 28zm-30 34zm78 50zm-31 7zm-19-1zm6 14zm6 0zm6 1zm18 2zm153 62zm-49-3zm-22 3zm72 23zm-79 28zm16 1zm3 2zm18 29zm-11 9z"/><path stroke="#d86651" stroke-width="8.6" d="M1713 664zm20 125zm17 5zm-1 14zm-37-3zm-17 3zm16 11zm21 3zm51-9zm-17 19zm-31-7zm-26-2zm20 21zm194 5zm-43 13zm3 0zm21 4zm8-1zm16 16zm-22-4zm-47 27zm-1 20zm-13 36zm-27 6z"/><path stroke="#c53e3d" stroke-width="8.6" d="M1763 665zm-62-3zm36 26zm-61 6zm59 26zm-43 39zm72 32zm-43 12zm-2 3zm-12 0zm14 14zm21-8zm29 9zm-16 6zm-23-1zm-11 5zm1 8zm63-2zm139 6zm30 15zm-25-3zm-23-3zm-57-5zm-119 0zm219 17zm-19 11zm-33-1zm-7 6zm-9-6zm-26 11zm30 1zm-29 14zm-21 24zm7 35z"/><path stroke="#af172b" stroke-width="8.6" d="M1738 699zm-16 84zm47 25zm-63 12zm9-3zm5 2zm22-4zm27 4zm150 9zm-12 3zm-151-5zm-13 2zm-35 0zm8 8zm26 1zm7 8zm87 7zm75 7zm-14 37zm-91 23zm-4 20z"/><path stroke="#7f0823" stroke-width="8.6" d="M1682 679zm-66 14zm155 43zm-4 18zm-48 41zm46 8zm-34-4zm-10 1zm-3 12zm33 19zm-14-6zm-1 5zm-7-1zm-4-5zm-12-1zm9 15zm44 11zm-26-3z"/><path stroke="#adadad" stroke-width="5.9" d="M2048 638zm-4-1zm-2 4zm-3-1zm-4 0zm-6 1zm-2-10zm-9 7zm-16 2zm-263-4zm-43 5zm-77 1zm27 1zm45 9zm8-6zm34 6zm34-1zm16-1zm18-4zm20 3zm110-3zm54 7zm3-2zm8-8zm4 9zm5-1zm15 1zm2 1zm1 0zm2-6zm3 0zm0 4zm1 1zm2-1zm1 2zm2 0zm0-3zm1 0zm1 3zm1-1zm1-1zm7 1zm6 0zm3 1zm11-8zm7 4zm6 10zm-5 7zm-3-4zm-2 1zm-2-4zm-1 2zm-1 1zm-4-8zm-3 8zm-3 1zm-1-6zm-1 2zm0 2zm0 3zm0-2zm0-2zm-4-5zm-1 10zm0 0zm0-4zm-1-6zm-1 4zm-3 3zm0-1zm0-4zm0 8zm-1-7zm-1 3zm0 0zm0-4zm-1 5zm-1-6zm-1 2zm0 5zm0-4zm-2 0zm0 0zm-1-2zm0 9zm-2-10zm0-1zm-1 3zm-1 4zm-1-4zm0-1zm-1 1zm-2 0zm-1-4zm0 2zm0 8zm-1-1zm-3-8zm-3 11zm0-6zm-1 5zm0 0zm0-11zm-1 3zm-1 8zm-4-10zm-6 4zm0 4zm0-7zm-3 9zm-3-3zm-6-1zm-5-6zm-5 0zm-1 0zm-10 9zm-45-2zm-148 0zm-9-1zm-22-5zm-1 6zm-11-3zm-8 4zm-11-1zm-1-5zm-11 4zm0 2zm-2-7zm-2 8zm-3-9zm-17 0zm-10 10zm13 3zm13 1zm18-1zm3 4zm4 3zm19-6zm2-2zm12 7zm0-6zm4 5zm14-1zm8 1zm10-6zm108-1zm90 8zm7 1zm0-6zm0 1zm9 2zm1-4zm0 7zm2-5zm0 7zm1-11zm1 6zm0-6zm3 7zm1 4zm4-10zm1 5zm1 4zm2-1zm1-7zm0 7zm0-5zm0-2zm0 4zm1 0zm0 5zm0-8zm0 2zm1 0zm0 5zm0-5zm1 4zm0-8zm1 5zm0 4zm0-4zm0-4zm0 5zm1 1zm0-1zm0-1zm0-1zm1 5zm0-2zm1-7zm0 8zm1 1zm0-6zm1 4zm0-7zm1 2zm0 8zm0-6zm0 2zm0-2zm1 4zm0-5zm1 2zm0-3zm1 0zm1-2zm0 8zm1-6zm0 2zm0-5zm0 6zm1 1zm1-4zm0-2zm0 2zm1-1zm0-1zm0-1zm1 9zm0-3zm2 2zm0 3zm0-6zm0 5zm1-7zm1 5zm0-2zm1-3zm0 9zm0-12zm1 5zm1-3zm1 6zm1 2zm0-8zm1 0zm2 4zm4 0zm0 4zm1-6zm0 0zm0-4zm0 3zm1 1zm3 3zm4-2zm0-2zm0 0zm1 7zm0-3zm0 4zm1-4zm1-5zm3 3zm1-3zm0 5zm3-1zm3 17zm-7-9zm-1-2zm-7 9zm-1-4zm0 2zm-1 2zm-3-1zm-1 3zm-1-4zm-2-1zm-1 2zm-1-3zm-2 1zm-1 2zm0-3zm0-3zm-2 4zm-2-3zm0 9zm-1-6zm-3-6zm0 1zm-1 11zm0 0zm-3-6zm0-1zm-1 0zm0-3zm-1 3zm0 1zm-3-1zm0 5zm0-6zm-1 0zm-3 5zm0-2zm-1 3zm0 0zm0-1zm-1 1zm-1-8zm0 1zm-3 0zm0 6zm0-8zm0 10zm-1-6zm-2 5zm-1-9zm-2 1zm-2 8zm0-9zm-1 5zm-1-3zm0 3zm-2 4zm-2-9zm-10 4zm-2-2zm0-2zm-4 8zm0-8zm-6 9zm-3-9zm-2 11zm-28-4zm-173 3zm-1-8zm-15 8zm-8-4zm-5 2zm-2-5zm-10-4zm-2 9zm0 0zm-2-2zm-3 3zm-2-1zm-2-6zm-2 2zm-4-5zm-4 8zm-1-1zm0-5zm-5 9zm-10-6zm-6-2zm-8 0zm-16 9zm-1-4zm-3 12zm15-6zm2 6zm6-5zm3 3zm3 5zm9-7zm0-1zm4 1zm5-2zm10 1zm2-2zm2 3zm1 4zm3 0zm2-3zm0 0zm3 3zm1 3zm3-4zm3 1zm6 3zm3-7zm3-1zm9-1zm2 5zm1-2zm1-5zm1 6zm26 6zm181-11zm4 6zm4-5zm4 7zm9 3zm1-12zm3 12zm4-7zm1 3zm1-7zm4 5zm2-3zm3 0zm2-1zm1 8zm3-7zm0-1zm5-1zm1 2zm0-3zm2 5zm1 0zm0 4zm2-6zm0 1zm1-4zm0 6zm1-6zm3 0zm3 5zm1-3zm1 1zm7 4zm7-7zm7 4zm5-4zm3 3zm2 8zm-8 9zm-27 1zm-1 1zm-2-3zm-6-2zm-4 5zm0-8zm-2 3zm-1-3zm0 2zm-8 7zm0-1zm0-5zm-3-2zm-3 2zm0 2zm-1 3zm-2-7zm-2 7zm0-6zm-4-2zm-2 5zm-5-4zm-11 5zm-65-2zm-147 3zm-9-8zm-8 4zm-3 3zm0-4zm-4-2zm-8 9zm-1-9zm-5 4zm-6 1zm-1-6zm-2 2zm-1 6zm-10-5zm-4 4zm-3 2zm-10-7zm-3 2zm-6 1zm-8 5zm-4-6zm-9 6zm-5 2zm1 0zm36 1zm10-2zm2 5zm2 0zm1 6zm7-8zm1 1zm0-1zm2-2zm2 7zm6 2zm2-9zm2 5zm12 6zm3-9zm16 4zm1-4zm3 0zm16-3zm135 6zm27 4zm30-7zm2 8zm6 1zm6-3zm20-8zm0 5zm9-1zm5-5zm3 3zm1 7zm1 1zm8-11zm2 1zm4 1zm0 17zm-17-5zm-1 5zm-4 0zm-7-3zm-4-3zm-9 1zm-11-1zm-13 0zm-232 12zm4 2zm10-2zm63 9zm143-5zm13 6zm5-5zm30 1zm5-1zm1 6zm5-12zm11 3zm-24 20zm0-6zm-7 2zm-1 0zm-21 3zm-228-5zm-10-1zm-9 3zm-1 1zm-22 1zm-29 6zm11 5zm3-1zm27-4zm10 2zm222-1zm2 7zm4-8zm1 3zm20-1zm1 5zm4 1zm22-2zm3-2zm14 6zm-18 7zm-19 0zm-13-4zm-3 5zm-1-1zm-2-3zm-1 0zm-4 4zm-107-2zm-117 1zm-25-7zm105 12zm69 6zm27-3zm3-2zm31 9zm2-6zm6-1zm0 5zm1-3zm16-5zm4 9zm10-3zm4-5zm5 9zm18 12zm-13-7zm-10-1zm-9 7zm-2-4zm0 0zm-9-5zm-10 4zm-1 4zm-9-4zm-5 0zm-6 6zm-8-9zm-188 6zm-20 0zm-9-6zm-6 6zm-1-1zm-19 2zm-1-4zm7 18zm63-7zm19 5zm22-1zm104 1zm22 0zm10 1zm1 1zm22-9zm6 6zm10-8zm1 12zm3-9zm5 8zm0-6zm7 5zm7-6zm-10 13zm-6 0zm-21-1zm-6 2zm-1 5zm-1-7zm-11 4zm-10-7zm-3 5zm-4 6zm-2-11zm-15 1zm-3 10zm-3-10zm-4 7zm-150-3zm-45-4zm11 14zm126 5zm36 3zm28-3zm2-4zm2 1zm5 5zm2-2zm3-4zm2 3zm11-8zm8 0zm0 9zm9-4zm1 5zm1-9zm1 6zm8 1zm1 3zm52-2zm-19 8zm-7-5zm-10 4zm-4-3zm-3 1zm-5 5zm-8 0zm-2-5zm-13 6zm-2 0zm-3-7zm-3 6zm-2 2zm-1-2zm-8 4zm0-9zm-1 6zm-3-2zm-1 6zm-1-8zm0-3zm-1 0zm-7 5zm-3 3zm0 1zm-2-8zm0-1zm-10 8zm0-8zm0 11zm-13-11zm-6 1zm-1 10zm-3-1zm-1-4zm-17 3zm0-7zm-6 5zm-9-7zm-30 4zm-69-4zm-27 9zm9 8zm42-1zm49 3zm14-6zm32 6zm12-3zm0 7zm8-3zm1-1zm0-4zm3 3zm13 3zm1-10zm2 4zm3 0zm2 7zm2-11zm5 4zm2 2zm1 5zm3-1zm2 1zm12-2zm4-2zm0-6zm11 1zm2-2zm8 4zm-37 11zm-3 4zm0-5zm-1-2zm-1 1zm-7 10zm-2-9zm-1 3zm-2 6zm0-10zm-1 2zm-1 5zm-1 0zm-1 1zm-4-1zm-1-6zm-4 1zm0 1zm-3 5zm-2-6zm-6 7zm-3-3zm-1 3zm-12 0zm-1-4zm-2 2zm-3-6zm-1 7zm-1 0zm-3-5zm-9 6zm-2-2zm-115 3zm-14 4zm12 4zm17-5zm44 3zm0 5zm31-10zm2 12zm7 0zm11-11zm7 2zm1 3zm3 1zm7-1zm5-5zm2 7zm2-5zm7-1zm2 2zm0-2zm7 5zm1-4zm4-3zm1 7zm5-2zm6-4zm7 10zm3-7zm2 1zm2-4zm10 2zm1 3zm13-4zm7 6zm1-2zm6 9zm-33 2zm-4 4zm-2-8zm-4 5zm-2-6zm0 2zm-3 7zm0-6zm-16 4zm-1-1zm-9-3zm-15-3zm-1 10zm-8-7zm-8 7zm0-8zm-2 4zm-4 3zm-2 3zm0-1zm0-7zm-5 6zm0-1zm-6 2zm-1-8zm-4 0zm0 4zm-2 4zm-4-6zm-5-5zm0 11zm-1-1zm-2 2zm-10-11zm-6 1zm-5-2zm-3 4zm-4 5zm-7 3zm-40 0zm32 1zm1 2zm26 8zm1-6zm4-3zm2-2zm2 8zm2-5zm1 7zm1-7zm1 6zm1-6zm2 0zm4 4zm6 1zm0 1zm0 2zm1 0zm5 0zm3-7zm0-1zm0 8zm1-3zm1 0zm5-3zm2 3zm3-3zm1-5zm1 5zm5 5zm3-4zm3 5zm10-10zm2 0zm10 4zm5-4zm17 10zm-22 9zm-16 3zm-1-5zm-3 3zm-7-2zm0 4zm-1 1zm-1-6zm-3 6zm-1-12zm-1 2zm-1 5zm-3 2zm-1-7zm-2 7zm0-7zm-1 6zm-2-7zm-3 7zm-1-3zm0-3zm-1 1zm0 0zm-3 8zm-2-4zm0 4zm-4-4zm-2-5zm-1 2zm-1 5zm0 1zm-1 1zm-5-1zm0-9zm-3 1zm-2 5zm-1 1zm0-6zm-14 5zm-8-2zm0 2zm-2 1zm-8-7zm9 16zm5 4zm5-3zm1 1zm1-2zm1 0zm1-3zm1 6zm2-7zm2 10zm3-2zm1-6zm0 2zm3-5zm0 4zm3 7zm1-8zm1 6zm1-6zm1 5zm0-7zm0 9zm3-9zm1 7zm0 0zm1 3zm0-2zm0 1zm1-2zm2-6zm0 0zm0 5zm3-5zm0 9zm1-5zm1 0zm0 4zm2-8zm1 3zm0-1zm0-3zm1-1zm0 10zm1-7zm0 7zm0-8zm0 2zm1 7zm3 1zm1-1zm0-2zm0-4zm0 3zm1 1zm1 1zm0 0zm0-4zm0 2zm1-6zm0 1zm1 6zm1-6zm0 2zm1 4zm1 2zm2 1zm1-2zm0-9zm1 7zm0 3zm1-4zm1 1zm3 4zm2-8zm0 1zm0-2zm3 7zm3-7zm4-1zm1 5zm3-6zm13 8zm2 5zm-1-1zm-6 6zm-5-7zm0 8zm-4-2zm-2-4zm-2 9zm-1-7zm0 4zm-3 3zm0-5zm0-2zm-4 1zm-1 2zm-1-1zm-1 0zm-1 1zm-1 4zm-1-5zm-1 2zm-1 0zm-2-2zm0 5zm-3-7zm-1 5zm0-7zm0-1zm-1-1zm-1 8zm0-6zm-2-1zm-1 3zm-1 3zm-2 2zm-1-1zm-1 3zm0-10zm-2 0zm-1 3zm0 0zm-2 3zm-5 2zm0 0zm0-5zm-1 1zm0 2zm-2-5zm0 5zm0-6zm0 7zm-1-4zm0 7zm-2-3zm-3-4zm-2 0zm-1 1zm0 5zm-3-5zm-1-3zm-1 9zm0-6zm-1-2zm-7 8zm-3-8zm-6 6zm-13 10zm17-5zm0-2zm12 1zm3 4zm4 2zm1-3zm3 7zm8-11zm1 5zm3 2zm2-3zm0-3zm3 6zm0 2zm3-9zm1 4zm2-2zm4-2zm1 5zm1-5zm1 5zm1-4zm0 0zm0 3zm1-2zm2 4zm3-5zm1 2zm4 1zm8-2zm3 3zm5 1zm-20 8zm-7 0zm-5 3zm-15-5zm-20 4z"/><path stroke="#f9efe9" stroke-width="8.6" d="M2026 696zm-252 43zm153 82zm-26 54zm-28 51zm-23 25z"/><path stroke="#fcdfce" stroke-width="8.6" d="M2069 663zm-62-9zm17 22zm30-3zm7-5zm4 10zm-14 9zm-284-1zm-57 20zm15 29zm13 72zm-23 7zm170 29zm59 23zm-49 8zm20 21zm-58 10z"/><path stroke="#f7ba9c" stroke-width="8.6" d="M1737 637zm18 34zm40 23zm-37 11zm-6 97zm-24 19zm22-11zm146 16zm29 13zm-12 11zm-152 0zm154 18zm43-2zm-36 11zm-27 1zm-14 9zm49-3zm-83 16zm-14 45zm-11 1zm-10 15zm5 3z"/><path stroke="#ea8f71" stroke-width="8.6" d="M1676 683zm49 18zm28 96zm-7 6zm-9 3zm-25-6zm0 16zm51-4zm153 3zm-120 9zm-65 8zm-4-4zm-14-2zm28 10zm169 7zm-2 9zm-164-3zm117 20zm51-1zm9-3zm2 3zm-29 5zm-38 21zm12-3zm80 11zm-71 0zm-27 4zm8 31zm-9 15z"/><path stroke="#d86651" stroke-width="8.6" d="M1708 622zm26 75zm13 14zm-6-5zm-48 13zm101-4zm-117 37zm67 55zm-50 6zm51 5zm-5 15zm-13-11zm-4 1zm-10 16zm62 1zm92-3zm22 17zm-204-2zm195 12zm1-5zm53 20zm-74-7zm63 29zm-38 8zm-64 23zm30 24z"/><path stroke="#c53e3d" stroke-width="8.6" d="M1718 658zm59 40zm-111 27zm68 61zm6 22zm-22-5zm-13 0zm-5 2zm3 9zm33 7zm9-6zm26-2zm-60 11zm226 30zm-54 15zm24-10zm21 2zm-13 14zm-39 10z"/><path stroke="#af172b" stroke-width="8.6" d="M1727 718zm-15 56zm-8 10zm46 30zm8-2zm6 1zm156 14zm-112 5zm-48-3zm-24-4zm-4 2zm-61 8zm25 3zm17 4zm15-6zm40 3zm148-4zm-22 34zm-83 53zm3 17zm1 3zm35 6z"/><path stroke="#7f0823" stroke-width="8.6" d="M1769 641zm-22 18zm-56 39zm32 10zm-64 11zm61 75zm4 4zm24-8zm2 2zm1 15zm-56-4zm67 15zm-6 12zm0 0zm-68-1zm9 6zm45 1zm28 3zm-42 25z"/><path stroke="#adadad" stroke-width="5.9" d="M1702 627zm33 2zm296-1zm18-1zm7 8zm-12 0zm-1 6zm-5-5zm-5 5zm-2-6zm-2 0zm-4 3zm-10-4zm-16-1zm0 6zm-1 0zm-13 2zm-54 0zm-194-7zm-20 8zm-17 9zm20 2zm17-5zm1-1zm2 3zm4-5zm57 8zm106-9zm51 3zm39 4zm1 0zm17-4zm8-4zm0 0zm4 9zm0-2zm5 4zm1-1zm2-10zm1 11zm0-10zm2 3zm3 1zm4 1zm2-2zm1 2zm1 5zm1-7zm0 7zm14-1zm1-10zm12 22zm-3-5zm-2 1zm0-4zm-4-2zm-2 6zm-1-2zm0-1zm-1-1zm-1 8zm-3-1zm-1-3zm-1 3zm0-5zm0-1zm-1 1zm0 2zm-1-1zm0 5zm-1-6zm0 3zm-2-5zm-4 3zm0 6zm0-11zm-1 7zm-1 0zm0 0zm0 3zm-8-5zm0 2zm-2 1zm-1-2zm0 5zm-2-12zm-1 1zm0 1zm-1 5zm-1-3zm0-3zm-1 2zm0 5zm-1-4zm0-2zm-1 8zm-1-5zm0 5zm0-6zm-1 3zm-1 2zm0-5zm0 5zm0-6zm-1 7zm-1-4zm-1 5zm0 0zm0-7zm0-4zm0 4zm0 3zm-1-6zm0 6zm0-1zm-2 0zm-2-1zm0-1zm-2 6zm-1 1zm-1 1zm0-1zm-6-1zm-2-3zm-1 1zm-1 0zm0-5zm-15-2zm-15 6zm-177 5zm-10-6zm-34-6zm-17 10zm-3-6zm-9 6zm-5-9zm0 3zm-16 3zm-60 4zm29 11zm5-2zm9 2zm4 0zm14-7zm9 7zm0-5zm1-2zm0 0zm8-1zm9 9zm7-6zm9 7zm5-2zm1-1zm8-6zm194 6zm19-4zm17 7zm2-1zm6-8zm0-2zm5 2zm3-1zm0 8zm2 2zm1-7zm1 5zm1 0zm1 1zm0-2zm2-6zm0 4zm2-7zm2 4zm1-2zm1 7zm0-6zm1 3zm0 0zm1 2zm0-3zm0-1zm0-2zm1 3zm2 6zm1-2zm1-1zm1-7zm1 7zm1-4zm0 4zm0 3zm0-2zm1-4zm0 1zm0 4zm1-1zm2-2zm1 2zm2-6zm0 9zm1-2zm1-2zm0-3zm0 4zm1-3zm1 3zm1 0zm1-9zm1 11zm1-7zm0 3zm1-6zm0 0zm1 2zm0 0zm0 8zm0 1zm1-8zm0-1zm1 3zm1 1zm0-4zm0 0zm1 3zm0 4zm0-10zm1 2zm0 7zm1-7zm0 9zm1-2zm1-1zm3-1zm0-2zm0 7zm1-2zm0 1zm0 0zm0-9zm1 3zm0 6zm1-3zm2 2zm3-8zm1 2zm0-1zm2-2zm1 7zm1-3zm3 7zm1-10zm3 11zm-1 3zm-5 1zm-4-3zm-4-1zm0 4zm-1-4zm-4 5zm-3 1zm-1-3zm-1 4zm-1-8zm-1 6zm0-1zm-1 1zm-1-5zm-1 2zm0 1zm0 1zm-1 2zm0-4zm-3 7zm-1-1zm0-9zm0 3zm0 7zm-1-6zm0 2zm0-5zm-2 7zm0-1zm-1 2zm0-8zm0 6zm-2 5zm-2 0zm-1-9zm-1-2zm0 6zm-1-7zm0 8zm-1-3zm-1-4zm0 8zm-1-2zm0 5zm-1-6zm-1 1zm0-7zm-1 6zm0 0zm-1 0zm-1 2zm0-8zm-1 0zm0 11zm-2-8zm0 5zm-1-4zm-1 2zm-1-4zm-1 7zm-1-5zm-2-2zm0 5zm-1-2zm-1 1zm0-1zm-2-3zm0 1zm-3 4zm-2-5zm-3 0zm-2 8zm0 0zm-2-4zm-3-4zm-18 1zm-60 0zm-134 6zm-5-9zm-18 12zm-4-6zm-1 4zm-1-8zm-3 0zm-1 9zm-3-9zm-5 9zm-1-10zm-2 6zm-2-1zm-2-1zm-5 2zm-2 5zm-5-10zm-4-1zm-3 2zm-1 1zm-4 2zm-2 0zm-2-2zm0-3zm-1 5zm-3-2zm-1 7zm-9-10zm-9 5zm-42 5zm-14-9zm-33 21zm71-2zm4-7zm6 7zm10 0zm2-8zm2 5zm2 3zm3 2zm5-8zm1-3zm6 11zm0-10zm4-1zm7 8zm1 4zm9-6zm1 2zm2 2zm1-8zm2 3zm5 0zm7 6zm10-6zm4-3zm2 4zm0-1zm23-4zm180 9zm14-2zm11-6zm10 8zm0-9zm11 9zm1-4zm12 1zm2-1zm2-1zm2 4zm1-1zm1 0zm0-3zm5 6zm0-1zm0-7zm2-3zm3 5zm2-1zm1 6zm1-10zm4 4zm2-3zm2 9zm2-7zm4 1zm0 0zm5-2zm1-2zm4 14zm-2 0zm-15 5zm-12-4zm-1-1zm-2 5zm-2-1zm-11-2zm-5-3zm-4 3zm0 4zm-3-5zm-1 0zm-4 3zm-6 0zm-2-4zm-2-1zm-3 3zm0 3zm-2 5zm-15-1zm-193-7zm-10-3zm-5 5zm-2-1zm-14 6zm-5-2zm0 0zm-2 1zm-1-1zm-4-5zm-2 4zm-1-2zm-11 0zm-4-1zm-12-3zm-45-1zm-59 22zm40-3zm39 0zm4-3zm25-3zm10 5zm2 0zm1-5zm4 8zm32-2zm139-6zm45 3zm11 7zm25-1zm13-1zm14-5zm7 5zm2 1zm2-11zm15 12zm39 4zm-38 0zm-9-3zm-7 1zm-12 4zm-6-4zm-2 5zm-24-5zm-1-2zm-5 7zm-12-5zm-207 8zm-19-1zm0-6zm-9 2zm-8-1zm-13 1zm-3 2zm-17 0zm-80-6zm61 13zm66-1zm233 8zm39-8zm17 5zm6 0zm7 5zm9 11zm-23-5zm-6 0zm-5-3zm-4 8zm-4 0zm-6-6zm-4 5zm0-5zm-1-3zm-7 2zm-16 1zm-199-3zm-21 0zm-7 2zm-17 7zm-18-6zm1 19zm34-10zm24 3zm163-2zm11 2zm16 6zm36-2zm3-5zm2-2zm19 1zm4 8zm9-4zm4 3zm7 1zm4-9zm-21 18zm-18 5zm-4 0zm-4-4zm-17-3zm-1 6zm0-6zm-4 1zm-10-3zm-18-2zm-9 8zm-104 1zm-103-4zm228 7zm3 9zm0-8zm2 3zm6 5zm4-5zm6 6zm3-6zm6-5zm11 5zm0-5zm2 2zm15 19zm-14-3zm-6 1zm-3-6zm-1 9zm0 0zm-1-4zm-15 5zm-2-11zm-27 8zm-2-6zm-3 6zm-16-4zm-7-4zm-37 2zm-116 10zm-47-4zm20 6zm4 0zm153 1zm6 2zm5 0zm10 7zm16-11zm9 4zm4 1zm3 3zm4-4zm1 5zm4-2zm3-7zm3 9zm6-7zm4 7zm26 1zm3 12zm-8 0zm-6-8zm-12-2zm-3 3zm-7-2zm-6 2zm-6-1zm0 3zm-20-1zm-10 4zm-1 2zm-6-7zm-20 2zm-123 5zm-31-5zm-26 0zm77 8zm42 8zm41-9zm12 11zm6-1zm0-4zm17 2zm10 0zm1-5zm2 6zm3-1zm4-5zm11 2zm11-5zm1 5zm27 1zm10 12zm-2 1zm-4-3zm-8 6zm-4-9zm-5 2zm-4-1zm0-2zm-7 6zm-1-6zm-2 3zm-10 6zm-1 1zm-6 1zm-2-11zm-8 5zm-5-3zm-7 0zm-4 1zm-3 6zm-9-7zm-1-2zm-10 11zm-20-1zm-1 0zm-16-10zm-94 3zm-51 8zm22 8zm9 2zm19-2zm70 1zm5-3zm2 0zm24-2zm8 4zm3 3zm5 0zm2-1zm5-2zm0-5zm1 3zm15-2zm2 4zm2 1zm8 0zm1-3zm2-6zm1 10zm1-1zm0-8zm4 10zm0-7zm3-3zm0 8zm0-9zm1 9zm0-4zm1 1zm0 0zm1 4zm2-2zm1-1zm1-2zm1 3zm1-5zm1-1zm1 1zm10 6zm2-2zm44-1zm-35 7zm-5 0zm-1 5zm-2-3zm-4 9zm0-4zm-4-3zm-13-3zm0 2zm-1-3zm-1 9zm-1-3zm-7-4zm-4 7zm0-2zm-5-5zm0 8zm0 1zm-5-1zm-1-7zm0 1zm-1-1zm-4-4zm0 3zm-4 7zm-4-4zm-1-4zm-5 5zm-4-6zm-3 9zm-1 1zm-1 0zm0-2zm0 1zm-1 0zm-2 2zm-6-6zm-5-4zm-8 8zm-9-5zm-3-1zm-5 0zm-5 3zm-3-4zm-5 6zm-2-5zm-15-1zm-2-2zm-1 5zm-44-1zm-9-3zm-45 0zm61 18zm31-7zm3 6zm2-3zm4 0zm24 6zm1-5zm3 6zm10-10zm2 1zm1 3zm3 3zm3-1zm8-4zm5 0zm0 4zm4-1zm11-3zm3 3zm1-5zm8 6zm1-3zm2 8zm1-10zm1 10zm0-12zm0 2zm4 10zm1-5zm0-1zm1-4zm1 3zm7-3zm7 0zm1 10zm0-3zm1-1zm9-6zm0-1zm5 0zm16 1zm-8 15zm-16 3zm-22-1zm-12-7zm-4 2zm-1 3zm-7 5zm-5-1zm-13-5zm-1 4zm-6-3zm-2 0zm-2-5zm-3 10zm-8 1zm-4-3zm-1-6zm-6 7zm-1-1zm-5-8zm-1 12zm-1-5zm-2 2zm-2-1zm-3 0zm0 0zm-1-3zm-2 7zm-6-9zm-11 6zm-4 1zm-9-6zm-72-2zm40 22zm28 0zm10-5zm2 2zm5 2zm1-5zm2 3zm0-2zm3 4zm2 1zm2-8zm2 5zm9-3zm4 0zm6 1zm1 4zm6-4zm1-1zm1 4zm2-4zm3-1zm0-3zm4 7zm1-6zm2 5zm2-2zm12 1zm0-2zm8 0zm5-5zm6 7zm3-4zm1 8zm5-10zm3 1zm4 5zm21-4zm-35 19zm-12-3zm-2 5zm-2-2zm-8 1zm-1-4zm-2 0zm-1 2zm-1 1zm-5-5zm-4-4zm-6 10zm-1-1zm-1 2zm-1-3zm-1-3zm-3 1zm-1 2zm0 1zm-1-5zm0 0zm-1 4zm0 1zm0-7zm-2 0zm0 5zm0 0zm-1 2zm0 1zm0 0zm-4 0zm0-1zm-6-10zm-2 7zm-5 5zm-4-10zm-7 7zm-3-6zm-13 6zm13 14zm1-3zm7 2zm1-6zm4 6zm2-1zm1 1zm1-3zm0 1zm1-7zm2 10zm1-7zm1 0zm1 6zm3-1zm1 2zm1-2zm0-2zm0-3zm1-4zm1 6zm0 1zm1-2zm0-4zm0 6zm1-1zm1-1zm0-4zm2 2zm0 8zm0-10zm1 5zm1-2zm0 2zm1-4zm2 0zm1 8zm0-3zm2 2zm0-7zm1 1zm1 0zm2 2zm0-3zm0 6zm0-2zm1-3zm1 7zm2-6zm0 1zm0 4zm1-4zm2-2zm2-3zm2 2zm0 8zm1 0zm0 0zm1-4zm2-3zm1-1zm3 8zm1-3zm1 0zm0-1zm2 3zm1-3zm2-1zm5 5zm1-9zm21 4zm-11 8zm-8 5zm0-5zm0 1zm-5 8zm-2-7zm-5-2zm-1 11zm-3-10zm-1 9zm-1-9zm-2-1zm0 5zm-3-1zm0-4zm0 6zm-7-5zm-3-2zm-1 4zm-1 2zm-1-4zm0 4zm-2-3zm0 8zm-1 0zm-1-10zm0 1zm-3 2zm0 0zm-1-3zm0 1zm-1 3zm-4 0zm-3 2zm0-4zm-2 1zm0-3zm-1 0zm-1 9zm-1-7zm0-3zm-5 8zm-1-3zm-1 4zm-2-3zm-5-3zm0 3zm-13 0zm-5 11zm18-4zm1 7zm5 1zm1-7zm4 3zm1 3zm3-2zm4-5zm4-1zm1 11zm1-2zm2-7zm7 0zm6 1zm0-3zm1 4zm1-2zm1-2zm0 7zm1-5zm2-1zm0 8zm6-1zm7-7zm12 4zm3-4zm2 7zm1 1zm-17 4zm-10 1zm-18 1z"/><path stroke="#f9efe9" stroke-width="8.6" d="M1762 665zm-112-9zm41 28zm207 158zm-29 25zm38 15zm-63 15z"/><path stroke="#fcdfce" stroke-width="8.6" d="M1655 646zm77 15zm-25 2zm325 7zm7-3zm-303 22zm-36-10zm36 23zm-80 19zm28-6zm55 64zm-46 39zm43-6zm24 12zm-46 25zm194 18zm-61 40zm-10 32zm-4 18zm19-1z"/><path stroke="#f7ba9c" stroke-width="8.6" d="M1776 666zm36 11zm-89 110zm30 13zm-9 8zm-13-9zm-38 22zm32-1zm36-4zm14-3zm-24 21zm-24-11zm-5-1zm4 18zm145 0zm54 5zm-227 18zm198-1zm14 0zm29 16zm-32 0zm19 7zm-92 77z"/><path stroke="#ea8f71" stroke-width="8.6" d="M1689 677zm4 21zm58 107zm-52 0zm17 10zm5 1zm28 0zm-91 11zm255 8zm5 14zm-14 0zm-217 4zm45 11zm190 0zm-61 28zm58-9zm-41 19zm-7 4zm49 2zm-62 17zm6 16z"/><path stroke="#d86651" stroke-width="8.6" d="M1706 636zm34 47zm-85 3zm85 16zm-9 100zm-18 11zm218 15zm-13 3zm-186 1zm-1-10zm-22 3zm226 43zm21 8zm-47-1zm-74 4zm45 10zm74 0zm-76 17zm-2-4zm-6-4zm-11 28zm-3 26z"/><path stroke="#c53e3d" stroke-width="8.6" d="M1757 806zm-10 3zm-9-3zm-27 2zm17 9zm14-7zm7 7zm159 6zm-155 7zm-15-7zm-12 3zm0 11zm29 2zm196 16zm-82-3zm-32 15zm-4 9zm7 6zm26 10zm13-3zm3-5zm-1 32zm-89 16zm56 9zm20 10zm-57 1zm-11-7zm58 10z"/><path stroke="#af172b" stroke-width="8.6" d="M1710 671zm-16 16zm54 39zm-16 74zm-41 12zm35-1zm20 13zm-4 0zm-10-1zm-6 6zm-1 2zm-6-8zm-16 7zm41 15zm189-8zm19 17zm-219 11zm133 2zm26 8zm-36 27zm-12 2z"/><path stroke="#7f0823" stroke-width="8.6" d="M1757 693zm-56 94zm46 6zm-55 13zm33 7zm4 7zm52 2zm-37 7zm-30-6zm-10 6zm0 11zm38-3zm-20 15z"/></g><defs><linearGradient id="gr" x1="0" y1="1" x2="0" y2="0"><stop offset="0.00" stop-color="#adadad"/><stop offset="0.33" stop-color="#f7f7f7"/><stop offset="0.48" stop-color="#fddbc7"/><stop offset="0.58" stop-color="#f4a582"/><stop offset="0.72" stop-color="#d6604d"/><stop offset="0.87" stop-color="#b2182b"/><stop offset="1.00" stop-color="#67001f"/></linearGradient><linearGradient id="gv" x1="0" y1="1" x2="0" y2="0"><stop offset="0.00" stop-color="#440154"/><stop offset="0.10" stop-color="#482475"/><stop offset="0.20" stop-color="#414487"/><stop offset="0.30" stop-color="#355f8d"/><stop offset="0.40" stop-color="#2a788e"/><stop offset="0.50" stop-color="#21918c"/><stop offset="0.60" stop-color="#22a884"/><stop offset="0.70" stop-color="#44bf70"/><stop offset="0.80" stop-color="#7ad151"/><stop offset="0.90" stop-color="#bddf26"/><stop offset="1.00" stop-color="#fde725"/></linearGradient></defs><rect x="1490.5" y="329.2" width="10" height="118.6" fill="url(#gr)"/><path d="M1489.7 329.2V447.8M1501.3 329.2V447.8" fill="none" stroke="#000" stroke-width="2.4"/><path d="M1502.5 346.3h5M1502.5 380.0h5M1502.5 413.7h5M1502.5 447.4h5" stroke="#333" stroke-width="1.6"/><rect x="2034.0" y="330.5" width="10" height="118.5" fill="url(#gr)"/><path d="M2033.2 330.5V449.0M2044.8 330.5V449.0" fill="none" stroke="#000" stroke-width="2.4"/><path d="M2046.0 347.5h5M2046.0 381.3h5M2046.0 415.1h5M2046.0 448.6h5" stroke="#333" stroke-width="1.6"/><rect x="1482.0" y="865.9" width="10" height="119.0" fill="url(#gr)"/><path d="M1481.2 865.9V984.9M1492.8 865.9V984.9" fill="none" stroke="#000" stroke-width="2.4"/><path d="M1494.0 883.0h5M1494.0 917.0h5M1494.0 951.0h5M1494.0 984.5h5" stroke="#333" stroke-width="1.6"/><rect x="2038.0" y="865.0" width="10" height="118.7" fill="url(#gr)"/><path d="M2037.2 865.0V983.7M2048.8 865.0V983.7" fill="none" stroke="#000" stroke-width="2.4"/><path d="M2050.0 882.3h5M2050.0 916.0h5M2050.0 949.7h5M2050.0 983.3h5" stroke="#333" stroke-width="1.6"/><g font-family="Liberation Sans, Arial, Helvetica, sans-serif" font-weight="bold" fill="#000"><text transform="translate(1511.8 343.3) scale(0.994 1)" font-size="34.3">3.0</text><text transform="translate(1511.8 455.9) scale(0.994 1)" font-size="34.3">0.0</text><text transform="translate(2054.3 344.1) scale(1.033 1)" font-size="33.6">4.0</text><text transform="translate(2054.3 457.2) scale(1.012 1)" font-size="34.3">0.0</text><text transform="translate(1503.1 879.6) scale(0.994 1)" font-size="34.3">3.0</text><text transform="translate(1503.1 993.0) scale(0.977 1)" font-size="34.9">0.0</text><text transform="translate(2058.4 878.7) scale(0.989 1)" font-size="34.3">2.5</text><text transform="translate(2058.3 992.2)" font-size="34.9">0.0</text></g><g font-family="Liberation Sans, Arial, Helvetica, sans-serif" font-weight="bold" fill="#000"><text transform="translate(1223.0 58.3) scale(0.977 1)" font-size="49.7" font-style="italic">HOPX</text><text transform="translate(1779.3 58.3) scale(0.962 1)" font-size="49.7" font-style="italic">MKI67</text><text transform="translate(1204.6 581.6) scale(0.941 1)" font-size="50.9" font-style="italic">EOMES</text><text transform="translate(1770.5 581.3) scale(0.967 1)" font-size="50.0" font-style="italic">ASCL1</text></g><g fill="none" stroke-linecap="round"><path stroke="#dc2420" stroke-width="3.3" d="M1677 1217zm-72-4zm8 9zm5 5zm1 2zm25-7zm2 6zm2-2zm0 1zm5-6zm12 5zm6-8zm9 2zm1 8zm1-1zm9-7zm61 8zm-2 14zm-14-5zm-5 0zm-11 2zm-1-1zm-1 3zm-5-5zm-8 4zm-3-1zm0 2zm0-5zm-6-3zm-4 9zm-6-2zm0-7zm-1 2zm0-3zm-14 10zm-4-12zm-3 9zm-12 1zm0-6zm0 4zm-3 2zm-1-4zm-6 3zm-1-1zm-1 4zm-52-2zm-29-1zm-9-8zm22 21zm7-3zm13 3zm5-9zm7 5zm14 1zm7 1zm11-2zm4-3zm3 6zm2-8zm0 4zm3 5zm1 0zm2-8zm2 6zm6 0zm2 1zm0-7zm1 9zm0-4zm1 2zm1 1zm0 1zm0 1zm1-4zm0 3zm1-6zm1 2zm0 2zm5-6zm1 7zm3 1zm1-10zm0 10zm1-2zm2 3zm0-6zm1-1zm1 3zm2-3zm0 3zm1-6zm0 3zm1-3zm1 6zm0 0zm0-7zm1 6zm0-3zm1 1zm2 3zm0 4zm4-3zm1 2zm0-2zm1 0zm3-1zm4-1zm0-6zm0 4zm1-4zm2 8zm0-6zm1 2zm4-1zm4 1zm14 2zm2-1zm1-2zm1-4zm3 10zm1-3zm15-6zm0 6zm21-3zm-11 17zm-9-8zm-7 5zm-4 3zm-1-1zm-5-7zm-7 7zm-1-5zm-1 9zm-2-6zm0-4zm-3 10zm-3-7zm-1-3zm0 3zm-7 6zm0-4zm0-2zm-1 1zm-1 3zm-2-4zm-1 3zm-3-6zm0 1zm0 5zm-1 3zm-1-2zm-2-1zm-3 3zm-1-9zm0 7zm0-3zm-1-3zm0 7zm0-10zm-1 3zm0 7zm-3-2zm0 2zm-3 0zm-1-10zm-2 4zm0-1zm0 8zm-1-10zm-1 2zm-1 2zm0-2zm-1 3zm-2-4zm-2 4zm-2-2zm-2 4zm-1 1zm0-4zm-1 6zm0 0zm-1-6zm-2 4zm0-1zm-3 2zm-1-2zm-1 0zm0-5zm0 7zm-1-2zm-1 3zm0 0zm-1-4zm0 2zm-1-4zm0 4zm-1 2zm0-5zm0 2zm-1 2zm-1 1zm-1-6zm-2 4zm0-4zm-1-2zm0-3zm-1 2zm-1 2zm0-2zm-2 7zm0-7zm0 4zm0 3zm-1-7zm0 5zm0-3zm0-1zm0 2zm-3 6zm-2 0zm0-2zm-1-2zm-5-7zm-1 5zm-1 6zm-3-7zm0 3zm-2-2zm0 3zm0 0zm-8-3zm-7 1zm-7 3zm-4 1zm-16-3zm-4-1zm-14 0zm-5 2zm6 11zm6 0zm13-3zm4-3zm2 1zm7 6zm3-7zm5 5zm3 5zm2-7zm1 1zm0-2zm1 0zm1 7zm1-8zm0 9zm1-2zm6-3zm0-1zm1-2zm2 1zm0 2zm1 5zm0 1zm1-3zm2-1zm0-5zm0 2zm1-2zm0 5zm1 3zm1-1zm1-9zm0 0zm2 5zm3 2zm0 1zm1-1zm1-1zm1-1zm1-2zm2-4zm1 12zm1-2zm0-1zm2-2zm1 3zm1-4zm0 3zm0-3zm0-5zm1 9zm0-1zm1 2zm0 0zm2-8zm0 7zm1-5zm0-3zm2 4zm0-4zm1 1zm0 6zm0-1zm1-7zm0 7zm1-6zm1-2zm0 7zm0 5zm1-10zm0-1zm0 1zm0 4zm0 0zm1 3zm1-7zm2 9zm0-4zm1 1zm0-2zm0 1zm3-5zm1 8zm0-8zm1-1zm1 10zm0-7zm0 4zm0 3zm1-10zm0 7zm0-3zm1 6zm0-7zm1-2zm2 1zm1 7zm1 1zm0-11zm1 4zm0 1zm0-5zm0 10zm1-8zm0-1zm0 0zm1 1zm1 6zm0 2zm0 2zm0-2zm0-9zm1 5zm1-5zm0 6zm1-2zm0 2zm1 2zm0-4zm0-4zm2 4zm0-2zm0 5zm2 1zm1-2zm0-4zm1-1zm0 2zm0 8zm1-10zm0 7zm0-2zm1-4zm0 0zm0 4zm2-6zm0 11zm2-10zm0 5zm2 3zm1 1zm0 0zm1-10zm1 6zm0 5zm4-1zm2-6zm0 1zm0 6zm2-5zm4-2zm1 5zm0-8zm2 5zm2-5zm1 10zm3-7zm0-2zm1-2zm0 7zm7-5zm1-2zm4 5zm2 0zm3 5zm16-7zm10 3zm-2 7zm-26 4zm0 1zm-6 0zm-2-1zm-1 3zm-1-4zm-1-4zm-3 2zm0 3zm-2-6zm-1 7zm0 5zm-1-9zm0-2zm-1 10zm-1-7zm-2-2zm-1 8zm-1-6zm-1 5zm-1 1zm-3-4zm0-6zm-1 9zm0 0zm-1 2zm0-8zm-1-1zm0 4zm-1 3zm-1-1zm0-1zm0 2zm-2-5zm0 1zm0 1zm-1 1zm-1-1zm0-2zm-2 5zm-1-2zm0-5zm-1 6zm0 1zm-2-8zm0 2zm-2 0zm-1 7zm-1-8zm-3 3zm0-1zm0 7zm-1-5zm-1 1zm-1-4zm0 8zm-1-8zm-1 1zm0 5zm-2-5zm0 4zm0-3zm-1 6zm0-10zm0 1zm-1 10zm-1-4zm0 0zm-1-6zm0 8zm-1-7zm-1 5zm0 3zm0-9zm0 8zm-1-7zm0-2zm0 5zm0-3zm0 9zm0-6zm-1-2zm0-4zm0 1zm0 7zm-1 3zm0-9zm0 0zm-1 5zm-1 4zm0-6zm0 6zm-1-7zm0 6zm0-2zm0-3zm-1 4zm-1 2zm0-5zm-1 5zm-1 0zm0-4zm0-3zm-1-1zm0 8zm0-10zm0 2zm-1-2zm-1 1zm0 10zm-1-12zm-2 0zm0 11zm-2-5zm-1 3zm-1-6zm-2 0zm-1 8zm-1 0zm0-3zm0-4zm-2 0zm-1 6zm-1-7zm0 2zm0 1zm0 0zm-1 2zm0-1zm-2-6zm-2 8zm-1-1zm0-4zm-1 0zm0 7zm-1-5zm0 1zm0 5zm0-9zm0 1zm-1 7zm-1-7zm-3 5zm-1-1zm0-4zm-1-2zm-1 5zm-1 4zm0-9zm0 2zm-1 5zm0 2zm0 0zm-2-8zm0 2zm-3 7zm0-6zm-1 3zm-1-3zm-7 3zm0-2zm-1 5zm0-5zm-1 0zm0 4zm-1-3zm0-5zm-2 1zm0-4zm-2 6zm-2 5zm-1-8zm-9 8zm-2-9zm0 5zm-3-7zm-4 3zm-3 1zm0 1zm-1-4zm-5 2zm-16-3zm-1 10zm-12 2zm0-5zm-28 8zm6-2zm6 1zm5 1zm38 7zm7-2zm14 2zm6-10zm1 4zm0 8zm11-5zm6 4zm0-8zm1 1zm3 1zm0-5zm3 8zm0-3zm0 7zm1-6zm1 2zm0 2zm1-10zm3 2zm0 5zm0-7zm1 10zm1-9zm1 4zm0-1zm1-2zm1-2zm1 6zm0 0zm2 1zm1-5zm0 10zm3-10zm1 8zm0-1zm1 3zm0-9zm1 4zm2 2zm1-5zm3 3zm1-1zm1-2zm2 6zm0 0zm1-8zm1-2zm1 12zm0-4zm1 0zm2-6zm0 5zm0-7zm1 11zm1-6zm0 0zm2 3zm0-5zm1-1zm0 7zm1-5zm0 0zm1-3zm0 1zm0 1zm3 0zm0-1zm2 0zm0 6zm1-4zm0 4zm1-4zm2-1zm0 5zm1-1zm0 3zm0-5zm0-1zm0-2zm0 8zm0-1zm2-3zm3 4zm1 0zm0-8zm0 9zm0-1zm2 2zm0-7zm1 6zm0 0zm0-8zm0 1zm1 2zm0 5zm3-9zm0 6zm0-2zm1 4zm0 1zm2-5zm1 1zm0-1zm1-1zm3 5zm2 2zm1-3zm2-5zm1 3zm1 4zm0 0zm1-5zm0 1zm1 0zm1 1zm2-6zm1 6zm1 2zm2-6zm1 5zm0-6zm0-3zm3 2zm6 5zm1-1zm4 4zm1 0zm4-10zm1 7zm2-3zm1 3zm0-4zm3-3zm10 12zm-7 10zm-11-8zm-5 0zm-1 0zm-3 1zm0-1zm-6 5zm-7-3zm-3-4zm-1 4zm0 4zm-3-5zm-1 6zm0-2zm0-4zm-3 4zm-7-6zm-1 0zm-1 2zm0 4zm-2-3zm-1 0zm-2 8zm0-3zm0 1zm-1-6zm-1 4zm-3 1zm-3-7zm0-1zm-1 2zm0 8zm0-3zm-3-1zm-2 0zm0-5zm0 5zm-1 3zm-1-3zm-1 3zm0 0zm0-1zm-1-4zm-1 0zm-1-1zm-1-1zm-1 5zm-1-2zm0 1zm0 2zm-1-4zm0 2zm-1 2zm0-4zm-1-2zm-1 2zm0-1zm0 0zm0 1zm-1 0zm-2-1zm0 5zm-3-1zm0-1zm-1-4zm-1 5zm-1 3zm0-9zm-1 4zm0-6zm-1 10zm0-7zm-1 3zm-1-2zm-1-2zm-7 4zm0 5zm-1-5zm-3-3zm-4-1zm-1 4zm-1-3zm-1-1zm0 2zm-1-2zm0 4zm-1 0zm-2 5zm-3-2zm-1-4zm-3-2zm-1-2zm0 4zm-7-4zm-7 0zm-4 10zm-1-9zm-1 1zm-5 3zm-4 2zm-7 0zm-39-6zm-4 9zm-2 2zm51 6zm25 0zm8-2zm0 1zm5-3zm0 5zm1-7zm10 8zm2-8zm1 6zm2-4zm1 2zm0 5zm3-1zm7-8zm3 2zm0 1zm4 1zm1 0zm2 3zm2-5zm0 1zm2 1zm0-4zm1 9zm3 2zm2-6zm0-2zm0 0zm1-1zm1 3zm0 3zm0 0zm1-5zm2 2zm1-1zm2-3zm2 7zm5-9zm3 5zm1-3zm3 7zm7-8zm3 11zm4-6zm2 3zm4 3zm1-6zm1 3zm0-2zm3-4zm-4 14zm-7 6zm-3 1zm-8-9zm-4-1zm-4-2zm-2 11zm-3-3zm0-4zm-2 8zm0-4zm-2 3zm-3-5zm-12 4zm-3-5zm-1-4zm-1 6zm-3-5zm0 3zm-9 3zm-5 3zm0-9zm-7 1zm0 1zm-12 0zm-13-1zm-1 9zm-8-8zm-2-3zm-33 3zm-10-2zm65 21zm5-5zm2-1zm13-3zm11 3zm1 2zm1-1zm2-2zm1-1zm2 4zm2-1zm4 5zm9-3zm2-3zm1-1zm1-4zm0 9zm8-8zm9 2zm2-1zm1 1zm2 2zm5-3zm17 4zm3 1zm2 10zm-15 4zm-9-9zm-24 1zm-3 0zm-8 9zm-11-2zm-10-1zm-11-4zm-3 1zm-16 1z"/><path stroke="#84290d" stroke-width="3.3" d="M1676 1346zm31 6zm-20 10zm-34-6zm-6 13zm2-3zm3 5zm12 0zm4 0zm1 2zm0-7zm0 3zm5 4zm3-10zm3 8zm2-3zm4 6zm4-3zm5-6zm1 9zm0-2zm2 1zm16 0zm23 5zm-21-3zm-2 8zm-8 3zm-4-8zm0 3zm-1 1zm-1 3zm-2-10zm-1-1zm-2 9zm-4-8zm0 11zm-5-1zm-2-1zm0-3zm-3-6zm0 11zm-1-5zm-1 1zm-1-3zm0 1zm-3 6zm-3 0zm-1-8zm-1 2zm-2 4zm-1-1zm0-6zm0 3zm-1-5zm-1 11zm0-10zm-1 7zm0-6zm-1 8zm0-5zm0 1zm-5 4zm0-5zm0 3zm-7 0zm-6 2zm-1 0zm-2-2zm-2 0zm-3 2zm-9-5zm5 14zm2-3zm3 5zm0-8zm1 4zm1-5zm2 2zm1-3zm1 5zm0-3zm1 1zm4 4zm0 3zm4-10zm0 0zm2 2zm2 0zm0 9zm1-3zm1-6zm0 4zm0 0zm2 1zm0 2zm1-1zm2-6zm0 3zm0-5zm1 0zm1 12zm1-10zm0 7zm1-6zm2 4zm0 0zm0-4zm1 5zm1-2zm0-2zm2 3zm1 2zm1 3zm0-10zm0 5zm0 2zm5-6zm1 8zm0-3zm2-3zm1-5zm0 1zm2 4zm1-3zm0-1zm2 4zm0-1zm0 4zm1-3zm0 1zm1-4zm0-1zm1 5zm0 2zm1 3zm1-8zm2-2zm0 7zm0 2zm1-6zm0-1zm0 4zm0-6zm2 0zm1 9zm1-10zm1 11zm4-6zm3 5zm0-2zm1 3zm2-6zm0 1zm2-3zm2 4zm1 4zm1-10zm1 5zm5 0zm8 0zm4 6zm23-2zm0 13zm-13-7zm-16-2zm-6 10zm-2-9zm-2-2zm-3 8zm-2-5zm0 7zm-3-7zm-3 7zm0-3zm-1-4zm-1-3zm-1 2zm-2 6zm0-3zm0 3zm-1-1zm0-2zm-2 3zm-1 2zm-1 0zm-3-6zm0-3zm0 3zm-2 0zm-1-1zm-2 3zm0 1zm-1-1zm-1-3zm-5-1zm0 2zm-1-4zm0 4zm-1 4zm-1-4zm-2-2zm0 0zm0 8zm0-4zm-1-5zm0 4zm0 5zm-1-9zm-1 2zm-1 4zm-1-7zm-1 7zm0-6zm0 1zm-1 3zm0 2zm0-2zm-1-2zm0-3zm0 9zm-3-7zm-1 0zm0-3zm0 10zm-3-7zm-1 5zm-4-5zm-1 3zm0-3zm-2 1zm0 0zm-1 3zm-1-2zm0-2zm-1 5zm-1 2zm-2-10zm-2 8zm0-6zm-1 7zm-5-7zm-5-1zm-1 11zm-1-10zm-4 6zm0 2zm-1-2zm-31-2zm-10 5zm18 5zm6-2zm27 2zm1-2zm8 4zm9-1zm0 3zm2-8zm1 3zm2 2zm1 2zm3-2zm0 0zm0 0zm5 2zm0-4zm2-1zm1 8zm11-10zm1 12zm1-9zm1 0zm0 1zm0-2zm1 4zm1 5zm5 0zm1-5zm2-5zm4 4zm14 1zm1-1zm6 1zm4-1zm7-2zm-20 11zm-5 2zm-7-3zm-11 1zm-16-2zm-8 5zm-9-3zm-29 4zm-1-1zm-6 8zm19 2zm32 1zm5 0zm0 0z"/><path stroke="#bc4a10" stroke-width="3.3" d="M1952 1225zm24-1zm17 5zm9 1zm38-4zm-6 15zm-4-2zm-2 2zm-1-6zm0 4zm-2 1zm-4-6zm-1 4zm0 1zm-4 1zm-4-1zm0 0zm0-5zm-2 4zm-1 2zm-2-1zm0-1zm-1 3zm0-3zm-2-1zm0 4zm-1-11zm-1 5zm-1 2zm-1 5zm-1-4zm0-2zm0 1zm0 1zm0 1zm-2-6zm-9 7zm-2-3zm-3-1zm-3-4zm-14 5zm-1 3zm-6-3zm-2-7zm-18 11zm-1-5zm-47 2zm-25 3zm15 9zm10-7zm21 8zm10 0zm2-1zm6 0zm4-4zm1 7zm2-3zm5 2zm5-3zm4-2zm0 4zm3 1zm7-5zm0 6zm0-11zm0 6zm3 0zm0 5zm0-1zm2-9zm0 10zm0-5zm1 3zm0-6zm1 7zm2-8zm0 9zm3-8zm0 1zm2-1zm1 5zm1 3zm0 0zm2-5zm2 0zm1 1zm0 3zm0-2zm0 4zm1-12zm0 6zm0-4zm1 1zm0 6zm2-3zm0 3zm1-4zm0-2zm1 8zm0-3zm0-1zm0-1zm0 4zm1 1zm0-7zm0 3zm1 3zm1-2zm1 3zm1-1zm0-4zm0-2zm1 7zm1-1zm0 1zm1 1zm0-1zm1-1zm0-1zm0 2zm1-4zm0-3zm0 3zm1 3zm0 0zm0-2zm0 4zm1-5zm0-2zm0-5zm0 11zm1-8zm0 6zm1-1zm1-5zm0 6zm1 1zm0 2zm0-1zm0-6zm1-2zm0 9zm0-4zm1 2zm0-1zm1 2zm0-3zm0-7zm1 2zm0 3zm0-4zm0 10zm0-2zm0 0zm1 1zm2-10zm0 11zm2 0zm1-2zm0-5zm1 2zm0 3zm0-2zm0 1zm1-2zm1-6zm0 8zm0-7zm0 6zm1-1zm0 2zm1 1zm1-6zm0 7zm0 0zm2-2zm0 1zm1-5zm0-3zm1 1zm1 7zm0 2zm2-9zm2 7zm0-5zm1 7zm0-5zm1 4zm0 0zm2-4zm0 5zm1-10zm4 5zm3-4zm0 7zm6 3zm-1 5zm-2 0zm-1-1zm0-4zm-1 10zm0-5zm0 5zm0-5zm-2-5zm0 10zm0 0zm0-6zm-1 3zm-1-3zm0-2zm-1 0zm0 4zm0 0zm-1 1zm-1 3zm-1-2zm0-5zm-1-2zm0-2zm-1 8zm-1-2zm-1-5zm-1 7zm0 0zm-1-3zm0 5zm-1-9zm0 9zm0-2zm-1-3zm0 1zm0 5zm0 0zm-1-10zm0-1zm-1 5zm0-3zm0-1zm0 2zm0 3zm-1 2zm0-8zm0 10zm0-7zm0 8zm-2-3zm0 0zm-1-2zm-1-1zm0 4zm0-1zm-1 2zm0-3zm0 0zm0 5zm0-1zm0 0zm0-2zm-1-8zm-1 8zm0-6zm0 3zm0 2zm0-5zm0 6zm-1 2zm0-4zm0 0zm-1-4zm0 3zm0-1zm0 4zm0 0zm0 2zm0 0zm-1-1zm0-9zm0 2zm-1 7zm0-6zm0-4zm0 11zm0 0zm-1-9zm0 7zm0 2zm-1-9zm0 4zm0 4zm0 1zm-1-2zm-1-8zm0 6zm0-4zm-1 2zm0 4zm0-7zm0 5zm0-2zm0-2zm0 0zm-1 0zm0-2zm0 10zm0-9zm0 9zm0-9zm-1 6zm0-4zm0 4zm0 3zm0-10zm0 3zm-1 0zm-1 8zm0-5zm0-3zm0 4zm0 1zm0-3zm0 1zm-1-4zm0 3zm0-5zm0 0zm0 8zm-1-2zm0 5zm0-8zm0 6zm0 0zm0-5zm-1 1zm0 5zm0-3zm0-7zm0 3zm0 7zm0 1zm0-1zm0-1zm-1-8zm0 10zm0-9zm-1 7zm0-3zm-1 4zm0-2zm0 1zm0 0zm0-2zm0 3zm0-1zm-1-7zm0-2zm0 6zm0-1zm0-2zm0-3zm0 5zm0 6zm0-3zm0 1zm-1-2zm0 1zm0-1zm0 4zm0-9zm-1 5zm0 3zm0-4zm-1 4zm0-10zm0 8zm0-1zm0-4zm0 7zm-1-9zm0 1zm-1 5zm0 3zm0-6zm-1 4zm0-6zm0 5zm0-4zm0 5zm0 1zm-1-3zm0 4zm0-3zm0 0zm0 0zm0-7zm-1 7zm0-2zm0 3zm0-3zm-1 4zm0 1zm0-6zm0-3zm0 2zm0 2zm0 6zm-1-10zm0 1zm0-2zm-1 0zm0 0zm0 11zm0-2zm-1-1zm0-8zm0 5zm0 2zm-1-3zm0 5zm0-7zm0 7zm0-10zm-1 5zm0 0zm-1-5zm0 6zm-1 2zm0 1zm0-8zm0 5zm0-6zm0 8zm-1 1zm-1-7zm-2 5zm-1 2zm0-2zm-1 4zm-1-4zm-1-7zm0 11zm-1-6zm0 5zm0-2zm-1 0zm0 1zm0-5zm-1 3zm0-4zm-1 0zm0 1zm-1 3zm-1-5zm0 10zm-2-11zm-1 2zm0 4zm-1 2zm-1-4zm-1 5zm0-1zm-2 1zm0-4zm-1-4zm-1 9zm-4-5zm0 2zm-4 0zm-7-2zm-2-4zm-4 0zm0 3zm-2-5zm-6 1zm-18 6zm-4 2zm-19-6zm-3 3zm-6 14zm5-3zm34-5zm1 9zm11-4zm7-4zm6 7zm4 0zm3-2zm4 5zm0-9zm2 3zm1 0zm0-4zm1 3zm3-3zm0 10zm1 0zm0-2zm2-1zm0-4zm2 4zm0 2zm2-9zm0 11zm1-1zm3-11zm0 9zm1-2zm0 0zm1-6zm1 10zm0-9zm1 4zm1-2zm0 0zm1 3zm1-6zm0 7zm0 4zm1-11zm0 9zm0-6zm1 1zm0-3zm0 3zm0 6zm0-5zm0 5zm1-10zm1 10zm0-5zm0-2zm0 5zm1-6zm1 7zm0 1zm0-4zm1 1zm0-6zm1 0zm1 1zm0-2zm1 1zm0 0zm1 0zm0 6zm0 3zm0-1zm0-7zm0 2zm1 1zm0-4zm0 1zm0 5zm0-8zm1 5zm0-3zm1 10zm0-5zm0-4zm0-3zm0 3zm1-3zm0 2zm0-2zm0 4zm0 3zm0-5zm1 4zm0-2zm0 2zm0-4zm0 3zm0-5zm1 1zm0 8zm0-5zm0 0zm0 1zm0 5zm1-6zm0 1zm0-3zm0-1zm1 1zm0 0zm0 0zm0 10zm0-8zm0-2zm0 10zm0-9zm0 3zm1-3zm0 1zm0 2zm0-1zm1-4zm0 1zm0 4zm0 3zm1-7zm0 4zm0 4zm0-7zm0 5zm0-4zm1-3zm0 6zm0-5zm0-1zm1 0zm0 8zm0-9zm0 9zm1-5zm0 1zm0 1zm0-3zm0-1zm0 7zm0 1zm1-3zm0-3zm0 1zm0 5zm0-1zm1-1zm0 4zm0-6zm0 4zm0-7zm0 5zm1-5zm0-1zm0 5zm0-6zm0 0zm0 2zm0 7zm1-3zm0 1zm0-5zm0-1zm0 10zm1-6zm0-2zm0 7zm1-8zm0-1zm0 5zm1-2zm0 4zm0-6zm0 1zm0 1zm0 1zm1 4zm0-1zm0-5zm0 2zm0 3zm1-7zm0 3zm0 3zm0-2zm0 4zm0-1zm0-6zm0 7zm0-7zm1 2zm0-4zm0 6zm0-1zm1 4zm0 0zm1-5zm1 0zm0 5zm0-4zm0-1zm0 3zm1-4zm0 7zm0-1zm0-9zm0 10zm1-8zm0 5zm0-1zm0-7zm0 6zm0-6zm1 7zm1 4zm0 1zm0-4zm0-6zm1 8zm0 0zm1 1zm0-6zm0-2zm1 6zm0-5zm1 3zm0-5zm0 1zm0 4zm1 4zm0-5zm1 2zm0-3zm0-1zm0 4zm1-8zm0 5zm0-1zm0-1zm0 8zm1-8zm0-2zm0 3zm1-1zm0 2zm0-2zm1-1zm1 9zm0-7zm1-3zm1 1zm0 6zm0 4zm1-6zm0 3zm1-7zm0 1zm2 0zm0-2zm0 6zm1 4zm0-10zm2 1zm0 0zm0 2zm2 5zm0-4zm1 2zm1 0zm0-2zm3 4zm1 6zm-5 1zm-2-1zm-1-2zm-3 4zm-2 5zm-1-2zm-1 0zm0 2zm-3-3zm-1-7zm0 8zm-3-1zm-1-6zm0 8zm0-4zm-1-2zm-1-3zm0 0zm0 10zm-3-7zm0-2zm-1 7zm-1-4zm0-2zm-2 4zm-1 1zm0-3zm0-2zm0 2zm-1 2zm0-4zm0 0zm-1 5zm0-5zm0 5zm-1-4zm-1 6zm0 0zm0-6zm-1 1zm0 0zm-1 3zm0-6zm0 7zm-1-4zm0-3zm0 2zm0-1zm-1-1zm-1 2zm0-3zm0 7zm0-5zm-1 3zm0-1zm0 6zm0-5zm-1-1zm-1 5zm0-4zm-1 5zm0-10zm0 1zm-1 10zm-1-11zm0 1zm-1 9zm0 1zm0-4zm-1-5zm-1 4zm-1 3zm-1-8zm-1 5zm0 0zm-1 2zm0-1zm0-2zm-1 7zm0-1zm-2-4zm0-5zm-1-1zm0 9zm0-4zm-1 0zm0-5zm0 0zm-1 7zm0-7zm-1 0zm-2 2zm0-2zm0 6zm0-2zm-1-2zm-1-3zm-1 9zm0 3zm-2-3zm-1-3zm-3-1zm0-3zm-4 3zm-2 7zm0-5zm-10-6zm-2 11zm-1-6zm0-4zm-1 5zm-2 2zm-6-3zm-3-3zm0 2zm-13 7zm-13-11zm-24 7zm-3-2zm-19 11zm9 3zm27-7zm33 6zm4 4zm6-1zm7-1zm11-4zm1 4zm7-1zm1 4zm4-1zm2-5zm2 1zm0 5zm1-7zm0 1zm1-2zm0 0zm0-4zm2 1zm0 7zm3-1zm0-3zm1 1zm1 2zm6 3zm2 1zm5-10zm1 9zm2-8zm3-1zm2 2zm3-3zm4 1zm7-1zm7 3zm0 5zm2 0zm1 2zm0-5zm4-3zm5 0zm-9 15zm-28-2zm0-1zm-1 9zm-2-7zm0 8zm-10-11zm-2 0zm-2 3zm0-3zm-10 1zm-38 9zm-4-3zm-31-2zm-13 4zm-14-3zm-3 7zm126 2zm28-3z"/><path stroke="#c4851f" stroke-width="3.3" d="M1954 1277zm8-3zm1-1zm13 1zm8-8zm1 8zm0 0zm3 0zm2-2zm2-4zm1 5zm1 5zm1-5zm6 2zm0 1zm12 1zm20 9zm-11 2zm-7-8zm-6-1zm-4 3zm0 5zm-1 0zm-1-6zm-2-2zm-2 11zm-1-5zm-2-3zm0-1zm-3-1zm0 8zm-2-2zm0 0zm-1-8zm0 3zm-1 4zm-1-4zm-14 7zm-1-1zm0-6zm-7 0zm0 2zm-1-3zm-13 4zm-4 4zm-5 1zm10 8zm1 0zm11-2zm0 6zm1-7zm0 5zm2-1zm1-6zm1 0zm1 7zm1 0zm0-5zm1 3zm0 5zm2-7zm2-4zm1 5zm0 1zm1-2zm0 0zm2 1zm1-1zm0 5zm0 2zm3-6zm7 0zm1-4zm2 6zm1-4zm2-1zm2 7zm1-7zm1 0zm2 5zm0-7zm1 8zm1 2zm0-2zm3 3zm0-7zm1 4zm9-1zm3 1zm-3 4zm-3 2zm-3 5zm-5-7zm-9 9zm-4-8zm0 7zm-4 2zm0-1zm-3-5zm0 6zm0-3zm-2-6zm-1 0zm-3-1zm-2 1zm-2 4zm-11 1zm-4 3zm-1 1zm0-11zm-1 0zm0 1zm-2 8zm0-2zm-3-2zm-12-1zm-2-3zm-45 18zm27-5zm11 1zm3 8zm4-11zm9 2zm1 3zm1-5zm7 0zm1 8zm4 2zm4-4zm1 6zm1-10zm3 6zm0 3zm2-9zm1 4zm1-5zm0-1zm1 1zm1-1zm0 1zm3 1zm0 3zm2 2zm0-6zm2 10zm3-9zm0 4zm1-4zm0-1zm0 5zm5 1zm1-6zm4 9zm4-10zm5 9zm10 4zm-18 8zm-4-8zm-5 4zm-3-3zm0 2zm-1 5zm-2-5zm-4-3zm-5 3zm-1 4zm-4-4zm-3-2zm-2 7zm-2-4zm0 0zm-1-2zm-2 8zm-3-5zm-5 5zm-2-1zm-4 0zm-4-3zm-3 2zm-8 0zm-6-6zm0 4zm-4-1zm-8 4zm-9 1zm-69-3zm4 5zm46 10zm11 1zm23 0zm1-1zm5-1zm1-2zm2-1zm1 0zm5 5zm4-1zm1-4zm1-4zm1 2zm5-1zm1 2zm1-5zm5 5zm10 0zm7-2zm3 2zm2-5zm1 1zm2 5zm0-1zm6-4zm11 9zm7-7zm-9 17zm-2 0zm-2-9zm-8 5zm0-1zm-1-1zm-2 1zm-3 4zm-2-6zm-15 8zm-3-1zm-1-5zm-1 2zm0-3zm-1 1zm-1-3zm-2 9zm0-9zm-1-1zm-3 11zm-3-7zm0-3zm-2 5zm-1 1zm-2-4zm-8 5zm0 1zm0-1zm-2-6zm0 4zm0 2zm-5-7zm-8 5zm0-1zm-2 6zm-3-11zm-30 8zm-62 6zm40 0zm17 8zm5 0zm4-3zm6-2zm6-2zm17-2zm5 6zm1 4zm2-3zm1-2zm1 5zm1-2zm2 3zm6-9zm0 5zm1 0zm1 3zm0-8zm1-2zm0 3zm5-1zm1 4zm1 2zm1-2zm2-6zm4 5zm0-1zm5 4zm1-3zm1 5zm5-1zm0 0zm0-4zm1-2zm1 1zm0-2zm6-2zm1 1zm3 8zm4-2zm5-7zm24 1zm4 18zm-35 2zm-2-1zm-6-5zm-2-2zm-1 8zm-1-2zm-2 0zm-3 3zm0-11zm-3 6zm-5 4zm-1-5zm-1-2zm-2 9zm-3-3zm-3-5zm-1-1zm-6 4zm-1-2zm-2 4zm-1-6zm-4-1zm-3 7zm-2-7zm0 8zm-2-7zm0 1zm-3 5zm-1-5zm0 4zm0 2zm-2-6zm0 2zm-6-2zm-2 2zm-4 0zm-3-6zm0 8zm-1-2zm-7-6zm-5 9zm-9 2zm-6-5zm-32 1zm-39 8zm24-3zm9 6zm27 2zm5-4zm8 4zm2-1zm8 5zm4-8zm7 7zm0-1zm1 2zm2-6zm2-1zm3 3zm8 0zm0 1zm2-2zm2 1zm3 4zm1-1zm2-4zm1-7zm0 5zm2 0zm5 2zm1 3zm0 2zm0-7zm3 1zm3 4zm3-8zm2 5zm1-4zm4 9zm1-9zm2-2zm2 8zm1-3zm1-4zm1 8zm2-8zm0-2zm1 3zm1 6zm3-4zm5-3zm5 5zm1 2zm4-4zm6-4zm7 10zm-12 7zm-17 6zm-2-3zm-1-7zm-4 10zm0-7zm-3-4zm-1 1zm-6-1zm-3 2zm-2 3zm0 4zm-4-2zm-2-3zm-2-1zm-2 4zm-1-4zm0 6zm0-10zm-2 12zm-1-7zm-3-1zm-1-1zm-1-2zm-2 6zm-2 1zm-2 3zm0-1zm-1-1zm-2 0zm-2-3zm-1 3zm-2-9zm-4 1zm-2 6zm-2 3zm-3-7zm-6-2zm-2 3zm0 6zm-1 0zm-1 2zm-4-6zm-4-2zm-5-2zm-5 8zm0 1zm-11-6zm-16-5zm-30 10zm-22-1zm5 13zm9 1zm3-3zm19-4zm5 2zm1-3zm2 8zm4-9zm3 2zm4 6zm0-1zm7 2zm1 1zm2-10zm0-2zm3 11zm0 0zm1 0zm1-3zm5-7zm5 8zm1 1zm3-1zm1-8zm1 10zm0-2zm0-8zm0 0zm1 4zm1-2zm1 3zm1-4zm2 9zm2 0zm0 0zm0-3zm1 0zm0-6zm1-2zm1 9zm0 0zm1 3zm0-8zm0 5zm1 0zm1 1zm0-2zm0-3zm1 4zm1 3zm2-2zm0-5zm3-1zm4 0zm4 0zm1 3zm1 3zm2-4zm3 0zm2 4zm3-8zm0 9zm3-9zm1 1zm1 3zm1 4zm0-8zm3 5zm1 3zm1-2zm5 0zm1-3zm4-5zm4 9zm0-8zm19 11zm23-6zm-15 10zm-4 5zm-6-2zm-5-3zm-3-1zm-4-2zm-3 9zm-1-1zm-1-8zm-1 3zm0 4zm-2-5zm-2 0zm-5-3zm-1 11zm-2-5zm-1-5zm-3 1zm-1 6zm-2-3zm-1-2zm-1 1zm0 6zm-1-1zm-1 0zm-1-5zm-1-4zm0 8zm-2-1zm-1-2zm-1 1zm0 5zm0-1zm-2 0zm0-3zm-1-6zm-2 4zm0 6zm0-4zm-1-2zm-1 1zm-1 6zm0-5zm-1 3zm-1-4zm0-1zm-1-5zm-1 3zm-4-3zm-2 10zm-1-8zm0 5zm0-2zm0-3zm-1 9zm-2-2zm0-4zm-1 5zm-1-4zm0-3zm0-2zm-1-1zm0 4zm0-2zm-1 5zm0-6zm-1 11zm-1-8zm0 8zm-1-7zm-1-2zm-1-3zm0 7zm-1-1zm-1-1zm-1 7zm-1-9zm-1-3zm0 7zm-1 4zm0 0zm-1-10zm-1 0zm0 10zm0-7zm-1 5zm0 2zm-1-3zm-1-3zm0 1zm0 4zm-1 1zm0 0zm-1-6zm-1 6zm0 0zm-1-8zm-1 8zm0-11zm-1 8zm-1-7zm-1-1zm-3 10zm-4-3zm-1 0zm-1-2zm-3-2zm-3 3zm-3 1zm-1-7zm0 1zm-5 8zm0-3zm-7 4zm-2 0zm-6-1zm-3 0zm-1-7zm-6 2zm0 3zm-1-7zm-4 0zm-4 1zm-13 10zm-1-6zm-18-1zm-40 18zm11-4zm2 1zm25 0zm6-1zm2 3zm3-2zm7 0zm3-4zm0 1zm2 0zm3 5zm0-4zm5 4zm0-5zm4 8zm1-11zm4 9zm0-9zm2 9zm3-9zm1 10zm1 0zm1-9zm2 2zm9 2zm1 2zm3 0zm0-7zm1 3zm1 5zm2-5zm0 3zm0-5zm0 0zm0-2zm1 9zm0-8zm1 6zm2-5zm2 3zm0-3zm0-1zm1 7zm0-4zm1 2zm1 2zm1-5zm0-1zm0 7zm0 2zm0-6zm4 7zm0-1zm1-8zm2 8zm2 0zm0-1zm0-5zm2-3zm0 9zm0-5zm1 4zm1-3zm0-5zm1 9zm0-1zm2-6zm1 1zm0-4zm0 2zm1 1zm0-3zm0 5zm1-1zm1 0zm0 1zm2 1zm0-3zm0 3zm1 1zm0 1zm1-7zm1 5zm0 1zm1-1zm0-5zm1 2zm2-1zm0 4zm0 0zm1 0zm0 5zm1 0zm0 0zm1 0zm0-10zm2 1zm0 2zm1-3zm0 2zm1-2zm0 6zm0 2zm1-1zm0 0zm2-8zm0 7zm0-1zm1-3zm0 6zm1-8zm0 1zm0 7zm0-7zm1 3zm0-3zm0 5zm1 1zm1-4zm0 7zm0-6zm0-5zm1 3zm0-2zm1 8zm0-8zm0 4zm1 5zm0-10zm1 0zm0 10zm1-1zm1-4zm0-5zm0 6zm0 1zm2-1zm0-6zm2 6zm0-2zm3-5zm0 12zm0-5zm1-2zm2-4zm0 5zm1 3zm0-2zm1-1zm2 5zm0-8zm3 0zm0 5zm2-3zm1 1zm1 0zm0 4zm1 0zm5-5zm3-3zm29 1zm-20 11zm-10 9zm-13-9zm-6 9zm0-10zm-1 3zm0-1zm-4-2zm-3 1zm-1 3zm-2 0zm-2-4zm-1 1zm-1 5zm-1-6zm0 8zm-1-2zm0 3zm0-9zm-1 10zm-1-9zm-1 1zm-2 1zm0-1zm0 2zm-1-3zm0 1zm0 3zm0-2zm-2-3zm0 8zm-1-5zm-1 0zm-3-3zm0-1zm-2 7zm-1-4zm0 8zm-1-5zm0-2zm0 2zm-1-4zm-1 7zm-1-5zm0 4zm0 0zm-1 0zm0 1zm0-5zm-1 3zm0 1zm0-1zm0-4zm-4 1zm0-1zm0-3zm0 6zm-1-1zm0 4zm-1-2zm-3 1zm-1-2zm0 6zm0-9zm-1-2zm-1 7zm0-4zm0-2zm-1 3zm0 4zm0 1zm-2-9zm-1 11zm0-1zm0-2zm-2-6zm-2-1zm-2 2zm0-2zm0 8zm0-5zm-1-1zm-1-3zm-1 2zm0 5zm-1-5zm0 1zm-5 6zm0 2zm0-12zm-1 11zm-1-2zm0 0zm-1-3zm0 0zm0 1zm-2 0zm0 3zm0-4zm0 2zm-2-7zm0 9zm-1-3zm-1 4zm0 0zm-1-9zm-2 3zm-3 5zm-1-9zm-2 4zm0 7zm-1-9zm0-2zm0 9zm-1-9zm-1 3zm0 3zm-2 4zm-2 0zm-2-6zm0 5zm-3-1zm-1 3zm-1-1zm0-7zm-1 5zm0-2zm-4 2zm-1-7zm0 6zm-2-3zm-4 0zm-3-2zm0-3zm-4 4zm-1 1zm-3 0zm0-4zm-1 9zm0 1zm-2-10zm-1 7zm-1-3zm-2-4zm-7 9zm-7 1zm-1 1zm-5-9zm0 9zm-2-11zm-5 6zm-6 10zm0 3zm0-7zm6 8zm0 0zm0-1zm3 0zm3 0zm2-5zm3 7zm2-6zm0 2zm2 5zm0 0zm3-4zm3 0zm3 4zm0-2zm1-4zm1 1zm1-5zm3-1zm0 7zm1-4zm1 6zm1 0zm0-8zm3 4zm0 0zm1-5zm2 3zm1 3zm1 5zm1-2zm1-3zm3-1zm1-4zm1 4zm6-4zm3 7zm0 4zm1-9zm2 4zm2 4zm0 0zm0-7zm2 0zm3-2zm2 7zm1-8zm2 2zm0 3zm2-1zm1-3zm6 3zm0 1zm1 4zm4-3zm2-7zm1 5zm1 4zm1-7zm1 4zm1 1zm2 2zm0-1zm1-3zm1 2zm0-5zm0 0zm2 3zm1-2zm1 9zm2-1zm0-9zm3 3zm1-3zm0 0zm3 6zm0-3zm1 3zm2-2zm1-3zm0-1zm2-2zm2 7zm1-3zm0 5zm2-8zm2 10zm0-5zm0-5zm2 9zm0-4zm1 5zm0-4zm0 2zm1-1zm1-8zm2 7zm2-3zm24 7zm2-9zm0-1zm4 2zm2-2zm10 2zm0-2zm2 2zm7 2zm-18 9zm-28 5zm-1 0zm-1-5zm-14 0zm0 9zm-5-11zm-6 6zm-3 0zm-3-2zm-1-3zm-4 5zm0-4zm-4 1zm-1 7zm-3-9zm-1 4zm0-2zm0 3zm-1-4zm0 3zm0 7zm-1-10zm0 0zm-3 2zm-1 8zm-1-6zm0 1zm-2-5zm-2 4zm-1 0zm-1-5zm-2 2zm-4 3zm-1-5zm-2 3zm-1-2zm-4-1zm-2 4zm-1 5zm0-6zm-4 0zm-3 6zm-1-1zm-2-8zm-1 4zm0-1zm-1 0zm-5-1zm-4 1zm-2-1zm-4-2zm-4 4zm-3-2zm0 7zm0-8zm-4 2zm-4 4zm-1-3zm-3 3zm-1 1zm-4-3zm0 4zm0 2zm-1-8zm-4-1zm-1 4zm-1-4zm-1 7zm0-9zm-1 14zm4 0zm4 3zm0-3zm5-1zm7 2zm9-1zm1 0zm3 0zm1-1zm0 4zm6 3zm1-4zm7-1zm0-4zm5 4zm0-3zm2 2zm15 8zm10-7zm7 1zm2 6zm5-8zm0 0zm10 5zm8-5zm4 1zm-51 12zm-5 8zm-6-4zm-6-3zm-12 3zm-6-7zm0 7zm-4-4zm-6 5zm-5 10zm7 1zm4 1zm0-8zm15-1zm37 11zm9-8zm2-3zm-48 22zm-26-2z"/><path stroke="#bc4a10" stroke-width="3.3" d="M1922 1229zm75 0zm1-3zm18 0zm4 1zm21 0zm-5 8zm-3 5zm-6-6zm-3-1zm-3 9zm-3-8zm-1 8zm-1-3zm-1-4zm-1 6zm-3-8zm0 2zm-3 4zm0 2zm-1 0zm-3-7zm0 6zm-2 1zm0-5zm0-4zm-1 8zm0-1zm-5-1zm-1-5zm-1 7zm-2-3zm-1 0zm0 3zm0-4zm-2 4zm-1 0zm0 0zm-5-5zm0-2zm-1 7zm-2 0zm-1-2zm-16-7zm0 6zm0 3zm-1-4zm-2 4zm-12-2zm-7 1zm-32-6zm-2-3zm-11 6zm-17-4zm-2 4zm35 11zm7-4zm20 0zm4 1zm3 7zm0 0zm1 2zm1-4zm4 2zm5-5zm2 6zm2 1zm1-6zm0-1zm1 1zm1 4zm0-2zm3-1zm2 4zm1 2zm0-7zm1 2zm1 0zm0 1zm4-2zm1-6zm1 7zm1-3zm1 6zm0-9zm1 3zm0-2zm0 7zm0 1zm2-4zm0 5zm2-5zm1 3zm1 0zm1-8zm0 10zm0-4zm0-2zm1 4zm0 1zm0-1zm1 0zm0-3zm0 5zm1-1zm0 1zm0-7zm0-1zm0-1zm0 7zm2 2zm0-1zm0-8zm1 0zm0 3zm0 6zm0-10zm0 1zm1 4zm0 4zm0-6zm0 5zm1 2zm0-10zm1 4zm0 6zm0 0zm1 0zm0 1zm0-5zm0 2zm1-6zm1 5zm0-1zm0 2zm0-2zm0 2zm1-5zm0 4zm0-6zm0 2zm0 0zm1-1zm0 8zm1-1zm0-2zm0-1zm0 5zm1-6zm0 5zm0-6zm0 1zm0-1zm0-4zm0 0zm1 8zm0 1zm1-4zm0 3zm1-7zm0 5zm2 0zm0 0zm1 5zm0 0zm1-1zm1-5zm0 1zm0-3zm0 0zm1 5zm1 2zm0-6zm1-4zm0 3zm1 6zm0-5zm0 4zm0 2zm1-4zm0-1zm0 6zm1-7zm0 4zm1-3zm0 4zm1-5zm0 0zm1 5zm1-9zm0 6zm2 1zm0 0zm1-4zm0 2zm0 6zm1-8zm0 5zm2-9zm0 8zm0 2zm1 1zm1 0zm0-7zm2 6zm0-10zm0 11zm0-2zm3-6zm1 4zm1 2zm4 1zm4 1zm1 12zm-2-3zm-1 1zm0-1zm-2-3zm0-3zm0 0zm-2 6zm-1-7zm0 6zm-1-3zm0 0zm-1 6zm0-8zm0 7zm0 1zm0-1zm-1 2zm0-1zm0-6zm0-2zm0 4zm0 3zm-1-7zm0-2zm0 2zm0 10zm-1-12zm0 11zm-1-2zm0-6zm-1-2zm0 1zm0 10zm-1-7zm0 1zm0 2zm0-2zm0 3zm0-8zm-1 1zm-1-2zm0 5zm0 6zm-1-3zm0 1zm0-7zm0 5zm0 4zm0 0zm0-1zm0 0zm-2-7zm0 2zm0-2zm0-2zm-1 7zm0-7zm0 5zm-1 5zm0-8zm0 2zm-1 6zm0 0zm0-7zm-1 2zm0 5zm-1-4zm0-6zm0 11zm0-3zm-1 2zm0-8zm0 0zm0 3zm0-5zm0 9zm-1-3zm0-2zm0 0zm0 4zm0 0zm0 0zm-1-6zm0 5zm0 1zm-1-7zm0 4zm-1 1zm0-5zm0 1zm0 7zm0 1zm0-5zm-1 4zm0-3zm0-5zm0 4zm0-4zm0 1zm0 6zm0-7zm0 4zm-1 6zm0-4zm0-6zm0 5zm-1-6zm0 7zm0-4zm0 6zm0-1zm-1-9zm0 6zm0 3zm-1-2zm0 2zm-1-4zm0 1zm0-3zm0-1zm0 5zm0-5zm-1 4zm0 1zm0-3zm0-1zm0 5zm-1-7zm0 1zm0 8zm-1-8zm0 5zm0 4zm0-8zm0 4zm-1-3zm0-4zm0 12zm0-8zm0 3zm0 4zm0-8zm-1 5zm0-8zm0 9zm0 1zm0 0zm0-2zm0-1zm0 2zm-1-6zm0 0zm0-1zm0 9zm0-5zm-1 3zm0-6zm0 1zm0-4zm-1 1zm0 5zm0-4zm-1 4zm0 0zm0 0zm0 5zm0-4zm0 3zm-1-4zm0 3zm0 0zm0 0zm0-9zm0 6zm0-4zm0 7zm0-6zm-1-2zm0 9zm0 2zm0-6zm0 6zm-1 0zm0-12zm0 8zm0-1zm0 3zm0 2zm0-7zm0 3zm0-2zm0 2zm0-5zm-1 5zm0 2zm0-7zm0 4zm-1-1zm0 1zm0 3zm0-9zm0 1zm-1 5zm0-2zm0-1zm-1-3zm0 11zm0-2zm0-9zm-1 10zm0 0zm0-3zm0-2zm0-5zm-1 8zm0 2zm0-1zm0-6zm0 0zm0 0zm0 7zm0 1zm-1-1zm0-2zm0 3zm-1-8zm0 0zm0 6zm0-9zm-1 8zm0-4zm0 3zm0-2zm0 2zm-1 1zm0-1zm0-1zm0-5zm0 0zm-1-2zm0 12zm0-10zm0 3zm0 4zm0-1zm-2-7zm0 7zm0-2zm0 4zm-1-9zm0 6zm0 1zm-1-2zm0 0zm-1 1zm0 4zm-1-7zm0-4zm0 7zm0-3zm0 2zm-1 0zm-1 1zm0-6zm0 4zm-1-1zm0 3zm-2 5zm-1-10zm0 8zm0-8zm0 5zm-1 3zm-2-8zm0 6zm0-3zm0-3zm-2 0zm-1 4zm-1 3zm-1-4zm0 3zm-1 2zm-2-7zm-1 2zm0 5zm-1-5zm-3 3zm0-2zm0-4zm-3 3zm-1-3zm-4 2zm-1 1zm-4-2zm-10 8zm-4-4zm-1 2zm-5-6zm-58 8zm-5-9zm-5 5zm40 17zm19-10zm22 0zm0 8zm1-2zm19-2zm0-4zm2 5zm0-5zm1-1zm1 4zm0 1zm0 1zm1-5zm0 9zm2-3zm0-8zm2 3zm1 4zm1 1zm0 2zm1-9zm0 2zm1 0zm2 2zm0 0zm0-3zm1 6zm0 3zm0 0zm0-10zm1 3zm0 2zm0-3zm0 7zm1-10zm0 5zm0 4zm0-1zm1 0zm0-4zm0-2zm1 7zm0-4zm1-5zm0 10zm1-2zm0 3zm0-9zm0 5zm0 4zm1-1zm0-3zm0-6zm0 2zm0-2zm1 10zm0-2zm0-3zm1-6zm1 6zm1 0zm0 5zm1-2zm0-4zm1 4zm0-7zm1-1zm0 2zm1 7zm0-7zm0 1zm0-1zm0 3zm1-1zm0-3zm0 7zm0-1zm0-4zm1 2zm0 5zm1-9zm0 7zm0-3zm1 5zm0 0zm0-3zm0-6zm0-2zm0 5zm0-5zm0 3zm1 3zm0 4zm0 1zm0-6zm0-4zm0 4zm0-5zm1 2zm0 2zm0 6zm0-8zm0 9zm1-9zm0 9zm1-8zm0 8zm1-7zm0 6zm0 2zm0-12zm1 6zm0-6zm0 5zm1 4zm0 1zm0-5zm0 1zm0 3zm0-1zm0 3zm0-10zm0 5zm0-3zm1-3zm0 10zm0-10zm0 8zm0 1zm1-8zm0 3zm0-2zm0 6zm0 2zm0-8zm0 4zm0 2zm1-2zm0 3zm1-2zm0-1zm0-2zm1 2zm0 3zm0-1zm0 0zm0 1zm0-1zm0-6zm1-1zm0 2zm0 0zm0 8zm0 0zm0-11zm1 8zm0-3zm0 2zm0 2zm0-6zm0 6zm0 0zm1-7zm0 5zm0-4zm1-3zm0 3zm0 1zm1 1zm0 1zm0-5zm0 5zm0 4zm0-5zm0-4zm1 10zm0-7zm0 0zm0 1zm0 5zm0-3zm1-5zm0 0zm0 1zm1 0zm0-2zm1 4zm0 3zm0-4zm0-4zm0 7zm0 3zm0-3zm1-7zm0 5zm0 4zm0-5zm1-3zm0 10zm0-4zm0 2zm1-6zm0-1zm0 7zm0-6zm0 1zm1-1zm0 0zm0 0zm0-1zm0 2zm1 5zm0 1zm0-4zm0 3zm1-8zm0 4zm0 5zm0-8zm0 3zm0-5zm0 11zm0-6zm0 2zm1-3zm0-3zm1-1zm0 8zm0-1zm0-5zm1 6zm0-7zm0 9zm1-6zm0 8zm0-2zm1 0zm0 1zm0-3zm0-8zm0 12zm1-7zm0-3zm1-2zm0 6zm0 4zm0-6zm1-3zm0 10zm0-8zm1 0zm0 2zm0-3zm0 6zm0-3zm2 5zm0-7zm0 8zm1-5zm0 4zm0-7zm1 7zm0-5zm1-2zm0 3zm1 2zm1-2zm0-2zm0 1zm1 0zm1 0zm2 3zm1-3zm1-4zm1 0zm0 0zm1 0zm1 7zm1-4zm1 2zm2 9zm-3 6zm-1-3zm-1-3zm-2-2zm-3 5zm0-4zm-2 10zm0-10zm0 6zm-1-7zm0 6zm0-3zm-2 2zm-1 5zm0-10zm-2 0zm-1 6zm-1 1zm0-4zm0-2zm-2 2zm-4-4zm-2 1zm0-1zm-1 5zm0 7zm-1-12zm-1 6zm0-3zm-2-3zm0 5zm0-2zm-2 6zm0-5zm0 0zm0 2zm-1-3zm0-3zm-1 5zm0 4zm0-3zm0-5zm-1 0zm0 8zm-1-7zm0 4zm-1 4zm0-3zm0-3zm0 1zm0 0zm-1 2zm0-6zm-1 0zm-1 3zm0-3zm-1 0zm0 2zm0 1zm-1 5zm0-5zm0-2zm0 6zm-1-7zm0 4zm0 3zm0-6zm0 1zm-2-3zm0 6zm0 2zm-1-5zm-1 9zm-1-11zm0 2zm0 5zm0-4zm0 3zm-1-2zm-1 4zm0-7zm0 0zm0 0zm-1 4zm0-4zm-1 0zm-1 9zm-1-8zm0 6zm0-1zm0-2zm-1 4zm0-9zm-1 0zm0 0zm0 0zm-1 2zm0-2zm0 5zm-2-6zm0 3zm0 4zm-1-5zm0 4zm0 0zm0-5zm0 4zm-3 3zm0-7zm-1 8zm0-8zm-5 1zm-1 0zm0 3zm-1 4zm0 2zm-1-1zm0-1zm-1-6zm0 4zm-2-6zm-1 9zm-2-1zm-2-5zm-3-1zm-1 7zm0-3zm-1 5zm-4-6zm-2 6zm-1-3zm-2-7zm-1 2zm-5 0zm-73 3zm49 14zm2-2zm2 4zm2-10zm9 7zm10-6zm5-1zm6-1zm2 9zm1-3zm1-4zm1 2zm2-2zm0-1zm8 7zm4-1zm2-1zm2-5zm0 0zm3 6zm2-6zm3 9zm4-4zm0 0zm1-4zm1 7zm1-8zm0 1zm4 5zm0 2zm1-9zm3 8zm0-6zm4 2zm2-2zm4 3zm1-2zm0 3zm4-5zm0 6zm1-6zm1 3zm1 0zm1 5zm0-3zm8 5zm4-4zm2-3zm2-4zm5 10zm-13 8zm-6 1zm-7 3zm-1-9zm-1 6zm-15-4zm-3 8zm-1-11zm-4 1zm-7 5zm-42-2zm-7-1zm-19 0zm-6 7zm-7-4zm-10-5zm-26 8zm-3-7zm-3 1zm0 13zm51-1zm13 1zm56-3zm34 0zm31 3z"/><path stroke="#c4851f" stroke-width="3.3" d="M1962 1264zm-2 3zm11 5zm0 4zm4 0zm4-9zm5 8zm0-2zm3-2zm2 4zm1-6zm1 6zm2-2zm1 3zm0-7zm2 5zm5 3zm23 12zm-3-10zm-4 7zm-11-2zm0 3zm0 0zm-1-7zm-2 4zm0-2zm0-1zm-1 8zm0 1zm0-4zm-1-4zm-1 4zm-1 4zm-4-2zm0-9zm-7 5zm-2 3zm0-6zm-2-2zm0 3zm-1 5zm0 2zm-1-6zm-3 6zm-1-7zm-8 7zm-1-5zm-2-3zm-3 4zm-1-3zm-26 20zm6-1zm0-5zm17 0zm6-5zm6 10zm1-5zm3 5zm1-1zm1-1zm0 3zm4-8zm1 6zm0-3zm1 4zm7-7zm4 6zm2-10zm3 1zm2 10zm1-8zm1 6zm2-8zm3 9zm0-4zm1 5zm6 0zm6 3zm-9 5zm-4-5zm-6 8zm-2 0zm-1-9zm0 10zm0-7zm-2 0zm-1-1zm-5-2zm-2 5zm-1-4zm-3 5zm0-1zm-1 4zm0-10zm-1 9zm-1 2zm-1-3zm-1-8zm0 7zm-4-2zm-1 6zm-8-9zm-2 2zm0 5zm-4-3zm-3-1zm-1-4zm-2 7zm-2-5zm0 7zm-3 2zm-1-4zm-1 3zm-2-1zm-24 2zm-6 9zm8-4zm12 1zm6-4zm2-1zm9 0zm3 3zm0 7zm2-10zm4 6zm5 4zm3-9zm3 7zm0-2zm0 1zm3-6zm2-1zm1 4zm0-1zm2 2zm1-5zm1 1zm0 1zm7 6zm0-7zm4 9zm1-4zm1-5zm1 3zm15 3zm2-2zm-8 7zm-18 3zm0 0zm-3-1zm0 9zm-1-7zm-2 1zm-3-2zm-4 8zm-1-8zm0 8zm-3-6zm-5 5zm-1-11zm-3 9zm-4 0zm-1-5zm-1 2zm-4 2zm-2-4zm-3 5zm-1 3zm-1-3zm-1-2zm0-5zm-4 10zm0-11zm-5 11zm-4-8zm-12 2zm-140 2zm23 8zm12 6zm74-1zm8-5zm4 8zm18-10zm10 9zm2-10zm1 5zm10-6zm4 3zm5 8zm1-4zm4-6zm0 7zm2-5zm0 8zm1-8zm1-2zm0 9zm3 0zm2-1zm0-4zm3 0zm3 2zm1-1zm1-2zm1-3zm6 2zm0-1zm1 9zm0-9zm5 0zm24 7zm1-3zm-3 10zm-1-1zm-1 3zm-8-2zm0 4zm-4 1zm0-8zm-15 5zm0-3zm-1 2zm-2 4zm0-6zm-2 9zm0-3zm-1-8zm-5 2zm-1 1zm-1 0zm-1 6zm-3-1zm-1-5zm-1 4zm-1-5zm0 0zm-1-1zm-1 1zm-4 7zm-1-2zm0-2zm0-4zm-2 3zm-2 2zm-3 4zm-1 0zm-1-3zm-1 0zm0 3zm-2 1zm0-3zm-1-3zm0 5zm-1-7zm0 6zm0 2zm-1 0zm0-5zm-6-4zm0 4zm-5 3zm-1-4zm-16 0zm-2 2zm-1-6zm-24 3zm-1 4zm-92 0zm-9 10zm6-3zm68 8zm15-12zm17 4zm30-3zm2 8zm10-2zm4 0zm1-7zm2 0zm6 5zm0-3zm1 4zm1 0zm2 5zm3-4zm2-1zm2-1zm6-1zm1-2zm1 1zm1 1zm0-2zm1 1zm3 5zm0 0zm1-7zm2 4zm1 5zm1-3zm2-3zm7-2zm0-2zm4 10zm5-8zm-22 11zm-3 0zm-4 8zm-1 2zm0-9zm-4 8zm-1 0zm-8-6zm-2 1zm0-1zm-1 7zm-1-7zm-4-4zm-1 5zm-4 4zm-1-4zm-2-4zm-8 8zm-2-8zm0 10zm0-7zm-2 7zm0-3zm-3-7zm-4 7zm-2 4zm-2-5zm-2-1zm-2 6zm0-3zm-1 1zm0 1zm-23-6zm-1 5zm-2-3zm-6 1zm-3-2zm-73 3zm60 9zm13 2zm0-3zm4 6zm15-6zm4 4zm3-1zm1-4zm2 1zm2 1zm0 2zm10-7zm0 8zm1 2zm1-7zm1 7zm0-9zm0 6zm2-4zm1 0zm6 1zm0 6zm1 0zm0 0zm1-6zm2-1zm0 5zm8-3zm1-5zm0 1zm2 5zm1 3zm1-7zm2 1zm2 6zm0-6zm0 1zm8 6zm1-8zm1 7zm4-7zm0-2zm1 1zm0 2zm1-2zm0 5zm0 1zm0-5zm5 1zm3-1zm8 8zm8-6zm3 1zm6-3zm5 5zm-29 14zm-1-8zm0-2zm-4 7zm-7 0zm-7-1zm-1 6zm-3-8zm-6-3zm-2 7zm-7 3zm-1-6zm-1 2zm-1-3zm-1 1zm-2-4zm-1 9zm-2 1zm-2-6zm0-4zm-3 6zm-1-1zm-3 4zm0-10zm-1 9zm-2-8zm-1 7zm-1-8zm-1 7zm-3-4zm0 8zm-2-3zm-3-2zm-1-2zm-3 7zm0-8zm-1 5zm0 2zm-5-5zm-2 7zm-5-4zm0 0zm-1 2zm0-4zm-1-4zm-7 2zm-3-1zm-2 7zm-8-3zm-31 3zm-78 5zm53 8zm14-1zm7-2zm4 4zm7-5zm5 3zm1-3zm2-3zm1 7zm2 0zm1-9zm2 8zm1-7zm3 1zm4 3zm2 0zm1 3zm3-1zm4-3zm4 3zm0-3zm2 2zm1 0zm0 0zm1 1zm2-8zm1 1zm5 5zm2 3zm0-1zm1 0zm1-4zm1 6zm1-6zm1 3zm1-7zm1 8zm0 2zm1 0zm3-11zm0 4zm1 0zm0 4zm1-2zm1-4zm0 10zm2-1zm1 0zm0-10zm1 1zm0 0zm1 6zm3-5zm0 8zm1 0zm3-10zm0 8zm0 2zm3-9zm1 8zm5-5zm0 2zm3-3zm1 3zm2-6zm0 6zm6-2zm1 6zm0-6zm0-1zm0-3zm9 2zm7 4zm17-6zm5-1zm18 9zm-30 9zm-1 0zm-13 3zm-2-8zm-6 5zm-1-4zm-2-1zm-2 3zm-1-2zm0 1zm-2 7zm-1-9zm-3 0zm-1 4zm-2-4zm-2-1zm-1 3zm0 8zm-1-6zm-2 2zm0 1zm-1 3zm0 0zm-1-7zm-1-1zm-2 1zm-2 4zm-1-4zm-1 3zm0 4zm-1-5zm-1 5zm-3-6zm0 4zm-2-2zm-4 2zm-2 0zm-2-2zm-1-1zm-1 4zm-3 0zm0-5zm0-3zm-1 4zm0 4zm-1-5zm0 4zm0 2zm-1-2zm-1-7zm-3 0zm0 7zm-1-7zm-1 8zm-1 1zm-2-3zm0-5zm-1 0zm0 4zm-1-5zm-1 9zm0-3zm-2-8zm0 11zm-2-2zm0 1zm-1-8zm-2 7zm-3-1zm0-6zm0 0zm-1 8zm-2-4zm0 5zm-3-5zm0 0zm-3 4zm-1-6zm-2-1zm0 7zm0 1zm-1-5zm0 2zm-1-3zm0-5zm-3 7zm0-1zm-4 4zm-1 1zm-2-7zm-2 2zm-1 5zm-7-6zm-5 6zm-4-6zm-8-2zm-5 7zm-13-5zm-37 17zm2 2zm0-1zm14-3zm1-7zm2 7zm4-1zm2 5zm4-5zm1 3zm4-10zm4 7zm2-6zm4 1zm2 4zm0 1zm8 1zm3 3zm5 0zm2-1zm0-2zm0 3zm1 0zm3-6zm0 1zm2 0zm3-2zm0 7zm1-3zm1-6zm1 8zm2-6zm0 4zm2 2zm1 0zm2-7zm1 2zm0-1zm0 5zm1-1zm1-3zm1-3zm2 7zm0 1zm0-3zm1-5zm1 4zm1-3zm1 2zm1-3zm0 7zm1 0zm0-8zm0 8zm1 0zm1-5zm0-3zm1 7zm1 3zm1 0zm0-2zm1-6zm1 5zm1-6zm0 0zm0 8zm1-5zm1 0zm0 3zm2-1zm0-3zm0 3zm1 2zm1-7zm0 7zm1-7zm0-1zm2 11zm1-2zm1-1zm0-3zm1 0zm1 4zm1-8zm0 2zm1 3zm0-7zm0 8zm0 2zm1-9zm0 8zm2-2zm0 0zm1 2zm0-6zm1 0zm2 5zm0-1zm1-7zm1 4zm0 5zm1-8zm0 9zm0 0zm0-6zm0 3zm1-6zm0 5zm0-1zm0-2zm1 4zm0-5zm0 6zm1 4zm0-5zm1 4zm1-1zm0-2zm0-7zm1 6zm0-4zm1-2zm1 6zm0-4zm1-2zm2 0zm1 2zm1 0zm1 4zm1-3zm0 6zm5-5zm3-4zm2 1zm0 2zm0 2zm1 2zm1-6zm1 1zm1 6zm0-1zm3-8zm2 6zm3 6zm1-1zm5-2zm1-7zm5 3zm4-1zm7-2zm-19 18zm-5-6zm-3 1zm-5 7zm-1-4zm-4 5zm-1-3zm-3-4zm-1 5zm0 2zm-1 1zm-2-5zm-1 3zm-1-8zm-1 6zm0-2zm-1-5zm0 8zm-2-8zm0 9zm-1-6zm-3 5zm-1-3zm-1-3zm0-2zm-1 5zm-1 0zm-1-3zm-3 0zm-1 0zm-1 2zm-1 4zm0 1zm0-5zm-1-3zm0 7zm-3-8zm-1 11zm0-8zm-1-3zm-1 0zm-1 6zm-1 0zm-1-7zm-1 5zm0-2zm-1 1zm0-2zm0 3zm-1 0zm0 7zm-1-3zm0-6zm-2-1zm0 8zm0-3zm0-6zm-1-1zm0 4zm0-3zm-1 0zm0 0zm-2 6zm0-6zm-3 6zm0 3zm0-10zm-1 10zm-2-5zm0-5zm-1 6zm0 0zm-2 2zm0-3zm-2-2zm-1-1zm-1 9zm-2-5zm-1 4zm0-4zm-1-4zm0-2zm-2 11zm0-5zm-2 5zm-4-10zm-1 6zm-1-2zm-1 1zm-2 4zm0-7zm-1 3zm0 6zm0-2zm-1-9zm-1 10zm-1 0zm0 0zm-1-2zm-1-7zm-3 3zm-1 5zm-2-3zm-1-5zm-4 5zm-2-7zm-1 6zm-3 0zm0 4zm0-8zm-3 8zm-1-4zm0 4zm-3-1zm-3-8zm-3-1zm0 12zm-1-7zm-3 4zm0 0zm-2-4zm-1-2zm-2 4zm-4 3zm-1 1zm-4-11zm-3 4zm-10 5zm0-2zm-2 2zm-6-8zm-5 8zm-6 1zm-3 2zm7 10zm1-8zm4 0zm5 1zm1 6zm2-5zm4-4zm3 11zm1-6zm5 1zm1 5zm6-5zm3 4zm1-1zm0-7zm2 4zm2 0zm2 2zm9-4zm2 3zm2 3zm2-7zm1 8zm0-8zm0-2zm1 1zm1 0zm3 0zm3 7zm0-3zm1 0zm2-4zm2 8zm2-5zm1-3zm2 5zm0 0zm1-4zm1 2zm1-4zm1 3zm3-2zm1 1zm0-3zm2 6zm1 1zm1 2zm3-1zm0 1zm1-7zm1-1zm1-1zm0 9zm3 2zm2-3zm4-3zm0 2zm1-5zm0 4zm2 0zm1-3zm1 3zm1-5zm0-1zm5 11zm0-10zm1 7zm1 1zm1-2zm0-3zm1 7zm3-10zm0 1zm0 3zm1 4zm0-2zm3 4zm1-10zm0-1zm3 7zm0-2zm2-3zm1 4zm1-4zm0 2zm0-1zm0 7zm2 1zm2-3zm3-3zm2-4zm4 8zm11 3zm3-4zm5-3zm5 4zm1-7zm-26 14zm-4 6zm-1-8zm-1-1zm-6 3zm-2-1zm-2 5zm-4-5zm-1-1zm-3-1zm-2 2zm-4 3zm-1 2zm-4-2zm-2-5zm-1 11zm-3-5zm-2 0zm-3 2zm-1-1zm-3-4zm-1 2zm0-3zm-1 5zm-1-7zm-4 8zm-2-2zm-1-4zm-2 2zm-1 6zm-4-1zm-1-10zm-2 7zm0 1zm-4-6zm0 1zm-1 4zm-1 3zm-2-10zm-1 6zm-4 5zm-4-7zm-1 3zm-2-6zm-1 4zm0-1zm-2 2zm0 2zm-2 0zm-1-5zm-5 0zm-4 7zm-1-5zm-3 6zm-1-9zm-1 1zm-2 8zm-4-6zm0-5zm-1 6zm-1-4zm0 6zm-5 2zm-2-7zm-9-2zm0 8zm-1-9zm-2 4zm0 2zm-1-3zm-4 9zm-1-3zm6 11zm1-8zm0 1zm1 4zm7 1zm1 3zm2-7zm3 1zm1 0zm2 4zm1-7zm3 7zm2-4zm1 8zm0-4zm3-4zm1-1zm0 5zm6-5zm2 2zm1 1zm0 0zm2 1zm1 2zm3-7zm2 8zm8-4zm5 1zm10-3zm13-1zm4 3zm32-5zm-14 16zm-7 3zm-13-6zm-13 6zm-16-3zm0 2zm-24 0zm-1 5zm-2-7zm-8-3zm-6 11zm-1-9zm-3 1zm-3 3zm-2 5zm-2-10zm2 18zm4-7zm4 2zm6-1zm24 5zm0 0zm5-3z"/><path stroke="#fc1a7e" stroke-width="3.3" d="M1654 1417zm2-2zm4 1zm13-1zm12 5zm22-1zm1 6zm-14-3zm-25 3zm-4 6zm-3-7zm0 1zm-9 7zm-5-4zm-1 14zm0 3zm18-8zm10 1zm2 3zm0-2zm9 1zm1 1zm5 1zm3 3zm12-6zm2 6zm1-5zm10-3zm19 8zm16 12zm-6-5zm-5 5zm-13-5zm-6 1zm-20-6zm-10 6zm-1 2zm-7 1zm-1-8zm-8 0zm0 5zm-13-5zm-2 8zm-11-10zm-79 3zm80 17zm15 2zm5-7zm3-1zm3 1zm14 0zm12 9zm3-9zm1 8zm1-2zm2-6zm6-1zm3 2zm8 4zm0 2zm6-8zm1 8zm1-7zm2 4zm0 3zm1-10zm1 5zm1 0zm2-2zm0 4zm3-2zm8 1zm6-5zm10 9zm6-1zm16 1zm7 2zm4-2zm2-10zm2 11zm5-5zm9 9zm-9 8zm-13 0zm0-8zm-4 4zm-1-5zm-4 5zm0 3zm-1-1zm0 2zm-2-9zm-1 9zm-3 0zm0 0zm0 1zm-1-1zm-1-3zm0 1zm0-5zm-1-3zm-1-1zm-6 4zm-6-4zm-1 2zm-1 10zm-1-1zm0-9zm0 3zm-1-3zm-1 6zm0-5zm0 4zm-1 1zm-1-3zm0 3zm-1-7zm0 0zm-1 1zm0 10zm-2-8zm-1 4zm-1 1zm0-2zm0-4zm-4 3zm0 4zm-1-3zm-3 0zm-1 2zm0 3zm-2-1zm-1-8zm-3 0zm0 4zm-1-3zm-1 6zm-3 2zm-3-11zm-1 2zm-2 0zm-4 2zm0 7zm-1-7zm-2-3zm-1 0zm0 7zm-1-1zm-1 0zm-2 0zm-1-2zm-1 5zm-2-9zm-19 3zm-13 0zm15 11zm4 5zm7 0zm7-1zm5 1zm1-4zm1-4zm3 11zm0-1zm1-7zm1-1zm1 6zm1 2zm0 1zm0 0zm1-6zm0-4zm1 8zm1-2zm1-6zm1 6zm2-3zm0-1zm0 7zm0-4zm3-6zm1 11zm0-2zm1 0zm0-8zm1 0zm1 5zm0-7zm0 8zm0 3zm1-8zm0 0zm1 2zm0 4zm1 3zm1-10zm0 8zm0-9zm1 10zm0-6zm0 7zm0-9zm0 8zm1 0zm0-10zm1 2zm1 7zm1 0zm1-6zm1 2zm0-4zm0 3zm0-2zm1-3zm0 8zm0 3zm1-1zm0-9zm1 5zm0 4zm0-1zm1-4zm0 4zm1 3zm0-9zm0 2zm1 3zm0 0zm0-7zm1 0zm0 4zm0 0zm0-3zm0 4zm0 4zm1 0zm1-2zm0 2zm1-2zm0 3zm0-10zm0 9zm0-3zm1 3zm0 2zm0-10zm1 8zm0-5zm2 4zm0-2zm0 0zm1-4zm1 3zm0-1zm0 5zm1-2zm0 2zm0 0zm0-8zm1 6zm1 0zm0-8zm1 8zm0 0zm0-2zm0-5zm0 10zm0-8zm0 3zm0-5zm1 9zm1-9zm0 10zm1 0zm0-2zm0-2zm0 0zm1 3zm1-5zm0 6zm1 0zm0-2zm0-1zm1-6zm0 4zm1 2zm0-2zm0 0zm1 4zm0-2zm0-4zm0 0zm0 7zm0-2zm0-7zm1 1zm0 0zm0-3zm0 9zm0 2zm1 0zm0-2zm0 2zm0-2zm0 1zm1-10zm0 8zm0-1zm1-6zm1 2zm1 4zm0-1zm0-2zm0 2zm0 5zm0-7zm0 5zm1 3zm2-2zm0-4zm0 2zm0-2zm2 1zm1 4zm1 0zm0 0zm0-6zm0-1zm1 6zm0-4zm0-2zm0 3zm2-7zm1 6zm0 3zm0-6zm0 0zm2 8zm0-6zm0 3zm1-6zm0 7zm1-7zm0 8zm0-3zm0 3zm1-2zm0-6zm1 0zm0 6zm0 3zm2-1zm1 2zm1-7zm0 4zm0-6zm0 8zm1-5zm2 0zm0 4zm1 0zm0-5zm0 7zm0-2zm1-1zm5 3zm3-2zm1-1zm6 2zm9 0zm2 9zm-4 3zm-7 0zm0-8zm-1 5zm0 2zm-1 2zm-1-9zm0 7zm0 1zm0-8zm0-2zm-1 1zm0 9zm0 1zm0-2zm-1 1zm0-1zm-1-7zm0 4zm-1-4zm0 8zm0 0zm-1-1zm-1-7zm0 5zm-1-1zm0 2zm0-8zm0 6zm0 2zm0-5zm-1-1zm0 6zm0-1zm-1 1zm-1 2zm0-9zm-2 2zm0 4zm0-1zm0 2zm0-4zm0 5zm-1-1zm0 1zm0-2zm0 1zm0 2zm0-1zm0-6zm-1 0zm0 3zm0-6zm0 11zm0-2zm-1 0zm0-4zm0-6zm0 11zm-1-7zm0-2zm0 1zm-1 4zm0-2zm0 1zm0-4zm0 7zm0-1zm0-2zm-1-1zm0 2zm0-1zm0-1zm0 1zm0-1zm0 4zm-1 3zm0-2zm0-3zm0-2zm-1 5zm0-2zm0-7zm0 10zm0 0zm0-11zm-1 8zm0 3zm0-5zm0-2zm0 8zm0-12zm0 7zm0-6zm0 11zm-1-1zm-1-10zm0 4zm0 4zm0-5zm0 6zm-1-8zm0 8zm0-5zm0-2zm0 2zm-1 5zm0-1zm0 0zm0 2zm-1 0zm0-1zm0-3zm0-1zm0 6zm0-6zm-1-2zm0 2zm0-3zm0 8zm0-6zm0 6zm-1-8zm0 1zm-1 5zm0-4zm0 0zm0-4zm0 8zm0-8zm0 6zm0 4zm-1-6zm0 2zm0 3zm0 2zm0-6zm0 1zm0-5zm0-1zm-1 8zm0 2zm0-7zm0 2zm0-4zm0 5zm-1-5zm0 9zm0-5zm0 3zm0-3zm0 6zm0-5zm-1-1zm0 1zm0 3zm-1 0zm0-2zm0 3zm0-11zm0 10zm0-2zm0-4zm0 4zm0-6zm0 3zm-1-2zm0 8zm0-1zm0-2zm0 4zm0-9zm0 1zm0 7zm-1-9zm0 9zm0-5zm-1 4zm0 0zm0-4zm0-1zm0-3zm0 2zm0-3zm0 6zm-1 4zm0-6zm0-2zm0 6zm0 1zm0-5zm0 2zm0-6zm-1 7zm0 3zm0-2zm-1-7zm0 3zm0 7zm0-3zm0-9zm0 11zm0-8zm-1 7zm0-1zm0 3zm0-6zm0 4zm0-6zm0 1zm-1 0zm0 4zm0 1zm0-4zm0 3zm-1-2zm0 4zm0-7zm0 0zm0 7zm0-5zm0 2zm0-5zm0 9zm-1-11zm0 8zm0-1zm0-5zm0 6zm0-4zm0 3zm0-2zm0-3zm0 8zm0-8zm-1 3zm0 3zm0-1zm0 0zm0 1zm0-9zm0 1zm0 9zm0-3zm-1-6zm0 4zm0 5zm0 1zm0 1zm0-5zm-1-7zm0 1zm0 4zm0 7zm0-12zm-1 1zm0 4zm0 3zm0-4zm0 4zm-1 3zm0-7zm0-2zm0 6zm0-2zm0 4zm0-1zm0-3zm0-5zm0 3zm0 3zm0 1zm0 0zm-1 1zm0-4zm0 5zm0-1zm0 1zm-1-9zm0 8zm0 0zm0-7zm0 2zm0 3zm0-5zm0 6zm-1-3zm0 4zm0-8zm0 9zm0-6zm0 5zm-1 0zm0-3zm0-3zm0 1zm0 4zm0-4zm0 3zm-1 1zm0-4zm0 2zm0 3zm0 1zm0 0zm0-9zm0 5zm0 0zm0 1zm-1-7zm0 10zm0-8zm0 3zm0-5zm0 4zm-1 1zm0 1zm0 6zm0-6zm0 5zm0-11zm0 11zm0-10zm-1 6zm0-6zm0 4zm0-4zm0 4zm0 5zm-1 0zm0-9zm0 9zm0-4zm0-2zm0-4zm-1 0zm0 7zm0 1zm0-8zm0 6zm-1 3zm0-1zm0-7zm0 10zm0 1zm0-10zm0 4zm0-1zm0 2zm0-5zm-1 8zm0-6zm0 3zm0 0zm0-1zm0 0zm0-2zm-1 6zm0-5zm-1-3zm0 7zm0-4zm0 6zm0-6zm-1 0zm0 1zm0 4zm-1-4zm0 5zm0-10zm-1 9zm0-1zm0-8zm0 7zm0-4zm0 4zm0-3zm-1 0zm0 6zm0-11zm0 7zm-1-1zm0 0zm-1 5zm0-4zm0-4zm0 5zm0 0zm0-3zm0 2zm0 0zm0-4zm0 2zm0-2zm0 3zm-1-4zm0-1zm-1 2zm0 4zm0 1zm-1-5zm0 8zm0 1zm0-4zm0-1zm-1-2zm0 6zm-1-9zm0-1zm0 5zm-1 4zm0-2zm0 0zm0 0zm0-4zm0 5zm-1 3zm0-9zm-1 3zm-2-3zm-1-2zm0 3zm-1 6zm-1-10zm0 11zm0-7zm0 4zm0 2zm0-7zm-1 4zm0-3zm0 7zm0 0zm-1-3zm0-1zm-1 2zm-1-5zm0 4zm-1-2zm-2 6zm0 0zm-1-9zm0 8zm-1 0zm-1-8zm0 7zm0-2zm-1-7zm0 7zm-4-1zm-3-4zm-2 3zm-8 15zm2-6zm0 2zm8 1zm2-1zm2 6zm4-2zm0 0zm0 0zm2 1zm3-3zm1 4zm0-4zm1-1zm1-5zm0 4zm1-1zm1-2zm1 6zm1 3zm0 1zm0-7zm2 1zm1 4zm1-10zm0 1zm1 9zm1-6zm0-4zm1 6zm0 3zm0-3zm0-2zm0 6zm0-6zm1 2zm0-2zm0 2zm1 6zm0-11zm0 5zm0 5zm1-8zm0 4zm0-3zm1 3zm0-2zm0 1zm1 1zm0-1zm0-3zm1 0zm1 3zm0-3zm0 0zm0 8zm1-2zm0-3zm0 0zm0-1zm0-4zm1 3zm0 5zm0-1zm1 2zm0 2zm0-1zm0-10zm1 4zm0-2zm0 0zm1 1zm0 1zm1 6zm0-9zm0 8zm0 0zm1-7zm0-2zm0 10zm0-11zm0 3zm0 3zm1-5zm0 3zm0-3zm0 10zm0-6zm0 5zm1 1zm0-6zm0 6zm0-3zm0 0zm0-7zm0 2zm1 7zm0-5zm0-2zm0 5zm0-5zm0 3zm0-4zm0 8zm1-8zm0 1zm0 2zm0-2zm0 6zm1-2zm0-1zm0 4zm0-10zm0 4zm0 2zm0-6zm0 3zm0 1zm1 4zm0-4zm0 1zm0 3zm0-4zm0 6zm0-10zm0 9zm0-1zm0-7zm0 4zm1-4zm0 9zm1-5zm0-5zm0 3zm0 6zm1-9zm0 1zm0 4zm0 1zm1-4zm1 9zm0-4zm0 0zm0 1zm0 0zm1 4zm0-6zm0-6zm1 3zm0 3zm0-1zm0 0zm0 0zm1 4zm0-3zm0-3zm0 3zm0 2zm0-2zm0 2zm0-6zm1 7zm0-7zm0 3zm0-4zm0 4zm0 0zm0 2zm1-2zm0 1zm0-3zm0 0zm1 4zm0 1zm0 0zm0 3zm0-6zm0 2zm0 1zm0-7zm1 0zm0 1zm0 8zm0-9zm0 7zm1-6zm0-1zm0 2zm0-1zm0 6zm0 3zm0-10zm1 6zm0 5zm0-8zm0-2zm0 10zm0-8zm0 2zm0-4zm0-1zm1 6zm0 4zm0-6zm0 0zm0-1zm0 3zm0-3zm0 5zm0-8zm1 4zm0-4zm0 1zm0 8zm0-4zm0 1zm0 5zm0-6zm0-4zm0 6zm1-8zm0 6zm0-4zm0 6zm0-4zm0-1zm1-3zm0 7zm0-5zm0-1zm0 5zm0-4zm0 6zm0-5zm1-1zm0 7zm0 2zm0-6zm0 4zm1 0zm0 2zm0-5zm0 2zm0-6zm0 0zm0 6zm0-6zm1 0zm0 7zm0-7zm0 1zm0 7zm0-3zm0 3zm0 0zm0-9zm0 1zm0-2zm0 9zm0-4zm0 2zm1 2zm0-2zm0-5zm0 7zm1-4zm0 4zm0-5zm0-1zm0 2zm0-4zm0 6zm0 1zm0-3zm0 6zm1-3zm0-3zm1-2zm0-2zm0 4zm0 6zm1 0zm0-5zm0 2zm0-5zm0 2zm1 2zm0 2zm0-2zm0-6zm0 2zm0-2zm0 1zm1 5zm0 2zm0-8zm0 8zm1-6zm0 4zm0 0zm0-4zm0 7zm1-3zm0-7zm0 9zm0 3zm1-1zm0-3zm0-6zm0 9zm0 0zm0-8zm0 3zm0 1zm1 0zm0-4zm0 7zm0-7zm0 4zm0-5zm0 1zm0 2zm0 1zm0 1zm1 2zm0-8zm0 6zm1 1zm0-6zm0 5zm0 2zm1 0zm0-5zm0 5zm0-7zm0 3zm0 3zm0-7zm0 1zm1 1zm0 1zm0 2zm0-3zm0 8zm0-8zm0 9zm0-9zm0 7zm0-8zm0 8zm1-4zm0-1zm0-3zm0 9zm1-9zm0 1zm0 6zm1 1zm0 0zm0-6zm0-2zm0 0zm1 0zm0 7zm0-4zm0 1zm0-2zm0-3zm0 6zm0-5zm0 10zm0-10zm1 8zm0 2zm1-6zm0 5zm1-9zm0 9zm0-2zm0 1zm0 0zm1-1zm0-7zm0 3zm0-3zm1 10zm0-12zm0 1zm0 0zm1 1zm0 1zm1 4zm0-7zm0 6zm0-1zm1-1zm0 5zm0-2zm1-1zm0-5zm1 9zm0 1zm1-1zm0-4zm0-6zm1 11zm0-4zm1 1zm0 0zm0 3zm0-9zm0 3zm2 0zm0-2zm0-1zm0-1zm0-1zm0 7zm1-3zm1 4zm0-7zm1 5zm1 2zm0-7zm0 8zm2-4zm1-1zm0 6zm1-6zm1-2zm0 0zm1-2zm0 4zm1 6zm0-9zm0 15zm-4 4zm0 1zm-2-2zm-1-6zm-1 2zm-1 2zm-1 1zm-1-3zm0 2zm-1 0zm-1 5zm0-7zm0 1zm-2 4zm0-6zm-2 3zm0 0zm-1 6zm0-7zm0-4zm0 7zm0 1zm-1-5zm0 8zm-1-9zm-1 8zm-1-6zm-1 8zm0-6zm-1-4zm0-1zm-1 7zm0-7zm0 10zm-1-10zm0 4zm-1 4zm0-4zm-1 6zm0-7zm-1 0zm0-1zm0-2zm-1 1zm0 2zm0 2zm0-3zm-1 0zm0 4zm0 0zm-1-3zm0-2zm0 0zm-1 4zm0-5zm0 2zm0-1zm-1 9zm0-1zm0-9zm-1-1zm-1 5zm-1 1zm0 2zm0-7zm-1 4zm0 2zm0-6zm0 2zm0 2zm-1 5zm0 0zm0-8zm0-1zm-1 1zm0 4zm0 0zm0 5zm-1-4zm0-3zm0-3zm0 0zm0 0zm0 3zm-1-3zm0 3zm0-2zm0 8zm-1-5zm0-5zm0 2zm0 2zm0 0zm-1 6zm0-10zm0 1zm0-1zm0 2zm-1-2zm-1 5zm0 6zm-1-10zm0 0zm0 0zm0 0zm-1 4zm0 3zm0-5zm0-2zm-1 1zm0 2zm-1 3zm0-3zm0-2zm0 0zm-1 5zm0-4zm0 4zm0-2zm-1-4zm0 2zm0 2zm-1 5zm-1-2zm0-3zm0-3zm-1 6zm0-2zm-1 4zm0-9zm0 2zm-1 2zm-1-3zm-1 5zm0-4zm0-2zm0 3zm0-3zm0 0zm-1 7zm0-5zm0 3zm-1 4zm-1 1zm0-10zm-2 0zm0 6zm-1-2zm0-5zm-1 9zm0-8zm-1 3zm-1 7zm0-8zm-1 6zm-1-7zm0 3zm0 5zm0-3zm-2 1zm-1 0zm-1 2zm0-1zm0-4zm0-2zm0 3zm0 2zm-2-4zm0-2zm-1 2zm-1 2zm0-5zm-1 1zm-2 1zm-1 2zm-1 1zm-1-3zm-1 4zm0-6zm-1 0zm-4 0zm-5 8zm-3-9zm0 2zm-7-1zm0 4zm-5-4zm-5 10zm-1-5zm22 10zm11-2zm0 5zm12-1zm2-5zm16-1zm1 2zm6 1zm2-1zm4-1zm6 0zm1-1zm3 3zm14-2zm8 2zm5-2z"/></g><path d="M1676 1255C1668 1290 1664 1330 1668 1370C1675 1425 1712 1465 1772 1474C1850 1476 1930 1430 1965 1360C1985 1320 1988 1290 1987 1262" fill="none" stroke="#3b75a7" stroke-width="2.8"/><g font-family="Liberation Sans, Arial, Helvetica, sans-serif" font-weight="bold"><text transform="translate(1707.1 1183.8) scale(1.057 1)" font-size="34.2">Slingshot curve</text></g><g fill="none" stroke-linecap="round"><path stroke="#45085b" stroke-width="3.4" d="M1702 1661zm4 11zm-1 1zm0-9zm-10-1zm-7 7zm-11-4zm-37 6zm-5-5zm-65 9zm39 9zm55-2zm11 0zm0-4zm15-4zm19 2zm0 3zm2 5zm16-5zm0 4zm11-3zm41 7zm-3-1zm-12 8zm-1 2zm-3-10zm-1 4zm-1 2zm-2 1zm-18-3zm-5 1zm-1 4zm-3-8zm0 0zm-8 9zm-5-10zm-1 9zm-2-4zm-1 2zm-1-6zm0 7zm0 0zm-1-6zm-1 3zm0-2zm-1 5zm0-3zm-2 3zm0-3zm-10-2zm-1-3zm-4 9zm-1-2zm-2 3zm-3 0zm-3-2zm-6 0zm-5 2zm-3-5zm-2 4zm-3-9zm-49 10zm-21 0zm-8 11zm5-2zm15-1zm4 2zm20 2zm15-5zm10 3zm0-4zm4 2zm6 2zm6-2zm0-1zm0 3zm0-6zm2 8zm0 0zm1-8zm0 2zm1-2zm2 2zm0 2zm0 4zm5-2zm2 2zm0-2zm2 1zm1 2zm1-8zm0 5zm1-9zm0 1zm1-1zm3 10zm0 0zm2-4zm5-1zm1-5zm1 1zm2 3zm3 0zm2 0zm0-2zm1 3zm0 0zm3-3zm3 10zm0-11zm4 3zm0-2zm1 9zm0-6zm0-5zm9 10zm0-7zm3 7zm1-4zm2 5zm1-4zm1 0zm8-4zm6 0zm1 5zm2-3zm2 4zm7-7zm5 7zm12-7zm11 16zm-26-3zm-9 2zm-1 2zm-2-6zm-1 3zm-3 4zm-1-4zm-2 3zm-4 2zm-14-8zm-1 2zm-2 5zm0-4zm-1 5zm0 2zm-1-7zm-1 0zm0-4zm0 4zm-1 5zm0 2zm-2-1zm-1-5zm0 2zm-1-5zm-1 7zm0-3zm-1 2zm-3 1zm-1-5zm0-1zm-2 3zm0-5zm0 1zm-1 10zm-2-8zm-3 2zm-1 4zm-1-4zm-2-2zm-1-1zm-3 6zm0-2zm0 3zm-1-1zm-2-5zm-1 7zm-1-3zm0-4zm-1-1zm0 0zm0 6zm-1-5zm-1 6zm0-8zm-1 8zm-1 1zm0-10zm-2 3zm0 3zm-1-7zm-3 10zm-1-7zm0 5zm-1 0zm-4 2zm-2-8zm-2 6zm-4 3zm-5-8zm-1 9zm-2-2zm0-9zm0 4zm-1 1zm0-1zm-3 6zm-4-3zm-11-1zm-11-4zm-30 6zm-6 0zm-15 12zm14-7zm32 7zm12-4zm2-4zm3 1zm1 4zm1 0zm0 4zm1-9zm0 8zm1 0zm2 0zm0 2zm7-3zm0-7zm2 7zm3-3zm1-4zm1 10zm1-5zm0 3zm3-3zm4 0zm2 0zm0 3zm2-3zm1 5zm3-8zm2 6zm0 1zm0-1zm1-4zm1-4zm1 0zm1 5zm1 4zm0-10zm1 5zm2 0zm2 3zm5-6zm2-1zm0 2zm1 2zm0-2zm0 2zm1 1zm2 3zm1-9zm0 11zm2-5zm0-5zm2 0zm1 9zm0-7zm0 3zm1 2zm0 0zm0-5zm1 2zm1 5zm1-5zm0-4zm2-1zm1 4zm0-1zm1 4zm0 3zm1-10zm0 7zm1 5zm4-3zm1-1zm1-1zm7-5zm0 1zm2 9zm0-2zm1-6zm0 5zm0 2zm1-11zm1 1zm2 8zm1-3zm2 5zm0-1zm0 0zm1 1zm1-3zm3 3zm5-5zm1 6zm2-8zm2-2zm1 1zm1 2zm1 5zm1-8zm2 6zm0-3zm2-2zm2 4zm2 1zm8 0zm5 9zm-1 4zm-1-3zm-3-4zm-9 6zm-8-4zm-2-3zm-1 10zm0-5zm-4 4zm-1-6zm-1 7zm-1-11zm-1 10zm-3-9zm-1 5zm-8 1zm-1 1zm-1 0zm-3 0zm-13 4zm0-5zm-1 4zm-1-6zm0-3zm-2 0zm-1 9zm-1-1zm0-5zm-1-4zm-1 0zm-3 5zm0-2zm-1 2zm-1 5zm0-10zm0 3zm-1 2zm0 5zm-2-10zm0 6zm-1-6zm-1 2zm0 7zm-1-9zm-2 1zm-1 8zm0-8zm-2 3zm-1-4zm-2 5zm-5 6zm0-10zm-3 4zm-1-6zm-1 4zm-4 0zm-1 6zm-1-1zm-1-1zm-1-5zm-1 1zm-4 0zm-3-1zm-1-2zm-1 9zm-1-2zm0 2zm-4-8zm-10 8zm-10-4zm-2-4zm-72 3zm-6-1zm-6 1zm25 11zm32-4zm8 11zm13-11zm3 5zm2 0zm3-3zm1 1zm15-1zm5 10zm3-10zm2 6zm1-3zm1-1zm1 2zm1 3zm1-8zm4 5zm9-4zm5 7zm2-6zm0 5zm3 2zm1 0zm1-9zm0-1zm5 8zm0-1zm0 0zm1-2zm1-3zm1 8zm1-1zm1 1zm1-4zm3 1zm1 5zm2-3zm1-4zm2 5zm3 1zm1-10zm0 5zm0-3zm5-2zm1 1zm1 8zm0-4zm3-4zm1 5zm1 0zm1-7zm1 10zm0-4zm0-2zm1 0zm8-2zm3 4zm0 4zm0 2zm2-11zm2 10zm5-4zm1-6zm5 9zm7-5zm0 1zm3-1zm1-1zm1-3zm1 0zm3 4zm19-2zm-7 10zm-28 5zm-4 4zm-1-1zm-6 0zm-19-1zm-2-8zm-9 5zm-3 4zm-3 3zm0-3zm-2-2zm0 0zm0-6zm0 0zm-8 6zm0-1zm-1-6zm-1 12zm-2-4zm-3-8zm-5 2zm0 1zm-13-1zm-1 1zm-13 0zm-1-1zm0 9zm0-5zm-5 3zm-22-7zm-12 8zm-51-8zm-2 2zm22 13zm10 3zm35-4zm1 4zm9-2zm13 1zm13 1zm13 4zm9-4zm0-3zm3 6zm2-2zm8-6zm7 7zm6-9zm1 7zm6-5zm4 2zm1-5zm3 6zm7-3zm11 5zm12 15zm-18-9zm-2 3zm-21-3zm-8 2zm0 4zm-14-6zm-3 7zm-2 2zm-2-5zm-2 2zm-1 2zm-2 1zm0-2zm-11-7zm-1 3zm-15 5zm-17-7zm8 18zm4-7zm15 5zm11 4zm31-6zm28-1zm24 5zm-61 6z"/><path stroke="#461769" stroke-width="3.4" d="M1627 1657zm151 15zm-62-7zm-45 6zm0 0zm-2 2zm-2-6zm-87 17zm61-10zm24 10zm7-3zm0 4zm4 0zm11-1zm24-6zm10 0zm9 7zm13 1zm1-3zm2 1zm11-2zm4 0zm40 9zm-22 3zm-37-2zm-10-2zm-3 2zm-1 2zm-1-8zm-2 9zm-4 2zm-1 0zm-7-6zm-9 2zm-2 3zm-1-8zm-4 9zm-8-4zm-1 3zm-1 1zm-1-3zm0 4zm-1-9zm-10 0zm-2 9zm-5-10zm-6 2zm-3 3zm-11 3zm-8-2zm-14-1zm-7-5zm-18 6zm24 16zm11-5zm15 3zm1 0zm0-4zm7-4zm6 9zm5-7zm2 4zm0-5zm3-1zm3 5zm2 5zm2-5zm1 3zm0-4zm4 3zm2 3zm7-6zm0 4zm1 0zm4-2zm3-7zm1 7zm2-2zm6 5zm2-2zm5-1zm0 2zm1-7zm3 7zm3 0zm2-5zm8 4zm7-2zm1-1zm24 5zm4-3zm16 3zm12 10zm-30-1zm-2-1zm-5-2zm-7 5zm0-8zm-8-1zm-1 11zm-8-4zm0-2zm-2-5zm-4 7zm-1-5zm-4 5zm-1-5zm-4 2zm-1 1zm-5-6zm-2 7zm0 4zm-1-8zm-1 4zm-1-5zm-1 10zm-2-10zm0 2zm0-2zm0 5zm-6-3zm-2 3zm0-5zm-1 8zm-1-8zm-5-1zm-1-1zm-4 8zm-2-6zm-3 3zm0-1zm0-3zm0 7zm-4-3zm-1-4zm-3 10zm-2-2zm-2 3zm-4-6zm-1-5zm-1 8zm-1 1zm-1-9zm0 9zm-3-2zm-2-6zm-4 8zm-4-2zm0-3zm-2 0zm-1 2zm-7 4zm0-8zm-2 2zm-1-1zm-2 1zm-5 3zm-8 2zm-7-6zm-2-1zm-5 3zm-4 11zm6-2zm1 4zm0-1zm2-1zm5-3zm3 2zm14 4zm3-8zm13 12zm0-11zm4 6zm3-3zm2 0zm1 6zm1 1zm5-6zm0 3zm1-2zm2 4zm0-8zm5-2zm1 9zm0-2zm0-7zm1 6zm8 5zm2-9zm1 0zm3 2zm3 5zm4-2zm0 3zm0 2zm1-11zm0 6zm1 3zm1-6zm0 0zm1-2zm1 3zm1-1zm2 8zm1-8zm0 7zm0 0zm4-9zm1 4zm1-1zm1 0zm4 1zm3-1zm0-4zm2 4zm1 0zm6-4zm1 5zm0 3zm1-7zm1 6zm0 0zm3-7zm2 3zm0-2zm0 3zm2 6zm0-9zm0 6zm4 3zm6-5zm11 5zm3-2zm6 1zm3-9zm24 3zm-20 11zm-6 7zm-11-1zm-8-7zm-1 1zm0 3zm-9 3zm-1-1zm-2 1zm-2 3zm-8-2zm-4 0zm0-6zm-4 4zm0-7zm0 6zm0-2zm-1 3zm-2-7zm-1 3zm-3-3zm-1 8zm-1-4zm-1 3zm0 1zm-3-3zm-1 1zm-2-2zm-1 0zm-1-3zm-1-1zm-1 3zm-1 2zm-1-4zm-3 5zm-2-6zm-1 3zm-2 6zm-6-2zm-1 1zm-3-2zm0-6zm-4 8zm-1 2zm-8-10zm-1 1zm0 0zm-2 4zm0 2zm-1-4zm-2-1zm0 7zm-5-9zm-1 8zm0-8zm-3 1zm-1 6zm-2-2zm-1-1zm-8-3zm-1-1zm-7 0zm-10 0zm-13 9zm-23-10zm-12 2zm-12 3zm55 17zm4-1zm18-6zm7 5zm0-4zm2 1zm2 2zm7-6zm1 8zm1-3zm3-1zm8 4zm1 0zm0-6zm3-2zm3 4zm2 1zm1-1zm2 0zm2 6zm0-5zm5 1zm0-5zm2 5zm1 1zm2 0zm1 0zm1 4zm0-4zm3-1zm2 1zm4 2zm1 0zm4-10zm2 5zm3 7zm1-12zm1 1zm1 1zm2 0zm0-1zm5 0zm7 0zm2 9zm4-4zm1-4zm2 4zm1-3zm1 21zm-10-9zm-10 2zm-3-2zm0-2zm-2 2zm-7-1zm-1 6zm-4-1zm-1 5zm0-11zm-1 5zm-1 3zm-6-5zm0 4zm-7 0zm-4-1zm-1-1zm-4-5zm-5 11zm-4-4zm-1-2zm-2 4zm-2 2zm-18-4zm-8 2zm25 8zm7-4zm0 3zm18 0zm7-4zm15 11zm3 0zm30-9zm2-3zm8 22zm-19-7zm-4 6zm-2-3zm-1 0zm-2 0zm-9-1zm-5-2zm-3 0zm-3 5zm-2 4zm-47-3zm5 11zm33-5zm13-2zm2 4zm33 8zm-56-1z"/><path stroke="#424085" stroke-width="3.4" d="M1700 1794zm-24 10zm56-5zm-21 11zm-5 6zm-13 1zm-21-3zm-21 15zm36 0zm0-1zm7 1zm1-2zm7 1zm8-6zm5-3zm0 5zm5-2zm1-2zm20 4zm10 17zm-5 0zm-8 0zm0-1zm-6 0zm-1-5zm-14 6zm-2-6zm-4 5zm-1-6zm0 2zm-2 4zm0-10zm-3 7zm-6-3zm-3 7zm0-7zm-2 4zm0 4zm-3-10zm0-1zm0 6zm-2-2zm-1-3zm0 8zm-5 1zm-1-4zm0-6zm-4 5zm-10-2zm0 4zm-3 0zm-5-1zm0 8zm1 3zm11-3zm6 5zm3-4zm0-3zm1 7zm1 3zm0-3zm3-7zm3 7zm1-3zm1-3zm1 3zm1 4zm4 3zm1-12zm0 7zm3 2zm2-2zm1 5zm0-4zm0 0zm2-4zm1-3zm1 5zm1 4zm9-6zm2 6zm2-7zm1-3zm6 12zm1-1zm3-5zm2-3zm1 1zm10 2zm3 2zm12 13zm-7 2zm-4-6zm-5 6zm-4-7zm-6-3zm-5 1zm-1 9zm-3-7zm-1 2zm-10 6zm0-12zm-1 9zm-7-7zm-3 2zm-8-1zm-4 7zm0-6zm-7 2zm-3 5zm-6-8zm-21-2zm0 2zm-25 6zm-19-4zm41 18zm2 1zm29-11zm33 3zm20 5zm-37 13zm-33-1z"/><path stroke="#3e4c89" stroke-width="3.4" d="M1720 1813zm-19-2zm-8 3zm-23 3zm12 12zm6-9zm0 5zm1-1zm2 1zm1-6zm6 2zm6 8zm0-10zm2 4zm15 0zm2-1zm0 2zm3 5zm1-2zm36-1zm-4 15zm-15-5zm-2 6zm-16-7zm-1-4zm0 3zm-2 4zm-1-2zm-2 1zm-1-5zm-4 9zm0-2zm-1 1zm-6-8zm-3 3zm-2-5zm-3 12zm0-5zm-8 1zm-3-3zm-7-2zm-2 4zm-3-2zm0 0zm-3-3zm-2 10zm-5-9zm0 4zm0 3zm-1-5zm-1-4zm-5 3zm-38 20zm34-11zm10 6zm6 0zm2-1zm7 3zm3-9zm1 2zm11 4zm0 3zm3-7zm0 4zm1-1zm0-3zm2 5zm1 4zm3-1zm4-2zm5 1zm0-8zm4 8zm3-8zm0 6zm0 3zm4-7zm1 1zm5 4zm2 1zm1-8zm3 8zm3 0zm3-5zm13 4zm16 1zm14-6zm-44 20zm-8-7zm-5-2zm-4 0zm-4 10zm-6-11zm0 0zm-3 7zm-1-2zm-12-5zm-2 0zm-1 0zm-5 9zm-4 0zm0-9zm-2 7zm-9-7zm-4 10zm0-10zm-1 2zm-8 7zm-10-9zm-17 6zm47 13zm9 3zm4-11zm3 4zm12 2zm5 2zm5-4zm19 4zm-37 14zm-58-3z"/><path stroke="#38578b" stroke-width="3.4" d="M1676 1820zm14 4zm1 5zm1-7zm10 7zm37-8zm1 17zm-1-6zm-14 4zm-2-1zm0 4zm-7-3zm0 1zm-1 3zm-3-4zm0 1zm-3-2zm-13 4zm-2 3zm-6-7zm-1 2zm0-4zm-4 8zm-20-5zm0-4zm-1 9zm-4-1zm1 9zm19 3zm3-1zm11-1zm3-7zm2 10zm1-3zm10 2zm10-9zm3 10zm41-6zm25 12zm-37 6zm-7-8zm-14-2zm-5 3zm-10 4zm0 1zm-11-5zm-4 4zm-2 1zm-5 1zm-12-10zm-15 7zm-5-2zm29 7zm12 6zm28 1zm-25 15z"/><path stroke="#34628d" stroke-width="3.4" d="M1697 1865zm-26 13zm15-4zm23-4zm23 19zm-43-8zm-95 19zm76-8zm19 6zm13 0zm9-6zm18 6zm5-3zm29 17zm-3-1zm-14 2zm-3-3zm-6 2zm-20 0zm-6-6zm-9-2zm-15 3zm63 26zm-6-4zm-2 0zm-10 13zm7 0zm6-4zm5 6zm4 1zm7 0zm9-3zm0 4zm-1 4zm-1 3zm-1 1zm-5 3zm-7 12zm7-1zm7-6zm-21 15z"/><path stroke="#2f6d8e" stroke-width="3.4" d="M1683 1866zm-6 0zm42 6zm27 15zm-47 1zm-11-1zm-11-5zm58 8zm32 23zm-67-2zm-3 1zm-21 5zm54 4zm16 2zm9 1zm10-9zm1 9zm4-8zm0 16zm-1 4zm0 0zm-2-1zm-1 0zm0-7zm-9 7zm-6-9zm0 11zm-2-11zm-8 6zm9 13zm1 3zm4-9zm5-1zm1 2zm9 8zm0 9zm0 3zm0-7zm-2 0zm0 6zm-18-7zm-9 15zm3-4zm8 1zm1-1zm1 8zm5-4zm1 0zm7 5z"/><path stroke="#2a778e" stroke-width="3.4" d="M1679 1865zm7 10zm6 0zm40-7zm1 7zm-63 20zm40 3zm55-3zm5 12zm0 4zm-19-8zm-32 1zm-27 15zm42 1zm1-2zm20-1zm7 2zm3 6zm3-11zm1 10zm-1 9zm-4-2zm-3 2zm-6 2zm-9-5zm-5-3zm-21 10zm-15-11zm48 17zm0 1zm3 0zm0-2zm4 7zm6-6zm1-3zm1 1zm0 4zm2 5zm0-12zm1 17zm-1 1zm-1 0zm-3-2zm-3 4zm-3-1zm0-3zm-6-1zm-11 8zm16 10zm6-6zm1 4zm0-4zm1-1zm1-1zm2 17z"/><path stroke="#27818d" stroke-width="3.4" d="M1701 1889zm-26 8zm26-6zm9 0zm7 1zm3 3zm55 16zm-5-8zm-4 6zm-9-7zm-24 9zm-14-5zm-16 5zm15 15zm20-3zm10 0zm7-4zm2 5zm1-2zm7-3zm25 5zm30-5zm12 0zm-9 18zm-8 1zm-38-7zm-5 2zm-8 2zm-4 3zm-9-1zm-5-3zm0-4zm-22 13zm20 0zm9 2zm5-4zm1 5zm3 3zm2-4zm1-1zm1 5zm7-4zm8 4zm11-11zm13 6zm13-5zm1 0zm1 1zm3 4zm10 5zm1-3zm23-2zm-11 14zm-4-7zm-3 5zm-5 1zm-3-2zm-2 0zm-5-3zm-1 6zm-1 1zm-2-4zm-1 3zm-3-1zm-4-7zm0 9zm-4 1zm-1-4zm-6-5zm-1 2zm-5 3zm-5 3zm-1-8zm-20 2zm0 4zm-4-5zm-2 6zm-3-2zm-1-2zm1 13zm7 4zm4-5zm20 7zm4-5zm1 5zm1-7zm0 8zm3-3zm3-8zm4 8zm9-8zm11 0zm0 4zm2 0zm7 6zm4-5zm0 0zm3 2zm1-1zm10 0zm0 11zm-12-2zm-27 0zm-1-3zm-22 4zm-33-4zm-10 6z"/><path stroke="#238c8c" stroke-width="3.4" d="M1796 1892zm5 1zm4 3zm0 1zm14-6zm3 7zm13-6zm7 18zm-8-1zm-4 0zm-3-5zm-4 1zm-16 9zm0-11zm-20 6zm-2-4zm-1-1zm-3 4zm-3 4zm-3-10zm-10 5zm-1 2zm0 4zm0 3zm5 3zm2 3zm5 2zm5-6zm1-3zm4 5zm0 2zm0 0zm1 0zm4 4zm3-3zm0-2zm2 2zm1-8zm1 4zm6-1zm3 3zm2 4zm6-2zm12-3zm2-3zm7 3zm3 3zm2-8zm1 7zm8 2zm3-1zm-24 12zm-1-3zm-1 4zm-1-10zm-1 7zm-1 5zm-5-10zm-1 3zm0-1zm-1 2zm-2 5zm0-5zm-1 3zm-2-1zm0-2zm-1 0zm-1 0zm0 4zm-1 1zm0 0zm-8-2zm0 1zm-1-2zm0 2zm0-2zm-1 0zm-2 1zm-3 1zm-3-1zm-1-6zm0 5zm-2-4zm-2 5zm-2 0zm0-4zm-2-1zm-1-2zm-1 6zm0 3zm-1-4zm-3-5zm-2 9zm-1-1zm-1-1zm0 0zm-1-4zm1 19zm1-5zm0 4zm1-5zm2 0zm1 5zm0-5zm1 3zm1-8zm1 0zm0 2zm2 3zm1-1zm0 5zm0-9zm0 10zm1-1zm2-2zm0-5zm0-3zm0 11zm1-3zm1-3zm1-1zm1 5zm0-3zm0 4zm1-3zm0-1zm1 3zm1-1zm1 0zm0-5zm0 5zm0 3zm1-9zm1 6zm0-6zm0 4zm0 3zm0-1zm1-5zm1 9zm0-4zm0 1zm0-5zm1 4zm1 4zm0-1zm1 1zm0-4zm1-2zm0 3zm0 0zm1-3zm0-1zm1 0zm0 7zm0-4zm2-2zm0-2zm1 0zm0-2zm0 7zm1-1zm0-6zm1-1zm0 2zm0 5zm0-2zm1-2zm0 8zm1-1zm0-5zm0-1zm1 1zm0-3zm1 7zm2-2zm1 2zm0-10zm0 12zm2-8zm0 8zm1-11zm1 7zm2-1zm0 3zm0-3zm1-6zm0 9zm0-9zm1 4zm0 3zm1 3zm1-9zm3 5zm0-3zm1 6zm2-2zm1-4zm2 2zm1 1zm1-7zm0 9zm0-5zm0 2zm1-4zm0 9zm2-10zm0 7zm1-2zm0-6zm1 11zm2-2zm2 2zm1-2zm4-4zm1-1zm2 6zm3 0zm10-4zm1 14zm-1 0zm-2 2zm0-4zm-1 6zm-4-3zm-4-6zm0 7zm0 1zm0-6zm-1 5zm-1-4zm-1-1zm-3 2zm-2-3zm0 4zm-1 3zm0-7zm0-1zm0 2zm-1 3zm0 0zm-1 2zm-3-6zm0-1zm-1 2zm0 5zm0-2zm0-1zm0 3zm0-4zm-1-3zm0 4zm-1-5zm-1 8zm-1-9zm0 9zm0 1zm0 0zm0-7zm-1 5zm0-7zm0 8zm-1-2zm-1-2zm-1-4zm0 2zm0 7zm0 0zm0-9zm-1 5zm0 3zm-1 0zm0-3zm0 1zm-1-2zm0-5zm0 10zm-1-10zm0 4zm0 2zm-1 2zm0 0zm-1 0zm0-1zm0 3zm-1-4zm0 2zm-1-8zm-1 2zm0-2zm-1 10zm0-5zm0-4zm0 3zm0 4zm0-2zm-1-5zm0 1zm0 4zm-1-6zm0 7zm0 3zm0-1zm0-1zm0 1zm-1-9zm0 2zm0 3zm0 0zm0 1zm0-4zm-1 0zm0 6zm0-3zm0-3zm-1 4zm0 1zm0 4zm-1-11zm0 5zm-1-6zm0 1zm0 7zm-1-3zm0-5zm0 9zm-1-3zm0-6zm-1 7zm0 3zm0-4zm0 3zm-1-4zm0 2zm0-6zm0 5zm0 3zm-1-9zm0 2zm0 3zm0-2zm0 4zm-1 0zm0-6zm0 2zm0 5zm-1-4zm0 1zm0-5zm0 7zm0 3zm0-8zm-1 1zm0 2zm-2 3zm0-7zm-1 0zm0 3zm0 0zm-1 3zm0-5zm0 4zm0-1zm0 5zm-1-6zm0 4zm0-3zm0 3zm-1-4zm0 4zm-1-4zm0 2zm-1 3zm0-7zm0 6zm0-5zm-1 0zm0 2zm0 1zm0 6zm0-4zm0-6zm0 0zm-1 1zm0 8zm0-5zm0 5zm0-1zm-1-9zm-1 10zm0-5zm0 0zm0-3zm0-3zm-1 9zm-1 1zm0-6zm-1 5zm0-4zm0-2zm0 4zm0 1zm0 2zm-1-7zm0 3zm-1-4zm0 0zm0 9zm0-6zm0 0zm-2-4zm-2 6zm0-2zm-1 6zm0-1zm0-6zm0 3zm0 4zm-1-8zm0-1zm-1-1zm0 2zm-1-1zm0 1zm0-3zm-1 12zm0-1zm-1-7zm-1 4zm0-4zm0-3zm-1 11zm0-4zm-2-4zm-1 5zm0-1zm-1-7zm1 17zm1 0zm2 3zm2 2zm1-9zm0 1zm0 1zm2-1zm0 9zm3-5zm0-5zm2 3zm0 6zm0-5zm0 2zm1-1zm0-6zm2-1zm0 7zm1-1zm1 1zm1-6zm1 3zm0-3zm1 1zm0 4zm1-5zm1 1zm0 4zm0-4zm1 2zm0 0zm0-3zm2 0zm0 4zm2 4zm1-6zm0 0zm1 8zm0-9zm1 7zm0-8zm1 4zm0-1zm0 0zm1-3zm0 0zm1 0zm0 11zm0-3zm1-6zm0 1zm0 3zm0-6zm0 2zm1 2zm0 5zm1-6zm1 4zm0-8zm1 2zm0 5zm0-6zm0-1zm0 12zm0-7zm1 5zm0-7zm1 5zm0 3zm0-7zm1 5zm0-6zm0 8zm1-9zm0 2zm1-3zm0 6zm1-5zm0 2zm0 2zm0 3zm1-3zm0-5zm0 1zm0 9zm1-2zm0-6zm0 2zm0-4zm0 0zm1 0zm0 6zm0-3zm2 5zm0-8zm0 8zm0-7zm1 1zm1 0zm1 6zm1-6zm1 0zm0 2zm1 2zm0 0zm0-5zm0 1zm0 3zm1 4zm0-7zm0-2zm0 1zm0 1zm1 2zm0 4zm0 2zm1-8zm0 7zm0-5zm1 0zm0-1zm1-2zm0 8zm1-8zm0 9zm1-6zm2 0zm0-4zm0 1zm0-2zm0 3zm1 3zm0 3zm1-7zm2 4zm0-1zm0-4zm2 9zm1-7zm0-1zm0-1zm2 4zm0-2zm0-1zm3 5zm1-3zm0 0zm0 7zm3 0zm0-8zm2 8zm1-7zm1 1zm7 7zm-3 10zm-1-6zm-4 7zm-3-9zm0-1zm-2 1zm-3 3zm-2 2zm0-7zm-1 3zm-1 5zm-3-8zm-1 2zm-2 5zm-1-6zm-1 1zm-1 6zm0-8zm-1 0zm-2 3zm-1-3zm-5 2zm-1 1zm-2-1zm-1 2zm0-4zm-2 1zm-1-1zm-1 11zm-1-10zm-3 3zm-1-4zm-2 3zm-1 7zm0-1zm-1-5zm-2 0zm-2-3zm-1 2zm-1-3zm-1 5zm0-2zm-1 3zm-1 2zm-2-5zm-6 6zm0-7zm0 4zm-3-2zm-1 0zm-1-3zm0 1zm-2-2zm-6 1zm0 1zm-1 9zm-1-8zm13 12z"/><path stroke="#21968a" stroke-width="3.4" d="M1862 1840zm-26 18zm-63 4zm45 15zm0-7zm9 1zm10 4zm7 2zm22-10zm78 23zm-65-11zm-7 10zm-6 1zm-29-11zm-8 6zm-4 1zm0 2zm-11 0zm0-1zm-47 4zm9 6zm1 2zm2-5zm2 2zm0 0zm12-5zm6 10zm3-4zm1-6zm6 9zm1-6zm1-3zm3 5zm0 3zm2 2zm3-8zm2 8zm3-8zm2-3zm0 1zm2 5zm0 5zm6 0zm4-6zm3 0zm2 6zm0-6zm1 6zm27-7zm5 2zm19 5zm-14 4zm-4 3zm-6 0zm-5 2zm-6-4zm-5-4zm-7 3zm-1 6zm-4-4zm0 2zm-1-2zm-3 3zm-9-7zm-1 9zm0-5zm-1-2zm-2-2zm-4 9zm0-7zm-6 3zm-4-3zm0 0zm-4 4zm-1 1zm-4-3zm-1 1zm-1 1zm-10 4zm0-6zm-5 2zm-3-1zm0 5zm0-5zm-4 3zm-2-3zm-4 6zm-2-9zm-9 4zm8 9zm0-1zm2 7zm1-7zm5 8zm1-4zm1 1zm1-3zm0 5zm2 2zm2-7zm4 5zm1-4zm0 3zm1-7zm0 6zm3-2zm1-2zm0-4zm1 6zm3 1zm0 5zm1 0zm1-1zm0-10zm2 2zm0 1zm2 6zm1-6zm2 6zm0-2zm2 3zm1-10zm2 5zm1-3zm1 7zm0 0zm5 1zm3-2zm4 1zm5 0zm11-1zm1-8zm2-1zm1 10zm1-8zm1 6zm12 1zm7 2zm1-10zm7 0zm-5 14zm-4 2zm-2-2zm-4 2zm-6-4zm-7 9zm-6-8zm-1 4zm-3-5zm-1 9zm-4-10zm-1 9zm0 1zm0-5zm-2 4zm-3 1zm0 1zm-2-3zm-1-6zm-1 3zm0 4zm-3 3zm-6-1zm-1 1zm-2-5zm-1 0zm0 3zm0-1zm-1-6zm0 1zm-2 6zm-1 0zm-1-1zm-1 2zm-2-5zm-2 5zm-3-3zm-1-3zm-2 5zm-1-3zm-1 3zm0-4zm0 0zm-1 5zm-2-2zm0-7zm0 1zm-2-3zm0 0zm0 3zm-1 6zm0 0zm-1-2zm-1 3zm-2-7zm0 5zm-2-4zm-1 1zm0 4zm0-1zm-1 3zm-1-10zm-2 9zm0-2zm-2-6zm0 0zm-1 5zm0-3zm-1 15zm1-2zm0 4zm1-9zm0 7zm3 4zm1-8zm2 6zm0-8zm1 8zm0 2zm0-4zm1-1zm1-5zm0 7zm1 1zm0-4zm1 2zm1-7zm0 3zm1-2zm0-1zm1 9zm0-4zm1 1zm0 5zm1-7zm0 1zm0 2zm1-2zm0-2zm1 8zm2-1zm0-6zm1 4zm0-5zm1 5zm1-7zm1 3zm0 1zm1 3zm1 4zm1-8zm0-3zm0 5zm0-5zm0 10zm1-5zm0 3zm1 2zm0-2zm1-2zm0-5zm0 0zm0 0zm1 7zm0 3zm0-11zm1 10zm0-9zm0 7zm1-1zm0 1zm0-1zm0 3zm2-9zm0 1zm0 5zm1-2zm0 5zm0-1zm0 0zm1-5zm0 6zm0-4zm1 0zm0-3zm1 8zm1-10zm0 6zm1 2zm1-8zm0-1zm0 1zm0 5zm1-3zm0 4zm0 1zm1 0zm1-4zm0 5zm1 0zm0 2zm3-5zm0 2zm1 3zm0-3zm1-6zm1 5zm1 2zm1 1zm0-7zm0 7zm2-11zm0 3zm1 7zm1-4zm0-3zm0 8zm0-2zm1-6zm1 5zm0-2zm0 2zm5 3zm0-2zm1-1zm1-3zm0 7zm1-1zm0-4zm1-3zm5 8zm2-2zm1 1zm1 0zm3-2zm0 2zm1 0zm6-4zm3 1zm2-7zm3 14zm-2 9zm-8-3zm-2-2zm0 1zm-1 1zm-1-1zm-1-1zm0 0zm0 0zm-2 1zm0-2zm0 0zm-1 3zm-1-2zm-1-1zm-1-4zm-1 8zm-1-6zm0 0zm-1 6zm0-5zm-1 2zm0 3zm-2-5zm0 0zm-1-1zm0 6zm0-5zm-1 5zm0-4zm-1 1zm0 4zm-1-1zm-1-8zm0-1zm0 4zm0 6zm0 1zm-1-1zm0-9zm0-1zm0 9zm0-7zm0-1zm0-1zm0 0zm0 4zm-1 7zm0-6zm0-3zm-1 7zm0-9zm0 2zm0 6zm0-2zm-1 0zm0-6zm0 9zm0-3zm-1 4zm0-4zm-2-1zm-1-1zm-1 5zm0-4zm0 5zm0-5zm0-3zm-1-2zm0 1zm0 5zm0-6zm-1 10zm-1-7zm0-3zm0 3zm-1 2zm-1 6zm0-5zm0-4zm-1 5zm0 2zm-1-9zm0 3zm0-1zm0 7zm0 0zm-1-9zm0 3zm-1 7zm0-2zm0 0zm0-2zm-1 4zm-1-1zm0-3zm0 1zm0 2zm-1-5zm0-4zm0 9zm0-1zm-1 2zm0-8zm0 7zm-1-7zm0 1zm0 6zm0-1zm-1-1zm0-3zm0 6zm0-2zm-1 1zm-1-6zm0 1zm0 6zm-1-1zm-1-6zm0 5zm0-5zm0-2zm0 2zm-1 3zm0 4zm0-8zm0 3zm0-3zm-1-3zm0 10zm0-3zm0 1zm0-6zm-1 5zm-2-4zm0-1zm0 1zm-1 1zm0 1zm0-5zm0 6zm0 0zm-1 5zm0-6zm0-2zm-1 1zm0 0zm-1 1zm0 0zm0 6zm-1 1zm0-1zm0-9zm0 6zm0-3zm-1-4zm-1 0zm0 1zm0 5zm0 4zm-1-1zm0 0zm0-1zm-1-3zm0 0zm0-4zm-1 10zm0-3zm0-1zm0-5zm-1-2zm0 10zm0-9zm-1-2zm-1 3zm0 5zm0-6zm0-1zm-1 4zm-1 2zm0-5zm0 4zm0 6zm-1-11zm-1 8zm0-3zm0 2zm0-4zm-1-3zm0 0zm-1 9zm-1-7zm0 4zm0-5zm-1 2zm0-3zm0 1zm-1 6zm0 1zm-1-6zm-1 4zm0-4zm-1 4zm-1-5zm0 4zm0-2zm-1 0zm0 0zm0 4zm-5 11zm0 1zm0-7zm3 1zm1 7zm3-7zm0 3zm0-3zm0-2zm1 2zm0-2zm0 9zm1-7zm0 6zm1-1zm2-4zm0-2zm0 1zm1 0zm1 0zm1 9zm0-6zm0-3zm0-1zm1 8zm1-5zm3-3zm1 5zm1-4zm1 5zm0-6zm0 6zm0 0zm0-3zm1 1zm0 1zm2-1zm0-2zm1 1zm0-4zm1 1zm0 5zm1 0zm0 3zm1 0zm1-7zm2 5zm0-3zm0 0zm1 4zm1 1zm0-7zm0-1zm0 10zm1-10zm0 1zm0 8zm1-5zm0-4zm0 2zm1-1zm1 2zm1 2zm1-2zm0 3zm1-4zm0 8zm0-3zm0-8zm0 9zm1-5zm0-1zm1 7zm0-4zm0-4zm1 0zm0 2zm0-2zm2 3zm0 4zm0 1zm0-3zm1 2zm0-4zm0 4zm0-4zm1-1zm0 1zm0-2zm0 3zm0-3zm1 2zm0 0zm1 3zm0 0zm0-2zm0 4zm1-7zm0 1zm0-3zm0 9zm2-1zm0-2zm0 0zm1-3zm0-4zm0 3zm0 8zm1-6zm1 4zm1-6zm0 3zm1 2zm0-1zm0-3zm1 4zm2 2zm0 1zm0-8zm0 1zm1 1zm1-4zm0 10zm1-4zm0 1zm0-2zm0 0zm1-5zm0 8zm0-1zm2-8zm1 10zm0-2zm2-1zm0 2zm0 1zm1-5zm2 3zm3 3zm0-11zm1 8zm0-1zm1-1zm1 1zm0 3zm0-4zm0-4zm2 1zm1-2zm1 0zm1-1zm1 4zm2-2zm0 7zm3-9zm0 6zm5 1zm-6 8zm-3-1zm-5-2zm-3 10zm-1-9zm0 0zm-1 3zm-3 3zm-1 1zm-5-2zm-3 6zm0-11zm0 1zm-1 1zm-2 0zm0 6zm-1 1zm0-3zm0-1zm-2-4zm-1 2zm-1-2zm-1 0zm0 5zm0-1zm-2-4zm0 5zm0 2zm-1-9zm-1 1zm0 5zm-1-5zm0 5zm-2 1zm0 5zm-2-11zm-2 2zm-1-3zm-1 1zm-2 6zm0-6zm-2 2zm-1 3zm-9-5zm-1 4zm-4-2zm-4 4zm-1-3zm-2-4zm-1 3zm-2 1zm-15 9zm12 2z"/><path stroke="#229f87" stroke-width="3.4" d="M1883 1841zm-16 6zm52-3zm8 19zm-13 1zm-20 1zm-13-5zm-9 1zm-58 16zm13-5zm1-1zm3-3zm5 4zm7 2zm10 3zm0-5zm8-5zm7 6zm1-4zm1 2zm2 0zm2 6zm1-7zm1 5zm9 2zm0-10zm5 5zm7 0zm4-4zm12 0zm28 7zm13-6zm19 17zm-50-5zm-5 4zm-10 3zm-3-7zm-5 5zm-3-3zm-2 0zm-5 5zm-1-3zm0-6zm-7-1zm-3 7zm-2 0zm-1 1zm-1-3zm-4-4zm-8 6zm0-4zm-1-3zm-4 10zm-2-2zm-1 2zm-2-6zm-2 8zm-3-7zm-1-3zm-3 8zm0-7zm-2 5zm-3-1zm-8-3zm-11 3zm-1 4zm-4-6zm-1 1zm-15 6zm-2-6zm-43 10zm11-4zm10 7zm20 3zm3-3zm0 0zm1-5zm5-1zm1 11zm3-1zm1-10zm1 9zm6 2zm1-6zm12 3zm4-4zm7 0zm0 5zm1-3zm1 2zm3-4zm1 0zm3 6zm1-11zm1 9zm2 0zm1-7zm1 3zm2-3zm1 2zm2-2zm2-1zm0 2zm4 4zm1-5zm0 10zm1-2zm2-7zm1-2zm1 2zm1-3zm3 6zm5 5zm4-10zm4 0zm4 9zm0-1zm2-7zm3 6zm2-7zm3 5zm0-5zm8 8zm3-5zm0 2zm1-4zm1 5zm12-6zm21 21zm-20-6zm-30 2zm-4-3zm-2-2zm-3 10zm-8-7zm-5 2zm0-5zm-1 7zm-5-3zm-3-1zm-3 2zm-4 6zm0-7zm-1-2zm-1-2zm-2 1zm0 8zm-1-9zm-3 5zm-1 4zm0-4zm0-6zm-2 6zm0 6zm0-2zm0-4zm-4-1zm-2 4zm-3-7zm-5-1zm0 9zm0-4zm-2 5zm0-7zm-4-1zm0 7zm-1-4zm0 4zm-2-5zm-1 2zm-4-5zm-4 5zm-8 3zm-3 2zm-3-8zm0 4zm0-2zm-3-3zm-5 9zm-13-1zm-13-2zm0 7zm4 6zm3-7zm0 8zm7-11zm5 2zm4 9zm4-1zm0-1zm6-1zm3 1zm3-8zm1 11zm5-12zm2 0zm2 11zm1-1zm1-3zm5 4zm0-4zm2 4zm1-4zm0-1zm5-1zm1 3zm3-4zm0-3zm1 6zm1 4zm1-7zm2 6zm6-3zm8 3zm1-9zm2 8zm1-5zm1 8zm0-3zm1-5zm1 4zm2 2zm1-6zm1-1zm4 6zm0-6zm4 5zm0-3zm6 2zm13 2zm1-4zm2 0zm1 1zm0-4zm7-1zm3 5zm11-2zm11 2zm-32 13zm-10 4zm0-10zm-2 2zm-4-2zm-6 2zm-2-1zm-4 2zm-4 6zm-1-9zm-3 0zm-4 1zm-2 5zm-1-7zm-2 6zm-2-5zm-2 1zm-3 0zm0 1zm-6 2zm-7 1zm-9-1zm-1-4zm-1 2zm-2 0zm0-3zm-8 9zm-2-3zm-4 0zm0 3zm-5 1zm-4-9zm-2 2zm-12 0zm-5 6zm0-8zm0 10zm-2-10zm-6 3zm-1 6zm8 3zm9 0zm5 10zm4-2zm1-3zm1 2zm2-6zm0 2zm11 1zm5-4zm0 6zm3 3zm12-4zm7-5zm3 4zm1 1zm5 1zm30-4zm-11 19zm-6 1zm-9-8zm-1 0zm-9 3zm-1 3zm-3-9zm-6 1zm-1 10zm-3-9zm-1 2zm-7-4zm0 10zm-3-7zm-1 3zm-2 4zm-1-2zm-3-6zm-2 2zm-7 5zm-3 0zm0 1zm-2-9zm-5 10zm0 0zm0-10zm-12 11zm1 6zm7-3zm7 1zm7 2zm8-4zm0 0zm7-2zm6 3zm2 5zm1 2zm3 0zm0-1zm1 3zm4-9zm12 3zm18-5zm2 17zm-52 0zm-13-5zm-1 7zm-1-3z"/><path stroke="#23a983" stroke-width="3.4" d="M1868 1829zm59 12zm-10-3zm-10-5zm-1 0zm-23 19zm15-1zm2-2zm3-6zm22 2zm9 9zm6-7zm3 6zm15-1zm1 6zm-10 7zm-13-8zm-2 6zm-4-2zm-6 3zm-10 0zm-6-9zm-1 2zm-3 4zm0 2zm-1 1zm-2-4zm-3 5zm-4-8zm-3 3zm-11 1zm-4 2zm-7 1zm-6-3zm-6 2zm-1 2zm-5-2zm-57 13zm37-4zm5 3zm6-6zm7-2zm10 4zm3 7zm6-6zm2 6zm7-7zm1 5zm0 1zm5-7zm0 0zm0-3zm3-1zm2 6zm0 2zm0-1zm10-5zm0 8zm1-4zm0 1zm2 2zm1-6zm0 6zm3 2zm3-6zm2-3zm3 6zm0 2zm0-7zm1 9zm0-7zm2-1zm1-3zm2 2zm2 2zm4-3zm2 3zm6-4zm0 10zm1-8zm0 8zm1-5zm1 3zm10 1zm4-6zm2 7zm2-11zm7 23zm-4-11zm-10 5zm-3-3zm0 4zm-2-1zm-3 3zm-1 1zm-1-6zm0-2zm-1 9zm-1-3zm-3-2zm-2 1zm0-3zm-2 8zm-1-1zm-1-3zm-3 0zm0 5zm-1-6zm-2-2zm-1 8zm0-12zm0 8zm-1-3zm-1 7zm0-8zm0 5zm-1-6zm-4 6zm0 2zm0-8zm-1 4zm-1 3zm0-4zm-3-3zm-1-3zm-1 8zm-2-2zm-1 3zm0-7zm0 5zm-2-1zm-1 4zm0-5zm-1-2zm-5 4zm0 4zm0-6zm-1 3zm-1 3zm0-3zm0-5zm-2 6zm0 3zm-1-8zm-1 7zm-2-3zm0-3zm0 3zm0 0zm-1-4zm-1 8zm-1-12zm-1 11zm-2-1zm-3-6zm-1 7zm-3-3zm0 0zm-1 1zm-3-2zm-1 1zm0 3zm0-7zm-1 1zm-1 3zm0 1zm-3-3zm0 2zm-1-3zm-2 5zm-1-3zm-3-3zm-6 7zm-15-4zm-18 3zm-6 13zm10-4zm16-3zm4 4zm2-1zm3-5zm0 5zm1-2zm1 4zm4-1zm2-8zm1 7zm1-5zm1 10zm5-5zm1-3zm1-3zm3 2zm1 5zm2-5zm2 6zm1-1zm0-3zm1 4zm0 0zm2 0zm2-6zm1 0zm0 5zm0 4zm1-6zm2 0zm0-2zm1 2zm0-2zm1 6zm0 2zm1-8zm2 1zm1-1zm0 6zm1-3zm0 1zm0 4zm1-6zm0 3zm0-8zm2-1zm0 11zm1-7zm0 7zm2 1zm0-1zm1-5zm1-2zm0 0zm0-3zm2-1zm0 8zm2 2zm1-8zm0 2zm1-1zm0-2zm1 7zm0-6zm2 9zm2-1zm1-9zm1 10zm1-2zm0-6zm0 1zm1 1zm0-1zm0 6zm0-9zm1 1zm1-1zm3 3zm1 3zm2-2zm1 3zm0-3zm1 2zm1 0zm1 4zm1 0zm0-2zm5-1zm1-2zm1-5zm7 1zm3 0zm4 7zm1-9zm0 20zm-6-4zm-1 4zm-5-2zm-1 2zm-10-8zm-5 2zm-1 2zm-2 1zm-8 4zm-2-4zm-4-4zm-1 5zm-1 1zm-1-6zm-1 7zm-1-4zm0-2zm0 0zm-1 1zm0 8zm0-2zm-1-8zm-2 10zm-2-4zm-1-6zm-1 8zm-1 1zm-3-9zm0 2zm-1 8zm0-5zm-1 1zm0 0zm0-6zm-2 8zm-3-9zm-1 12zm-1-10zm-2 8zm-3-1zm-1-8zm-1 11zm0-9zm-1 4zm-2-6zm-2 4zm-1-1zm0 2zm-1 1zm-2-7zm-1 1zm-1 0zm0 4zm-2 4zm-1-7zm-1 9zm-1-6zm-3 0zm-3 4zm-1 3zm-4-4zm-1-6zm-2 3zm-3 3zm-2-8zm-1 9zm-2-4zm-5-1zm-6 8zm-17-2zm-4-2zm-16-4zm21 9zm4 3zm4-4zm2 3zm11-2zm5 10zm3-10zm12 4zm4-3zm6-2zm0 5zm5-3zm4 8zm0-2zm2-7zm1 1zm6-2zm2 6zm5-5zm2 0zm3 2zm3 3zm1-3zm1 1zm1 3zm0-5zm1 4zm1 4zm4-7zm0-3zm2 9zm1-3zm0 4zm1-7zm4-1zm1 8zm8-2zm1 1zm21-7zm-24 12zm-1 1zm-8 0zm-17 8zm-5-10zm0 6zm-14 3zm-3-10zm-2 7zm0 3zm-6-8zm-3 9zm-2-6zm-21-3zm-4 10zm-5-4zm-5 3zm4 4zm14-2zm0 11zm26-12zm26 11zm-8 4zm-15 5z"/><path stroke="#32b37b" stroke-width="3.4" d="M1871 1787zm-40 3zm132 16zm-47 12zm-18-8zm-9 2zm6 16zm6 1zm4 1zm3-2zm37-5zm2 3zm31 12zm-5-5zm-21 2zm-4-1zm-9 1zm-23-4zm-18-1zm-3 9zm-67-1zm62 5zm5 0zm9-1zm1 9zm1 2zm3 0zm8-5zm5-5zm3 8zm1 2zm2-11zm2 6zm1 2zm4-3zm3-3zm3 0zm0-1zm6 9zm2-6zm11-1zm14 3zm30-2zm-27 13zm-7 1zm-5-4zm-3 8zm-1 1zm0 0zm-6-6zm-4 4zm-7-2zm-2-5zm-1 6zm-1-5zm-1-1zm0 10zm0-10zm-9 4zm-4-3zm0 4zm0 5zm-2-2zm0-1zm-4 1zm-2-3zm-2 3zm0 0zm-1-7zm-2 2zm0 0zm-2 3zm-3-6zm-3 5zm0 5zm-1-5zm-2 0zm0-1zm-8-2zm0-1zm-9-3zm-5 10zm-14-1zm-12-6zm12 13zm4-2zm4 4zm1 3zm10-4zm1-1zm2 4zm1-5zm3 5zm2-1zm0 4zm1-8zm1 9zm1-9zm3-1zm0 6zm0-5zm0-1zm1-1zm0 8zm0-4zm1 1zm4 2zm1 0zm0-2zm1 3zm2-5zm0 0zm0 6zm0-9zm0 0zm2 6zm0 4zm0-7zm0-2zm1 0zm1 6zm0-2zm0 4zm0-8zm1 2zm1 7zm1-8zm1 9zm0-7zm1 3zm0-1zm1-3zm0 0zm7 5zm1-4zm1 7zm1-2zm5-5zm4-3zm5 8zm3-1zm1-1zm1 3zm1-5zm2-6zm0 8zm3-1zm0-5zm1 5zm8 0zm2 2zm6-2zm10 2zm11 5zm-9 7zm-19 1zm-6-5zm-4 3zm-4-7zm-4 3zm-1-1zm-1 0zm0 9zm-1-12zm-1 11zm0-6zm0-3zm-3 7zm-1-9zm-1 5zm0-1zm-1-2zm0 10zm-1-4zm0 4zm-1-11zm-1 4zm0 2zm-1-6zm-1 10zm-1-5zm-1-5zm0 3zm-3-4zm-3 9zm-1 0zm-2-6zm-1 4zm0 0zm-1 2zm0-8zm-1 6zm0 1zm0 2zm-1 1zm-1-4zm-1 2zm0 3zm-1-3zm0-5zm0 5zm0-1zm-1-8zm0 4zm0 4zm-1-7zm0 4zm-1 2zm0-2zm0 5zm-1-7zm-1 3zm0 2zm-2 3zm0-1zm0-9zm-1 8zm-1 0zm-2-4zm-1-4zm-1 4zm0-4zm-1 4zm0 5zm-2-8zm0 6zm-2 0zm0-6zm-1 2zm0 7zm0-8zm0 1zm-1 0zm-3 3zm0-2zm-2-3zm0 9zm-1-1zm-1 1zm-3-2zm-1-1zm-3-7zm-1 3zm-2 5zm-2-9zm-1 1zm0 8zm-2-9zm-2 12zm-1-11zm0 9zm0-2zm-1 3zm-2-1zm-4-2zm-1 2zm-27 8zm25 1zm1-4zm3 2zm3 5zm1 0zm1-3zm2 3zm0 2zm1-10zm0 8zm4 2zm1-9zm5 6zm0-3zm0 4zm1-3zm0 0zm1-2zm1-3zm0 5zm1-3zm1 3zm0 0zm1 1zm1 0zm2 1zm1-6zm2 5zm0 1zm1-3zm1-5zm0 1zm3 0zm0-1zm1 9zm0-5zm1 2zm2-6zm1 0zm0 6zm0-1zm1 2zm0-2zm0 0zm2 5zm0 0zm1-1zm1-1zm0-2zm0-5zm1 0zm1 1zm0 6zm1 3zm0-2zm1-8zm0-2zm1 4zm1 4zm0-7zm0 6zm1 2zm1-6zm1 3zm2-5zm1 9zm1-3zm1-2zm2-4zm0 1zm1 6zm0-7zm1 0zm1 3zm3 6zm3 1zm1-11zm1 3zm5 6zm0-5zm1-2zm4 2zm3 5zm1-3zm1-1zm5-2zm8 6zm-10 5zm-2 8zm-2-3zm-9 5zm-3-2zm-2-5zm-2-3zm-4 3zm-3-4zm-1 4zm-3-2zm-2 1zm-3-1zm-1-1zm0 5zm-1-6zm-1 11zm-1-12zm-1 0zm-2 0zm-2 3zm-1 6zm-1 1zm-1-6zm0 5zm-1-6zm-1 8zm-1-4zm-3 0zm0-7zm-4 3zm-1 0zm0 5zm0 0zm-1-6zm-2 5zm-3-3zm0 0zm-1-3zm-7 2zm0 1zm0 5zm0-4zm0 4zm-3-6zm0 6zm-7 0zm-5-1zm-1 1zm-7-2zm-1-4zm-2 1zm-3 3zm-20 1zm-5 8zm13-3zm20 1zm5 2zm3-1zm0 7zm3-4zm7-5zm0 10zm3-11zm6 1zm5 1zm1 2zm3 4zm1-6zm3 2zm4-2zm4 9zm0-7zm2 5zm2-6zm20 4zm9 2zm5-5zm-30 13zm-21 1zm-11-5zm-40 0zm-46 23z"/><path stroke="#40bc72" stroke-width="3.4" d="M1866 1781zm45 22zm25-3zm4 4zm22-4zm15-1zm11-5zm-5 22zm-6-7zm-10 1zm-8 7zm-47-11zm-1 1zm-63 5zm-32-5zm-9 10zm76 5zm24-2zm21 8zm2-6zm2 7zm4-1zm9 0zm4-9zm13 8zm12-1zm2-6zm6 5zm7-6zm9 4zm16 12zm-20 4zm-2-5zm-4 8zm-2-7zm0 3zm-3 3zm-2-3zm-4-6zm-10 5zm-3 0zm-1-1zm0 5zm-9-2zm-1 0zm-1-8zm0 9zm-2 0zm0-6zm-2-3zm-1 1zm-4 7zm-2-2zm0-6zm-1 8zm-8-6zm-3-3zm0 10zm-1 1zm-5-2zm-8 0zm-20 1zm-43-5zm44 16zm9-2zm8-2zm2 5zm6-2zm3 0zm1-3zm8-4zm1 4zm3 1zm1 5zm1-7zm1-3zm1 3zm4-3zm1 5zm2-1zm2-1zm1-4zm0 4zm0 6zm0-6zm1 2zm3 3zm2-4zm1 4zm2-4zm1 4zm4-9zm16 6zm4-3zm3-2zm1 1zm19 9zm5 12zm-22-6zm-2-3zm-5 3zm-19 1zm-4 5zm-3-10zm-2-1zm-2 6zm-4 1zm-1-3zm-1 6zm-3-9zm-2 3zm0-1zm-4 3zm-4 5zm-3-1zm-2-5zm-1-3zm-1-2zm-5 6zm-2-2zm0-3zm-1 3zm-6-1zm-2 3zm-99-4zm51 19zm14-4zm18 5zm13 0zm0-3zm4-1zm1 3zm2-7zm0 0zm3 9zm3-5zm6 0zm0 5zm1-7zm3-2zm0 10zm2-1zm1-6zm4 0zm1 5zm1-6zm2 2zm0-2zm1 1zm3 4zm1-9zm0 6zm5-6zm1 7zm5-1zm1 3zm0-1zm0 2zm3-3zm1 2zm2 3zm3-2zm1-8zm5 5zm3-6zm20 9zm-10 2zm-1 0zm-13 3zm-2 1zm-1-1zm-14 1zm-1 4zm-5 4zm-10-3zm-1-8zm-7 4zm-1 6zm-11-4zm-6-3zm-2 6zm-1-3zm-4 1zm-9-3zm-3 0zm-3-1zm0 8zm-16 3zm1 3zm2-4zm7 0zm2 9zm7-8zm1 5zm3 2zm5-7zm4 1zm4-2zm0 7zm2-4zm1-3zm1-1zm5 3zm11 5zm2-8zm3 5zm8-2zm7 14zm-14-6zm-7 9zm-4-3zm-5-4zm-7 3zm-9 6zm-16-7zm-3-3zm0 6zm-34-3zm-2 2zm-19 12zm24 5zm7-8zm35-3zm20 11zm-47 2z"/><path stroke="#54c467" stroke-width="3.4" d="M1807 1781zm193 9zm-1-5zm-7 2zm-14 2zm0-6zm-18 11zm-117 1zm76 0zm18 11zm6-8zm5 6zm6-7zm7 9zm8-8zm8 4zm7 2zm3-2zm2 2zm0-2zm2-1zm2-6zm4 0zm14 11zm-4 4zm-5 7zm-8-5zm-1 2zm-3 0zm-6 1zm-5-4zm-5 6zm-1 0zm0-2zm-1-5zm0-3zm-3 3zm0 0zm-1 3zm-3-3zm-1 7zm0-11zm-9 10zm-1 2zm-7-6zm-1 0zm-18 1zm-12 1zm-102 0zm98 6zm9 3zm14 5zm1 1zm3-2zm6 0zm5-1zm0-2zm1 2zm0-1zm1-4zm2 4zm2-4zm2 4zm2-3zm0 1zm2 3zm3-8zm1 10zm0 2zm0-11zm1 2zm1 6zm4-2zm1 1zm2 1zm0 1zm8-1zm6 1zm7-5zm26 15zm-6 3zm-8-1zm-10-3zm-1-7zm-1 8zm-1-8zm-3 1zm-2 3zm-2 4zm0-3zm-1 2zm0 2zm0-3zm-1-3zm-1 0zm-5 3zm-8 2zm0 1zm-2-2zm-9 3zm-2 2zm-4-11zm-1 9zm-1-7zm-5-1zm-4 7zm-1 3zm-10-7zm0-3zm-1 2zm-7 6zm-105-9zm80 15zm16 5zm8-5zm25 2zm1 3zm4-7zm0 9zm0-1zm8 1zm5-8zm0 0zm1 3zm1 5zm2-3zm1-5zm0-3zm5 5zm1 6zm2-4zm0-3zm2-2zm0-1zm2 9zm8 2zm4-7zm0 2zm7-7zm18 4zm6-3zm-27 16zm-3-2zm-2 4zm-10-7zm-15 8zm-1-5zm-5-2zm-2 6zm-5-4zm-6 1zm-3 4zm-1-7zm0 6zm-3-6zm-8 0zm-6 6zm8 15zm4 0zm19-9zm0 4zm8 2zm10 2zm8 3zm3-7zm29-3zm-50 12zm-72 12zm36 5zm25 17zm-75 3z"/><path stroke="#6acc5a" stroke-width="3.4" d="M1982 1757zm36 4zm-33 0zm-18 3zm-12 15zm5 1zm25 1zm4-2zm3 0zm7-1zm1-5zm2 0zm1 2zm1 4zm1-1zm2-6zm3 6zm6 1zm4-7zm-6 21zm-5-8zm-9-3zm-1 10zm-1-2zm-3-7zm-5 5zm-2-1zm-4 6zm-3-9zm0 5zm-5 1zm-1-1zm-12 3zm-1 0zm-12-4zm-3-5zm-9 2zm-11 4zm-9 7zm11 2zm3 0zm16 5zm6-6zm2 2zm1 5zm2-8zm2 1zm0 7zm1 1zm0-4zm6 4zm2-3zm1 2zm1-3zm1-4zm1 9zm0-1zm0-1zm8-1zm1-5zm1 1zm2 0zm3 2zm1-4zm1 4zm2 1zm3-7zm2 7zm2 0zm0-1zm5-2zm3 2zm4 2zm5 0zm8-5zm6 4zm9 2zm0-3zm1 11zm-11-5zm-3 0zm-15 3zm-3-3zm-3 0zm-2 7zm-3 2zm-4-8zm-1 6zm-2-1zm0-6zm-1 1zm-2 5zm-2 4zm-4-9zm-1-2zm0 2zm-3 9zm-1 0zm-3 0zm-1-8zm-1-3zm-1 11zm-1-8zm0 4zm-3-3zm-1-2zm0 6zm-1-3zm-3 2zm-2-6zm-5 1zm-7 9zm-29-2zm36 5zm11 3zm7 3zm0-5zm16 2zm3-3zm0 1zm2-3zm1 0zm1 7zm3-4zm5-1zm8 0zm30 11zm-32 9zm-3-8zm-2-1zm-9 1zm-7 8zm-4-3zm0 0zm-4-5zm0 5zm-4-3zm-8 6zm-3-1zm-5-7zm-1 0zm0 9zm-16-11zm-9 6zm35 16zm15-3zm15-5z"/><path stroke="#82d34c" stroke-width="3.4" d="M2005 1727zm17 4zm1-4zm19 15zm-5-2zm-1-5zm-20 0zm-18 6zm-1 0zm-28 8zm7 4zm13 4zm2-2zm2-5zm6 3zm12-5zm2 7zm2 1zm0-6zm3-1zm4 1zm27 18zm-13-9zm-2 0zm-2 0zm-2 9zm-5-1zm-1-5zm0-3zm-7 4zm-1 3zm-1-3zm0 4zm-2-5zm0 4zm-3-3zm-2-3zm-1 8zm0 1zm-4-6zm0 0zm-2 4zm-2-9zm-4 10zm-3-7zm-1-3zm-2 7zm-3-6zm0 3zm-11 1zm-2-2zm-5 6zm-20 3zm3 9zm9-3zm4 1zm5-5zm3 2zm5 6zm0 1zm13-9zm7-1zm1 8zm1-6zm14 4zm8 1zm1-1zm1 0zm0-2zm1-5zm3 8zm2-6zm5-1zm6 3zm4-4zm1 22zm-6-3zm-17-6zm-2 4zm-1 1zm0-3zm-5 7zm0-5zm-1 1zm-2 0zm-2 3zm-2-6zm-1 4zm-1 0zm-2 3zm-7-7zm-5-3zm-4 2zm-2 0zm-3 8zm-3-7zm-5 7zm0-9zm-1 2zm-5 0zm-2-2zm-4 4zm18 18zm3-8zm1 3zm4 0zm2 0zm22 1zm1 1zm3-1zm0 1zm11-3zm5-3zm9 6zm-10 4zm-14 5zm-5 1zm-7 1zm-2-2zm-5 0zm0 2zm-1 3zm-1 1zm-4-11zm-1 1zm-8 8zm-3-5zm-7 2zm-27-2zm44 14zm0-3zm12 6z"/><path stroke="#9ed93a" stroke-width="3.4" d="M2026 1714zm-10-2zm-8 10zm-5-4zm8 10zm6 0zm2-1zm4-3zm10 8zm2-4zm0-3zm1 2zm2 7zm1-1zm9-7zm8 8zm-14 8zm-8-3zm-4 2zm-1 3zm-3-6zm-1 5zm-1-3zm-6 3zm-2 0zm-2-1zm-2 0zm-1 1zm-4-8zm-3 10zm0 0zm-1-6zm-5-1zm0 7zm-5-2zm-7 1zm-12 5zm14 5zm2-4zm4 4zm1-5zm2-2zm2 8zm5-8zm2 1zm3-1zm0 7zm1-8zm1 9zm2-4zm1-2zm1-1zm0-2zm3 4zm1 5zm0 1zm3-3zm6-6zm2 5zm3 1zm1-3zm8-2zm2 0zm2 9zm4-10zm6 3zm-9 19zm-8-8zm-8 5zm0-4zm-3-4zm-4 5zm0-3zm0 3zm-1 4zm-5-8zm-1 5zm0-6zm-1 3zm-1-2zm-2 6zm0-4zm-2 1zm0-1zm-2 6zm-2 3zm-12-11zm0 1zm-2 9zm-9-3zm-1-3zm0-2zm-2-1zm-2-1zm-2 3zm-20 4zm-30 2zm50 7zm14 2zm6-1zm10-5zm0 7zm9-4zm2 4zm1-2zm4 1zm8-3zm4 8zm-22 7zm-2-2zm-5 0zm-1 4zm-13-2zm-4 3zm-5-6zm-3-3zm-6 3zm-10 6zm45 8zm2 3zm2-7zm31-1zm-17 12zm-6 5zm-29 1zm19 5z"/><path stroke="#bade28" stroke-width="3.4" d="M2009 1668zm-55 6zm16 7zm29 1zm16 3zm6 0zm0 0zm3-4zm6-7zm3 9zm2-6zm2 9zm4 0zm4-8zm1 1zm4 6zm4-1zm11 0zm1 3zm-4 4zm-3 0zm-2-2zm-1 7zm-2-4zm0-1zm-4 5zm-2-1zm-5-1zm-3-8zm-2 2zm-2 6zm-2-5zm0 7zm0-4zm-1 4zm0-2zm-2 1zm-3-2zm-2 4zm0 0zm-2-7zm0 8zm-8-11zm-1 10zm-2 0zm-2-5zm-2 4zm0-3zm-5 1zm-4-1zm-3 4zm-1-4zm0-1zm-2 0zm-8 5zm-2-1zm-7 0zm-2-7zm-13 6zm-11-7zm-8 8zm-56 10zm26-1zm48 4zm1-3zm4-2zm6 1zm10-1zm12 0zm0 5zm1-6zm9 1zm1-4zm4 7zm1-6zm3-2zm0 7zm2-2zm0 1zm1-5zm4 3zm0-2zm3 5zm1-2zm0 4zm2-4zm1 3zm2 1zm0 1zm0-3zm1 2zm0 2zm0-11zm1 0zm0 10zm3-2zm1 2zm3-10zm0 1zm0 4zm1-4zm3 3zm0 1zm0 2zm0 2zm3-9zm0 2zm1-1zm0 3zm0-3zm2 8zm1 1zm1-7zm0 6zm1-9zm1 10zm0-4zm0 2zm0-1zm1 3zm0-1zm0-2zm0-1zm2 1zm2-3zm1-1zm1 2zm0 1zm2 5zm0-4zm0-5zm3 0zm2 6zm1 2zm2-6zm0-2zm1 8zm1-3zm2-4zm2 2zm1 1zm0 1zm1-1zm0-5zm4 11zm-1 9zm-4-10zm0 3zm-1 7zm-6 0zm-1-7zm-2 2zm-1 7zm-2-7zm-1 0zm0 1zm-2 1zm0 3zm0-8zm-1 4zm0 6zm-1-5zm-1 2zm-2-5zm-1 5zm-1 1zm-1-6zm0 1zm-1-3zm0 1zm-1 7zm-2-3zm-2 0zm-1 3zm-2-5zm-1-1zm0 5zm-2 2zm0-10zm0 3zm0 1zm-1 4zm0 3zm0-2zm-1 0zm0 1zm0-3zm-2-7zm0 7zm-1 0zm0 4zm0-11zm-4 3zm0-2zm-1 3zm-1-1zm0 6zm-1-7zm0 4zm0-2zm-1 2zm0 1zm-1 1zm0-1zm-1-8zm-1 1zm0 4zm0 4zm0-8zm-1 6zm0-2zm0 2zm0-5zm-1 2zm0 4zm0 3zm-1-1zm0-1zm-1 2zm-1-4zm-1 3zm0 0zm0-9zm-1 8zm0 1zm0 1zm-1-9zm-2 6zm-1-5zm-1 0zm0 4zm-2-3zm-1-1zm-1 7zm0-5zm0 1zm-1 4zm-4-1zm-1 3zm-7-3zm0-6zm-1 6zm0 0zm0-3zm-2-2zm-2 4zm-30-1zm-13-5zm36 16zm1 2zm2 3zm0-10zm3 8zm3-8zm3 5zm1-6zm1 9zm1-2zm0-2zm1 0zm2 3zm3-5zm1-2zm1 10zm3-7zm4-3zm1 0zm1 6zm1-4zm1 0zm1-2zm1 3zm0 8zm1-3zm0-7zm1 6zm1-3zm1-2zm1 7zm1 0zm1 2zm0-8zm1 4zm1-6zm0 1zm0-3zm1 5zm0 1zm0-4zm2-1zm1 2zm1-2zm1 0zm1 10zm1-6zm0 1zm0-1zm1 4zm0 1zm0-4zm1 0zm1-2zm0 2zm0 6zm1-4zm0-4zm1-1zm0 0zm1 7zm0-1zm0-6zm1 3zm2-3zm2-2zm1 5zm0 2zm0-2zm0 2zm2-6zm0-1zm0 3zm3 1zm0-3zm2 1zm3 8zm2-9zm10 4zm6 0zm-12 9zm-7 8zm-3-9zm-10 2zm0 7zm-4 1zm0-9zm-1 9zm-1-8zm-1 6zm0 1zm0 0zm-1-5zm-1-4zm-2 1zm0 7zm-1-8zm0 0zm-1 0zm0 4zm-2-3zm-1-3zm-2 8zm-1 1zm-1-7zm0-1zm-5 7zm0-1zm-1 2zm-3-2zm-1 1zm0-4zm-2-2zm-1 6zm-1-4zm-2 4zm-2 1zm-1 0zm0-3zm-2-4zm-24-2zm-4 1zm-20 8zm-41 12zm61-3zm1-5zm10 4zm5 3zm9-3zm15-5zm2 2zm2 3zm2 6zm2-3zm2-4zm2 0zm1 0zm5-3zm2 5zm0-4zm5-1zm1 2zm0 3zm1-2zm0-4zm5 9zm3-3zm3-3zm26-3zm-46 14zm-3 3zm-1 5zm-6-5zm-2-3zm-3 9zm-7-8zm-1 1zm-2 1zm-17-1zm-13-2zm-23 3zm-1-2zm29 17zm27 3zm44-7z"/><path stroke="#d5e226" stroke-width="3.4" d="M2076 1671zm-1-1zm-180 16zm14-10zm17 5zm14-3zm49-3zm6 10zm2 0zm19-7zm0 2zm0 1zm6 4zm2 0zm1-3zm2 3zm2-2zm1-5zm2 5zm0 0zm4-2zm0-6zm8 8zm0-3zm2 4zm2 2zm2-2zm4-1zm4-5zm1 7zm2-6zm1 1zm5 5zm8 13zm0-8zm-5 0zm-2-1zm0-3zm-1 8zm0 2zm0 2zm-1-1zm-4 1zm0-11zm-2 9zm-1 1zm0-4zm-2-1zm-1 5zm0-3zm0-5zm-1 8zm-1 1zm-1-1zm0-4zm-1 4zm-1-2zm0 1zm0-8zm-1 4zm-1-1zm0 5zm-1-3zm0-1zm0 6zm-2-7zm-1 3zm0-6zm-2 10zm-1-8zm-1-2zm-1 10zm0 0zm-1-5zm-1 5zm0-3zm0-3zm-1 0zm0 4zm-1-10zm-1 4zm0 1zm0 5zm-1-1zm0-5zm0 8zm-1-11zm-1 3zm0 7zm0-2zm0 1zm-4 1zm-1-9zm0 1zm-3 2zm-1 2zm0 4zm-1 0zm0-1zm-1 1zm0-3zm0-2zm0 2zm0 0zm0-6zm-1 2zm-3 3zm0 3zm-1-7zm-2 4zm-1-2zm0-3zm-2 5zm0 1zm-1 4zm-8-6zm0-2zm-3 4zm-5-2zm-5-1zm-6 1zm-10 6zm-7-7zm-10 4zm-35-7zm-29 14zm47 4zm18-3zm1-2zm6-1zm6 1zm7 1zm3 5zm1-3zm3 2zm5-4zm1 3zm1 4zm3 0zm1-2zm0-5zm1-2zm0-1zm3 6zm0 2zm1 2zm0-5zm0-2zm2-1zm0 7zm0-9zm1 9zm0-6zm1 6zm2-2zm2 2zm1-2zm1-2zm0-6zm0 7zm1-5zm0 7zm1-2zm0-2zm1-3zm0 5zm1-5zm1 5zm0-5zm1 8zm0-5zm0 2zm0 4zm1-4zm1 5zm1-3zm0 1zm0-7zm0 1zm2-4zm0 7zm0 2zm0-2zm0 0zm0 3zm0 0zm1-7zm0 9zm0-2zm0-4zm0-6zm1 11zm0 0zm0-5zm0 5zm1-5zm0-1zm0 7zm1-12zm1 11zm1-2zm0-7zm0 5zm0-7zm1 9zm0 0zm0-4zm0-1zm0 7zm1-3zm0-8zm0 8zm0-7zm0 4zm0 1zm0 1zm1-7zm0 5zm0 4zm0-1zm0-2zm0 2zm0 1zm0 1zm0-8zm1 10zm0-2zm0-9zm0 8zm1 3zm0-10zm0 2zm0-1zm1 8zm0-10zm0 7zm0 3zm0-2zm1-2zm0 0zm0-1zm0 6zm0-9zm0 2zm1 3zm0-6zm0-2zm0 2zm0 3zm1 3zm0-4zm0 4zm0 0zm0-5zm1 6zm0-5zm0 1zm0 6zm0-2zm1 1zm0 2zm0-12zm0 10zm0-6zm0-2zm0 6zm1 1zm1-4zm0 0zm0 0zm1-1zm0 3zm0 3zm1-6zm0 5zm0-8zm0 2zm0 5zm0-1zm0-4zm0 0zm0 2zm1 6zm0-3zm0 2zm1-6zm0-4zm1 10zm0 2zm1-11zm0 9zm1-7zm0 4zm0-3zm1-4zm0 11zm0-8zm0 5zm1 1zm0-5zm1 6zm3-7zm0 1zm0 0zm1 5zm1 1zm0-1zm1-4zm1 1zm0 6zm0-7zm0-3zm0 7zm1-7zm0 8zm0-6zm1-2zm0 2zm1-3zm0 0zm1 9zm0-8zm1 8zm0 2zm0-6zm0-4zm1 8zm1 0zm0-2zm0-7zm0 8zm0-2zm0-4zm1 3zm0-5zm0 3zm1 1zm1-4zm0 0zm0 0zm1 2zm1 0zm0 7zm0-5zm0 7zm1-8zm0 7zm1-2zm0-4zm1 1zm0 3zm0-7zm1 8zm2-7zm2 7zm2 0zm1-9zm1 6zm1-5zm-4 12zm0 0zm-1 7zm-1 0zm-1-2zm0-7zm-3 7zm-1 0zm0 2zm0-3zm0-3zm-2-2zm0 7zm0-3zm-1 2zm-1 1zm0 4zm-1-7zm0 7zm0-2zm0-7zm0-1zm-1 0zm-2 8zm0-6zm0 3zm0-2zm-1-4zm-1 5zm0 0zm0 6zm0-4zm0-8zm0 5zm-1-1zm0-3zm0 1zm0 7zm-1-3zm0 3zm-1-3zm-1-5zm0 9zm-1 0zm0-8zm-1 0zm0 4zm0-5zm-1 6zm0 0zm0-4zm-1-2zm0 10zm0-7zm0 4zm0 4zm-1-7zm0-4zm0 4zm-1 0zm0 6zm0-3zm0-3zm-1 0zm0-3zm0 10zm-1-10zm0-2zm0 10zm0-10zm0 1zm-1 6zm0 5zm0-3zm0-7zm0 4zm0 4zm0-9zm-1 1zm-1 1zm0 9zm0-4zm-1-5zm0-2zm0 4zm0 7zm0-3zm0 2zm0-11zm0 7zm0 1zm-1-2zm0-1zm0-2zm0 0zm0 8zm0 0zm0-4zm0 1zm0-3zm-1 6zm0-8zm0 5zm0-1zm0 1zm0-3zm0 5zm-1-8zm0 7zm0-5zm0 0zm-1 2zm-1-1zm0 2zm0 2zm0-5zm-1 0zm0-4zm0 1zm0 2zm0-1zm-1-1zm0 9zm0-10zm0 1zm0 4zm0 1zm0 4zm-1-2zm0 1zm0 2zm-1-3zm0 1zm-1 2zm0-1zm0-5zm0 0zm0-3zm0 4zm0 5zm0 0zm0 0zm-1-9zm0 0zm0 0zm0-1zm-1 7zm0 1zm0 1zm0 0zm0-3zm0 3zm0-5zm0 5zm-1-9zm0 4zm0 7zm0-4zm-1 0zm0 3zm0-5zm-1-5zm0 3zm0-4zm0 4zm0 4zm-1-4zm0 2zm0 3zm-1-6zm0-1zm0 3zm0-1zm0 2zm0-5zm0 1zm0 9zm-1-8zm0 4zm0-1zm0 6zm0-1zm0-9zm0-1zm0 6zm0-2zm-1 4zm0-4zm0 2zm0 0zm0-5zm0 1zm0 6zm0-8zm-1 8zm0 2zm0-5zm0-4zm0 1zm0-1zm-1 9zm0-10zm-1 2zm0 3zm0 1zm0 2zm0-6zm0 2zm-1 0zm0 6zm-1-7zm-1-4zm0 0zm0 6zm0-3zm0 1zm-1-3zm0 2zm0 2zm-1 6zm0-3zm-1 0zm-1 4zm-1-5zm-1 4zm0-10zm0 5zm-1 3zm0-6zm0 5zm-1-6zm0 5zm0 0zm-1-1zm-1 1zm0 4zm0-5zm-1 4zm0 0zm-1-5zm0 7zm-1-6zm0-5zm0 7zm0-7zm-1 3zm0 3zm-1-1zm-2 6zm0-8zm-1-2zm-1 8zm-5 2zm0-2zm-1-4zm-1 4zm-2 0zm0-7zm-1 1zm-5 3zm-6 1zm-3 2zm-7 2zm-3-12zm-19 11zm-1-7zm-51-3zm24 19zm3 2zm4-8zm21 1zm27 2zm3 1zm6 6zm0-11zm3 3zm0 4zm10-4zm2 2zm1-5zm1 10zm6-7zm1 8zm1-4zm1-4zm1-4zm1 1zm2 2zm1 9zm0-3zm1 2zm0-8zm0 2zm3-2zm0 5zm0-5zm0 7zm1-7zm0 2zm0 3zm1-3zm0 3zm0-7zm1 7zm0-5zm0 6zm1-6zm0 0zm1-2zm1 8zm0-1zm0 3zm0 0zm1-10zm2 10zm0-7zm1 4zm0-4zm0 4zm1 3zm0-11zm0 4zm0 3zm1 2zm0 0zm0-3zm1-3zm1-1zm0-2zm1 10zm0-7zm0 5zm1-6zm0 9zm2-7zm0 2zm0-6zm0 3zm0-1zm0 10zm0-12zm1 11zm0-5zm0 3zm1-4zm0-2zm1 0zm0-1zm1-1zm0 2zm1 3zm1 1zm0-2zm0-5zm0 11zm1 0zm0-10zm0 10zm1-11zm0 3zm0 5zm1 3zm0-4zm0-3zm1 0zm0 1zm1-1zm0 5zm0 3zm1-7zm1-4zm1 9zm1-5zm0 3zm0 2zm1-9zm1-1zm0 7zm0-6zm1 2zm1-1zm1 0zm1-2zm0 2zm0 1zm3-2zm0 5zm2-2zm1 6zm0-1zm2-7zm0 8zm1 0zm0 1zm2-3zm1 1zm1-6zm0 7zm0-9zm2 3zm3-1zm5 8zm1 6zm-8 2zm-2-5zm0 5zm-2-2zm0 4zm-12-8zm-2 6zm0 5zm-1-6zm-2-2zm0 6zm0 0zm0-7zm-4 5zm-3-5zm-3 2zm-1 2zm-7-7zm-1 2zm-2 0zm0-2zm-1 2zm-2 2zm-2 5zm0-4zm-1 3zm-5-7zm-1 2zm0 3zm-1-3zm-4 5zm-1-5zm-2-1zm0 6zm-2 4zm-1-2zm-2-10zm-5 1zm-1 3zm0-2zm0 5zm-1 4zm-3-7zm-2 2zm-1 2zm-6-6zm-3 8zm-1-7zm-9 6zm-3 1zm-11-8zm-8 10zm-55 12zm44-3zm26-3zm7-5zm18 2zm17-1zm7 3zm1-3zm4-1zm4 3zm5 3zm2-6zm9 0zm17 9zm14-10zm-3 16zm-19-3zm-7 1zm-3 1zm0 4zm-25-3zm-58 3zm-15-6zm-14 0z"/><path stroke="#f0e525" stroke-width="3.4" d="M2054 1672zm-4-1zm-19 0zm-47-1zm-77 11zm14 2zm17-8zm35 9zm7-1zm11-1zm1 3zm3-4zm1 1zm0-6zm16 7zm0 2zm1-8zm6 4zm2 4zm3-3zm3-8zm1 4zm4 4zm1-1zm2 3zm0 1zm0-3zm0-2zm1-5zm2 10zm0-3zm0-3zm2 4zm0 0zm1 1zm0 2zm1-2zm1 1zm3-1zm3-4zm3-2zm3 1zm6 5zm1 2zm9-6zm4 17zm-2-3zm-2 2zm-1-1zm-5-4zm-1 7zm0-4zm-1-2zm0 6zm-1-3zm-2-4zm-2 5zm0-1zm0-5zm-3-3zm-1 6zm-2 3zm0 0zm0-4zm-1 2zm0-5zm0 5zm0 0zm0-7zm-1 8zm-1 2zm0 0zm-1-9zm0 10zm-2-2zm0-5zm-1 2zm-3 1zm0 3zm0 1zm0-8zm0 4zm-1 0zm-1 2zm0-7zm0 7zm0 0zm-2-6zm0 6zm0-8zm0 4zm0 1zm-1 5zm0-5zm-1-3zm0 5zm0 2zm0-2zm-2-4zm0 0zm0-4zm-1 7zm0 0zm0 2zm-1 0zm0 1zm-1-3zm0-3zm-1 5zm0-3zm0 4zm-1-9zm-1 8zm0-5zm0 7zm0-9zm-1 3zm0-3zm-1 3zm0 1zm-1 3zm-1-7zm0 6zm0 2zm-1 0zm0-3zm-1-3zm0 5zm-1-1zm-1 1zm0-4zm-1 4zm0 1zm0-4zm-2-3zm-1 3zm0 1zm-1 1zm-1 0zm0 2zm0-1zm0-7zm-4-1zm-2 2zm-2 1zm0-1zm-2 5zm-1 0zm-1 2zm-2 1zm0-8zm0 6zm-2-8zm-1 6zm-1 2zm-3-3zm0-6zm0 5zm-2 6zm-8-2zm-3-2zm-2 0zm0 2zm-8-10zm0 2zm-2 7zm-15 1zm-10-4zm-32 3zm5 7zm19 7zm31-11zm1 3zm12-3zm5 9zm2-6zm1 4zm3 0zm0-4zm1 6zm1 2zm0 1zm1-12zm0 0zm0 7zm1 5zm1-5zm2 5zm1-2zm1-7zm0-2zm1 7zm1-4zm1 4zm0-2zm1-5zm0 9zm0 1zm1-7zm0 2zm1 6zm1-3zm1-5zm0 7zm0-7zm0 4zm4 0zm1 2zm1 0zm0-2zm0-6zm0 4zm0 4zm0 0zm1-2zm1-1zm0-6zm1 8zm0 2zm0-11zm1 8zm0 1zm0 1zm0-8zm0 8zm0-8zm1 0zm0 0zm1 4zm0-4zm0-1zm0 3zm1 3zm0-4zm0 1zm0 4zm0-2zm0 3zm0 2zm1-1zm0-9zm0 6zm0 3zm1-7zm0 6zm0 0zm0-4zm1 6zm0-1zm0-5zm1 0zm0-4zm0 10zm1-9zm0 6zm0-4zm0 5zm0-6zm1-1zm0-2zm1 10zm0-8zm0 4zm0-5zm1 1zm0 8zm0 1zm1 0zm0-2zm0 3zm0-2zm0-9zm0 2zm1 5zm0-6zm0 3zm1 6zm0-10zm0 0zm0 7zm1-3zm0 5zm0-2zm0-4zm0-2zm1 8zm0 1zm0 1zm0-7zm0-2zm1 5zm0 0zm0 4zm1-3zm0-7zm0 4zm0 5zm0-9zm1 7zm1 2zm0-6zm0 4zm0-8zm0 4zm0-4zm1 10zm0-5zm0 4zm0-9zm0 4zm0 4zm1-4zm0-2zm0 2zm0 4zm1-6zm0 0zm0 1zm0 7zm0-7zm0 3zm1 2zm0 2zm0-9zm2 6zm0-1zm0-6zm1 0zm0 7zm0 2zm0-3zm1-6zm0 9zm1-5zm0 1zm0 5zm1 0zm0-2zm0 0zm0-8zm1 10zm0-4zm0-3zm0 4zm0-3zm0-2zm0 4zm0 1zm0 4zm0-4zm1-5zm0 6zm1-1zm0-8zm0 8zm0-5zm0 2zm0 6zm0-9zm0 8zm1-6zm1 7zm0 0zm0 0zm0-3zm0-1zm0 5zm1-2zm1 0zm0-8zm0 6zm0-8zm4 8zm0-1zm0-5zm1 0zm0 3zm0-2zm1 5zm0-1zm1 4zm0 1zm1-2zm0-4zm1-2zm0 6zm0-10zm2 0zm1 7zm0-5zm2 1zm0-1zm1 8zm0-2zm1 2zm1 0zm1-5zm1 1zm0 4zm2-7zm1 1zm1 7zm1-4zm0 1zm4 12zm-2 3zm0-5zm-2-3zm0 4zm-1-7zm-1 7zm-1 4zm0-10zm-1 5zm-1-2zm0-1zm-1-1zm-1 3zm0 3zm-1-4zm0-4zm0 1zm-2 4zm0-3zm-1 9zm0-11zm-1 8zm-2-3zm0 2zm-1-3zm-1 0zm0-1zm-1 0zm0-3zm0 2zm0 3zm-1 1zm0-6zm0 7zm-3 2zm0-4zm0-2zm0 0zm0-2zm-1 0zm0 3zm0 5zm0-8zm0 5zm0 5zm-1-4zm-1-1zm0-4zm0 2zm0-2zm0 10zm-1-1zm-1-7zm0-3zm0 8zm0-8zm-1 4zm0-3zm-1 6zm0 3zm0-2zm0-3zm-1 0zm0 5zm0-4zm0 0zm-1 5zm0-10zm0 7zm0-2zm-1-6zm0 6zm0 5zm-1-7zm0 0zm0 4zm0-7zm-1 1zm0-2zm0 4zm-1 1zm0 0zm-1-6zm0 7zm0-2zm0 1zm0 1zm-1-3zm-1 7zm0 0zm-1-3zm0 0zm0-6zm-1 7zm0-6zm0 2zm0-2zm0 8zm-1-2zm0-5zm0-4zm0 4zm-1 3zm0 2zm0 2zm0-9zm0 5zm0-1zm-1 3zm0-5zm-1 7zm0-8zm0 1zm0 3zm0-5zm0 8zm-1-8zm0 9zm0 1zm0-12zm-1 4zm0 0zm0-1zm0-2zm0 7zm0-6zm0 0zm0-1zm0 5zm0-4zm-1 6zm0-4zm0-2zm0 9zm-1-9zm0 4zm0-4zm0 4zm0-5zm0 7zm0-3zm-1-3zm0-2zm-1 4zm0 0zm0-3zm-1 3zm-1 1zm0 1zm0 6zm0-9zm-1-1zm0 1zm0-1zm0 6zm0-8zm-1 3zm0 1zm0 0zm-1 4zm0-6zm0-1zm-1 10zm0-11zm0 8zm-1-8zm0 2zm0 4zm0 4zm0-7zm-1 3zm0-1zm0 0zm0-2zm-1 0zm0-2zm-2 3zm-1-1zm-1 6zm0-9zm-1 11zm0-6zm-1-2zm0 1zm0-1zm-2 7zm0 2zm0-8zm-2-2zm0 8zm-1-1zm0 1zm-1-3zm0-5zm0 6zm-1-6zm-1 2zm-1-1zm-1-2zm-1 4zm0 4zm-1 2zm0-9zm-2 7zm-1-4zm-1-3zm0 0zm-1 0zm0 7zm-3-1zm-1-5zm-1-1zm0 7zm-4-3zm0-6zm-1 3zm0 4zm-3-3zm-12 6zm-2-1zm-1-6zm-3-1zm-54 5zm-6 3zm-4 11zm73-2zm3 1zm6-4zm2 5zm4-6zm2-2zm2 8zm1 3zm0-7zm4-3zm2 7zm2-2zm2 2zm0-3zm2 5zm0-10zm0 0zm0 6zm2 0zm1-5zm1 10zm1-11zm1 0zm0 11zm0-12zm1 2zm0 3zm1-4zm0 6zm1 3zm0-9zm1 2zm2 5zm0 1zm1-6zm1-3zm0 3zm1 1zm2-1zm1-2zm0 6zm0 5zm1-7zm0-4zm0 7zm1-5zm0-2zm0 3zm2-3zm0 3zm0 0zm1-2zm1 7zm0 1zm1-8zm0 3zm2 0zm0-3zm1 6zm1-8zm1 8zm0 2zm0-3zm0-3zm0 3zm1 4zm0-7zm1 1zm0-3zm0 1zm0 3zm1-5zm0 0zm0 4zm1 1zm0 5zm1-8zm0 4zm1-1zm0 3zm0 3zm0-4zm1-4zm1-4zm0 5zm1 4zm0 0zm0-5zm0-2zm1 6zm1-2zm0 1zm1 0zm1-6zm1 6zm1-4zm1-1zm1-2zm1 1zm0 1zm1 0zm1 3zm1 2zm0-7zm0 1zm1 0zm0 8zm3 1zm0-9zm0 1zm1 7zm0-3zm1-5zm1 2zm1-2zm1 2zm4 4zm1-3zm2 4zm0-5zm0 2zm5 0zm1 4zm2-4zm2 0zm-6 11zm-4-1zm-2 8zm-1 0zm-3-11zm0 1zm-2 0zm-9 7zm-1-4zm0-4zm-4 3zm-3 3zm0-1zm-1 2zm-8-4zm-2 1zm-4 8zm0-11zm-6 11zm-1-11zm0 6zm-1 0zm-2-7zm-2 11zm0-8zm-2 4zm-4 2zm-4-1zm-4 2zm-1-9zm-1 9zm-4 2zm-5-7zm-3-1zm-1-2zm-1 9zm-2-8zm-1 9zm-2-10zm-8 2zm-10 6zm-10-7zm-21 0zm-28 8zm-10-3zm-7 10zm3-1zm29-2zm10 5zm14-2zm9-5zm16 10zm8-10zm32 0zm5 7zm9-2zm1-2zm1-1zm2 1zm3-2zm9 3zm1 0zm5 5zm1-6zm14-3zm1 8zm8-2zm8 12zm-31-3zm-19-2zm-88 4zm-33-2zm-19 3z"/></g><g font-family="Liberation Sans, Arial, Helvetica, sans-serif" font-weight="bold"><text transform="translate(1725.3 1605.8) scale(1.026 1)" font-size="35.2">Pseudotime</text></g><rect x="2058" y="1850.4" width="13.6" height="114.1" fill="url(#gv)"/><path d="M2071 1851V1964.5" fill="none" stroke="#222" stroke-width="1.2"/><path d="M2058 1851h13.6" stroke="#666" stroke-width="1.5"/><path d="M2071 1864.5h-2.5M2071 1879.2h-2.5M2071 1893.3h-2.5M2071 1907.7h-2.5M2071 1922.1h-2.5M2071 1936.5h-2.5" stroke="#222" stroke-width="1.4"/><g font-family="Liberation Sans, Arial, Helvetica, sans-serif" font-weight="bold"><text transform="translate(2075.2 1863.8) scale(1.026 1)" font-size="28.7">1.0</text><text transform="translate(2076.3 1966.7) scale(0.982 1)" font-size="29.1">0.0</text></g><g fill="none" stroke-linecap="round"><path stroke="#e02a25" stroke-width="15" stroke-opacity="0.4" d="M317 1248zm-51 10zm3 14zm40 5zm37 7zm-188 15zm117 0zm5-5zm102 6zm59-8zm-3 13zm-31-3zm-27 6zm-3-5zm-20 1zm-98 0zm35 19zm13-6zm2 3zm28-5zm1 7zm12-8zm31 2zm64 6zm31 13zm-32-7zm-1 7zm-79-8zm-1 6zm-56-3zm-56 3zm-10 17zm8-4zm22-7zm0 4zm11 2zm113 0zm98 9zm-41-3zm-71 1zm-26-2zm-57 9zm-125 7zm19-2zm27 1zm27 3zm6-6zm1 2zm17 6zm29-5zm1 3zm34-2zm11 1zm2 0zm82 7zm67-2zm-135 8zm-11 5zm-57 0zm-10 0zm-17-8zm-28-3zm-22 11zm-31-5zm-61-3zm39 14zm21 3zm20 3zm34-10zm9 8zm6-1zm3-1zm18 5zm2-10zm10 9zm3-10zm11 8zm7-6zm7 4zm5 5zm10-12zm3 1zm0 8zm2-3zm1 5zm2-2zm1 0zm5-1zm44-6zm11-1zm4 9zm3-6zm29 6zm-70 3zm-13 1zm-2 2zm-5 7zm-13-2zm-3-9zm-35 9zm-5-8zm-3 2zm-2 4zm-9 3zm-20-2zm-2-7zm-6 2zm-22 4zm-14-2zm-9 15zm21-1zm20 1zm12 1zm15-3zm0 3zm58-7zm18 5zm8-6zm75 6zm15-6zm24 22zm-24-2zm-13-9zm-45 9zm-8 0zm-7 0zm-2-1zm-29-6zm-8 3zm-13-4zm-15 8zm-26-8zm-5 8zm-6-5zm-31-2zm-168-1zm-23 1zm119 11zm41 10zm103-3zm57 2zm28-2zm67 10zm-17 1zm-119 4zm-2 0zm-4-1zm-2 0zm-21-2zm-32-4zm-4 4zm-26 4zm-38-6zm-104-3zm162 10zm3 1zm4 1zm17-1zm23-1zm12 9zm13-1zm11-9zm11 5zm14 3zm9 4zm9-7zm31 1zm21-2zm-103 14zm-26-4zm0 3zm-218-2zm156 13zm0 3zm75-3zm5 8zm25-10zm34 22zm-7-3zm-30-9zm-136 19zm115 2zm66-6zm-103 19zm-3 6zm105 2zm19-2zm-88 13zm-13 0zm0-4zm142 27zm-112 13z"/><path stroke="#8a3a20" stroke-width="15" stroke-opacity="0.4" d="M379 1601zm-51 3zm1 7zm50 12zm-60-6zm-68 20zm72-11zm62 0zm-7 19zm-29-6zm-23 7zm-6-1zm-2 4zm-10-11zm-14 7zm-26 11zm12-4zm38 4zm3-4zm10 7zm38 1zm1-9zm21 1zm36 13zm-15 1zm0-3zm-38 3zm-4 0zm-44 7zm-17-7zm-29-2zm-12 11zm1 7zm37-4zm40 7zm8-7zm28 5zm76-4zm19 9zm-65 1zm-10-1zm-7 7zm-12-4zm-5 0zm-29 4zm-5-6zm-15-1zm-8-1zm-10-1zm-13 17zm49 2zm44-4zm5-3zm22 7zm4-3zm81 5zm-135 9zm-28-3zm-3 3zm-1 8zm47 9zm25 12zm-155 4zm75-1zm21 25z"/><path stroke="#c24c12" stroke-width="15" stroke-opacity="0.4" d="M975 1273zm39-1zm-39 17zm-18-2zm-30 1zm-169-7zm176 15zm0-1zm6-2zm9 9zm7-10zm11 8zm6 2zm15 4zm-8 7zm-11 0zm-5-2zm-5-9zm-2 8zm-20-1zm-2-1zm-7 3zm-4-8zm-10 1zm-1 0zm0 0zm-94 2zm0 5zm43 12zm11-7zm7 10zm10-4zm4 2zm1-2zm13 0zm5 2zm0-3zm2-3zm1 7zm0-3zm10-5zm12 1zm3-3zm3 6zm1-6zm5 10zm2-1zm15 2zm2-2zm4-6zm21 1zm19-3zm-17 15zm-2 4zm-2 1zm-7-6zm-2 8zm-4-6zm-1-3zm-9 0zm-2 5zm0-5zm-5 5zm-17-1zm0-7zm-1 4zm0 4zm-4-7zm-6 10zm0-9zm-1 4zm-2 4zm-1-1zm-1-4zm-1 5zm-4-1zm-9-1zm-3 1zm-1-6zm-9 7zm-4-5zm-6 3zm-10-7zm-3 8zm-12 0zm-24-6zm-35 9zm-17-12zm20 21zm27 1zm23 1zm4-5zm2-5zm4 10zm0-9zm7 6zm14 1zm1 2zm8 1zm2-5zm1-6zm10 0zm1 8zm3-1zm0-1zm2-6zm1 3zm2 5zm6-3zm0 4zm5-7zm3 5zm2 1zm6-8zm0 8zm3-2zm1-3zm0 7zm1-10zm3 3zm1 7zm4-4zm5-1zm4-5zm15 0zm2 5zm0-1zm2 6zm17-4zm5-7zm1 5zm5-2zm0 8zm6 7zm-4 6zm-1-11zm-5 5zm-5 0zm-1 2zm-11-3zm-2 1zm-3 4zm0-4zm-1-3zm0 8zm-1-1zm-6-5zm-4 0zm-5 6zm-1-9zm-3 7zm0-7zm-7 8zm-2-3zm-2-7zm-1 2zm-1 8zm0 1zm-2-11zm-5 3zm0 1zm-2 2zm-1 0zm0 5zm-2-3zm-2 1zm-4-4zm-4-2zm-5 0zm0 0zm-2 1zm-6 2zm-5-1zm-1-5zm-1 5zm0-5zm0 6zm-6 5zm0-4zm0 0zm-1-6zm-2 5zm-7 1zm-5-5zm-1 2zm-10 2zm-20 5zm-24-6zm-61 11zm75 2zm22 4zm10-9zm16 6zm13 1zm5-5zm1-3zm1 1zm0 3zm2 3zm2-6zm1 5zm3 1zm0 5zm1-6zm1 2zm1 0zm1 4zm1-11zm4 2zm1 6zm4-1zm7-2zm4 1zm3 5zm0-6zm2 1zm2-3zm9 6zm1 0zm2-9zm0 1zm7 7zm2-2zm0-7zm0 1zm1-1zm6 10zm0 1zm4-1zm0 0zm6-5zm5 6zm9-3zm9-3zm-5 11zm-2 6zm-1-10zm-3 3zm-6 6zm-1-4zm-3 0zm-6-2zm-3-1zm-3 1zm-2-1zm-3-1zm-4 8zm-9-3zm-4-3zm-1-1zm-4 5zm-5-1zm0-4zm-4-2zm-1 12zm-2-5zm-3 2zm-8-2zm-1 4zm0-5zm-3 0zm-7-5zm0 1zm-1-1zm-2 8zm-1-3zm-1-5zm-5 0zm-1 8zm-1-7zm-5 3zm-9 1zm-4-2zm-4 4zm0 2zm-12-2zm-27-7zm-16 4zm-59 15zm89-4zm5 3zm7-7zm6 5zm2-1zm7 3zm0-6zm3 4zm2 1zm0-2zm2 4zm4 1zm4-4zm9-4zm1 5zm0 3zm4-4zm0-1zm2 5zm0-4zm3 7zm1-6zm1-2zm0 7zm1-7zm2-3zm4 5zm2-5zm1-1zm3 1zm0 0zm1 2zm2-2zm2 8zm1-4zm3 5zm3-9zm2 2zm8-1zm2 1zm0 1zm3-4zm3 6zm4 3zm5-6zm7 0zm11-2zm12 8zm5 1zm9 4zm-14 1zm-18 8zm-5-8zm-20 3zm-2-4zm-4 8zm0-6zm-1-1zm-7 0zm-12-1zm-9 0zm-3 5zm-3 3zm-1-9zm-6 10zm-6-1zm-2 0zm-3-10zm-19 7zm-15 4zm-3-6zm-7-3zm-140 8zm127 13zm23-7zm13 2zm13-1zm18 6zm24-5zm7-3zm3 3zm21 5zm7-7zm10-4zm15 1zm5 11zm-32 3zm-1 7zm-6-9zm-10 10zm-13-10zm-26 10zm-15-9zm0 9zm-12 2zm11 3zm8 3zm5-4zm2-2zm98 10zm-51 8zm-34-7zm-6 4zm-5 2zm-32-3zm-63-3zm-154 11zm92 8zm59 4zm99-10zm71 4zm-28 18zm-200-8zm-83-2zm-11 17z"/><path stroke="#c98a22" stroke-width="15" stroke-opacity="0.4" d="M943 1358zm-17-5zm9 18zm4-5zm6 4zm15 4zm0 9zm-24-9zm-9 1zm-25 1zm-10 16zm14-3zm28-1zm3 9zm1-8zm26 7zm4-10zm35 20zm-34-2zm-7 3zm-7 2zm-6-4zm-56 8zm31 7zm16-1zm19-3zm7-4zm3 0zm-27 13zm-13-1zm-5 9zm-1-1zm0-10zm-9 11zm6 10zm9-5zm3 6zm17-10zm3 11zm22-8zm25 5zm-42 5zm-27 5zm-35 1zm-16 0zm-6-2zm-3 10zm10-1zm35 8zm2-1zm7-4zm6 4zm11 1zm7-8zm7 2zm3 2zm1-2zm9 4zm-27 5zm-43 9zm-34-9zm-30 2zm-74 10zm169 1zm22-1zm26 4zm6-2zm12 11zm-25 1zm-61 8zm-8-6zm-48-1zm-32 12zm32 0zm2 6zm24-1zm2-6zm6 7zm50 0zm-7 11zm-10 1zm-48-8zm-5-2zm-19 20zm1-8zm2 3zm15 6zm36-1zm5-7zm70 13zm-22 4zm-135-2zm-10 4zm-41 1zm-38 11zm94-7zm0 2zm28-3zm40 7zm19-3zm15 4zm27-1zm16-3zm-86 16zm-31 2zm-2 1zm-2-6zm-3 6zm-2-4zm-5 5zm-132 1zm88 3zm2 0zm37-2zm3 1zm1 7zm6-9zm128 5zm-97 16zm-30-9zm-11 8zm-5-3zm-12 5zm-138 6zm71 1zm56 5zm1-9zm37 9zm18 0zm32 0zm-19 8zm-26-4zm-23-2zm-27 11zm-178 10zm118-8zm32 7zm57-6zm31 6zm14 1zm4-2zm36-4zm-2 17zm-20-6zm-19-1zm-65 8zm-24-2zm-30 0zm-53-2zm-22 6zm-39-1zm113 6zm10-2zm9 1zm15 3zm1-3zm39-4zm18 3zm15 9zm-53 5zm-2-4zm-30 1zm-18-1zm-7 7zm-7-4zm-93-2zm30 12zm4 4zm43 2zm0-4zm57 7zm5 0zm5-3zm17-5zm3-3zm18 10zm24-6zm11-3zm30 17zm-10 3zm-7-4zm-42-4zm-27 6zm-75-1zm-4 5zm-57-4zm-8 6zm103 3zm2 8zm11-3zm17 0zm1-2zm9 4zm16-7zm14 10zm-49 5zm-4 0zm-4-5zm-10 3zm-3-4zm-7 7zm-16-1zm-4-3zm-3-1zm-5 8zm-6-4zm-45-6zm-5 7zm-20 1zm-4 0zm-7-2zm-24 3zm-20-5zm-53 17zm25-10zm16 5zm103-1zm5-1zm10-2zm14 3zm3 5zm2-1zm4-6zm4 1zm0 3zm26 5zm64-9zm17-1zm-2 18zm-26-6zm-30 2zm-3-1zm-35 7zm-4-9zm-9 1zm-21 3zm0 2zm-1 6zm0-9zm-6 4zm-3-1zm-3 5zm-7-2zm0 2zm-4-7zm-8 7zm-10-1zm-8-6zm-14 6zm-23-1zm-20-2zm-55 16zm28-5zm35-5zm38 5zm0 5zm7-4zm19-1zm4 1zm1 1zm13-1zm12-6zm3 2zm2 1zm1 5zm2-7zm1-2zm8 7zm7-1zm2 5zm1-3zm16-4zm2 1zm0 5zm7 2zm7-10zm52-2zm-15 15zm-8 2zm-20-1zm-7-2zm-7 1zm0 4zm-4 0zm-1 0zm-12 0zm-6 4zm-1-1zm-1-2zm-2 1zm-3 0zm-1-2zm-3-6zm-5 1zm-7 4zm-15 2zm-4-6zm-4 10zm-1-12zm-25 12zm-9-1zm-23 0zm-11-6zm-78 1zm-56 11zm96-2zm14 5zm2 1zm8-4zm22-3zm26 10zm11-2zm2-5zm4 0zm0 0zm0-3zm1 6zm9 0zm18-8zm9 2zm4 8zm11-9zm3 2zm0-1zm5 0zm4 7zm0-6zm6 0zm3 5zm3-7zm5 10zm10-4zm14-1zm-21 17zm-30-11zm-1 5zm-16 6zm-2-8zm-3 7zm-6-5zm-3-3zm-9 6zm-14-8zm-41 9zm-5 2zm0-3zm-29 4zm0-8zm-20 5zm-17-3zm-31 11zm34-1zm13 6zm16-2zm18-4zm9 5zm2-4zm31 2zm12-4zm1 6zm8-3zm15 5zm18-1zm10-3zm20 0zm3-4zm15 4zm15-6zm13 5zm15 13zm-21 0zm-39-6zm-67 3zm-1 8zm-7-1zm-5-4zm-22 4zm-15-1zm-13-5zm-73 6zm-16-10zm-52 4zm-11-4zm-1 9zm-3-10zm4 17zm10 6zm0-3zm36-5zm11 5zm15-6zm1 7zm14-9zm25 3zm28-1zm3 7zm4 1zm19-9zm10 3zm42-2zm12 5zm4-3zm4 4zm25-6zm3 8zm23-1zm37 10zm-16-4zm-34 3zm-43-2zm-44 7zm-3-5zm-7 1zm-53 5zm-22-1zm-40-7zm-3 3zm-1-5zm-4-1zm-9 11zm-8-12zm-11 17zm36-2zm21 0zm26 2zm61-4zm11 3zm16 8zm0-6zm30 5zm2-4zm39 2zm-55 10zm-43 0zm-63 4zm-48-2zm-25-7zm-8 0zm-1 9zm-15-10zm-1 13zm14 7zm2-6zm13 7zm9-5zm10 6zm12-9zm24 3zm17 1zm51-1zm17-4zm45 3zm-159 8zm14 31zm-31 3zm-12-5zm23 15z"/><path stroke="#fc1a7e" stroke-width="15" stroke-opacity="0.4" d="M344 1731zm44 11zm-26-7zm-61 7zm28 33zm17 21zm93 28zm11-4zm70 20zm-73-5zm30 19zm11-5zm7 3zm55-9zm22 0zm-43 14zm-37 7zm-14 0zm-31-8zm-18-1zm-27 18zm18 2zm109-7zm6 9zm10-8zm44 18zm-33-1zm-15-1zm-2-2zm-14-2zm-4 7zm-6-9zm-31 8zm-3 1zm-16-9zm-5 2zm-3 6zm-24-7zm-4 0zm-1 9zm-4 9zm2 3zm5-1zm16-1zm5-7zm26 8zm3-3zm4-2zm34 4zm14 2zm1-1zm6-8zm1-2zm5 6zm1-6zm6 12zm1 0zm20-1zm9-10zm4 7zm2 1zm25 12zm-1 1zm-7-1zm-3-1zm-15 3zm-14-8zm0 8zm-4-6zm-8 5zm-2-2zm0 2zm-11-8zm-3 10zm-6-8zm-13-2zm-4 3zm-2 1zm-5 0zm-3 3zm-7-7zm0 3zm-4-2zm-8 3zm-1-6zm-17 0zm-3 6zm-5 3zm-11-6zm-21 1zm20 14zm0 2zm1-8zm21 9zm4-3zm10-2zm5 3zm3 4zm6-8zm1-1zm4 6zm1-2zm6-5zm1 9zm1-2zm5-2zm3 2zm0-4zm1 0zm0 4zm3 0zm1-3zm15-4zm1 9zm1-3zm13-2zm7-3zm3 4zm1 3zm5 2zm0-9zm0 2zm8 3zm3-4zm1 9zm8-1zm1-3zm36 10zm-2 5zm-9-2zm-6-4zm-5 6zm-1-8zm-1 2zm-2 2zm-6-6zm-5 10zm-9-10zm-3 9zm-7 1zm0-2zm-2-7zm-3 1zm-1 2zm-10 4zm0-8zm-1 7zm-6-5zm-1 2zm-5 5zm0 2zm-12-1zm-3-10zm-1 0zm-1 7zm-5-8zm-4 3zm-2 2zm-3 7zm-8-5zm-4 5zm-1-7zm-1-2zm-3 0zm-1 6zm-3-5zm-7-1zm-3 2zm-16-1zm-29 2zm-5-1zm15 13zm24 3zm1 2zm3-6zm20 3zm7-2zm2-3zm6-1zm1 5zm3 4zm4-11zm2 8zm3-2zm0 4zm7-10zm2 5zm1 0zm1 5zm3-1zm2 1zm5-2zm1-6zm4 4zm1-1zm3-3zm1 7zm3-7zm3 0zm7 8zm0 0zm6-9zm0 2zm2 5zm10 0zm4-8zm6 5zm16 5zm1-5zm9 0zm2 12zm-17-5zm-8 11zm-10-7zm-7-1zm-7 7zm0-2zm-3-5zm-3 1zm-4 4zm-6-5zm-5 9zm-3-12zm0 2zm-1 3zm-3-2zm-2-1zm-4 0zm-7 7zm-2 0zm-2-7zm-24 0zm-1-1zm-2 2zm-5-2zm0 8zm-6-1zm-6-7zm-23 6zm-9 2zm-22-5zm-8 4zm-3 5zm40-1zm17 6zm12-1zm9 6zm0-7zm18 2zm3 2zm0-3zm17 3zm13-1zm11 4zm8-7zm5 1zm4 3zm7-7zm15 9zm16 1zm9 9zm-12-7zm-31 8zm-12-7zm-14-2zm-46 3zm-3 4zm-9 2zm-4-4zm-4-4zm0 4zm-20-2zm-19 5zm22 12zm41-7zm18 2zm23 2zm21 5zm4-9zm22 4zm25 1zm-131 11zm-21 1z"/><path stroke="#e02a25" stroke-width="15" stroke-opacity="0.4" d="M305 1266zm-21-11zm54 14zm6 18zm0-6zm-63 4zm-20 10zm86 5zm51-9zm116 22zm-127-2zm-42-2zm-65-1zm-138 12zm48-3zm61 1zm32 6zm47 1zm11-9zm10 0zm4 8zm25-3zm-32 13zm-21-4zm-17-4zm-10 3zm-2-3zm-17 7zm-7 4zm0-10zm-2 10zm-144-9zm-5 20zm34 2zm136-4zm46-2zm2-4zm2 0zm20 1zm60 6zm5-7zm26 14zm-24-3zm-33 9zm-52 1zm-2-2zm0 2zm-42-4zm-8 1zm-19 3zm-7-2zm-4 0zm-67-5zm41 15zm9 3zm49-5zm30-2zm13 2zm8-5zm6 12zm2-10zm14 2zm6 1zm2-4zm3 2zm22 7zm11 1zm4-7zm15 2zm2-5zm27 12zm-6-1zm-21 6zm-14-4zm-14 2zm-16-1zm-18 5zm-30 2zm-10-3zm-6 4zm-8-8zm0-3zm-15 5zm-15 2zm-1 4zm-25-5zm-41 3zm-67 13zm54-10zm7 3zm35-3zm17 12zm42-8zm7-4zm3 11zm39-2zm13-7zm60 2zm81 3zm-62 12zm-58-1zm-31 2zm-24-2zm-2 3zm-7 1zm-3-4zm-21-2zm-31-3zm-2 6zm-11 3zm-39-2zm-2 2zm-97 4zm138 9zm0-10zm5 10zm20 1zm9-6zm1-1zm19 2zm5-2zm4 0zm6 7zm1-6zm0-1zm3 6zm7-6zm18-1zm40-3zm14 2zm14 3zm35 2zm13 0zm-49 7zm-16 9zm-25-3zm-13-3zm-18-5zm-19 3zm-2 1zm-4-1zm-24 0zm-3 7zm-5-5zm-145 13zm40-1zm59 5zm3-10zm10 6zm14-6zm2 11zm7-8zm2 7zm28-9zm36 5zm2-2zm11 3zm32 3zm66-10zm-20 16zm-31-4zm-30 2zm-1-1zm-26 3zm-1 3zm-33-2zm-2 5zm-112-10zm-27 17zm6-4zm58 7zm52-6zm7 4zm20 3zm4-4zm10 3zm16-3zm43-2zm33 19zm-58-7zm-3 0zm-44 7zm-49-6zm-196 2zm260 12zm1-5zm11 1zm69 17zm-61-6zm-76 3zm-80 6zm20 4zm47 1zm92 2zm-3 17zm-4 0zm-29-3zm26 5zm17 3zm-96 31zm76-4zm-82 7zm46 11z"/><path stroke="#8a3a20" stroke-width="15" stroke-opacity="0.4" d="M342 1557zm2 40zm37 21zm-20 5zm-12-7zm-32 21zm29 0zm25-11zm21 7zm-36 13zm-25-7zm-5 5zm-44 5zm-4-5zm-5 10zm4 6zm42-8zm40 0zm14 2zm9 1zm6-1zm29 5zm3 9zm-19-4zm-26 6zm-7-7zm-49 0zm-6 6zm-49-5zm1 21zm62-4zm12 4zm9-1zm55-2zm29 4zm-13 3zm-70-1zm-90 11zm75 4zm22-2zm8 8zm8-10zm25 2zm9 4zm29 3zm-14 13zm-102-1zm-44-2zm35 9zm32 5zm54 6zm-140 12zm23 21zm70 3z"/><path stroke="#c24c12" stroke-width="15" stroke-opacity="0.4" d="M931 1271zm36 0zm21 19zm-48-10zm-10-1zm-77 1zm-65-2zm-26 10zm-61 6zm36 1zm80-1zm7 7zm42-5zm30 2zm23-4zm1 4zm68-5zm11 11zm-49 2zm-2 1zm-10 6zm-15 0zm-4 0zm-137-2zm-102-5zm130 11zm24 8zm33-2zm11-9zm0 6zm7-2zm10 1zm8 5zm1-2zm1-6zm6 4zm1-5zm6 0zm5 4zm9 0zm3 6zm2-7zm1 0zm5 4zm0-1zm8 2zm0-9zm8 3zm4 4zm5 2zm6-2zm5-1zm6-2zm29 13zm0 2zm-8-4zm-5 9zm-7-4zm-10-3zm-8 0zm-7-4zm-8 9zm-13-3zm-3 5zm-1-2zm-2 0zm0-7zm-3 6zm-3-6zm-4 1zm-7 4zm-2-2zm-4-4zm-2 3zm-2 1zm-3-4zm-11-1zm0 5zm-2-4zm-2 9zm-5-4zm-2-5zm-122 1zm28 11zm23 1zm34 1zm9 6zm14-5zm5-1zm16-4zm14 3zm0 7zm6-3zm3-2zm2-5zm2 11zm2-7zm2-3zm0 7zm7 0zm1-7zm1 11zm1-12zm1 0zm3 8zm0-1zm3-2zm1 2zm3-3zm2 1zm0 1zm7-3zm1-3zm1 7zm3-4zm2 0zm1 2zm1 2zm2-2zm4 0zm0 0zm7 2zm1-7zm1 10zm7 0zm6-5zm5-2zm6 5zm11-7zm-1 23zm-4 0zm-8-1zm-3-4zm-13-1zm0 2zm-13-2zm0-2zm-4 0zm-2 5zm-2-1zm-3 4zm-1-1zm0-10zm-1 8zm-4-2zm-4 1zm-2-5zm-1 3zm-2-2zm-1 5zm-4 0zm-1 1zm0-4zm-1-1zm-1-4zm-10 6zm-1-5zm-1 4zm0-5zm0 4zm-1 1zm-1 3zm0-8zm0 6zm-1 2zm-2-6zm-7 5zm-1 2zm0-8zm-1 4zm-1 5zm0-4zm-3-6zm-23 7zm-4-4zm-11 5zm-3-3zm-1 4zm-6 1zm-4-3zm-3-3zm-95-3zm-7 6zm21 12zm37-8zm33 7zm6-7zm10 6zm3 1zm5-4zm1 1zm10 7zm9 1zm2-7zm4 3zm4-3zm1-4zm1 10zm3-7zm1 3zm2-4zm0 6zm2-3zm2-6zm1 8zm4 3zm1-4zm2 2zm4-6zm3 5zm2 0zm0 0zm2-6zm1 3zm5 0zm1 0zm1-2zm5 6zm4-8zm0 10zm4-2zm0-1zm5-2zm2-5zm0 6zm3-4zm7 4zm1 4zm0-7zm1-2zm1 10zm2-7zm6 2zm6-6zm4 8zm2-1zm9-5zm1 7zm6-5zm18 12zm-7-3zm-3 6zm-10-3zm-6-2zm-3 6zm-5-6zm-5-3zm-1 3zm-5 5zm-1 3zm0-3zm-2-7zm-3 2zm-8 4zm-3 2zm0-8zm-5 2zm-2-3zm0 2zm-1 10zm-2-9zm-1 5zm-1-1zm-2-5zm-1 4zm0 3zm-3 2zm0-6zm-2-1zm-4-1zm0-3zm-6 6zm-2-1zm-5-1zm-4 0zm-1 4zm0 3zm-3-4zm-4-1zm-16 0zm-3-5zm-2 2zm0 8zm-5-10zm-1 5zm-1 4zm-2-8zm-53 7zm-32-7zm-89 0zm149 16zm37-4zm10 6zm6-3zm1-2zm3 6zm3-5zm5-4zm0 12zm9-5zm2 1zm0-5zm2 5zm5 2zm4-2zm2-2zm0 0zm1-5zm1 8zm10 2zm0-3zm0-6zm6 4zm0 2zm5 2zm1-9zm0 6zm0-5zm1 0zm3 6zm1-7zm2 7zm2-2zm0-2zm2-2zm1 5zm2-2zm3 0zm1 6zm9-1zm14-9zm7 14zm-15 8zm-1-6zm-12 0zm-12-3zm-13-1zm-4 3zm-9 6zm-3 1zm-5-9zm-3 6zm-6 1zm-6 2zm-3-1zm-8-4zm-9 5zm-7-9zm-2 6zm-1-7zm-11 0zm-3 5zm0-6zm-55 4zm-5 4zm-95 5zm115 3zm31 4zm8-1zm29-7zm8 9zm15-2zm4-6zm12 4zm4-2zm34-2zm15 21zm-31-1zm-3-6zm-9 4zm-4-5zm-36 3zm-10-3zm-15-1zm0 2zm-30 2zm-6-1zm-64-3zm-110 11zm151 11zm13-2zm24 0zm87-8zm8 4zm-50 13zm-16 3zm-128 2zm-43-5zm216 6zm15 8zm-11 10z"/><path stroke="#c98a22" stroke-width="15" stroke-opacity="0.4" d="M918 1356zm-33 15zm48-7zm64 20zm-50-4zm-1-4zm-35 0zm-46 18zm22-4zm7-1zm69-2zm57 12zm-29 0zm-34 2zm-13 3zm-3-3zm-16 5zm-76 2zm43 12zm13-1zm9-6zm4 9zm35-5zm9 0zm38 14zm-25-8zm-53 0zm-7 9zm-22-1zm-55 7zm10 1zm1-5zm34 4zm21-3zm17 4zm37 1zm11-6zm5 7zm8 15zm-28-9zm-18 2zm-2 7zm-71 0zm-51 14zm40-1zm5-8zm10 5zm12 3zm1-2zm6-3zm1-2zm32 4zm8-6zm25 10zm11-9zm-23 9zm-20 8zm-83 2zm-22-2zm61 13zm7-7zm55 19zm-8 2zm-11-2zm-4 2zm-87-2zm-290 10zm110 0zm164-5zm81-2zm68 9zm-42 15zm-3-5zm-4-3zm-32 8zm-20-11zm-24 2zm-33 7zm93 5zm25 15zm-47-6zm-59 11zm-50-3zm-161-5zm236 15zm1 5zm12-4zm10 2zm3-8zm9 10zm1-5zm3-1zm17 2zm22 3zm3-3zm51-1zm-25 12zm-40-1zm-17 4zm-12-3zm-12 3zm-19-6zm-8 6zm-1 3zm-10-5zm-3-7zm-10 0zm-20 12zm-245 10zm306-6zm62 2zm10-3zm-52 13zm-45 3zm-10-2zm-16 0zm14 17zm16-8zm3 4zm39 3zm4-3zm-34 9zm-53 0zm0 4zm-17 2zm-8 9zm31 2zm12-6zm68 0zm30 0zm-21 14zm-8 5zm-15-6zm-7-3zm-15 4zm0 5zm0-1zm-4-5zm-1 4zm-4-3zm-12 6zm-31-3zm-50-1zm-3 2zm-37 1zm-126-4zm170 13zm75 3zm22 0zm25 0zm34-2zm1 5zm-50 1zm-30 9zm-24-8zm-15 0zm-6 2zm-22 8zm17 6zm32-6zm9 7zm3-7zm0 2zm2 7zm19-6zm9-3zm28 11zm-50 10zm-8-8zm-13 1zm-7 8zm-6 0zm-1-7zm-8 5zm-5-8zm-44 5zm-33-4zm-2 1zm-74-1zm-33 1zm-117 11zm141 11zm13-4zm2-6zm16 1zm33 9zm40-3zm10 2zm12-6zm17 4zm3-6zm115 18zm-52-1zm-21-2zm-27 6zm-15-1zm-1-1zm-9 1zm-10-9zm-5 8zm-2-8zm-2 4zm-4-4zm-3 7zm-1 2zm-11-8zm0-1zm-1-2zm-6 2zm-24 6zm-15 0zm-3-2zm-3 5zm-27-3zm-29 7zm50 9zm14-4zm19-4zm0-4zm22 3zm10 8zm8-9zm8-2zm56 8zm8-3zm10-3zm2-1zm10 7zm62 11zm-10-6zm-3 1zm-28 8zm-54-5zm-11-3zm-3 2zm-6-4zm-20 7zm-3-5zm-13 1zm-10 4zm-1-5zm-2 7zm-13-4zm-6 3zm-2 2zm-12 0zm-10-9zm-6 2zm-14-1zm-16 6zm-18 1zm-11-2zm-60 5zm18 8zm27-4zm36 7zm5-10zm8 7zm5-2zm11 4zm3-3zm57 2zm1 2zm3-5zm4-1zm3 5zm7-4zm2 3zm1-4zm3 4zm32-1zm2 2zm1-9zm85 10zm-42 3zm-49 5zm-2-2zm-32-2zm-7 4zm-20 0zm-17-3zm-7 0zm-16 5zm-9 3zm-16-9zm-3 0zm-15 6zm-41 1zm-16-5zm-4 7zm-29-6zm-11 0zm-66 2zm-25 7zm46-1zm5 4zm37-6zm0 8zm7 0zm9-6zm7 5zm11 2zm31-7zm6 3zm3 0zm7-2zm18 0zm8 5zm15 3zm20-4zm8 2zm3-7zm3 0zm12-1zm21 6zm2 0zm19 2zm1-5zm3 3zm1 2zm6 1zm37-9zm16 5zm-47 13zm-1 1zm-7-5zm-11-1zm-2 6zm-12-1zm-2-1zm-10-2zm-1 0zm-48-3zm-3 3zm0-3zm-4 8zm-8 1zm-15 2zm-9-4zm-9-7zm-9 1zm-4 10zm-14-3zm-10 3zm-21-4zm-17 2zm-55 13zm13-10zm31 10zm3-1zm18-6zm7 6zm11-9zm3 3zm13-1zm10 6zm33-9zm6 12zm5-8zm4 7zm0-6zm35 1zm0-2zm5 6zm22-8zm16 1zm23-3zm13 1zm10 10zm2-3zm43 2zm10 13zm-82 0zm-13-1zm0-6zm-4 1zm-14-3zm-6 0zm-4 7zm-3 0zm-5-5zm-8 6zm-5-5zm-16 7zm-4-8zm-7-1zm-26 5zm-1-7zm-9 3zm-5 2zm-22-1zm-2-2zm-2-2zm-1 6zm-13 1zm-5 4zm-23-1zm-54-5zm5 14zm19-5zm23 5zm7 2zm14-9zm32 2zm11 6zm0-7zm38-1zm10 6zm15-1zm45-3zm6 0zm0 5zm66-3zm-55 17zm-14-1zm-6-2zm-4 3zm-34-8zm-5 6zm-15-1zm-3 0zm-28 4zm-6-4zm-8 1zm-33-3zm-16-3zm-67 9zm-7 9zm9-7zm13 10zm5-8zm17 7zm44-9zm2 9zm8-9zm6 6zm22-6zm13 6zm14-2zm1-2zm40-2zm10 4zm1 0zm36 6zm16-4zm-92 12zm-55-4zm-17-1zm-58 2zm25 19zm2-9zm12 5zm87 0zm13-5zm42 2zm-161 18zm-22 8zm12 4zm8-7zm65 8zm-6 4zm-79 20zm12-5zm65-3zm-73 21zm106 5zm-119 22zm50 4z"/><path stroke="#fc1a7e" stroke-width="15" stroke-opacity="0.4" d="M313 1742zm-42 40zm1 6zm160 17zm25 11zm-95-3zm-15 1zm-20 11zm69 2zm17 3zm30-3zm9 3zm-140 13zm78 2zm8 8zm15-1zm3 0zm17 2zm93-6zm-13 9zm-50 7zm-44-4zm-16 2zm37 13zm36 2zm17 1zm38-2zm3-3zm54 1zm-2 15zm-31-1zm-42 1zm-8 0zm-8-1zm-2-8zm-8 7zm-8 3zm-17-7zm-7 0zm-46 15zm51 1zm16-5zm16 5zm1-4zm0-2zm4 7zm10 0zm1-6zm2 1zm5 6zm10-6zm3-4zm2 7zm11 4zm15-10zm13 1zm22 4zm18 0zm4 10zm-13 0zm-6 2zm-6 5zm-5-6zm-3-4zm-14-2zm-8 3zm-4 4zm-7 1zm-2-2zm-3 5zm-10 1zm-6-7zm-3-1zm0-2zm-1 9zm-5-6zm-1 5zm-2-7zm-5-1zm-7 8zm-3-3zm-10-3zm-3-2zm-5 7zm-1-3zm0-3zm-4 6zm-13-8zm-2 4zm-5 4zm-17-8zm-13 0zm0 0zm-7 0zm9 18zm24 3zm2-9zm17 4zm10-1zm2 0zm5 7zm4-9zm7 2zm11 1zm5-3zm8 0zm4 6zm0 0zm5-5zm1 9zm2-9zm1 8zm1 0zm3-4zm1-6zm1 5zm1-5zm1 2zm8 7zm0-6zm2 0zm3-1zm5 2zm5-3zm13 0zm0 3zm1 5zm0 2zm0-9zm54 21zm-17-5zm-6-3zm-16-4zm-2 3zm-5 4zm-1 3zm-2-5zm-9 6zm-1-9zm-3 3zm-7-4zm-1 8zm-2-3zm-1-1zm-2 4zm-4-1zm0-6zm-1 2zm-2 6zm0-6zm-1 8zm-3-10zm-2 0zm0 4zm-1-2zm-1 7zm-1-7zm-4 7zm-5-3zm-3-3zm-1 1zm-6-4zm0 4zm-4-2zm-4-2zm-1 5zm-3 3zm-5-8zm-4 0zm-1-1zm-2 6zm-8-3zm-17-1zm-3 4zm-16-2zm-4 3zm-9-2zm-6-3zm-32 11zm2 4zm15 2zm34-8zm19 5zm3-2zm3 5zm1 2zm1-1zm2-8zm1-1zm2 9zm16-9zm1 5zm0-5zm5 1zm2 6zm6 2zm6-2zm2 5zm2-12zm1 6zm0 1zm10-1zm1-3zm1 4zm6-6zm15 9zm2 1zm4 0zm3-3zm2-7zm2 10zm5-2zm1-2zm2-7zm5 5zm13 4zm3 1zm9-4zm3-4zm20 1zm-26 16zm-4-2zm-13 3zm-2-1zm-1 3zm-5-4zm0 0zm-3 6zm-1-7zm-1 0zm-5-4zm-5 6zm0 2zm-5-7zm-4-1zm-5 7zm-1 3zm-1 1zm0-1zm-2-5zm-1 0zm-2 2zm-2-5zm-7 0zm-2 9zm0-3zm-5-7zm-1 7zm-6-5zm-7 8zm-13-6zm-5 3zm-14-2zm-14-2zm-32 0zm-5-2zm0 19zm14-6zm40 4zm21-7zm3 9zm10-8zm3 1zm3 4zm11-3zm2 4zm3 2zm2-9zm0-1zm2 10zm9-10zm6 1zm10 0zm5 8zm7 1zm0-8zm5-1zm3 7zm13-5zm9 3zm-39 9zm-11 2zm-4 4zm-9 0zm-29-6zm-2 3zm-20-4zm-7 9zm54 12zm3-2zm7-9zm13 5zm1-1zm15-4zm15 0zm19 10z"/><path stroke="#e02a25" stroke-width="15" stroke-opacity="0.4" d="M330 1245zm5 7zm2 19zm28 13zm-103 14zm20 1zm95-1zm31-3zm-11 18zm-15-7zm-63 5zm-52-4zm-90-1zm158 12zm12 4zm2-2zm24 3zm12 2zm19-8zm70 4zm-108 15zm0-10zm-1 4zm-10 2zm-21 0zm-4-1zm-70 19zm11-5zm7-3zm18 8zm33-3zm4-9zm10 4zm38-1zm13 5zm32 14zm-35-6zm-19-2zm-4 6zm-7-1zm-6-1zm-4-1zm-31-2zm-2 6zm-6-6zm-5 4zm-4-6zm-3 1zm-8-2zm-3 9zm-7-4zm-8-1zm0 0zm-161-2zm99 20zm1-5zm19 5zm14-3zm40-5zm9 10zm17-7zm33 7zm13-11zm3 10zm0-5zm9-2zm19-3zm26 22zm-14-9zm-17 9zm-4-8zm-14 5zm-11-6zm-10 9zm-29-7zm-6 3zm-2-5zm-24-1zm-15 0zm-22 5zm-16-5zm-95 3zm42 12zm40 7zm22-9zm29 9zm11-5zm16 4zm16-6zm6 2zm17-3zm1 6zm7-7zm5 5zm2-5zm27 1zm0 3zm9-5zm3 2zm30 5zm8 3zm38-10zm-4 20zm-27-5zm-5 5zm-30-5zm-3 5zm-8-7zm-38 8zm-58-9zm-8 9zm-15-8zm-11-1zm-43-1zm24 13zm11 4zm0-1zm37-1zm15-2zm5 4zm18-4zm9 4zm29 7zm7-8zm32 0zm23 4zm44 5zm-2 3zm-25 7zm-35-2zm-3 2zm-27-11zm-8 3zm-18 8zm-28-4zm0 0zm-75 1zm-6 0zm-4-4zm-3 18zm17-2zm7-7zm49 6zm5-6zm9 9zm20-8zm8 1zm2 4zm11 0zm15 0zm27 1zm7-5zm4-1zm35 6zm43 4zm-93 7zm-103-6zm-2 5zm-27 2zm-12-5zm-1 5zm-36-7zm-55 18zm132 4zm10-5zm15-1zm3-4zm12 11zm4-8zm61 4zm-9 9zm-18 4zm-34 2zm-61 0zm-4-9zm-28 8zm58 3zm20 3zm16 9zm-7 6zm-65-7zm-133 18zm173 2zm37 3zm73-4zm-127 9zm16 18zm2-4zm125 9zm-42-2zm-42 9zm-8-3zm-17 8zm89 23z"/><path stroke="#8a3a20" stroke-width="15" stroke-opacity="0.4" d="M382 1624zm-54-3zm-1-6zm-7 15zm5 8zm1-8zm20 6zm73-9zm-4 18zm-98-6zm-9 10zm-26 0zm-10-3zm9 10zm1 3zm17-7zm43 5zm18-3zm25-1zm23 18zm-26 0zm-20-8zm-19 11zm-4-1zm-8-6zm-1 0zm-15 3zm-1 4zm-7-3zm-35-5zm19 18zm43-3zm23 1zm52-6zm94 0zm-105 18zm-21-5zm-5 8zm-19-6zm-4-5zm-11 1zm-31 1zm-3 8zm-2-5zm-104 4zm58 4zm11 9zm22-6zm50-4zm10 8zm49-5zm27 20zm-59-7zm-39 5zm13 54z"/><path stroke="#c24c12" stroke-width="15" stroke-opacity="0.4" d="M982 1288zm-38 2zm-3-9zm-2 5zm-36 1zm-5-2zm-171 14zm130-2zm47-5zm0 2zm15 4zm19-1zm14 3zm53-8zm-4 21zm-33-3zm0-2zm-19 4zm-24 1zm-12-8zm-10 4zm-11 1zm-24-6zm-141 7zm41 9zm69 4zm48-8zm3 0zm12 5zm12 4zm2-1zm4-7zm6 3zm5 1zm3 5zm0-1zm4 0zm1-9zm9 6zm5-6zm8 1zm39 7zm6 2zm-7 4zm0 3zm-4 1zm-2 0zm-9-6zm0-2zm-2 11zm-6 1zm-3-6zm-1-3zm-5 1zm-3 3zm-5 4zm-1-2zm-1 1zm-2-3zm-1-1zm-3 1zm-5 4zm-1-4zm0 2zm-5-6zm-3-1zm-1 9zm-1-11zm-2 9zm0 0zm0 0zm-1 2zm-1-3zm-3-5zm-4 6zm-3-5zm-1 5zm-8 2zm0-7zm-27 7zm-10-8zm-2 6zm-10-1zm-13-2zm-14 2zm-116 9zm112 0zm47-2zm3 1zm1 6zm5-6zm7-1zm11 8zm3-10zm2 9zm2-7zm2 8zm1-9zm9 7zm3-9zm2 6zm1-6zm4 1zm1 5zm3 6zm0-2zm2-3zm4 1zm2-1zm2-3zm1-2zm1 4zm2 3zm1-7zm0 2zm1 2zm3-2zm6 8zm0-1zm3-6zm5 7zm11-6zm1-2zm11-2zm8 1zm8 7zm5-6zm11 8zm-8 6zm-1-6zm-12 9zm-2-7zm-6 3zm-4 3zm-4 3zm-2-1zm-13-3zm0-5zm0 5zm-1 2zm-1-6zm-1 5zm0 1zm-6 2zm0-8zm-1-1zm0 0zm-2 2zm0 0zm-2 2zm-5-4zm-1-1zm-12 3zm-1-3zm-4 0zm-1 7zm-4-7zm0 9zm0 1zm-1-4zm-1 4zm0 0zm-1-10zm-2 9zm0-4zm-7 2zm-2-2zm-1 2zm-3 0zm-1 1zm-9 2zm-5-4zm0-5zm-3 0zm-1 1zm-7 0zm-1 7zm-13-6zm-210-1zm18 9zm130 4zm48 4zm19-4zm7 5zm2-8zm0 3zm5 5zm6-3zm2 3zm0-3zm8 5zm1-8zm3 2zm0 6zm2-2zm4 2zm2-7zm2 7zm1-8zm0 7zm0-10zm2 1zm1 2zm3 7zm1-1zm2-6zm1 1zm0 5zm1-6zm1-2zm0 2zm2 1zm1-2zm1 6zm6-8zm2 1zm2 9zm4 2zm5-2zm0 0zm0-9zm2 5zm4-6zm2 5zm1 0zm2 5zm1 0zm1 0zm2-2zm0-7zm15 4zm1-4zm2 6zm7-7zm4 1zm2 0zm0 8zm1 2zm0-6zm8-3zm5 3zm-12 9zm-1 6zm0-6zm-13 7zm-4-8zm-4 8zm-8-5zm0-3zm-1 7zm0-6zm-3 3zm-8-2zm-2-1zm-2 4zm-3 2zm-1 1zm-3 2zm-8-3zm-1-7zm-3 4zm-1 4zm-1-3zm-1 4zm-15-5zm-6-4zm-12 4zm-10-2zm-6 8zm-5-8zm-21 4zm0-1zm-86 6zm67 12zm11-2zm3-4zm29-1zm1-3zm6 1zm5 2zm2 4zm2-7zm5 7zm3 1zm1-2zm4 1zm9-8zm1 2zm1 2zm5-4zm6 7zm2-7zm3 10zm2-10zm1 9zm2 2zm6-9zm1-1zm2-1zm1 9zm2-8zm11 3zm4 1zm6-3zm14-1zm2 0zm9 3zm4 6zm-3 2zm-2 6zm-3 3zm-39 2zm0-6zm0-1zm-7-5zm-3 11zm0-7zm-8-3zm-1 5zm-1-1zm-7-4zm-9-1zm-12 3zm-4 0zm-2 6zm-1-1zm-16-8zm-1 10zm-7 2zm-5-4zm-31 3zm-5-6zm-151 7zm194 4zm1 5zm7-4zm16-2zm10 0zm1 2zm11 2zm4 1zm1-5zm7 2zm12-1zm7 1zm15 2zm20-4zm1 5zm8 2zm20 7zm-57-5zm-6 7zm-36-3zm-7 6zm-10-2zm-36 3zm-6-9zm-14-2zm-20 4zm-76-2zm28 19zm4-5zm113-1zm18-1zm2 2zm2 5zm53-1zm26-1zm3 0zm-70 16zm-123 0zm-20-11zm-81 20zm114-8zm156 8zm-275 16z"/><path stroke="#c98a22" stroke-width="15" stroke-opacity="0.4" d="M887 1370zm25 1zm33-1zm4 0zm1 1zm33 8zm-9 5zm-13-8zm-2 3zm-12 6zm-57 13zm44-3zm15-8zm1 4zm14-1zm4 1zm2 4zm-2 8zm-7 6zm-35-8zm19 13zm32 17zm-3 2zm-4-2zm-44-6zm-9 0zm-1-2zm-13 8zm-33-4zm16 12zm11 4zm19-6zm12-1zm2 6zm31-6zm-48 13zm-19-1zm-15 2zm-19 14zm4 2zm30-6zm26 8zm5-1zm28 3zm0 9zm-15-7zm-11 2zm-16-4zm-9 1zm-5 22zm12-7zm31 2zm13 9zm-15 6zm-13-8zm-47 9zm-46 12zm21-5zm14 1zm9-4zm38 4zm18 15zm-15 1zm-22-7zm-7-1zm-6 6zm-4 3zm-4-4zm-17-3zm-10 1zm-22 2zm-243 8zm178-2zm62 10zm3-2zm2-2zm28-7zm67 10zm0-3zm46-6zm-22 23zm-4-3zm-60-6zm-71 3zm-21 3zm-47-4zm57 19zm48-1zm18-1zm80 8zm-30-1zm-4 1zm-27 0zm-26-5zm-12 1zm-68 1zm-46 1zm-119 13zm76 0zm140-4zm15 5zm46 2zm27-6zm16 3zm-24 19zm-10-7zm-3-3zm-7 5zm-2-3zm-23-3zm-7 4zm-7 6zm-4-7zm-37 3zm-87 6zm10-1zm32 5zm87-3zm26 0zm12 21zm-26-7zm-15 2zm-3-4zm-10 3zm-4 1zm-54 1zm-8 1zm-63 4zm-145 2zm160 5zm60 2zm17-7zm3 5zm7-2zm44-2zm14 1zm0 1zm4-1zm22 0zm44 12zm-63 1zm0-2zm-19 3zm-44 3zm-1-2zm-24-4zm-5-3zm-17 9zm-7 1zm-66 7zm19 7zm6-7zm44-4zm1 0zm29 1zm12 9zm3 0zm29-1zm1-1zm27-1zm1-2zm11-1zm60 6zm13-5zm-73 12zm-16 0zm-36-5zm-22 3zm-25-2zm-8 7zm-28 3zm-19-6zm2 10zm4 6zm36-4zm2 4zm13-2zm4-4zm9-1zm21-1zm15 1zm40 14zm-63 6zm-14-9zm-2 10zm-21-2zm0 0zm-7-8zm-6 5zm-5-5zm-28 8zm-6-1zm-2-2zm-12-4zm-81 12zm19 8zm14-7zm32 6zm22-2zm11-6zm19 4zm18-1zm19-3zm3 6zm31 2zm3 0zm13-3zm1-1zm-1 6zm-3 11zm-7-10zm-2 4zm-28 3zm-7 1zm-2-1zm-18-6zm-8 6zm-14-6zm-4-2zm-16 11zm-1-2zm-5 3zm-53-9zm-4 9zm-93-6zm-1 16zm50 0zm37-3zm18 3zm4-3zm22-3zm11 7zm4-2zm18-5zm11 6zm2-1zm39 3zm3-5zm5 1zm3 1zm2-3zm10 3zm2-2zm31-2zm4 1zm24 0zm-19 11zm-46 1zm-20-3zm-6 1zm-1 3zm-26 1zm-3-8zm-2 11zm-4-3zm-27 3zm-38-9zm-7-1zm-5 1zm-13-1zm-58 8zm-32 7zm76 8zm3-5zm3-3zm7 4zm0-5zm8 9zm10-1zm0-4zm8-7zm3 5zm22 1zm0 3zm10-8zm3 7zm16 1zm6 2zm24-6zm25-1zm12 6zm27 13zm-32-2zm-2-5zm-9-2zm-2 4zm-14 0zm-14 4zm-3-6zm-11 5zm-7 3zm-5-4zm-3 2zm-4-4zm-1-1zm-6 3zm-6-5zm-4 3zm-14-5zm-5 0zm-3 10zm-4-9zm-7 4zm-1 3zm-17-2zm-1-7zm-13 9zm-8-4zm-2-2zm-9-2zm-47 5zm-27 0zm-21 1zm-30 14zm40 0zm13-2zm60-2zm26 5zm5 0zm23-3zm17-1zm11-1zm1-4zm11 9zm1 2zm7-1zm3-4zm3-5zm1-1zm2 10zm2-1zm4-1zm6 2zm8-2zm11 2zm16-1zm20-1zm22-7zm9 2zm25 8zm-76 6zm-14 4zm-7-6zm0-2zm0 1zm-2-2zm-8 4zm-17 7zm-6-1zm-2-7zm-1 2zm-1 0zm-3-1zm-10 6zm-5-7zm-8 5zm-4-1zm-4-6zm-12 1zm-15 8zm-4-2zm-6-7zm-8 4zm-38-1zm-27-4zm-8 2zm-8 5zm-51-6zm9 14zm4-1zm30-1zm6 7zm42-2zm2-3zm4 3zm24 4zm1-4zm5 0zm6 1zm5 0zm0 2zm4-4zm11-1zm2 7zm12-6zm18 5zm6-4zm3 5zm3-10zm18-1zm1 3zm1-2zm1 1zm18 2zm32-2zm14 2zm8 4zm11 14zm-63-3zm-48-3zm-30-1zm-26 7zm-26-3zm-1-4zm-2 4zm-15-7zm-14 0zm-67 9zm-11 8zm35-5zm11 2zm9 7zm12-3zm25 3zm5-4zm101 0zm24-5zm4 10zm1-11zm59 12zm-31 8zm-9 1zm-20-7zm-4-2zm-48 2zm-6 10zm-33-5zm-13-1zm-13 0zm-3-6zm-35 11zm0-1zm-16-3zm-30-6zm-8 1zm-22 8zm28 13zm20-8zm36-2zm8 8zm11-8zm15 5zm10 0zm35-4zm34 4zm64 9zm-89 1zm-31-1zm-16 0zm-40 6zm-23-3zm-51-5zm-2 8zm-9 6zm83 7zm2-4zm25 2zm52 14zm-92-5zm-64-3zm54 19zm25 3zm-35 7zm-18 9zm56 17z"/><path stroke="#fc1a7e" stroke-width="15" stroke-opacity="0.4" d="M296 1721zm9 49zm24 9zm16-1zm40-3zm26-5zm-48 18zm-57 7zm76-1zm39 12zm35 19zm22 9zm-16-3zm-5 5zm-74 11zm46-5zm12 2zm46 6zm15-2zm61-1zm17-2zm-33 20zm-54-10zm-4 4zm-19 3zm-21-7zm-28 5zm-85-1zm76 9zm33 3zm7 5zm9-7zm8 2zm44 6zm20-4zm11 1zm2-4zm34 17zm-7-7zm-11 3zm-6 6zm-10 1zm-6 0zm-2-11zm-7 4zm-2 2zm-41 4zm-13-5zm0 5zm-3-4zm-11-6zm-39 5zm-1 1zm-56 0zm7 13zm63-5zm18 2zm11 6zm5-1zm10 0zm28-5zm0 4zm10 2zm2-9zm8 2zm2 1zm2 2zm2-1zm0 1zm29-7zm11 5zm34 4zm-8 13zm-18-4zm-8-4zm-6 7zm-12-2zm0-2zm-1 7zm-1-11zm-10 0zm-1 8zm-10 1zm-1 0zm-1-6zm-3 0zm-3-2zm-3 10zm-2-8zm-11-2zm-3 2zm-4-1zm-6-2zm-14 8zm-28-8zm-3 10zm-4-10zm-24 7zm16 13zm9-4zm2 4zm5-1zm16 3zm5-8zm1 7zm5-3zm7 3zm2-6zm5-2zm5 6zm1-1zm3-4zm3 2zm3 7zm3-1zm1-11zm1 10zm4-2zm0-1zm0-3zm3 6zm0-9zm5 10zm2-10zm10 7zm4-5zm6-3zm0 8zm1-5zm6 4zm0-2zm2 2zm5-4zm3 8zm13-9zm10 7zm2-2zm10 3zm7-4zm33 2zm-3 12zm-5-5zm-16 5zm0-7zm-24 10zm-4-6zm-1-4zm-2 1zm-5 10zm-3-6zm-3-2zm-1 7zm-4-4zm-5-3zm-4 0zm-9 2zm-4 5zm-1-1zm0-2zm0 2zm-6-10zm-2 3zm-2 1zm-1 4zm-7-5zm-12 4zm-3-6zm-4-1zm0 3zm0 3zm-3 4zm-5 0zm-3-4zm-2-4zm-1-2zm-10 5zm-3-1zm-14 2zm-15-2zm-28 15zm21 3zm18-3zm7-3zm1 5zm1 0zm1 0zm12-9zm7 7zm1-6zm2 3zm3-3zm3 4zm9 1zm0-3zm4 3zm7 2zm4-7zm1 7zm4-8zm0 1zm2 5zm0 5zm4 1zm2 0zm3-1zm2-8zm4 2zm3 5zm1 0zm5-4zm10 4zm5 0zm0-8zm1 5zm4-3zm1 3zm0 5zm2-10zm8 8zm21-2zm2 4zm20-8zm-8 9zm-11 7zm-4-3zm-31-2zm-5 3zm-2 5zm0-10zm-1 8zm-9-1zm-6 3zm-4-10zm-7 0zm-1 9zm-5 0zm-1-9zm-4 0zm-4 2zm-1-1zm-6-1zm-5 2zm-2 9zm-5-5zm-7 0zm-3-2zm-6 2zm-6-3zm-10 5zm-27 3zm-14 2zm43 9zm28-4zm3 2zm14-8zm1-1zm6 1zm6 9zm1-5zm16 4zm1-6zm4 5zm1-6zm0 6zm1-5zm1-2zm0 3zm2 7zm5 0zm3-9zm2 1zm6 0zm12-1zm12 6zm8 0zm0-2zm2 5zm12 4zm-17 3zm-36 6zm-8-9zm-25 1z"/><path stroke="#e02a25" stroke-width="15" stroke-opacity="0.4" d="M207 1258zm9 12zm57-3zm199 4zm-95 18zm-74 8zm109 0zm-83 9zm-11-2zm-50 12zm37 8zm38-2zm1-5zm4 6zm41-7zm42 4zm3-1zm3-5zm-71 12zm-44 2zm-17 3zm-3-4zm-23 10zm-3-8zm-109-2zm56 17zm51 3zm12-1zm9-3zm24 1zm6-2zm13-3zm49 4zm9 6zm21 11zm-31-8zm-7 7zm-57-7zm-5 6zm-5-6zm-7 9zm-2-10zm-4 9zm-3-6zm-6 2zm-43 3zm-11-7zm-48 4zm-27 14zm49 0zm5-1zm77 0zm15-4zm1 1zm22-4zm1 11zm2-3zm11 1zm3-7zm20 3zm7 10zm-2 0zm-6 1zm-9 5zm-40-4zm-8-4zm-2 2zm-9-2zm-13 7zm-4-5zm-4 4zm0 3zm-14-1zm-12 1zm-7-3zm-42-5zm17 10zm96 6zm3 5zm10-11zm26 12zm22-2zm7-2zm9 4zm10-10zm24 4zm35 12zm-19-3zm-46 7zm-4-6zm-3 2zm-6 1zm-19-3zm-20 7zm-5 0zm-20-4zm-49-2zm-105-2zm-108 20zm130-7zm20 2zm13 0zm22 0zm9-5zm2 4zm16 2zm3-3zm3-3zm37 7zm12-3zm12 2zm2-3zm4-2zm7 4zm46-5zm28 16zm-78 0zm-1 1zm-2-5zm-54 10zm-16-1zm-69-6zm90 14zm51-3zm23 8zm4-2zm13-8zm35 7zm30 7zm-2 2zm-30 4zm-8 0zm-42-1zm-14-6zm-11 3zm-8 5zm-5-3zm-11 3zm-18-5zm-9-1zm-36 2zm-15 4zm-7-8zm-35 3zm80 10zm27 2zm34-2zm2 9zm24-6zm-12 15zm0-7zm-16-2zm-32 10zm-54-5zm-2-3zm-50 0zm76 18zm40-5zm23-1zm3 3zm7 1zm72 1zm2 2zm0 4zm-23 6zm-19-6zm-63 11zm-30-11zm-168 12zm150 6zm14-6zm27-1zm56 22zm-19 14zm3-1zm40-4zm52 11zm-136-4zm-49-1zm-4 1zm147 15z"/><path stroke="#8a3a20" stroke-width="15" stroke-opacity="0.4" d="M401 1571zm-103 10zm64 13zm-76 17zm5-7zm62 4zm61 12zm-62 6zm-13-6zm-6 13zm126 0zm-112 9zm-80 8zm31 2zm4 3zm3 1zm4 1zm16-1zm26 2zm13-2zm14 2zm6 2zm0 0zm15-9zm24 4zm28 10zm-81 0zm-1 6zm-27-4zm-8-1zm-25 1zm-31 17zm16-3zm46 1zm2-2zm34-3zm6-3zm11 4zm14-3zm16 3zm4 4zm21 4zm-66 7zm-13-3zm-12 1zm-9 3zm-12 1zm-30-5zm-4-4zm-3 12zm-122 8zm81-3zm61-5zm69 11zm1-4zm17-6zm29 23zm-40-2zm-67 0zm-19 0zm-32-8zm-53 0zm-12 5zm160 16zm11-10zm35 18zm-53-5zm-54 6z"/><path stroke="#c24c12" stroke-width="15" stroke-opacity="0.4" d="M890 1265zm123 5zm-147 13zm-30 15zm73-3zm18 5zm7-1zm6-5zm4 3zm3 1zm8 2zm3-9zm7 1zm9 8zm13 0zm13 7zm-4 2zm-2-7zm-6 7zm-11-1zm-10-3zm-4 0zm-9 0zm-5 6zm-5 0zm0 1zm0-7zm-1 1zm-3 0zm-2-2zm-14 8zm-5-9zm-15 9zm-7-7zm-38-1zm1 15zm6 1zm2 4zm5-1zm27 3zm34-11zm1 9zm4-9zm25 11zm2-5zm2 4zm2-6zm2 3zm11 1zm5-6zm3 2zm17 5zm-9 12zm-9 1zm0-4zm-1-6zm-14 7zm-4-4zm-7-2zm-15 0zm-1 1zm-1 1zm-10-3zm-10 7zm-1-3zm-8 0zm0 2zm-2-2zm-1-2zm-1 0zm-2 5zm-8 0zm-4-2zm0 6zm-2-1zm-24-4zm-31-4zm-10 0zm-1 0zm-17-2zm-4 7zm-24-5zm-78-1zm-36 14zm120 2zm19-3zm29 6zm9 2zm6 1zm0-10zm19 3zm19-4zm4 8zm4 3zm4-12zm1 1zm2 2zm0 2zm4 7zm2-5zm3 3zm7-4zm4 1zm4-1zm0-2zm4-1zm8 6zm2-6zm0 4zm1-3zm11 5zm1-8zm1 1zm1 2zm1-1zm4-1zm3 9zm2-10zm6 6zm6 5zm6-8zm3 8zm1-2zm1 2zm2-5zm5-4zm2 1zm14 7zm1 3zm-2 7zm-7-3zm-2-2zm-2-2zm0 2zm-3 6zm-18-9zm-3 5zm-1-4zm-9 4zm-2 2zm-2-2zm-1-5zm-1 5zm0 3zm-1-5zm-1 0zm0-3zm-2 8zm0-2zm-2 3zm-4-3zm-4-4zm-9 1zm0 5zm-1-5zm-1-2zm-2 6zm-3-6zm-2 5zm0 1zm-2 1zm-3-7zm-1 8zm-1-1zm-4-4zm-2 7zm-1-11zm-1 10zm-2-3zm-2 4zm-1-7zm-2 6zm0-7zm-4 1zm-3-4zm-1 8zm-4-6zm-2 3zm-1 0zm0-6zm-13 10zm-3-4zm-17-2zm-60-1zm13 16zm41-1zm21 3zm4-4zm2 2zm2-5zm1 9zm1-7zm22 3zm0 0zm2 3zm1-3zm1-3zm1 3zm2-5zm0-1zm3 6zm1 0zm0-3zm1 0zm1 8zm1-7zm0-2zm1 4zm2-5zm0 5zm1-7zm2 3zm1 5zm3 3zm0-10zm1 8zm0-8zm2 2zm1 6zm0-2zm3-4zm2 8zm1-3zm0-7zm0 1zm0 3zm1 2zm0 3zm1-1zm0 0zm1-1zm6 2zm1 1zm5 0zm2-9zm1 2zm1-1zm2 9zm2-8zm3 5zm4-7zm2 1zm2 3zm5-2zm1-1zm0-3zm1 3zm2 3zm5 6zm2-9zm1 8zm0-4zm1 3zm3-3zm19-3zm6-2zm-2 11zm-27 4zm-12 5zm-6-3zm-8 0zm-2-2zm-1 5zm-2-9zm0 11zm-1-2zm-8-5zm0-3zm-1 4zm-6 1zm-6-1zm0 3zm-1-8zm-1 7zm-5 3zm-1 0zm0-9zm-1 7zm-2-9zm-1 2zm-2 4zm-4-3zm-1 3zm-2-4zm-5 7zm-1-7zm-4 7zm-4 3zm-9-11zm-4 1zm-4 9zm-2-9zm-13 7zm-10 2zm-2-11zm-2 2zm-2 9zm-10-8zm-3 0zm-25 7zm-4-1zm-118 1zm38 9zm80-5zm27 2zm32-2zm23-1zm2 4zm1-1zm7 7zm1-1zm17 1zm5-2zm0 0zm0-7zm4 0zm2-1zm7 1zm0 8zm3-1zm0-8zm7 5zm2-4zm5 1zm10-3zm0 4zm1-1zm4 4zm2 1zm2 2zm10-6zm5 2zm26-6zm6 15zm-7 7zm-39 1zm-2-3zm-11-5zm-8-2zm-4 8zm-1-7zm-4 6zm0-3zm-6-1zm-1-3zm-1 11zm-3-4zm0-8zm-3 8zm-17 2zm-2 0zm-11 0zm-7 1zm-18-8zm-21 9zm-13-2zm0-9zm14 17zm11 5zm23-6zm5-3zm15 7zm1-2zm12-6zm3 9zm5-6zm12-3zm5 2zm3-3zm37 8zm27-4zm-69 13zm-27-4zm-62 7zm-158 11zm109-1zm43 2zm32-3zm11-4zm34 8zm7-3zm9 6zm28-11zm30 10zm-15 2zm-38 9zm-1-1zm-17-7zm-259 7zm230 8zm23 13zm-29 4zm-162-7zm29 13zm25 2zm153-1zm78 0z"/><path stroke="#c98a22" stroke-width="15" stroke-opacity="0.4" d="M885 1347zm62 13zm-20 9zm3 3zm0 1zm56 12zm-59-1zm-57-5zm21 8zm1 0zm35 4zm5-3zm67 17zm-44 4zm-3 1zm-46-8zm-48 3zm106 12zm4 14zm-3-1zm-16-2zm-43-2zm-2 4zm-36-3zm-19-3zm29 17zm28-4zm7-2zm10 2zm15 4zm11 0zm23-2zm5-4zm11 10zm6-5zm-55 11zm-7 3zm-9 1zm-48 3zm-23-10zm-41 18zm58 2zm47-2zm14-5zm5 3zm5-3zm-1 19zm-12-10zm-1 8zm-2 3zm-4-6zm-7 5zm-26 2zm-21-4zm-67 10zm92 2zm9 4zm8-10zm1-2zm0 10zm36 13zm-6-7zm-3 6zm-4-4zm-39-6zm-2 7zm-26 3zm-61 4zm43 8zm45-9zm12 0zm26 15zm-9 5zm-14-2zm-43 0zm-19-3zm-65-1zm80 10zm3 7zm11-1zm17-4zm88 4zm-113 16zm-1-4zm-1 2zm-18-2zm-23-1zm-78-4zm39 21zm15-3zm25 3zm49-8zm2 2zm4-1zm17 1zm20 3zm10-4zm43 6zm-18 8zm-84-1zm-9 7zm-30-8zm-4-1zm-94 3zm32 14zm84 0zm31 3zm2-4zm3 0zm2-2zm4 5zm16 0zm-12 10zm-28-5zm-3 1zm-8 1zm-41-2zm-61-2zm-12 5zm-201-1zm271 18zm6-9zm6 2zm67 4zm4-1zm32-7zm-25 15zm-74 1zm-19-2zm-31 4zm-11 5zm-1-4zm-51 1zm10 9zm47 2zm28-3zm9 6zm21 1zm19-5zm24 5zm12-4zm98-6zm-54 22zm-55-10zm-43 2zm0 8zm-20-2zm-5 0zm-12-2zm-90 9zm17-1zm64 8zm3-6zm1 7zm18-9zm0 8zm16-9zm81 1zm-12 15zm-28-2zm-14 0zm-11 0zm-40-1zm-41-3zm-20 1zm-16 9zm-12 2zm-5-2zm-153 13zm209-7zm123 1zm30-1zm-21 9zm-37 5zm-14 3zm-8-2zm-19-2zm-12-1zm-15-4zm-20 8zm-7 3zm-14-2zm-31-1zm-39 3zm-15 0zm-18-1zm6 14zm52-4zm49-3zm6-2zm44-2zm6 2zm20 4zm31 4zm65-3zm-120 14zm-8-1zm-3 2zm-24-3zm-20-5zm-2-2zm-3 5zm-6-3zm-1 0zm-5 4zm-18-3zm0-3zm-6 4zm-17 6zm-9-4zm-25-2zm-61 6zm-16-3zm-62 12zm136-6zm14 3zm19 7zm29-7zm22-2zm2 6zm9-5zm1 6zm0-8zm19 7zm6 1zm27-5zm3 5zm3-10zm3 11zm1-8zm6-2zm7 5zm0-2zm18-3zm8 19zm-30 1zm-21-1zm-17-2zm-1 3zm-4 3zm-4 0zm-17-4zm-11 3zm-4-1zm-6 2zm-10-9zm-11 8zm-14 0zm-24-8zm-33-3zm-47 2zm-74 14zm36 8zm8-6zm24-2zm52 2zm11 2zm22-2zm8 3zm2-2zm11-1zm1 2zm2-8zm9 1zm15 7zm14-1zm2 4zm1-1zm0-1zm6-8zm4 4zm0 0zm8 6zm3-5zm8-2zm26-1zm19 5zm20 4zm15-4zm-53 8zm-7 4zm-8-7zm-24 9zm-1-6zm-7 0zm-3-3zm-2 6zm-8-5zm0 6zm-4 4zm-12-4zm-2-2zm-4 1zm-2-7zm-4 8zm-3 2zm-1-9zm-8 5zm-7 4zm-28-7zm-4 1zm-2 6zm-4 0zm-1 2zm-7-1zm-5-1zm-15-6zm-12 6zm-38-9zm-10 1zm-37 7zm-1-5zm-62 2zm61 14zm35-1zm21-1zm10 1zm12 5zm6-7zm4 0zm30-4zm12 8zm7-4zm8 1zm13-1zm6-3zm5 5zm10 0zm8-4zm7 5zm1-1zm13-6zm7 0zm24 1zm4 8zm35 3zm-6 1zm-9-1zm-13 4zm-34-4zm-2 8zm-5-1zm-5-7zm-2 2zm-24 2zm0 5zm-1-3zm-1-6zm-7 9zm-3-6zm0 7zm-8-3zm-3 3zm-2-5zm-7 4zm-4-8zm-8 5zm-1-3zm-3-1zm-3 1zm-14 6zm-7-1zm-22-3zm-26-6zm-35 6zm-3-3zm-1 4zm-17 0zm-7-3zm-46 7zm-11 8zm12-4zm21 8zm7 1zm31-5zm10 4zm6-7zm25 2zm7 2zm9-3zm15 2zm19 2zm8-6zm12 5zm16 2zm7-9zm12 1zm17 9zm16 1zm1-1zm3 0zm28-6zm7 1zm26 2zm34-7zm-4 18zm-95-6zm-9 3zm-13-3zm-21 2zm-12 1zm-6-4zm-31 7zm-7 5zm-2-1zm-5-10zm-3 2zm-23 4zm-34 0zm-5-3zm-6-2zm-4 5zm-12 4zm-8-1zm-15-2zm-7-3zm-17 13zm6-1zm14 6zm61-4zm56-5zm8 3zm0-2zm11 8zm13-3zm28-5zm1-1zm5 0zm8 5zm5-5zm6 7zm3-6zm23 1zm13 2zm-4 7zm-17 0zm-2 9zm-6-2zm-7-7zm-29-1zm0 5zm-15 7zm-9 0zm-5-4zm-57-7zm-1 2zm-39 7zm-8-5zm-43 1zm-3-2zm-2 13zm0-3zm28-2zm62 3zm12 0zm17 4zm9 4zm9-5zm7 2zm14-3zm5 4zm2-3zm17 3zm57-9zm-84 14zm-51 3zm-17-2zm-24 1zm-17 2zm-11-2zm-45 3zm-2-5zm15 18zm24-5zm28 9zm16-4zm1 1zm20-6zm20 7zm51-2zm22 6zm-65 7zm-115 7zm32-2zm67 7zm57-8zm37 8zm-14 8zm-50-1zm-45 4zm-31-6zm-2 11zm8 4zm16 16zm-45 4z"/><path stroke="#fc1a7e" stroke-width="15" stroke-opacity="0.4" d="M322 1718zm-33 0zm-4 4zm101 5zm-102 31zm22-3zm18 16zm67 7zm56 10zm-89-6zm-228 17zm201-4zm147 22zm-148-9zm-28 7zm20 12zm11-2zm26 1zm29-1zm-105 14zm165 4zm38 8zm22-9zm33 10zm65 3zm-117 10zm-8-7zm-14 6zm-59 3zm4 0zm68-1zm5 9zm9-8zm3 7zm34-1zm2 2zm7-2zm20 3zm4-3zm8 8zm-9 3zm-8 1zm-14 1zm-29-8zm-5 1zm-5 3zm-15 5zm-13-6zm-18 1zm-4-2zm-2-1zm-11 8zm-27-9zm-2 9zm-23 10zm32 3zm21-9zm8 7zm38-4zm4 6zm1-5zm2 4zm1 1zm6-3zm1-4zm0 0zm3-3zm8 0zm3 10zm3-8zm3 10zm5-12zm2 10zm2 1zm5-7zm15-2zm5 8zm11-6zm4 6zm11-4zm1 5zm37 0zm18 0zm-19 9zm-18 4zm-9-1zm-4-8zm-3 0zm-9 1zm-2-1zm-3 8zm-1-3zm-22 0zm-5-2zm-6 3zm-2 2zm-2-10zm-2 8zm-13-3zm-9 5zm-5-8zm-7 7zm-8-5zm-1 5zm-4-8zm-1 6zm-12 2zm-8-9zm-2 0zm-18 9zm-23 7zm34 2zm14-4zm3 7zm0-1zm5-2zm6-6zm1 7zm2-3zm1 2zm8-5zm0 1zm1 8zm2-7zm0 1zm2 2zm0-6zm2 2zm4-2zm1 7zm3-6zm2 5zm0-2zm1-1zm2 0zm0 7zm4-1zm3 1zm0-6zm10 5zm2-2zm1 2zm0-9zm1 0zm13 7zm5-1zm1 0zm4-1zm1 5zm10-9zm2 10zm4-9zm2 5zm4-1zm5-2zm4 7zm2-4zm10-2zm16 2zm4 12zm-6-2zm-5-3zm-10-3zm-2 8zm0-1zm-2 3zm-7-8zm0 9zm-6 0zm-12-7zm-2-3zm-14 9zm-2 2zm-3-9zm-1 2zm-2-2zm-1 3zm-2 5zm-3-3zm-5 1zm0-4zm-3-4zm-3 8zm-2 2zm-4-4zm-6 1zm0-7zm-5 7zm-2-1zm-5-4zm-6 7zm-6-1zm-5 0zm-21 0zm-14-6zm7 15zm13-2zm5-2zm3 9zm4-3zm2 1zm1-3zm8 1zm5-3zm4-2zm1 6zm1-7zm1 1zm1 10zm0-3zm1-2zm10 5zm5-7zm0 2zm1 1zm14-3zm3 4zm1-7zm2 5zm9-4zm5 4zm2-1zm0 4zm10-9zm1 8zm10-8zm2 4zm2 0zm13-3zm3 2zm2 4zm11-3zm6 4zm15 10zm-25-5zm-5 5zm-13 0zm0-1zm0-4zm-5 3zm-20-2zm-16 0zm-2 9zm-3-9zm-1 5zm-3-7zm-9 4zm-4-3zm-10-1zm-8 4zm-2 0zm0 1zm-6-5zm0 5zm-2 2zm-5-3zm-7-3zm-14 5zm-11-1zm-6 3zm-23-5zm38 9zm12 3zm1-3zm8 9zm33 1zm11-4zm3-3zm2 1zm12-3zm0 7zm18-5zm5 8zm2-6zm2 1zm1 4zm13-8zm40 5zm-8 10zm-34 5zm-18-8zm-18-2zm-10 10zm-10-8zm-5 2zm-3 0zm-1-3zm-9 0zm-1 8zm-106-9zm90 16zm89-3zm6-1zm-141 12z"/><path stroke="#e02a25" stroke-width="15" stroke-opacity="0.4" d="M191 1236zm166 17zm-139 22zm56-7zm-188 11zm18 19zm170-7zm158 2zm41 14zm-5-4zm-120 3zm-4 4zm-45 0zm-42 1zm-42 10zm15 3zm34 1zm37-4zm121 15zm-12 1zm-29 0zm-39-3zm-37-2zm-1-4zm-27 8zm-127 10zm59 0zm29-2zm3-2zm41-1zm20-1zm14 3zm21 5zm25-9zm3 8zm44-2zm2-1zm52 3zm-85 6zm-13 1zm-2 1zm-69-1zm-22-4zm-11 5zm-24-3zm-68 12zm65 4zm68-6zm3 4zm2-3zm16 2zm3-3zm3 9zm22-9zm5 10zm1 2zm12-3zm3-3zm51-2zm22 2zm2-5zm67 15zm-158 0zm-6 6zm-1-5zm-20 1zm-29 1zm0 1zm-15-6zm-22 5zm-7-5zm-16 7zm-117 7zm42 8zm5-2zm119-8zm44 6zm3-2zm5 4zm7-5zm7 6zm14-2zm3 1zm28-1zm24-7zm15 4zm7 11zm-23-4zm-8 0zm-10 4zm-1 7zm-14-4zm-9 1zm-19-5zm-26 0zm-7-1zm-3 0zm-41 3zm0 1zm-44-1zm-4-1zm-13 7zm-2-4zm-39-1zm-86 0zm1 12zm162 1zm7 3zm53-3zm0-4zm44 1zm16-4zm3-1zm21 0zm8 0zm2 12zm3-10zm-16 15zm-15 2zm-31 3zm-3-4zm0 2zm-2-6zm-11-1zm-6 0zm-24 0zm-22 2zm-21 5zm-16 2zm-174-7zm147 10zm25 1zm37 6zm28 3zm6-10zm7 2zm4 1zm31 4zm8 2zm0-1zm8-7zm1 7zm20-4zm7 5zm4-9zm15 3zm29 3zm-49 12zm-25 0zm-4 2zm-2 0zm-43 0zm-19 0zm-8-2zm-67-1zm81 6zm7 4zm19 0zm27 6zm31-5zm80 6zm-305 22zm47-2zm26 3zm32-7zm43-1zm49 3zm35 0zm4 8zm-84 2zm-82 15zm162 16zm-7 2zm-39-8zm-5 0zm-42-2zm-94 10zm167 6zm-69 8zm-76 12zm111 5zm-62 15zm-57-5z"/><path stroke="#8a3a20" stroke-width="15" stroke-opacity="0.4" d="M385 1622zm-16-6zm-72 1zm24 10zm70 12zm-2 3zm-1 7zm-32-8zm-48 3zm13 8zm6 7zm7-8zm1 11zm5-11zm11 0zm10-1zm4 5zm7 1zm64 10zm-52 3zm-27-5zm-3 6zm-16-1zm-5 2zm-43-3zm-30 2zm30 6zm33 3zm4 7zm63-11zm16 15zm-36 6zm-10-10zm-1 5zm-23 3zm-2-4zm-25 3zm0-6zm-18 12zm22 10zm14-5zm9-5zm5-1zm46 7zm69 11zm-14 4zm-73-6zm-1 3zm-41 2zm-11-5zm-25 8zm30 1zm49 0zm4 18zm-30-4zm-101 30z"/><path stroke="#c24c12" stroke-width="15" stroke-opacity="0.4" d="M844 1269zm126 20zm-40-1zm-7-9zm-219 5zm160 11zm7 2zm63 3zm0-1zm4 2zm10-2zm12 2zm24 3zm-7 8zm-27-6zm-26 6zm-12-1zm-10-7zm-3 9zm-1-2zm-27-1zm-6-7zm-4 6zm-33 3zm14 9zm12-4zm9 4zm1-2zm8 5zm10 1zm17-7zm7 5zm17-1zm3 1zm10-4zm5 7zm2-3zm1-2zm9 4zm5-2zm0 2zm5-4zm1-4zm10 2zm4 5zm3-9zm2 2zm10 8zm10-10zm19 20zm-23 2zm0 0zm-9-4zm-6 3zm0 0zm-1 1zm-9-4zm-1-1zm-4 5zm-4-5zm-1 1zm-4-3zm-1 7zm-2-1zm-3 0zm-2-3zm0 3zm-7 0zm-4-8zm0 4zm-2 6zm-2-4zm-1-5zm-3 2zm-3-2zm-3 6zm-1-2zm-4-1zm-1 2zm-7-3zm-4-2zm-5 0zm-3 8zm-24-1zm-1-5zm-9 1zm-1-3zm-6 5zm-3-1zm-34 0zm-22-6zm45 13zm17 10zm0-7zm10 4zm7 1zm5-6zm11 3zm4 2zm5-8zm3 0zm1 3zm1 3zm0-3zm6 5zm1 0zm5-9zm0 1zm16-1zm1 5zm2-2zm0 2zm6 1zm1 5zm13-5zm11 5zm6-1zm1-4zm1 6zm3-10zm4 1zm0-2zm1 9zm3-8zm4-2zm3 3zm2 4zm6-1zm0 2zm5 2zm1-8zm13-2zm-22 20zm-2-1zm-4 2zm-6-8zm-1 6zm-11 3zm-3-9zm-3 0zm-16 9zm-1 2zm-5-5zm0-3zm-3 5zm-2 3zm-2-7zm0-2zm-7 1zm0-2zm-1 9zm0-1zm-2-7zm0 7zm0-1zm0-8zm-2 0zm0 6zm0 3zm-3-5zm-2-5zm-3 5zm-2 2zm0 3zm-2-5zm-8 2zm-2-4zm-3 5zm-3-4zm-1 5zm-1-6zm-1-3zm-3 0zm-2 1zm-12 2zm-5 6zm-1-3zm-1 1zm-1-4zm-3-2zm-11 8zm-7 1zm0-10zm-11 2zm-2 3zm-20-5zm-21 8zm-89-7zm143 18zm15-4zm7 1zm15 1zm3-1zm14-2zm4 9zm5-10zm1 2zm0 6zm1-9zm2 7zm6-4zm1 8zm4 0zm1-6zm1-5zm0 4zm3 0zm0 8zm2-11zm5 5zm2-3zm4 6zm1-6zm0 8zm3 0zm2-4zm1 3zm3-9zm9 7zm2-5zm1 6zm0-5zm2 1zm2-4zm2 10zm5-2zm2-9zm2 10zm20-3zm6-2zm7 17zm-5-2zm-3-5zm-26-2zm-1 5zm-3-5zm-1 8zm-1-5zm-8-2zm-2 8zm-5 2zm-3-9zm0 1zm-1 4zm0 1zm-6-5zm-2 0zm-1 0zm0-1zm-7 6zm-1 0zm-1 1zm-2-2zm-1-6zm-2 4zm-1 3zm-3-4zm-1-2zm-1 2zm-6-4zm-3 1zm-2 2zm-4 2zm-2-2zm-1 2zm-7-3zm-4 7zm-2-3zm-1-3zm0 8zm-3-4zm-2 1zm-5-9zm-4 5zm0-4zm-8 6zm-6 0zm-6 2zm-5 1zm-4-2zm-4-2zm11 8zm7 3zm7 4zm15-4zm4-2zm4 6zm8-9zm2 9zm1-8zm0 11zm1-2zm2 0zm7-7zm5 4zm8 3zm0-9zm3 3zm2 0zm1 3zm7-2zm1 4zm6-6zm0 7zm2 1zm8-7zm8 0zm8 1zm6 3zm6 1zm1-4zm2-3zm7 8zm11 8zm-5 4zm-36-4zm-4-3zm-1 6zm-4-3zm-2 2zm-3 0zm-1-7zm-1 7zm-1 3zm-5-7zm-1 3zm-2-2zm-1-2zm-4 1zm-2 2zm-2-2zm-9 2zm-9 3zm-2-8zm-9 8zm-58 1zm-22 0zm-5-9zm-25 22zm42-6zm6 6zm11 0zm36 0zm16-3zm7-5zm5 1zm4 1zm3 5zm0-7zm6 8zm5-10zm27 1zm18-1zm9 2zm3 4zm18 8zm-7 7zm-7-3zm-12-7zm-37 4zm-4 6zm-7-6zm-32-4zm-1 10zm-66-9zm-24 16zm41-4zm23 5zm4 0zm20-5zm5 10zm22-7zm67 0zm-71 15zm-4-1zm-21-3zm-7-2zm-147 16zm258-2zm-8 20zm-34-7zm-19 3zm-117-2z"/><path stroke="#c98a22" stroke-width="15" stroke-opacity="0.4" d="M938 1360zm-56-6zm20 14zm39 7zm-2 7zm-41 13zm18-5zm8 2zm21-5zm9 10zm6-6zm3-2zm4 14zm-1 0zm-5-2zm-21-2zm-8 4zm-15 5zm-9-2zm-7 2zm-10 13zm7-7zm3 1zm9 7zm8 0zm33-2zm7-8zm16 10zm21 6zm-30 1zm-8 4zm-51-9zm-10 5zm-14-5zm-12 20zm13-4zm8-5zm33 6zm18-1zm47-5zm-6 18zm-62 1zm-5-2zm-30-1zm-40 16zm3 3zm63-7zm3 7zm2-2zm23-3zm47 16zm-37 1zm-9-1zm-16-10zm-23 0zm-27 5zm-36 15zm69-3zm25 3zm16 1zm10-3zm-25 16zm-29-1zm-60-8zm-24 5zm-24 16zm62-1zm38-1zm28-8zm-16 15zm-253 4zm172 12zm66-1zm10-2zm1-4zm8 5zm-7 18zm-15-10zm-3 1zm-10 4zm-9 5zm-31-4zm-60 5zm66 3zm27 2zm6-5zm5 6zm30-6zm5 3zm9 2zm28 11zm-73-1zm-13 5zm-27 3zm-4-10zm-10 1zm-10 5zm-262-2zm185 16zm91-2zm5 0zm46 3zm3-3zm8-5zm9 0zm2 4zm4-6zm9 18zm-27-5zm-3 10zm-21-12zm-18 4zm0 2zm-47 4zm-7 9zm8 1zm20-1zm65-6zm12 1zm-12 21zm-35-9zm-19 8zm-31-7zm-4-1zm0 10zm-16-8zm-57 1zm-6 6zm-17-4zm-52 2zm121 6zm15-2zm21 1zm21 0zm94 9zm-2 10zm-36-1zm-11-6zm-1 5zm-3-2zm-5 6zm-3-5zm-105 16zm25-3zm12-2zm17 2zm21-4zm43-2zm2 6zm12 8zm-46 6zm-26-6zm-13 7zm-36-6zm-13 5zm-44-3zm29 7zm10 7zm33 2zm10-3zm6 0zm0-5zm32 7zm38-3zm-49 10zm-53 0zm-17-1zm-10-2zm-2 0zm-5 6zm-9-5zm-5 8zm-1-1zm-24 0zm-21 7zm43 2zm21-2zm3 2zm17-2zm43 2zm42-5zm90 14zm-183 3zm-5 3zm-6-2zm0-5zm-26-1zm-7 10zm-2-8zm-10 8zm-2-8zm-5 3zm-15 3zm-87 2zm-1-9zm-7 6zm19 11zm29 3zm47 1zm37-2zm5-3zm3 0zm10 0zm14 4zm21-4zm3 6zm9-2zm16-2zm41-6zm9 7zm11-9zm14 7zm29 0zm-20 5zm-40 1zm-27 3zm-8 6zm0 2zm-4-3zm-1-7zm-11 9zm-9 1zm-7-2zm-4-8zm-16 2zm-9 7zm-4-2zm-30-9zm-1 9zm-10-3zm-14-5zm-11 10zm-115 12zm51-4zm32 4zm7-5zm3 4zm3-9zm20 10zm16-11zm6 11zm8-6zm10 1zm1-6zm2 8zm17-5zm1-1zm3 9zm0-9zm1 2zm11 2zm1-1zm2 2zm27-2zm9 1zm2 3zm5-9zm1 1zm24 6zm-23 9zm-1-1zm-3 6zm-45-5zm-10 1zm-3 6zm-3-4zm-1 3zm-11 1zm-4-11zm-4 10zm-2-4zm-14 2zm0-7zm-4 2zm0 0zm-4 4zm-1 2zm-2-5zm-10 8zm-9-7zm-9-2zm-9 5zm-16 0zm-52-2zm-14 5zm-43-2zm-39 11zm88 3zm42-2zm30-1zm3-5zm14-3zm1 2zm25 7zm3-5zm0 4zm3 2zm0-2zm19 2zm12-3zm18-1zm11 4zm0-6zm3 1zm24-5zm21 2zm-12 19zm-12-7zm-5 2zm-11-3zm-12 11zm-14-3zm-6-4zm-15 4zm-6 3zm-10-10zm-2-1zm-2 10zm-9-9zm-10 5zm-19 1zm-30-7zm-14 6zm-15 4zm-3-4zm-15 3zm-18-4zm-62 15zm15-2zm108 3zm2-1zm11-2zm9 2zm7 0zm5-6zm39 3zm0-2zm4 1zm11 0zm20-2zm14 5zm63 5zm-6 2zm-13-2zm-11 1zm-1 2zm-46 1zm-8 5zm-15 0zm-2-8zm-13 5zm-10-6zm-9 3zm-16 8zm-6-9zm-15 3zm-3-2zm-30-1zm-17 3zm-23 6zm-80-8zm-9 17zm26-8zm25 1zm22 0zm4 0zm89 1zm7 6zm2-1zm2-6zm1 2zm2 4zm1 0zm1-1zm3-4zm49 4zm9-2zm5-1zm77 6zm-106 3zm-11 4zm-45 5zm-8-2zm-7-4zm-12 8zm-7-8zm-10-2zm-11 10zm-3-7zm-39 5zm-16 0zm0-3zm-46 3zm-1-4zm50 11zm22-3zm20 2zm55 3zm15 1zm23 1zm11 0zm79-9zm-38 20zm-9-4zm-73 2zm-55 3zm-33 2zm-34 1zm-19-5zm9 6zm19 2zm12 0zm1 0zm7 0zm0-3zm16 1zm65 1zm34 0zm-78 15zm-10-2zm-29-3zm-29 5zm0 15zm-10 20zm8 2zm135 6zm5-7zm-66 9zm-76 6zm-6 4z"/><path stroke="#fc1a7e" stroke-width="15" stroke-opacity="0.4" d="M301 1739zm-28 9zm75 32zm41 8zm-108 4zm185 12zm-103 5zm43 14zm83-2zm87-1zm13 14zm-136-2zm-24 6zm-38 3zm43 9zm63 1zm4 1zm26-2zm27 3zm10 1zm-7 9zm-28 2zm-33-6zm-41-5zm-6 9zm-88-5zm44 9zm51 6zm4 2zm18 3zm1-9zm12-2zm8 8zm12 2zm70 6zm-12-3zm-2-1zm-1 8zm-35-5zm-1-3zm0 5zm-2 5zm-16-5zm-25-3zm0-2zm-1 0zm-3 3zm-9 7zm-7-6zm-5 4zm-17-8zm-6 7zm-40 9zm32 1zm26 0zm14 4zm11-3zm6 2zm17 1zm7-5zm0 0zm0 7zm6-4zm5 3zm0-5zm9 6zm4-11zm6 6zm4 2zm16-3zm5 1zm2 3zm2-6zm6 6zm11 0zm24 10zm-4 2zm-9-8zm-10-1zm-6 9zm0 0zm-20 1zm-5-7zm-5 2zm-5 1zm-6-3zm-4 4zm-1-5zm-8 5zm0 2zm-10 1zm-6 0zm-2 1zm-1-9zm-2 3zm-4-1zm-3-3zm-2 1zm-1 3zm-1 4zm-19 0zm-7-5zm-8 5zm-1-9zm-1 11zm-23-2zm-2 12zm35-1zm7-1zm4-6zm0 7zm0-3zm4-4zm1 0zm0 7zm10-4zm4 4zm2-5zm9-4zm0 8zm3 1zm1-2zm1 4zm1 0zm1 0zm2-2zm5-8zm2 9zm2 0zm8-9zm1 9zm3-7zm7 5zm3-4zm3 8zm3-10zm1 0zm0 8zm3-8zm2 5zm1 4zm12-8zm0 4zm2-3zm2 0zm0 2zm9 5zm8-2zm4 0zm15 15zm-4-11zm-2 0zm-2 0zm-3 9zm-1-5zm0-1zm-3 3zm-4 0zm-9 3zm-2 2zm-2-10zm-1 3zm-5 6zm-3-2zm-2-6zm-3 8zm-3-10zm-3 10zm-1-8zm-11 3zm-2 4zm0 2zm-2-12zm-5 7zm-1-6zm0-1zm0 10zm0-2zm-1-4zm-1-3zm-1 9zm-2-1zm-1-3zm-1 6zm-1-1zm-3-7zm-5-2zm-7-1zm-15 7zm-6 3zm-11-9zm-10 6zm-2-2zm-5-5zm-3 6zm-10-7zm-2 2zm-15 2zm9 19zm1-4zm4-2zm19-2zm3 6zm7-9zm7 3zm5-1zm5-2zm3 6zm6-3zm2 1zm14 2zm3 0zm2 3zm1 3zm5-10zm2 3zm1 5zm3-1zm10-3zm2 4zm0-4zm1-5zm0 11zm7-11zm5 9zm0-8zm3-2zm1 12zm5-2zm4-8zm0 0zm7 7zm8-3zm5 4zm29-5zm-5 11zm-4-4zm-16 4zm-7 6zm-9 0zm-4-6zm-1 5zm-6-5zm-10 3zm-5-4zm-2 6zm-6-6zm-3 2zm0-1zm-2 0zm-7 1zm-20 5zm-2-1zm-8-8zm-9 0zm-3 6zm-8 3zm0-4zm-19-2zm-15-4zm-9 7zm-46-3zm70 8zm4 5zm3 4zm11-5zm0 4zm24-8zm18 4zm2 6zm4 1zm3-8zm3-3zm2 0zm0 2zm6 2zm3 5zm1-7zm7 4zm2-4zm10 2zm1 4zm2-3zm23 0zm3 5zm12 0zm4-5zm2-5zm-10 21zm-10-6zm-1 3zm-9-5zm-3 4zm-17 4zm-6-8zm-4 10zm-3-8zm-4 6zm-10-5zm-3-2zm-7 9zm-5-1zm-25-3zm-8-3zm-2 3zm-7-5zm-72 10zm90 1zm30 6z"/></g><rect x="1212" y="1253" width="30" height="16" fill="#fb1585"/><rect x="1242" y="1253" width="22" height="16" fill="#db2320"/><rect x="1264" y="1253" width="56" height="16" fill="#c94f12"/><rect x="1320" y="1253" width="53" height="16" fill="#c98a24"/><rect x="1212" y="1278" width="161" height="694" fill="#440154"/><g font-family="Liberation Sans, Arial, Helvetica, sans-serif" font-weight="bold"><text transform="translate(1091.0 1307.6) scale(0.969 1)" font-size="37.0" font-style="italic">KLF5</text><text transform="translate(1093.0 1360.8) scale(0.966 1)" font-size="37.0" font-style="italic">ELF4</text><text transform="translate(1059.8 1410.3) scale(0.963 1)" font-size="37.6" font-style="italic">EOMES</text><text transform="translate(1073.7 1545.5) scale(0.973 1)" font-size="37.0" font-style="italic">MKI67</text><text transform="translate(1065.8 1598.3) scale(0.945 1)" font-size="38.1" font-style="italic">CENPF</text><text transform="translate(1094.1 1689.0) scale(0.961 1)" font-size="37.6" font-style="italic">WIF1</text><text transform="translate(1062.0 1763.5) scale(0.945 1)" font-size="38.0" font-style="italic">IGFBP7</text><text transform="translate(1089.4 1839.0) scale(0.915 1)" font-size="38.1" font-style="italic">SYT1</text><text transform="translate(1049.9 1882.0) scale(0.978 1)" font-size="36.7" font-style="italic">DPYSL3</text><text transform="translate(1087.5 1923.7)" font-size="36.1" font-style="italic">PCP4</text><text transform="translate(1068.5 1956.8) scale(0.962 1)" font-size="37.4" font-style="italic">CALB2</text></g><rect x="1388.5" y="1824.4" width="17.3" height="143.9" fill="url(#gv)" stroke="#000" stroke-width="2"/><g font-family="Liberation Sans, Arial, Helvetica, sans-serif" font-weight="bold"><text transform="translate(1416.0 1844.9) scale(1.030 1)" font-size="28.1">1.0</text><text transform="translate(1416.8 1965.3) scale(0.992 1)" font-size="28.7">0.0</text></g><defs><clipPath id="hc"><rect x="1212" y="1278" width="161" height="694"/></clipPath><filter id="hb" x="-0.5" y="-0.02" width="2" height="1.04"><feGaussianBlur stdDeviation="9 0"/></filter><filter id="hbb" x="-0.5" y="-0.5" width="2" height="2"><feGaussianBlur stdDeviation="10 14"/></filter><filter id="hb1" x="-0.5" y="-0.02" width="2" height="1.04"><feGaussianBlur stdDeviation="5 0"/></filter><filter id="hb2" x="-0.3" y="-0.05" width="1.6" height="1.1"><feGaussianBlur stdDeviation="2.5 0"/></filter></defs><g clip-path="url(#hc)"><g filter="url(#hb)"><path fill="#31688e" d="M1182 1278L1182 1282L1182 1286L1182 1290L1182 1294L1182 1298L1182 1302L1182 1306L1182 1310L1182 1314L1182 1318L1182 1322L1182 1326L1182 1330L1182 1334L1182 1338L1182 1342L1182 1346L1182 1350L1182 1354L1182 1358L1182 1362L1182 1366L1182 1370L1182 1374L1182 1378L1182 1382L1182 1386L1182 1390L1182 1394L1182 1398L1182 1402L1182 1406L1182 1410L1182 1414L1182 1418L1182 1422L1182 1426L1182 1430L1182 1434L1182 1438L1182 1442L1182 1446L1182 1450L1182 1454L1182 1458L1182 1462L1182 1466L1182 1470L1182 1474L1182 1478L1182 1482L1182 1486L1182 1490L1182 1494L1182 1498L1182 1502L1182 1506L1182 1510L1182 1514L1182 1518L1182 1522L1182 1526L1182 1530L1182 1534L1182 1538L1277 1538L1275 1534L1275 1530L1275 1526L1275 1522L1275 1518L1275 1514L1274 1510L1274 1506L1274 1502L1274 1498L1274 1494L1274 1490L1274 1486L1274 1482L1274 1478L1274 1474L1274 1470L1273 1466L1273 1462L1273 1458L1273 1454L1273 1450L1273 1446L1273 1442L1273 1438L1273 1434L1273 1430L1273 1426L1272 1422L1272 1418L1272 1414L1272 1410L1272 1406L1272 1402L1272 1398L1272 1394L1272 1390L1272 1386L1272 1382L1272 1378L1272 1374L1272 1370L1272 1366L1272 1362L1272 1358L1272 1354L1272 1350L1272 1346L1272 1342L1271 1338L1271 1334L1271 1330L1271 1326L1271 1322L1271 1318L1271 1314L1271 1310L1271 1306L1271 1302L1271 1298L1271 1294L1271 1290L1271 1286L1271 1282L1271 1278Z"/><path fill="#31688e" d="M1182 1536L1182 1540L1182 1544L1182 1548L1182 1552L1182 1556L1182 1560L1182 1564L1182 1568L1182 1572L1272 1572L1272 1568L1272 1564L1272 1560L1272 1556L1272 1552L1272 1548L1272 1544L1272 1540L1272 1536Z"/><path fill="#31688e" d="M1209 1566L1228 1570L1228 1574L1228 1578L1228 1582L1228 1586L1229 1590L1229 1594L1229 1598L1229 1602L1229 1606L1229 1610L1229 1614L1229 1618L1230 1622L1230 1626L1230 1630L1230 1634L1230 1638L1230 1642L1230 1646L1230 1650L1231 1654L1231 1658L1231 1662L1231 1666L1231 1670L1231 1674L1231 1678L1231 1682L1232 1686L1232 1690L1232 1694L1232 1698L1232 1702L1232 1706L1232 1710L1233 1714L1233 1718L1233 1722L1233 1726L1233 1730L1233 1734L1234 1738L1234 1742L1234 1746L1234 1750L1234 1754L1234 1758L1234 1762L1235 1766L1235 1770L1235 1774L1235 1778L1235 1782L1235 1786L1236 1790L1236 1794L1236 1798L1236 1802L1236 1806L1236 1810L1237 1814L1237 1818L1237 1822L1237 1826L1237 1830L1237 1834L1238 1838L1238 1842L1238 1846L1238 1850L1242 1854L1294 1854L1290 1850L1290 1846L1290 1842L1290 1838L1289 1834L1289 1830L1289 1826L1289 1822L1289 1818L1289 1814L1288 1810L1288 1806L1288 1802L1288 1798L1288 1794L1288 1790L1287 1786L1287 1782L1287 1778L1287 1774L1287 1770L1287 1766L1286 1762L1286 1758L1286 1754L1286 1750L1286 1746L1286 1742L1286 1738L1285 1734L1285 1730L1285 1726L1285 1722L1285 1718L1285 1714L1284 1710L1284 1706L1284 1702L1284 1698L1284 1694L1284 1690L1284 1686L1283 1682L1283 1678L1283 1674L1283 1670L1283 1666L1283 1662L1283 1658L1283 1654L1282 1650L1282 1646L1282 1642L1282 1638L1282 1634L1282 1630L1282 1626L1282 1622L1281 1618L1281 1614L1281 1610L1281 1606L1281 1602L1281 1598L1281 1594L1281 1590L1280 1586L1280 1582L1280 1578L1280 1574L1280 1570L1261 1566Z"/><path fill="#31688e" d="M1224 1848L1225 1852L1232 1856L1240 1860L1248 1864L1256 1868L1264 1872L1270 1876L1276 1880L1281 1884L1287 1888L1293 1892L1297 1896L1299 1900L1371 1900L1369 1896L1365 1892L1359 1888L1353 1884L1348 1880L1342 1876L1336 1872L1328 1868L1320 1864L1312 1860L1304 1856L1297 1852L1296 1848Z"/><path fill="#31688e" d="M1289 1892L1293 1896L1295 1900L1297 1904L1299 1908L1301 1912L1303 1916L1305 1920L1307 1924L1309 1928L1311 1932L1312 1936L1313 1940L1315 1944L1316 1948L1317 1952L1319 1956L1320 1960L1321 1964L1323 1968L1324 1972L1403 1972L1403 1968L1403 1964L1403 1960L1403 1956L1403 1952L1403 1948L1403 1944L1403 1940L1403 1936L1403 1932L1403 1928L1403 1924L1403 1920L1403 1916L1403 1912L1403 1908L1403 1904L1403 1900L1403 1896L1403 1892Z"/></g><g filter="url(#hbb)"><path fill="#3b528b" fill-opacity="0.45" d="M1318 1680L1318 1684L1318 1688L1318 1692L1318 1696L1318 1700L1318 1704L1318 1708L1318 1712L1318 1716L1318 1720L1318 1724L1318 1728L1318 1732L1318 1736L1318 1740L1318 1744L1318 1748L1318 1752L1318 1756L1318 1760L1318 1764L1318 1768L1318 1772L1318 1776L1318 1780L1318 1784L1318 1788L1318 1792L1318 1796L1318 1800L1318 1804L1318 1808L1318 1812L1318 1816L1318 1820L1318 1824L1318 1828L1318 1832L1318 1836L1318 1840L1318 1844L1318 1848L1403 1848L1403 1844L1403 1840L1403 1836L1403 1832L1403 1828L1403 1824L1403 1820L1403 1816L1403 1812L1403 1808L1403 1804L1403 1800L1403 1796L1403 1792L1403 1788L1403 1784L1403 1780L1403 1776L1403 1772L1403 1768L1403 1764L1403 1760L1403 1756L1403 1752L1403 1748L1403 1744L1403 1740L1403 1736L1403 1732L1403 1728L1403 1724L1403 1720L1403 1716L1403 1712L1403 1708L1403 1704L1403 1700L1403 1696L1403 1692L1403 1688L1403 1684L1403 1680Z"/><path fill="#3b528b" fill-opacity="0.45" d="M1182 1905L1182 1909L1182 1913L1182 1917L1182 1921L1182 1925L1182 1929L1182 1933L1182 1937L1182 1941L1182 1945L1182 1949L1182 1953L1182 1957L1182 1961L1182 1965L1182 1969L1285 1969L1285 1965L1285 1961L1285 1957L1285 1953L1285 1949L1285 1945L1285 1941L1285 1937L1285 1933L1285 1929L1285 1925L1285 1921L1285 1917L1285 1913L1285 1909L1285 1905Z"/></g><g filter="url(#hb1)"><path fill="#20a386" d="M1182 1278L1182 1282L1182 1286L1182 1290L1182 1294L1182 1298L1182 1302L1182 1306L1182 1310L1182 1314L1182 1318L1182 1322L1182 1326L1182 1330L1182 1334L1182 1338L1182 1342L1182 1346L1182 1350L1182 1354L1182 1358L1182 1362L1182 1366L1182 1370L1182 1374L1182 1378L1182 1382L1182 1386L1182 1390L1182 1394L1182 1398L1182 1402L1182 1406L1182 1410L1182 1414L1182 1418L1182 1422L1182 1426L1182 1430L1182 1434L1182 1438L1182 1442L1182 1446L1182 1450L1182 1454L1182 1458L1182 1462L1182 1466L1182 1470L1182 1474L1182 1478L1182 1482L1182 1486L1182 1490L1182 1494L1182 1498L1182 1502L1182 1506L1182 1510L1182 1514L1182 1518L1182 1522L1182 1526L1182 1530L1182 1534L1182 1538L1253 1538L1251 1534L1251 1530L1251 1526L1251 1522L1251 1518L1251 1514L1250 1510L1250 1506L1250 1502L1250 1498L1250 1494L1250 1490L1250 1486L1250 1482L1250 1478L1250 1474L1250 1470L1249 1466L1249 1462L1249 1458L1249 1454L1249 1450L1249 1446L1249 1442L1249 1438L1249 1434L1249 1430L1249 1426L1248 1422L1248 1418L1248 1414L1248 1410L1248 1406L1248 1402L1248 1398L1248 1394L1248 1390L1248 1386L1248 1382L1248 1378L1248 1374L1248 1370L1248 1366L1248 1362L1248 1358L1248 1354L1248 1350L1248 1346L1248 1342L1247 1338L1247 1334L1247 1330L1247 1326L1247 1322L1247 1318L1247 1314L1247 1310L1247 1306L1247 1302L1247 1298L1247 1294L1247 1290L1247 1286L1247 1282L1247 1278Z"/><path fill="#2db27d" fill-opacity="0.9" d="M1182 1538L1182 1542L1182 1546L1182 1550L1182 1554L1182 1558L1182 1562L1182 1566L1258 1566L1258 1562L1258 1558L1258 1554L1258 1550L1258 1546L1258 1542L1258 1538Z"/><path fill="#20a386" d="M1216 1566L1235 1570L1235 1574L1235 1578L1235 1582L1235 1586L1236 1590L1236 1594L1236 1598L1236 1602L1236 1606L1236 1610L1236 1614L1236 1618L1237 1622L1237 1626L1237 1630L1237 1634L1237 1638L1237 1642L1237 1646L1237 1650L1238 1654L1238 1658L1238 1662L1238 1666L1238 1670L1238 1674L1238 1678L1238 1682L1239 1686L1239 1690L1239 1694L1239 1698L1239 1702L1239 1706L1239 1710L1240 1714L1240 1718L1240 1722L1240 1726L1240 1730L1240 1734L1241 1738L1241 1742L1241 1746L1241 1750L1241 1754L1241 1758L1241 1762L1242 1766L1242 1770L1242 1774L1242 1778L1242 1782L1242 1786L1243 1790L1243 1794L1243 1798L1243 1802L1243 1806L1243 1810L1244 1814L1244 1818L1244 1822L1244 1826L1244 1830L1244 1834L1245 1838L1245 1842L1245 1846L1245 1850L1249 1854L1280 1854L1276 1850L1276 1846L1276 1842L1276 1838L1275 1834L1275 1830L1275 1826L1275 1822L1275 1818L1275 1814L1274 1810L1274 1806L1274 1802L1274 1798L1274 1794L1274 1790L1273 1786L1273 1782L1273 1778L1273 1774L1273 1770L1273 1766L1272 1762L1272 1758L1272 1754L1272 1750L1272 1746L1272 1742L1272 1738L1271 1734L1271 1730L1271 1726L1271 1722L1271 1718L1271 1714L1270 1710L1270 1706L1270 1702L1270 1698L1270 1694L1270 1690L1270 1686L1269 1682L1269 1678L1269 1674L1269 1670L1269 1666L1269 1662L1269 1658L1269 1654L1268 1650L1268 1646L1268 1642L1268 1638L1268 1634L1268 1630L1268 1626L1268 1622L1267 1618L1267 1614L1267 1610L1267 1606L1267 1602L1267 1598L1267 1594L1267 1590L1266 1586L1266 1582L1266 1578L1266 1574L1266 1570L1247 1566Z"/><path fill="#20a386" d="M1240 1848L1241 1852L1248 1856L1256 1860L1264 1864L1272 1868L1280 1872L1286 1876L1292 1880L1297 1884L1303 1888L1309 1892L1313 1896L1315 1900L1317 1904L1319 1908L1321 1912L1323 1916L1325 1920L1327 1924L1329 1928L1331 1932L1332 1936L1333 1940L1335 1944L1336 1948L1337 1952L1339 1956L1340 1960L1341 1964L1343 1968L1344 1972L1384 1972L1383 1968L1381 1964L1380 1960L1379 1956L1377 1952L1376 1948L1375 1944L1373 1940L1372 1936L1371 1932L1369 1928L1367 1924L1365 1920L1363 1916L1361 1912L1359 1908L1357 1904L1355 1900L1353 1896L1349 1892L1343 1888L1337 1884L1332 1880L1326 1876L1320 1872L1312 1868L1304 1864L1296 1860L1288 1856L1281 1852L1280 1848Z"/></g><g filter="url(#hb2)"><path fill="#addc30" d="M1219 1278L1219 1282L1219 1286L1219 1290L1219 1294L1219 1298L1219 1302L1219 1306L1219 1310L1219 1314L1219 1318L1219 1322L1219 1326L1219 1330L1219 1334L1219 1338L1220 1342L1220 1346L1220 1350L1220 1354L1220 1358L1220 1362L1220 1366L1220 1370L1220 1374L1220 1378L1220 1382L1220 1386L1220 1390L1220 1394L1220 1398L1220 1402L1220 1406L1220 1410L1220 1414L1220 1418L1220 1422L1221 1426L1221 1430L1221 1434L1221 1438L1221 1442L1221 1446L1221 1450L1221 1454L1221 1458L1221 1462L1221 1466L1222 1470L1222 1474L1222 1478L1222 1482L1222 1486L1222 1490L1222 1494L1222 1498L1222 1502L1222 1506L1222 1510L1223 1514L1223 1518L1223 1522L1223 1526L1223 1530L1223 1534L1225 1538L1237 1538L1235 1534L1235 1530L1235 1526L1235 1522L1235 1518L1235 1514L1234 1510L1234 1506L1234 1502L1234 1498L1234 1494L1234 1490L1234 1486L1234 1482L1234 1478L1234 1474L1234 1470L1233 1466L1233 1462L1233 1458L1233 1454L1233 1450L1233 1446L1233 1442L1233 1438L1233 1434L1233 1430L1233 1426L1232 1422L1232 1418L1232 1414L1232 1410L1232 1406L1232 1402L1232 1398L1232 1394L1232 1390L1232 1386L1232 1382L1232 1378L1232 1374L1232 1370L1232 1366L1232 1362L1232 1358L1232 1354L1232 1350L1232 1346L1232 1342L1231 1338L1231 1334L1231 1330L1231 1326L1231 1322L1231 1318L1231 1314L1231 1310L1231 1306L1231 1302L1231 1298L1231 1294L1231 1290L1231 1286L1231 1282L1231 1278Z"/><path fill="#addc30" d="M1224 1568L1243 1572L1243 1576L1243 1580L1243 1584L1244 1588L1244 1592L1244 1596L1244 1600L1244 1604L1244 1608L1244 1612L1244 1616L1245 1620L1245 1624L1245 1628L1245 1632L1245 1636L1245 1640L1245 1644L1245 1648L1246 1652L1246 1656L1246 1660L1246 1664L1246 1668L1246 1672L1246 1676L1246 1680L1247 1684L1247 1688L1247 1692L1247 1696L1247 1700L1247 1704L1247 1708L1247 1712L1248 1716L1248 1720L1248 1724L1248 1728L1248 1732L1248 1736L1249 1740L1249 1744L1249 1748L1249 1752L1249 1756L1249 1760L1250 1764L1250 1768L1250 1772L1250 1776L1250 1780L1250 1784L1251 1788L1251 1792L1251 1796L1251 1800L1251 1804L1251 1808L1251 1812L1252 1816L1252 1820L1252 1824L1252 1828L1252 1832L1252 1836L1253 1840L1253 1844L1253 1848L1254 1852L1261 1856L1269 1860L1277 1864L1285 1868L1293 1872L1299 1876L1305 1880L1310 1884L1316 1888L1322 1892L1326 1896L1328 1900L1330 1904L1332 1908L1334 1912L1336 1916L1338 1920L1340 1924L1342 1928L1344 1932L1345 1936L1346 1940L1348 1944L1349 1948L1350 1952L1352 1956L1353 1960L1354 1964L1356 1968L1357 1972L1371 1972L1370 1968L1368 1964L1367 1960L1366 1956L1364 1952L1363 1948L1362 1944L1360 1940L1359 1936L1358 1932L1356 1928L1354 1924L1352 1920L1350 1916L1348 1912L1346 1908L1344 1904L1342 1900L1340 1896L1336 1892L1330 1888L1324 1884L1319 1880L1313 1876L1307 1872L1299 1868L1291 1864L1283 1860L1275 1856L1268 1852L1267 1848L1267 1844L1267 1840L1266 1836L1266 1832L1266 1828L1266 1824L1266 1820L1266 1816L1265 1812L1265 1808L1265 1804L1265 1800L1265 1796L1265 1792L1265 1788L1264 1784L1264 1780L1264 1776L1264 1772L1264 1768L1264 1764L1263 1760L1263 1756L1263 1752L1263 1748L1263 1744L1263 1740L1262 1736L1262 1732L1262 1728L1262 1724L1262 1720L1262 1716L1261 1712L1261 1708L1261 1704L1261 1700L1261 1696L1261 1692L1261 1688L1261 1684L1260 1680L1260 1676L1260 1672L1260 1668L1260 1664L1260 1660L1260 1656L1260 1652L1259 1648L1259 1644L1259 1640L1259 1636L1259 1632L1259 1628L1259 1624L1259 1620L1258 1616L1258 1612L1258 1608L1258 1604L1258 1600L1258 1596L1258 1592L1258 1588L1257 1584L1257 1580L1257 1576L1257 1572L1238 1568Z"/><path fill="#fde725" d="M1222 1278L1222 1282L1222 1286L1222 1290L1222 1294L1222 1298L1222 1302L1222 1306L1222 1310L1222 1314L1222 1318L1222 1322L1222 1326L1222 1330L1222 1334L1222 1338L1223 1342L1223 1346L1223 1350L1223 1354L1223 1358L1223 1362L1223 1366L1223 1370L1223 1374L1223 1378L1223 1382L1223 1386L1223 1390L1223 1394L1223 1398L1223 1402L1223 1406L1223 1410L1223 1414L1223 1418L1223 1422L1224 1426L1224 1430L1224 1434L1224 1438L1224 1442L1224 1446L1224 1450L1224 1454L1224 1458L1224 1462L1224 1466L1225 1470L1225 1474L1225 1478L1225 1482L1225 1486L1225 1490L1225 1494L1225 1498L1225 1502L1225 1506L1225 1510L1226 1514L1226 1518L1226 1522L1226 1526L1226 1530L1226 1534L1228 1538L1234 1538L1232 1534L1232 1530L1232 1526L1232 1522L1232 1518L1232 1514L1231 1510L1231 1506L1231 1502L1231 1498L1231 1494L1231 1490L1231 1486L1231 1482L1231 1478L1231 1474L1231 1470L1230 1466L1230 1462L1230 1458L1230 1454L1230 1450L1230 1446L1230 1442L1230 1438L1230 1434L1230 1430L1230 1426L1229 1422L1229 1418L1229 1414L1229 1410L1229 1406L1229 1402L1229 1398L1229 1394L1229 1390L1229 1386L1229 1382L1229 1378L1229 1374L1229 1370L1229 1366L1229 1362L1229 1358L1229 1354L1229 1350L1229 1346L1229 1342L1228 1338L1228 1334L1228 1330L1228 1326L1228 1322L1228 1318L1228 1314L1228 1310L1228 1306L1228 1302L1228 1298L1228 1294L1228 1290L1228 1286L1228 1282L1228 1278Z"/><path fill="#fde725" d="M1227 1568L1246 1572L1246 1576L1246 1580L1246 1584L1247 1588L1247 1592L1247 1596L1247 1600L1247 1604L1247 1608L1247 1612L1247 1616L1248 1620L1248 1624L1248 1628L1248 1632L1248 1636L1248 1640L1248 1644L1248 1648L1249 1652L1249 1656L1249 1660L1249 1664L1249 1668L1249 1672L1249 1676L1249 1680L1250 1684L1250 1688L1250 1692L1250 1696L1250 1700L1250 1704L1250 1708L1250 1712L1251 1716L1251 1720L1251 1724L1251 1728L1251 1732L1251 1736L1252 1740L1252 1744L1252 1748L1252 1752L1252 1756L1252 1760L1253 1764L1253 1768L1253 1772L1253 1776L1253 1780L1253 1784L1254 1788L1254 1792L1254 1796L1254 1800L1254 1804L1254 1808L1254 1812L1255 1816L1255 1820L1255 1824L1255 1828L1255 1832L1255 1836L1256 1840L1256 1844L1256 1848L1257 1852L1264 1856L1272 1860L1280 1864L1288 1868L1296 1872L1302 1876L1308 1880L1313 1884L1319 1888L1325 1892L1329 1896L1331 1900L1333 1904L1335 1908L1337 1912L1339 1916L1341 1920L1343 1924L1345 1928L1347 1932L1348 1936L1349 1940L1351 1944L1352 1948L1353 1952L1355 1956L1356 1960L1357 1964L1359 1968L1360 1972L1368 1972L1367 1968L1365 1964L1364 1960L1363 1956L1361 1952L1360 1948L1359 1944L1357 1940L1356 1936L1355 1932L1353 1928L1351 1924L1349 1920L1347 1916L1345 1912L1343 1908L1341 1904L1339 1900L1337 1896L1333 1892L1327 1888L1321 1884L1316 1880L1310 1876L1304 1872L1296 1868L1288 1864L1280 1860L1272 1856L1265 1852L1264 1848L1264 1844L1264 1840L1263 1836L1263 1832L1263 1828L1263 1824L1263 1820L1263 1816L1262 1812L1262 1808L1262 1804L1262 1800L1262 1796L1262 1792L1262 1788L1261 1784L1261 1780L1261 1776L1261 1772L1261 1768L1261 1764L1260 1760L1260 1756L1260 1752L1260 1748L1260 1744L1260 1740L1259 1736L1259 1732L1259 1728L1259 1724L1259 1720L1259 1716L1258 1712L1258 1708L1258 1704L1258 1700L1258 1696L1258 1692L1258 1688L1258 1684L1257 1680L1257 1676L1257 1672L1257 1668L1257 1664L1257 1660L1257 1656L1257 1652L1256 1648L1256 1644L1256 1640L1256 1636L1256 1632L1256 1628L1256 1624L1256 1620L1255 1616L1255 1612L1255 1608L1255 1604L1255 1600L1255 1596L1255 1592L1255 1588L1254 1584L1254 1580L1254 1576L1254 1572L1235 1568Z"/><rect x="1229" y="1538" width="3" height="30" fill="#d8e219"/></g><path stroke="#404688" stroke-width="1.2" stroke-opacity="0.75" fill="none" d="M1238 1283h41M1340 1343h69M1303 1357h43M1326 1365h22M1254 1369h42M1299 1379h39M1330 1379h40M1241 1385h17M1238 1413h40M1260 1419h28M1244 1435h25M1293 1439h20M1251 1439h25M1261 1447h26M1316 1457h45M1338 1457h63M1251 1503h29M1266 1527h21M1342 1577h24M1289 1751h36M1243 1775h35M1268 1813h28M1292 1873h41M1359 1893h43M1233 1897h11M1351 1903h43M1257 1907h25M1231 1911h37M1329 1919h57M1333 1951h23M1282 1961h32M1391 1967h44"/><path stroke="#25878d" stroke-width="1.2" stroke-opacity="0.75" fill="none" d="M1247 1283h36M1208 1315h38M1213 1329h29M1251 1331h45M1215 1341h24M1210 1417h10M1244 1443h21M1341 1455h22M1294 1503h21M1220 1555h16M1231 1619h17M1280 1667h29M1294 1781h27M1240 1797h17M1348 1807h43M1270 1883h29M1340 1887h37M1222 1901h43M1246 1907h25M1221 1909h18M1287 1923h28M1292 1931h28M1298 1937h11M1216 1939h34M1285 1941h19"/><path stroke="#acdc31" stroke-width="2" stroke-opacity="0.75" fill="none" d="M1209 1285h8M1293 1421h27M1342 1631h26M1310 1705h31"/><path stroke="#2d728e" stroke-width="1.2" stroke-opacity="0.75" fill="none" d="M1215 1291h20M1294 1303h31M1329 1307h23M1339 1327h32M1210 1331h31M1294 1371h47M1206 1383h10M1309 1437h53M1254 1439h16M1323 1473h35M1220 1487h11M1332 1501h41M1348 1527h47M1315 1553h60M1311 1561h31M1276 1617h20M1312 1623h52M1243 1627h17M1244 1631h23M1298 1647h25M1337 1691h62M1298 1751h57M1294 1787h25M1283 1799h19M1281 1803h27M1272 1815h24M1278 1845h28M1329 1861h61M1327 1895h39M1287 1913h54M1296 1931h63M1233 1957h22"/><path stroke="#25878d" stroke-width="2" stroke-opacity="0.75" fill="none" d="M1208 1291h28M1257 1339h31M1263 1345h16M1257 1407h25M1241 1427h30M1343 1447h29M1346 1459h52M1254 1509h17M1213 1585h25M1286 1591h40M1319 1607h42M1337 1607h63M1270 1617h16M1230 1681h37M1283 1743h34M1244 1805h32M1230 1811h10M1313 1863h24M1232 1907h15M1263 1911h25M1379 1913h45M1269 1943h15M1268 1967h29"/><path stroke="#461062" stroke-width="2" stroke-opacity="0.75" fill="none" d="M1311 1293h51M1299 1301h59M1323 1411h29M1304 1463h40M1265 1525h34M1244 1561h29M1218 1575h49M1340 1623h59M1331 1631h31M1282 1669h22M1214 1753h48M1303 1755h58M1261 1791h50M1357 1835h35M1236 1887h24M1274 1895h11M1295 1903h31M1316 1921h45M1229 1933h30M1227 1933h34M1266 1943h32M1220 1949h43M1276 1965h55"/><path stroke="#219b89" stroke-width="2" stroke-opacity="0.75" fill="none" d="M1206 1293h35M1217 1313h16M1219 1415h20M1251 1419h27M1242 1517h48M1269 1547h42M1268 1599h36M1327 1653h43M1211 1659h9M1280 1679h50M1307 1757h61M1295 1787h44M1305 1881h36M1283 1895h40M1205 1917h21M1218 1925h34M1217 1937h58"/><path stroke="#2bae7f" stroke-width="1.2" stroke-opacity="0.75" fill="none" d="M1217 1295h17M1236 1435h27M1212 1499h22M1218 1523h9M1218 1523h29M1300 1645h47M1213 1661h20M1227 1693h20M1301 1733h64M1287 1759h25M1348 1763h32M1250 1797h12M1298 1835h33M1301 1857h45M1328 1969h69"/><path stroke="#365d8c" stroke-width="1.2" stroke-opacity="0.75" fill="none" d="M1332 1297h58M1289 1307h44M1257 1309h29M1314 1311h25M1320 1313h36M1289 1369h32M1320 1381h37M1258 1387h40M1208 1395h33M1243 1399h40M1334 1477h40M1219 1495h11M1248 1509h19M1207 1523h30M1302 1523h32M1283 1553h33M1349 1569h64M1345 1583h59M1222 1597h22M1294 1607h52M1345 1633h46M1343 1685h21M1333 1689h38M1270 1703h34M1287 1745h40M1295 1749h49M1302 1801h39M1308 1809h26M1211 1811h36M1299 1831h33M1206 1901h25M1226 1909h43M1290 1911h56M1206 1929h19M1239 1931h25M1290 1939h40M1233 1967h37"/><path stroke="#2d728e" stroke-width="2" stroke-opacity="0.75" fill="none" d="M1255 1307h33M1302 1327h39M1285 1427h21M1261 1427h36M1218 1483h10M1266 1491h35M1247 1497h30M1307 1525h51M1268 1563h35M1261 1581h18M1334 1655h25M1292 1693h43M1322 1723h20M1298 1817h33M1291 1825h28M1281 1855h25M1298 1863h59M1346 1867h53M1287 1883h22M1290 1887h23M1308 1895h25M1267 1895h28M1229 1909h21M1310 1935h64M1214 1959h13M1395 1969h15"/><path stroke="#462c7a" stroke-width="1.2" stroke-opacity="0.75" fill="none" d="M1307 1313h55M1326 1333h56M1326 1483h42M1315 1495h39M1264 1505h23M1302 1551h56M1316 1559h32M1260 1559h55M1325 1583h27M1221 1651h36M1330 1765h12M1227 1793h10M1229 1795h18M1253 1935h13M1285 1943h35"/><path stroke="#404688" stroke-width="2" stroke-opacity="0.75" fill="none" d="M1262 1325h50M1235 1325h36M1308 1333h34M1314 1343h61M1258 1353h17M1283 1357h67M1335 1441h21M1290 1509h37M1252 1521h31M1214 1541h14M1220 1567h12M1263 1643h23M1215 1661h22M1272 1685h35M1211 1751h9M1251 1799h30M1316 1865h38M1336 1927h69M1228 1933h11M1248 1945h21M1246 1951h12M1226 1953h27M1291 1969h41"/><path stroke="#75d054" stroke-width="1.2" stroke-opacity="0.75" fill="none" d="M1207 1327h22M1336 1369h68M1216 1489h32M1300 1877h60"/><path stroke="#365d8c" stroke-width="2" stroke-opacity="0.75" fill="none" d="M1328 1329h48M1335 1377h53M1330 1435h47M1255 1469h24M1251 1503h24M1308 1533h66M1246 1541h43M1259 1561h26M1279 1569h16M1301 1657h26M1219 1667h9M1281 1823h46M1340 1829h59M1246 1839h21M1329 1861h24M1303 1881h54M1298 1881h67M1266 1907h16M1292 1921h24M1278 1937h32M1215 1941h20M1255 1945h10M1339 1947h26M1241 1947h36M1278 1949h50M1275 1967h13"/><path stroke="#219b89" stroke-width="1.2" stroke-opacity="0.75" fill="none" d="M1251 1333h25M1252 1389h47M1211 1505h22M1267 1533h26M1308 1647h68M1262 1669h33M1336 1703h65M1310 1735h42M1284 1771h49M1290 1777h66M1335 1795h51M1285 1821h65M1298 1857h56M1213 1879h10M1358 1915h42M1255 1917h45M1290 1923h23M1259 1929h44M1380 1951h38"/><path stroke="#2bae7f" stroke-width="2" stroke-opacity="0.75" fill="none" d="M1218 1337h12M1207 1361h21M1209 1515h18M1222 1569h30M1287 1619h43M1319 1677h59M1215 1751h39M1295 1773h33M1329 1903h50"/><path stroke="#461062" stroke-width="1.2" stroke-opacity="0.75" fill="none" d="M1299 1345h38M1307 1353h49M1342 1371h16M1218 1377h14M1285 1419h17M1208 1445h29M1332 1497h42M1357 1513h27M1360 1557h24M1252 1573h14M1275 1579h48M1235 1583h13M1236 1645h23M1251 1647h51M1246 1647h27M1301 1667h51M1312 1683h35M1226 1689h19M1247 1691h17M1241 1749h48M1281 1793h42M1332 1817h19M1315 1875h49M1253 1883h20M1220 1923h38M1325 1951h29M1262 1969h28"/><path stroke="#acdc31" stroke-width="1.2" stroke-opacity="0.75" fill="none" d="M1208 1353h14M1217 1427h28M1347 1739h53M1308 1743h69M1323 1809h59"/><path stroke="#49c06d" stroke-width="1.2" stroke-opacity="0.75" fill="none" d="M1207 1371h11M1220 1487h21M1208 1531h19M1234 1701h24M1339 1715h30M1292 1873h25M1281 1883h28"/><path stroke="#462c7a" stroke-width="2" stroke-opacity="0.75" fill="none" d="M1328 1393h48M1313 1435h54M1287 1461h27M1304 1475h53M1317 1531h47M1273 1665h40M1221 1699h25M1239 1707h44M1350 1761h47M1244 1837h48M1288 1841h38M1282 1865h57M1327 1933h58"/><path stroke="#75d054" stroke-width="2" stroke-opacity="0.75" fill="none" d="M1221 1473h31M1206 1505h35"/><path stroke="#49c06d" stroke-width="2" stroke-opacity="0.75" fill="none" d="M1331 1517h52M1315 1589h59M1347 1635h47"/></g><g stroke="#000" stroke-width="2.6"><path d="M1193.4 1534.7L1207.3 1545.5M1194.3 1586.2L1209.4 1571.9M1195 1832.6L1208.6 1862M1191.4 1875.2L1207.2 1887.9"/></g><g fill="none" stroke="#000" stroke-linecap="round"><path stroke-width="1.1" d="M837 1805l-8-3l-8-2l-7-3l-6-5l-2-8l0-8l2-8l2-7l3-8l2-7l3-8l3-7l2-8l3-8l3-7l2-8l3-7l2-8l3-7l2-8l3-8l2-7l3-8l2-7l3-8l2-8M41 1434l7 4l6 4l7 4l7 4l7 4l7 4l7 5l6 4M713 1644l3-7l3-7l3-8l4-7l3-8l2-7l3-7l3-8l3-7l3-8l3-7l3-8l2-7l3-8l3-7l3-8l2-7l3-8l3-7l2-8l3-8l3-7l2-8l3-7l2-8M393 1643l7 4l6 4l7 5l7 4l7 4l6 4l7 5l7 4l7 4l7 4l7 3l8 3l7 2l8 1l8-1M103 1340l8 1l8 1l8 2l7 1l8 1l8 1l8 1l8 1l8 1l8 0l8 1l8 0l8 1l8 1l8 0l8 1l8 0l8 1l8 0l8 0l8 1l8 1l8 0M723 1499l3-7l3-7l3-8l3-7l3-8l2-7l3-8l3-7l2-8l2-8l3-7l2-8l1-8l2-8l2-8l1-7l2-8l1-8l1-8l1-8l1-8l0-8l1-8l0-8l0-8l0-8l-1-8l0-8l-1-8M556 1966l-5-7l-5-6l-5-6l-5-6l-5-7l-5-6l-5-6l-5-6l-5-7l-5-6l-5-6l-5-6l-5-6l-6-6l-5-6l-5-6l-5-6l-6-6l-5-6l-5-6l-5-6l-5-7l-6-6l-5-6l-5-6l-5-6l-5-6l-5-6l-5-7l-5-6M577 2017l-4-6l-5-7l-5-6l-5-6l-5-7l-5-6l-5-7l-4-6l-5-6l-5-7l-5-6l-5-6l-5-6l-5-7l-5-6l-5-6l-5-6M264 1272l8 0l8 0l8 0l8 1l8 0l8 0l8 0l8 1l8 0l8 0l8 0l8 0l8 1l8 0l8 0l8 0l8 0l8 1l8 0l8 0l8 0l8 1l8 0l8 0M655 1500l7 3l8 0l7-4l6-5l5-6l5-7l4-7l4-7l4-7l3-7l4-7l3-8l3-7l3-8l2-7l3-8l2-7l1-8l2-8l1-8l1-8l1-8l0-8l0-8l0-8l0-8l-1-8l-1-8l-1-8M904 1434l2-7l2-8l2-8l1-8l2-8l1-8l2-7l1-8l2-8l1-8l1-8l2-8l1-8l1-8l1-8l2-8l1-7l1-8l1-8l1-8l1-8l2-8l1-8l1-8M889 1670l3-8l2-8l3-7l2-8l2-8l3-7l2-8l2-8l3-7l2-8l2-8l2-7l3-8l2-8l2-7l2-8l2-8l2-8l2-7l2-8l2-8l2-8l2-7l2-8l1-8l2-8l2-8l2-7l1-8l2-8l2-8l2-8l1-7M256 1628l4 6l5 7l5 6l6 6l5 6l6 5l6 5l7 5l6 4l7 5l7 4l7 4l7 4l7 4l7 4l7 4l7 4l7 3l7 4l7 4l7 4l7 4l7 4M437 2017l-5-6l-5-7l-5-6l-5-6l-5-7l-5-6l-5-6l-5-6l-5-6l-5-7l-5-6M845 1482l2-7l2-8l2-8l2-7l2-8l2-8l2-8l2-7l2-8l2-8l2-8l1-8l2-8l1-7l2-8l1-8l1-8l2-8l1-8l1-8l1-8l2-8l1-7l1-8M472 2020l-5-6l-4-7l-5-6l-5-6l-5-7l-5-6l-5-6l-5-7l-5-6l-5-6l-5-6l-5-7l-5-6l-5-6l-5-6l-5-6M324 1473l7 3l7 3l8 3l7 3l7 4l7 4l7 4l7 4l7 4l7 4l7 4l6 4l7 5l6 5l7 5l6 5l6 5l6 5l5 6l6 6M127 1358l8 2l7 2l8 2l8 1l8 2l8 1l8 1l8 2l7 1l8 1l8 1l8 1l8 1l8 1l8 1l8 1l8 1l8 0l8 1M183 1254l8 0l8 0l8 0l8 0l8 1l8 0l8 0l8 0l8 1l8 0l8 0l8 0M51 1401l7 4l7 4l7 4l7 4l7 4l7 4l7 4l7 4l7 4M857 1777l2-8l3-7l2-8l3-8l2-7l3-8l2-7l3-8l2-8l2-7l3-8l2-7l3-8l2-8l3-7M311 1284l8 0l8 0l8 1l8 0l8 0l8 0l8 0l7 1l8 0l8 0l8 0l8 0l8 1l8 0l8 0l8 1l8 0l8 0l8 1l8 0l8 1l8 0l8 1M142 1445l7 3l7 4l7 3l7 4l8 3l7 4l7 3l7 4l7 4l7 3l7 4l7 4l7 4l7 4l7 5l6 4l7 5l6 5l6 5l6 5l6 6M260 1595l4 7l4 7l4 7l4 7l5 6l5 6l6 6l6 5l6 6l6 4l7 5l6 5l7 4l7 4l7 5l7 4l6 4l7 4l7 4l7 4l7 4l7 4M295 1367l8 1l8 1l8 0l8 1l8 0l8 1l8 0l8 1l8 0l8 1l8 0l8 1l8 0l8 1l8 0l8 1l8 0l8 1l8 1l8 0l8 1l8 1l8 1l8 0l8 1l8 1l8 1l8 1M782 1809l-7 3l-8 2l-8 2l-7 3l-8 3l-7 2l-8 3l-7 3l-8 3l-7 2l-8 3l-8 2l-7 3l-8 2l-8 2l-7 2l-8 2l-8 1l-8 1l-8 0l-8 0l-8 0l-8-1l-8-1l-8-2l-7-3l-7-3M394 1855l-5-6l-5-6l-5-6l-5-6l-5-6l-6-6l-5-7l-5-6l-5-6l-4-7l-5-6l-5-6l-4-7l-5-7l-4-7l-4-7l-3-7l-2-7l1-8l7-3l8 0l8 0l8 2l8 2l8 2l7 2l8 3l7 3l8 3l7 3l8 3l7 3l8 2l7 3M1013 1520l1-8l2-8l2-7l2-8l1-8l2-8l2-8l1-8l2-7l2-8l2-8l2-8l2-7l2-8l2-8l2-8l2-7M273 1469l8 4l7 3l7 3l8 3l7 4l7 3l7 4l7 4l7 4l7 4l7 4l6 5l7 4l7 4l6 5l7 4l7 5l6 5l7 4l6 5l6 5l6 5l7 5l6 5l6 6M440 1829l-6-6l-5-7l-5-6l-5-6l-5-6l-5-6l-4-7l-4-7l-2-8l1-7l8-2l8 0l8 1l8 0l8 0l8 0l8 0l8-1l8 0l8 0l8 0l8 1l8 1M939 1432l2-8l2-8l1-8l2-7l2-8l1-8l2-8l1-8l2-8l2-7l1-8l2-8l1-8l2-8l1-8l2-7l1-8l2-8l1-8l1-8l2-8M295 1544l5 5l5 6l6 6l5 6l6 6l5 6l6 5l6 6l6 5l6 5l7 5l6 4l7 5l6 4l7 5l7 4l6 5l7 4l7 5l6 4l7 4l7 5l6 4M102 1383l7 3l8 4l7 3l7 3l8 3l7 4l7 3l8 3l7 3l8 3l7 3l7 3l8 3l7 3l8 2l7 3l8 3l7 3l8 3l7 2l8 3l7 3l8 2l8 3l7 2l8 3M680 1379l0-8l-1-8l-1-8l-1-8l-2-8l-2-7l-1-8M319 1443l7 1l8 2l8 2l8 2l7 2l8 3l8 2l7 3l8 3l7 3l8 3l7 3l7 3l7 4l7 3l7 4l7 5l7 4l6 5M239 1682l5 6l6 6l5 6l6 6l5 5l6 5l7 5l7 4l7 2l8 0l8-1l8 0l8 0M209 1386l7 2l8 1l8 2l8 1l8 1l8 2l8 1l8 1l8 1l7 2l8 1l8 1l8 1l8 1l8 1l8 1l8 1l8 1l8 1l8 1l8 1l8 1l8 1l8 1l7 1l8 1l8 2l8 1l8 2M391 1444l8 3l8 2l7 3l8 2l7 3l8 4l7 3l7 4l7 4l7 4M125 1366l8 3l7 2l8 2l8 2l7 2l8 2l8 2l8 2l8 2l7 2l8 1l8 2l8 1l8 2l8 1l7 2l8 1l8 1l8 2l8 1l8 1l8 1l8 1l8 1l8 2l8 1l7 1l8 1l8 1l8 0l8 1l8 1M662 1442l8 1l8-3l5-5l5-6l5-7l3-7l3-8l3-7l1-8l2-8l0-8l1-8l0-8l-1-8l-1-8l-1-8l-1-8l-1-8l-2-7l-2-8l-2-8l-2-8l-2-7M316 1858l-5-6l-5-6l-5-7l-5-6l-5-6l-5-7l-4-6l-5-6l-5-7l-5-6l-5-7l-4-6l-5-7l-5-6l-4-7l2-2l2-2l3-2M277 1819l-5-6l-5-7l-5-6l-5-7l-4-6l-5-6l-5-7l-4-7l2-2l2-2l2-2l2-2l3-2l2-3l4-3l4-3l4-3M759 1504l3-7l2-8l3-7l3-8l2-8l2-7l3-8l2-8l2-7l3-8l2-8l2-7l2-8l2-8l1-8l2-8l2-7l1-8l1-8l2-8l1-8l1-8l2-8l1-8l1-8l1-8l1-7l0-8l1-8l1-8l0-8"/><path stroke-width="1.9" d="M850 1602l2-8l3-7l2-8l3-7l2-8l2-8l3-7l2-8l2-8l2-7l2-8l3-8l2-8l2-7l2-8l2-8l2-8l2-7l2-8l1-8l2-8l2-8l2-7l1-8l2-8l2-8l1-8l2-7l2-8l1-8l1-8l2-8M516 1736l8 0l8 0l8 0l8-1l8-1l8-2l7-4l6-4l6-6l5-6l5-6l5-7l4-6l5-7l4-7l4-6l5-7l4-7l4-7l4-7l4-7l4-7M280 1389l8 1l8 1l8 1l8 1l8 1l8 1l8 0l8 1l8 1l8 1l8 0l8 1l8 1l7 1l8 1l8 1l8 1l8 1l8 1l8 1l8 1l8 1l8 1l8 2l8 1l7 1l8 2M566 1908l-5-6l-6-6l-5-6l-5-6l-6-6l-5-6l-5-6l-6-6l-5-6l-5-6l-5-6l-6-6l-5-7l-5-6l-5-6l-4-6l-5-7l-5-7l-4-6l-4-7l-2-8l0-8l7-4l8-1l8 0l8 0l8 1l8 2l7 1l8 2M747 1760l2-8l3-7l3-8l3-7l3-8l3-7l3-7l3-8l3-7l3-8l3-7l2-8l3-7l3-8l3-7l2-8l3-7l3-8l2-7l3-8l3-8l2-7l3-8l2-7l3-8l2-7l3-8l2-8M840 1806l-8-2l-8-2l-8-1l-8-1l-8-1l-8-1l-8-1l-8-1l-8-2l-7-2l-7-5l-3-7l0-8l1-8l2-7l3-8l3-7l3-8l2-7l3-8l3-7l3-8l3-7l3-8l3-7l3-8l2-7l3-8l3-7l3-8l2-7l3-8l3-7M741 1794l-8-1l-8-1l-8-2l-7-2l-8-2l-8-3l-7-2l-8-3l-7-3l-8-2l-8-2l-7-2l-8-2l-8-2l-8-2l-8-1l-8 0l-6 4l-4 7l-3 7l-4 8l-3 7l-4 7l-4 7l-5 6l-7 4M452 1922l-5-6l-5-6l-5-7l-5-6l-5-6l-5-6l-5-6l-5-6l-6-7l-5-6l-5-6l-5-6l-5-6l-6-6l-5-6l-5-6l-5-6l-5-7l-5-6l-5-6l-5-6l-5-7M720 1384l1-8l1-8l0-8l0-8l-1-8l-1-8l-1-8l-1-8l-1-8l-2-8l-2-8l-1-7l-2-8l-3-8l-2-8M850 1362l1-8l2-8l1-8l1-7l1-8l2-8l1-8l1-8l1-8l1-8l2-8l1-8M631 2019l-5-7l-5-6l-5-6l-5-6l-5-7l-5-6l-5-6l-5-6l-5-7l-5-6l-5-6l-5-6l-5-7l-5-6l-5-6l-5-6l-6-6l-5-7l-5-6l-5-6l-5-6l-5-6l-6-6l-5-6l-5-6l-6-6l-5-6l-5-6M927 1698l3-8l2-7l2-8l3-7l2-8l3-8l2-7l2-8l3-8l2-7l2-8l2-8l2-7l3-8l2-8l2-8l2-7l2-8l2-8l2-8l2-7l2-8l2-8M807 1547l2-7l3-8l2-7l2-8l3-8l2-7l2-8l3-8l2-7l2-8l2-8l2-7l3-8l2-8l2-8l2-7l2-8l2-8l1-8l2-7l2-8M624 1914l-5-6l-6-5l-6-6l-6-5l-6-5l-6-6l-6-5l-6-5l-6-6l-6-5l-6-5l-6-6l-5-6l-6-6l-5-6l-4-6l-4-7l-3-8l2-7l6-5l8 0l8 2l7 4l5 6l-3 6l-7-4l4-3l2 7M527 2018l-5-7l-5-6l-5-7l-5-6l-4-6l-5-7l-5-6l-5-6l-5-7l-5-6l-5-6l-5-6l-5-7l-5-6l-5-6l-5-6l-5-6l-5-7l-5-6l-5-6l-5-6l-6-6l-5-6l-5-7l-5-6l-5-6M124 1312l8 0l8 1l8 0l8 1l8 0l8 0l8 0l8 1l8 0l8 0l8 1l8 0l8 0M892 1511l2-8l2-8l2-7l2-8l2-8l1-8l2-7l2-8l2-8l2-8l1-8l2-7l2-8l1-8l2-8l1-8l2-8l2-8l1-7l1-8l2-8l1-8l1-8l2-8l1-8l1-8l1-8l2-7l1-8l1-8l1-8l1-8l1-8l1-8M983 1421l2-8l2-7l1-8l2-8l2-8l2-8l2-7l2-8l2-8l2-8l2-7l2-8l2-8l2-8l2-7l1-8l2-8l2-8l2-8l2-7M442 1967l-5-6l-5-7l-5-6l-5-6l-5-6l-5-7l-5-6l-5-6l-5-6l-5-6l-6-6l-5-6l-5-7l-5-6l-5-6l-5-6l-6-6l-5-6l-5-6l-5-6l-5-6l-5-7l-5-6l-5-6l-5-6l-5-7l-5-6l-5-7M929 1629l2-7l3-8l2-8l2-8l2-7l2-8l2-8l2-7l2-8l2-8l2-8l2-7l2-8l2-8l2-8l2-7l2-8l2-8l2-8l1-8l2-7l2-8l1-8l2-8l2-8l2-8l1-7l2-8l2-8l2-8l2-8l1-7l2-8M551 1746l8 1l8 0l8 1l8-1l7-2l7-5l5-6l5-6l4-7l5-7l4-7l4-7l4-6l4-7l4-7l4-7l4-7l4-7l4-7l4-7l4-7l4-7l3-7l4-7l4-7l3-8M242 1318l8 1l8 0l8 0l8 0l8 1l8 0l8 0l8 1l8 0l8 0l8 0l8 1l8 0l8 0l8 0l8 1l8 0l8 0l8 0l8 1l8 0l8 0l8 1l8 0l8 0l8 1l8 0l8 1l8 0l8 1l8 0l8 1M801 1724l3-7l2-8l3-7l3-8l2-7l3-8l3-7l2-8l3-8l2-7l3-8l2-7l3-8l2-8l3-7l2-8l3-7l2-8l3-8l2-7l2-8l3-8l2-7l2-8M725 1791l-8-2l-8-2l-7-3l-8-3l-7-4l-6-5l-5-6l-3-7l0-8l1-8l3-8l2-7l4-8l3-7l3-7l4-7l3-7l4-8l3-7l4-7l3-7l4-8l3-7l3-7M812 1457l2-8l2-8l3-7l2-8l2-8l2-8l1-7l2-8l2-8l2-8l1-8l2-7l1-8l1-8l2-8l1-8l1-8l2-8l1-8l1-8l1-8l1-7l2-8l1-8M295 1516l7 4l6 5l6 6l6 5l6 5l7 5l6 5l6 5l6 5l6 5l7 5l6 5l7 4l6 5l6 5l7 5l6 4l7 5l6 5l7 4l7 5l6 4M793 1799l-8-1l-8 0l-8-1l-8-1l-8 0l-8-1l-8-2l-7-2l-8-2l-7-3l-7-4l-5-6l-3-8l0-8l2-8l2-8l3-7l3-7l3-8l3-7l4-7l3-8l3-7l3-7l4-8l3-7l3-7l3-8M527 1561l5 7l5 6l5 6l6 6l6 4M41 1445l7 4l7 4l6 5l7 4l7 4l7 4l7 4l7 4l6 4l7 4l7 5M719 1896l-8 2l-8 2l-8 1l-8 0l-8-1l-8-1l-8-2l-7-2l-8-3l-7-3l-7-3l-8-4l-7-4l-7-3l-7-4l-7-4l-7-4l-7-4l-7-4l-6-4l-7-5l-6-5l-6-5l-6-6M734 1708l3-8l4-7l3-7l3-8l3-7l3-7l3-8l3-7l2-8l3-7l3-8l3-7l3-8l2-7l3-8l3-7l3-8l2-7l3-8l3-8l2-7l3-8l2-7l3-8l2-7l3-8l2-8l3-7M1022 1499l2-7l2-8l2-8l1-8l2-8l2-7l1-8l2-8l2-8l2-8l2-7l2-8M658 1977l-6-6l-5-6l-5-6l-6-6l-5-6l-5-6l-6-6l-5-6l-5-6l-6-6l-5-5l-6-6l-5-6l-6-6l-5-6l-6-5l-5-6l-6-6l-6-6l-5-5M784 1799l-8-1l-8 0l-8-1l-8 0l-8 0l-8 0l-8-1l-8 0l-8 1l-8 0l-8 1l-8 1l-7 2l-8 2l-8 1l-8 2l-7 3l-8 2l-8 3l-7 2l-8 3l-7 3l-8 2l-7 3l-8 2l-8 1l-8 0l-8-2l-7-4l-6-5l-5-6M206 1682l5 6l5 6l5 7l5 6l5 6l5 6l5 6l6 6l5 6l6 5l7 1l7-4l7-4l7-3l8-3l8-1l7-2l8 0l8 0M817 1346l1-8l2-8l1-8l1-8l1-8l1-8l1-8l1-8l1-8l1-8M863 1410l2-8l2-8l1-8l2-8l1-8l1-7l2-8l1-8l1-8l2-8l1-8l1-8l1-8l1-8l1-8l1-8l2-7l1-8M622 1762l-7-3l-1-8l2-7l3-8l4-7l3-7l4-7l4-7l4-7l4-7l4-7l4-7l4-7l4-7l4-7l3-7l4-7l4-7l4-7l3-7l4-7l3-7l4-8l3-7l3-7l4-8M850 1687l3-8l2-8l3-7l2-8l3-7l2-8l3-8l2-7l2-8l3-8l2-7l2-8l3-7l2-8l2-8l3-7l2-8l2-8l2-8l2-7l2-8l3-8l2-7l2-8l2-8l2-8l1-7l2-8l2-8l2-8l2-8l2-7l1-8M361 1705l7 4l7 4l7 4l7 4l7 4l7 4l7 3l7 4l7 4l7 4l7 3l8 4l7 2l8 2l8 2l8 1l8 1l8 1l8 1l7 1l8 2l8 2l8 2M320 1630l7 5l6 5l7 4l6 5l7 4l7 4l7 5l7 4l6 4l7 4l7 4l7 5l7 4l6 4l7 4l7 4l7 5l7 4l7 4l7 4l7 4M882 1757l3-8l2-7l3-8l2-7l2-8l3-8l2-7l3-8l2-8l3-7l2-8l2-7"/></g><path fill="#000" d="M890 1462L893 1482L878 1479ZM833 1695L834 1716L820 1711ZM73 1453L53 1450L60 1437ZM758 1531L758 1552L744 1546ZM481 1693L460 1693L466 1679ZM140 1346L120 1350L122 1336ZM758 1396L761 1416L746 1412ZM606 1688L601 1708L589 1700ZM456 1845L474 1854L462 1864ZM569 2006L587 2017L575 2026ZM405 1402L385 1408L387 1393ZM489 1819L507 1829L495 1838ZM786 1658L786 1678L772 1673ZM370 1275L350 1282L351 1267ZM755 1755L757 1775L743 1772ZM632 1764L652 1762L648 1776ZM385 1841L403 1851L391 1860ZM718 1430L718 1450L704 1444ZM714 1299L725 1316L711 1319ZM930 1295L934 1315L919 1313ZM924 1553L926 1573L912 1570ZM331 1694L311 1691L319 1678ZM864 1270L869 1290L854 1287ZM381 1947L399 1957L387 1966ZM570 1943L587 1953L576 1962ZM868 1392L871 1412L856 1409ZM462 2006L479 2016L467 2026ZM942 1651L944 1671L929 1667ZM834 1458L836 1478L821 1474ZM533 1795L530 1815L517 1807ZM403 1514L383 1510L391 1497ZM489 1969L507 1979L495 1988ZM219 1375L199 1380L201 1365ZM141 1313L122 1320L123 1305ZM924 1369L928 1389L913 1386ZM197 1254L177 1261L178 1246ZM1012 1303L1015 1323L1000 1320ZM118 1440L98 1437L105 1424ZM863 1756L865 1777L851 1772ZM468 1289L449 1296L449 1281ZM339 1843L357 1852L345 1862ZM963 1500L966 1520L952 1517ZM651 1654L648 1674L635 1667ZM218 1483L198 1481L205 1468ZM367 1323L348 1330L349 1315ZM828 1647L829 1668L815 1663ZM328 1669L308 1664L317 1652ZM680 1726L681 1747L667 1742ZM833 1374L836 1394L821 1391ZM368 1574L349 1568L358 1557ZM445 1377L425 1383L426 1368ZM701 1837L717 1824L722 1838ZM315 1749L331 1762L317 1769ZM1045 1382L1047 1403L1033 1399ZM710 1728L710 1749L697 1743ZM535 1572L518 1561L530 1553ZM107 1485L87 1482L95 1469ZM662 1897L682 1893L679 1908ZM393 1537L373 1532L381 1520ZM398 1761L407 1779L392 1781ZM971 1270L975 1290L961 1287ZM789 1565L790 1585L776 1580ZM362 1608L342 1602L351 1591ZM1045 1401L1048 1421L1033 1417ZM192 1421L171 1421L177 1407ZM676 1342L686 1359L672 1362ZM609 1922L627 1931L616 1941ZM404 1469L384 1469L389 1455ZM664 1805L680 1793L684 1808ZM259 1744L240 1736L251 1725ZM259 1704L240 1695L251 1685ZM329 1405L309 1410L311 1395ZM469 1479L449 1475L457 1462ZM286 1402L267 1406L269 1391ZM828 1265L834 1285L819 1283ZM887 1266L892 1286L877 1284ZM706 1367L712 1386L697 1385ZM649 1682L646 1703L633 1695ZM305 1844L323 1854L311 1864ZM235 1759L250 1772L237 1779ZM898 1532L900 1553L885 1549ZM466 1757L446 1759L450 1745ZM440 1706L419 1703L427 1690ZM892 1725L894 1746L879 1741ZM792 1396L795 1416L780 1412Z"/><g font-family="Liberation Sans, Arial, Helvetica, sans-serif" font-weight="bold" fill="#000"><text transform="translate(0.9 47.6) scale(1.130 1)" font-size="59.8" stroke="#000" stroke-width="2.4">a</text><text transform="translate(1045.8 47.1) scale(1.125 1)" font-size="60.2" stroke="#000" stroke-width="2.4">b</text><text transform="translate(0.8 1178.1) scale(1.211 1)" font-size="60.6" stroke="#000" stroke-width="2.4">c</text><text transform="translate(1062.9 1178.1) scale(1.125 1)" font-size="60.2" stroke="#000" stroke-width="2.4">d</text><text transform="translate(1539.8 1178.1) scale(1.211 1)" font-size="60.6" stroke="#000" stroke-width="2.4">e</text><text transform="translate(1553.0 1618.0) scale(1.224 1)" font-size="61.4" stroke="#000" stroke-width="2.4">f</text></g></svg></body></html>
